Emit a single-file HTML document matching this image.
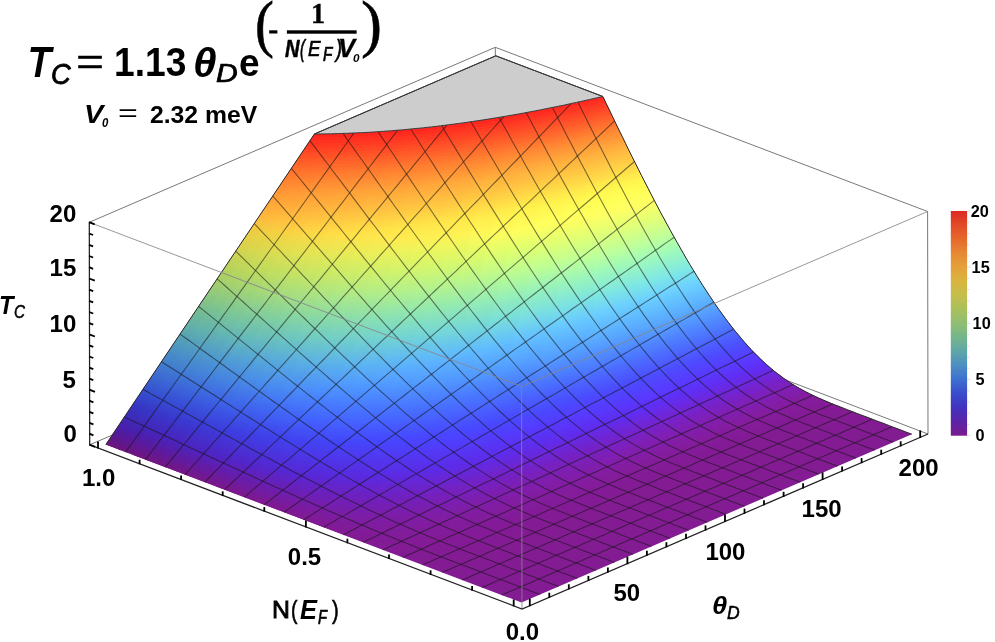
<!DOCTYPE html>
<html><head><meta charset="utf-8"><title>Tc surface</title><style>
html,body{margin:0;padding:0;background:#fff;}
body{width:995px;height:642px;position:relative;overflow:hidden;font-family:"Liberation Sans",sans-serif;color:#000;}
.t{position:absolute;white-space:nowrap;line-height:1;transform-origin:0 0;}
</style></head><body>
<svg width="995" height="642" viewBox="0 0 995 642" style="position:absolute;left:0;top:0">
<g stroke="#6a6a6a" stroke-width="0.9" fill="none">
<line x1="89.7" y1="444.8" x2="495.7" y2="269.8" />
<line x1="928" y1="434" x2="495.7" y2="269.8" />
<line x1="495.7" y1="269.8" x2="495.3" y2="47.3" />
<line x1="89.3" y1="222.3" x2="495.3" y2="47.3" />
<line x1="495.3" y1="47.3" x2="927.6" y2="211.5" />
</g>
<g stroke="none">
<polygon points="105.8,444.6 521.5,602.5 911.9,434.2 908.7,433 905.5,431.8 902.2,430.5 899,429.3 895.8,428.1 892.6,426.9 889.4,425.7 886.2,424.4 883,423.2 879.7,422 876.5,420.8 873.3,419.6 870.1,418.3 866.9,417.1 863.7,415.9 860.5,414.7 857.2,413.5 854,412.2 850.8,411 847.6,409.8 844.4,408.5 841.2,407.3 838,406 834.7,404.8 831.5,403.5 828.3,402.1 825.1,400.8 821.9,399.4 818.7,398 815.5,396.5 812.2,395 809,393.4 805.8,391.8 802.6,390 799.4,388.3 796.2,386.4 792.9,384.4 789.7,382.4 786.5,380.2 783.3,378 780.1,375.6 776.9,373.2 773.6,370.6 770.4,367.9 767.2,365.1 764,362.2 760.8,359.2 757.6,356.1 754.3,352.8 751.1,349.5 747.9,346 744.7,342.4 741.5,338.7 738.3,334.8 735,330.9 731.8,326.8 728.6,322.7 725.4,318.4 722.2,314 718.9,309.5 715.7,304.9 712.5,300.2 709.3,295.4 706.1,290.5 702.8,285.5 699.6,280.4 696.4,275.2 693.2,269.9 689.9,264.6 686.7,259.2 683.5,253.6 680.3,248 677.1,242.4 673.8,236.6 670.6,230.8 667.4,224.9 664.2,219 660.9,213 657.7,206.9 654.5,200.8 651.3,194.6 648.1,188.3 644.8,182 641.6,175.7 638.4,169.3 635.2,162.9 631.9,156.4 628.7,149.9 625.5,143.3 622.3,136.7 619,130.1 615.8,123.4 612.6,116.7 609.4,110 606.1,103.3 602.9,96.5 598.4,97.5 593.9,98.5 589.5,99.5 585.2,100.5 580.9,101.5 576.6,102.4 572.4,103.3 568.3,104.2 564.2,105.1 560.1,105.9 556.1,106.7 552.1,107.5 548.1,108.3 544.3,109.1 540.4,109.9 536.6,110.6 532.8,111.3 529.1,112 525.4,112.7 521.7,113.4 518.1,114.1 514.5,114.7 510.9,115.3 507.4,115.9 503.9,116.5 500.5,117.1 497.1,117.7 493.7,118.2 490.3,118.8 487,119.3 483.7,119.8 480.4,120.3 477.2,120.8 474,121.3 470.8,121.8 467.6,122.2 464.5,122.7 461.4,123.1 458.3,123.5 455.3,123.9 452.2,124.3 449.2,124.7 446.3,125.1 443.3,125.5 440.4,125.8 437.5,126.2 434.6,126.5 431.7,126.9 428.9,127.2 426.1,127.5 423.3,127.8 420.5,128.1 417.7,128.4 415,128.6 412.3,128.9 409.6,129.2 406.9,129.4 404.2,129.7 401.6,129.9 399,130.1 396.4,130.3 393.8,130.6 391.2,130.8 388.6,131 386.1,131.1 383.6,131.3 381.1,131.5 378.6,131.7 376.1,131.8 373.6,132 371.2,132.1 368.8,132.3 366.4,132.4 364,132.5 361.6,132.7 359.2,132.8 356.8,132.9 354.5,133 352.2,133.1 349.9,133.2 347.6,133.3 345.3,133.4 343,133.4 340.7,133.5 338.5,133.6 336.2,133.6 334,133.7 331.8,133.8 329.6,133.8 327.4,133.8 325.2,133.9 323,133.9 320.8,133.9 318.7,134 316.6,134 314.4,134" fill="#831b93"/>
<path fill="#831b94" d="M843.5 408.2L484.9 549.6 509.3 530.3 832.3 403.8zM496.4 546.1L435.6 559.1 442.6 547.7 523.6 525.5zM439.3 559L413 557.1 412.2 549.4 447.7 546.8zM415.3 557.6L395.9 552.8 391.7 546.9 415.1 549.5zM397.8 553.4L380.3 547.8 374.7 542.8 393.9 547.3zM382.2 548.4L365.4 542.5 359.2 538.2 376.7 543.4z"/>
<path fill="#831b93" d="M367.1 543.1L350.6 537.1 344.3 533.3 361 538.8zM352.4 537.7L336 531.7 329.7 528.2 346.1 533.9z"/>
<path fill="#821b93" d="M337.8 532.3L321.4 526.2 315.4 523 331.5 528.8z"/>
<path fill="#821b92" d="M323.2 526.9L306.9 520.7 301.1 517.8 317.1 523.6z"/>
<path fill="#811a92" d="M308.6 521.4L292.4 515.3 287 512.6 302.8 518.4z"/>
<path fill="#801a91" d="M294.1 515.9L277.9 509.8 272.8 507.3 288.7 513.2z"/>
<path fill="#801a90" d="M279.6 510.4L263.4 504.3 258.7 502 274.5 507.9z"/>
<path fill="#7e1a8f" d="M265.1 505L248.9 498.8 244.7 496.7 260.4 502.7zM261.2 503.1L245.3 497.1 242.1 495.1 257.7 500.8z"/>
<path fill="#7d1a8d" d="M250.6 499.5L234.4 493.3 230.6 491.4 246.3 497.4z"/>
<path fill="#7b198b" d="M236.2 494L219.9 487.8 216.5 486.1 232.3 492.1z"/>
<path fill="#7a1989" d="M221.7 488.5L205.5 482.3 202.5 480.8 218.2 486.8z"/>
<path fill="#781987" d="M207.2 483L191 476.8 188.5 475.5 204.2 481.5z"/>
<path fill="#761885" d="M192.7 477.5L176.5 471.3 174.4 470.2 190.1 476.2z"/>
<path fill="#741883" d="M178.2 472L162 465.9 160.4 464.9 176.1 470.9z"/>
<path fill="#721780" d="M163.8 466.5L147.5 460.4 146.4 459.6 162.1 465.6z"/>
<path fill="#70177e" d="M149.3 461L133.1 454.9 132.4 454.3 148.1 460.2z"/>
<path fill="#6d167b" d="M134.8 455.5L118.6 449.4 118.3 449 134 454.9z"/>
<path fill="#6b1679" d="M120.3 450L105.9 444.5 106 444.3 120 449.6z"/>
<path fill="#841b96" d="M834.2 404.5L504.9 533.6 526.8 516.7 824.8 400.7z"/>
<path fill="#831b96" d="M518.8 529L440.9 549.8 450.9 538.3 542.1 511.5z"/>
<path fill="#831b95" d="M445.8 549.1L411.9 550.9 414.8 542.8 456.9 537.1zM414.7 551.1L392.1 548 391.3 541.8 418.2 542.7zM394.3 548.5L375.5 543.8 372.8 538.7 393.8 542.1z"/>
<path fill="#821b95" d="M377.4 544.3L360.1 539 356.4 534.6 374.9 539.1z"/>
<path fill="#821b94" d="M361.9 539.6L345.2 534 341.1 530.1 358.3 535.2zM347 534.6L330.7 528.8 326.4 525.4 342.9 530.7zM332.4 529.4L316.3 523.6 312 520.5 328.2 526z"/>
<path fill="#811b93" d="M318 524.2L302 518.3 297.9 515.5 313.7 521.1z"/>
<path fill="#811b92" d="M303.8 519L287.8 513 283.8 510.4 299.6 516.1z"/>
<path fill="#801a92" d="M289.5 513.7L273.6 507.7 269.9 505.3 285.5 511z"/>
<path fill="#7f1a90" d="M275.3 508.4L259.5 502.4 256 500.2 271.6 505.9z"/>
<path fill="#7c1a8e" d="M247 497.7L231.2 491.8 228.3 489.9 243.8 495.7z"/>
<path fill="#7b198c" d="M232.9 492.4L217.1 486.4 214.5 484.8 230 490.5z"/>
<path fill="#79198a" d="M218.8 487.1L203 481.1 200.8 479.6 216.2 485.4z"/>
<path fill="#771988" d="M204.7 481.8L188.9 475.8 187 474.4 202.4 480.2z"/>
<path fill="#751886" d="M190.6 476.4L174.8 470.4 173.3 469.2 188.7 475z"/>
<path fill="#731883" d="M176.5 471.1L160.7 465.1 159.5 464.1 174.9 469.9z"/>
<path fill="#711781" d="M162.4 465.7L146.6 459.8 145.8 458.9 161.2 464.7z"/>
<path fill="#6f177e" d="M148.3 460.4L132.5 454.4 132.1 453.7 147.4 459.5z"/>
<path fill="#6d167c" d="M134.2 455L118.4 449.1 118.3 448.5 133.7 454.3z"/>
<path fill="#6b167a" d="M120.1 449.7L106 444.4 106.3 443.9 120 449.1z"/>
<path fill="#841c99" d="M826.7 401.5L522.5 520 539.6 506.6 819.3 398.3z"/>
<path fill="#831b98" d="M537.6 514.9L448.7 540.7 458.4 530.7 555.3 501.2z"/>
<path fill="#831b97" d="M454.5 539.5L413.9 544.5 418.2 537.1 465.1 529.1zM417.2 544.5L391.2 543.1 392.3 537.4 422 536.8z"/>
<path fill="#821b97" d="M393.6 543.4L373.1 539.8 372.4 535 395 537.5z"/>
<path fill="#821b96" d="M375.1 540.2L357 535.6 355.2 531.5 374.6 535.4zM358.8 536.1L341.8 531 339.5 527.4 357.2 532z"/>
<path fill="#811b96" d="M343.6 531.5L327.1 526.1 324.5 522.9 341.3 527.9z"/>
<path fill="#811b95" d="M328.9 526.7L312.8 521.1 310 518.2 326.3 523.5z"/>
<path fill="#801b94" d="M314.5 521.7L298.6 516.1 295.9 513.4 311.8 518.8zM300.3 516.7L284.5 511 281.9 508.6 297.6 514z"/>
<path fill="#7f1a93" d="M286.2 511.6L270.6 505.8 268 503.6 283.5 509.1z"/>
<path fill="#7e1a91" d="M272.2 506.5L256.6 500.7 254.2 498.6 269.7 504.2z"/>
<path fill="#7d1a90" d="M258.3 501.3L242.7 495.5 240.5 493.6 255.9 499.2z"/>
<path fill="#7b1a8e" d="M244.4 496.1L228.9 490.3 226.9 488.6 242.2 494.2z"/>
<path fill="#7a198d" d="M230.5 490.9L215 485.1 213.3 483.5 228.5 489.2z"/>
<path fill="#78198b" d="M216.7 485.7L201.2 479.9 199.7 478.5 214.9 484.1z"/>
<path fill="#761989" d="M202.8 480.5L187.3 474.7 186.1 473.4 201.3 479.1z"/>
<path fill="#741886" d="M189 475.3L173.5 469.5 172.5 468.3 187.7 474z"/>
<path fill="#721884" d="M175.2 470.1L159.7 464.3 159 463.3 174.2 469z"/>
<path fill="#701782" d="M161.4 464.9L145.9 459.1 145.5 458.2 160.6 463.9z"/>
<path fill="#6e177f" d="M147.6 459.7L132.1 453.9 131.9 453.1 147.1 458.8z"/>
<path fill="#6c177d" d="M133.8 454.5L118.3 448.6 118.4 448 133.6 453.7z"/>
<path fill="#6a167b" d="M120 449.3L106.2 444.1 106.5 443.5 120.1 448.6z"/>
<path fill="#841c9b" d="M820.9 399L536 509.5 549.9 498.3 814.8 396.2z"/>
<path fill="#831c9a" d="M551.6 504.1L456.2 532.9 465.4 524 565.7 492.8zM462.7 531.4L417.1 538.8 422 531.9 472.5 522.2z"/>
<path fill="#821c99" d="M420.8 538.5L391.9 538.7 394 533.2 426.1 531.5z"/>
<path fill="#821b99" d="M394.6 538.9L372.4 536.1 372.8 531.6 396.9 533.3z"/>
<path fill="#811b98" d="M374.6 536.5L355.5 532.5 354.8 528.6 375.1 531.9zM357.4 532.9L339.9 528.2 338.6 524.8 356.9 529z"/>
<path fill="#811b97" d="M341.7 528.7L325 523.7 323.4 520.6 340.5 525.3z"/>
<path fill="#801b97" d="M326.8 524.2L310.6 518.9 308.8 516.2 325.2 521.1z"/>
<path fill="#7f1b96" d="M312.3 519.5L296.4 514 294.5 511.5 310.5 516.7z"/>
<path fill="#7f1b95" d="M298.1 514.6L282.4 509.1 280.5 506.8 296.2 512.1z"/>
<path fill="#7e1b94" d="M284.1 509.7L268.5 504.1 266.7 502 282.2 507.4z"/>
<path fill="#7d1a93" d="M270.2 504.7L254.7 499.1 253 497.1 268.4 502.6z"/>
<path fill="#7c1a91" d="M256.4 499.7L241 494.1 239.4 492.2 254.7 497.7z"/>
<path fill="#7a1a90" d="M242.6 494.7L227.3 489 225.9 487.3 241 492.8z"/>
<path fill="#791a8e" d="M228.9 489.6L213.6 483.9 212.4 482.4 227.5 487.9z"/>
<path fill="#77198c" d="M215.2 484.5L200 478.8 198.9 477.4 214 483z"/>
<path fill="#75198a" d="M201.6 479.4L186.3 473.7 185.5 472.4 200.5 478z"/>
<path fill="#731888" d="M188 474.3L172.7 468.6 172.1 467.4 187.1 473z"/>
<path fill="#711885" d="M174.4 469.2L159.1 463.5 158.7 462.4 173.7 468z"/>
<path fill="#6f1883" d="M160.8 464.1L145.5 458.4 145.3 457.4 160.3 463z"/>
<path fill="#6d1781" d="M147.2 459L132 453.3 132 452.4 146.9 458z"/>
<path fill="#6b177e" d="M133.6 453.9L118.4 448.2 118.6 447.4 133.6 453z"/>
<path fill="#69167c" d="M120 448.8L106.5 443.7 106.9 443 120.2 448z"/>
<path fill="#841c9e" d="M816.2 396.8L546.8 500.8 558.4 491.2 810.8 394.3z"/>
<path fill="#831c9d" d="M562.6 495.3L463.2 526.1 471.7 517.9 574.2 485.7z"/>
<path fill="#821c9c" d="M470.2 524.3L420.8 533.6 425.8 527.1 479.2 516z"/>
<path fill="#811c9b" d="M424.8 533.1L393.4 534.5 396.1 529.3 430.2 526.5zM396.3 534.6L372.6 532.7 373.7 528.3 399.1 529.2z"/>
<path fill="#811c9a" d="M374.9 533L354.9 529.5 354.9 525.7 376.1 528.5z"/>
<path fill="#801c9a" d="M356.9 529.9L338.8 525.6 338.3 522.3 357.1 526.1z"/>
<path fill="#801b99" d="M340.7 526.1L323.7 521.3 322.7 518.4 340.2 522.7z"/>
<path fill="#7f1b99" d="M325.5 521.9L309.1 516.8 307.9 514.1 324.6 518.9z"/>
<path fill="#7e1b98" d="M310.8 517.4L294.9 512.1 293.6 509.7 309.7 514.6z"/>
<path fill="#7e1b97" d="M296.6 512.7L280.9 507.4 279.6 505.1 295.3 510.2z"/>
<path fill="#7d1b96" d="M282.6 507.9L267.1 502.5 265.8 500.4 281.3 505.6z"/>
<path fill="#7c1b94" d="M268.7 503.1L253.4 497.6 252.1 495.7 267.4 501z"/>
<path fill="#7a1a93" d="M255 498.2L239.7 492.7 238.6 490.9 253.8 496.2z"/>
<path fill="#791a91" d="M241.4 493.3L226.2 487.7 225.1 486 240.2 491.4z"/>
<path fill="#771a8f" d="M227.8 488.3L212.6 482.7 211.7 481.2 226.7 486.6z"/>
<path fill="#76198d" d="M214.2 483.3L199.1 477.7 198.4 476.3 213.3 481.8z"/>
<path fill="#74198b" d="M200.7 478.3L185.7 472.7 185.1 471.4 200 476.9z"/>
<path fill="#721989" d="M187.3 473.3L172.2 467.7 171.8 466.5 186.7 472z"/>
<path fill="#701887" d="M173.8 468.3L158.8 462.7 158.5 461.6 173.4 467.1z"/>
<path fill="#6e1884" d="M160.4 463.3L145.4 457.7 145.3 456.7 160.1 462.2z"/>
<path fill="#6c1782" d="M147 458.3L132 452.6 132.1 451.7 146.9 457.3z"/>
<path fill="#6a1780" d="M133.6 453.3L118.6 447.6 118.9 446.8 133.7 452.3z"/>
<path fill="#68167d" d="M120.2 448.2L106.8 443.2 107.3 442.5 120.5 447.4z"/>
<path fill="#841da2" d="M812 394.9L555.8 493.4 565.7 484.8 807.2 392.5z"/>
<path fill="#821da0" d="M571.6 487.9L469.7 519.8 477.6 512.3 581.4 479.3z"/>
<path fill="#811c9f" d="M477.1 517.9L424.6 528.6 429.6 522.5 485.3 510.2z"/>
<path fill="#811c9e" d="M428.9 528.1L395.4 530.5 398.3 525.5 434.2 521.8z"/>
<path fill="#801c9d" d="M398.4 530.5L373.3 529.4 374.8 525.1 401.6 525.3zM375.7 529.6L354.9 526.7 355.4 522.9 377.4 525.2z"/>
<path fill="#7f1c9c" d="M357 527L338.3 523.1 338.3 519.8 357.6 523.3zM340.2 523.6L322.9 519.1 322.4 516.1 340.2 520.2z"/>
<path fill="#7e1c9b" d="M324.7 519.6L308.2 514.8 307.5 512.1 324.3 516.6z"/>
<path fill="#7d1b9a" d="M309.9 515.3L293.9 510.3 293 507.8 309.2 512.6z"/>
<path fill="#7c1b99" d="M295.6 510.8L279.9 505.6 278.9 503.4 294.7 508.3z"/>
<path fill="#7b1b98" d="M281.5 506.2L266 500.9 265.1 498.8 280.6 503.9z"/>
<path fill="#7a1b96" d="M267.7 501.5L252.4 496.1 251.5 494.2 266.8 499.4z"/>
<path fill="#791b95" d="M254 496.7L238.8 491.3 238 489.5 253.1 494.7z"/>
<path fill="#781a93" d="M240.4 491.9L225.3 486.4 224.6 484.8 239.6 490.1z"/>
<path fill="#761a91" d="M226.9 487L211.9 481.6 211.3 480 226.2 485.3z"/>
<path fill="#741a8f" d="M213.5 482.2L198.5 476.7 198 475.2 212.9 480.6z"/>
<path fill="#73198d" d="M200.1 477.3L185.2 471.7 184.8 470.4 199.6 475.8z"/>
<path fill="#71198b" d="M186.8 472.3L171.9 466.8 171.6 465.6 186.4 471z"/>
<path fill="#6f1888" d="M173.5 467.4L158.6 461.9 158.5 460.7 173.2 466.1z"/>
<path fill="#6d1886" d="M160.2 462.5L145.3 456.9 145.4 455.9 160.1 461.3z"/>
<path fill="#6b1784" d="M146.9 457.5L132 452 132.3 451 146.9 456.4z"/>
<path fill="#691781" d="M133.6 452.6L118.8 447 119.2 446.1 133.8 451.6z"/>
<path fill="#67177f" d="M120.4 447.6L107.1 442.6 107.7 441.8 120.7 446.7z"/>
<path fill="#831da5" d="M808.4 393.1L563.4 486.8 572.1 479.1 804 390.8z"/>
<path fill="#821da3" d="M579.2 481.3L475.7 514.1 483.1 507.1 587.7 473.6z"/>
<path fill="#811da2" d="M483.4 512.1L428.4 524 433.4 518.1 491 504.9z"/>
<path fill="#801da1" d="M432.9 523.3L397.6 526.7 400.7 521.8 438.2 517.3z"/>
<path fill="#7f1ca0" d="M400.7 526.6L374.4 526.1 376.3 521.9 404.1 521.6z"/>
<path fill="#7e1ca0" d="M376.9 526.3L355.2 523.9 356.2 520.2 378.9 522z"/>
<path fill="#7e1c9f" d="M357.4 524.2L338.2 520.6 338.5 517.4 358.4 520.5z"/>
<path fill="#7d1c9e" d="M340.2 521.1L322.5 516.9 322.4 513.9 340.6 517.7z"/>
<path fill="#7d1c9d" d="M324.3 517.3L307.6 512.8 307.2 510.1 324.3 514.4z"/>
<path fill="#7c1c9c" d="M309.3 513.3L293.2 508.4 292.7 506 309 510.6z"/>
<path fill="#7b1c9b" d="M294.9 508.9L279.1 503.9 278.5 501.7 294.4 506.5z"/>
<path fill="#7a1b9a" d="M280.8 504.5L265.3 499.3 264.7 497.2 280.2 502.2z"/>
<path fill="#791b98" d="M267 499.9L251.7 494.7 251.1 492.7 266.3 497.8z"/>
<path fill="#781b97" d="M253.3 495.2L238.2 489.9 237.6 488.1 252.7 493.2z"/>
<path fill="#761a95" d="M239.8 490.5L224.7 485.2 224.2 483.5 239.2 488.7z"/>
<path fill="#751a93" d="M226.4 485.8L211.4 480.4 211 478.8 225.8 484z"/>
<path fill="#731a91" d="M213 481L198.1 475.6 197.8 474.1 212.6 479.3z"/>
<path fill="#71198f" d="M199.7 476.1L184.9 470.7 184.6 469.3 199.4 474.6z"/>
<path fill="#6f198c" d="M186.5 471.3L171.7 465.9 171.6 464.6 186.2 469.9z"/>
<path fill="#6e198a" d="M173.2 466.5L158.5 461 158.5 459.8 173.1 465.1z"/>
<path fill="#6c1888" d="M160.1 461.6L145.3 456.1 145.5 455 160.1 460.4z"/>
<path fill="#6a1885" d="M146.9 456.7L132.2 451.2 132.5 450.2 147.1 455.6z"/>
<path fill="#681783" d="M133.8 451.8L119.1 446.4 119.5 445.4 134.1 450.8z"/>
<path fill="#661781" d="M120.6 446.9L107.5 442 108.1 441.2 121.1 446z"/>
<path fill="#821ea9" d="M805 391.4L570.1 480.9 577.7 473.8 800.9 389.1z"/>
<path fill="#811da7" d="M585.7 475.5L481.3 508.8 488.2 502.1 593.1 468.4z"/>
<path fill="#801da5" d="M489.2 506.6L432.2 519.5 437.1 513.8 496.3 499.9z"/>
<path fill="#7f1da4" d="M436.9 518.7L399.9 523 403.2 518.2 442.1 512.9z"/>
<path fill="#7e1da3" d="M403.2 522.8L375.8 523 377.8 518.8 406.7 517.9z"/>
<path fill="#7d1da2" d="M378.4 523.1L355.9 521.1 357.1 517.4 380.6 518.9zM358.1 521.4L338.4 518.2 339 514.9 359.4 517.7z"/>
<path fill="#7c1ca1" d="M340.4 518.6L322.4 514.7 322.6 511.7 341.1 515.3z"/>
<path fill="#7b1ca0" d="M324.3 515.1L307.3 510.7 307.2 508.1 324.5 512.1z"/>
<path fill="#7a1c9f" d="M309.1 511.2L292.8 506.6 292.5 504.1 309 508.5z"/>
<path fill="#791c9d" d="M294.5 507.1L278.6 502.2 278.3 499.9 294.3 504.6z"/>
<path fill="#781c9c" d="M280.3 502.8L264.8 497.8 264.4 495.6 280 500.4z"/>
<path fill="#771b9b" d="M266.5 498.3L251.2 493.2 250.8 491.2 266.1 496.1z"/>
<path fill="#761b99" d="M252.8 493.7L237.7 488.6 237.3 486.7 252.4 491.7z"/>
<path fill="#751b97" d="M239.3 489.1L224.3 483.9 224 482.1 238.9 487.2z"/>
<path fill="#731a95" d="M225.9 484.5L211.1 479.2 210.8 477.5 225.6 482.7z"/>
<path fill="#711a93" d="M212.6 479.8L197.8 474.4 197.7 472.9 212.4 478.1z"/>
<path fill="#701a91" d="M199.4 475L184.7 469.7 184.6 468.2 199.2 473.5z"/>
<path fill="#6e198e" d="M186.3 470.3L171.6 464.9 171.6 463.6 186.2 468.8z"/>
<path fill="#6c198c" d="M173.1 465.5L158.5 460.1 158.6 458.8 173.1 464.1z"/>
<path fill="#6a188a" d="M160.1 460.7L145.4 455.3 145.7 454.1 160.2 459.4z"/>
<path fill="#681887" d="M147 455.9L132.4 450.5 132.8 449.4 147.2 454.7z"/>
<path fill="#661785" d="M134 451.1L119.4 445.7 119.9 444.6 134.3 450z"/>
<path fill="#651782" d="M121 446.2L108 441.4 108.6 440.5 121.5 445.2z"/>
<path fill="#811ead" d="M801.9 389.7L575.9 475.5 582.7 468.9 798.1 387.5z"/>
<path fill="#801eab" d="M591.4 470.1L486.5 503.7 493 497.4 598 463.6z"/>
<path fill="#7f1ea9" d="M494.6 501.5L435.9 515.2 440.7 509.8 501.2 495.1z"/>
<path fill="#7e1da8" d="M440.8 514.4L402.4 519.4 405.7 514.6 445.8 508.8z"/>
<path fill="#7d1da6" d="M405.8 519.1L377.3 519.8 379.5 515.7 409.3 514.3z"/>
<path fill="#7c1da5" d="M380 519.9L356.8 518.4 358.2 514.7 382.4 515.7z"/>
<path fill="#7b1da5" d="M359.1 518.6L338.9 515.7 339.7 512.5 360.6 514.9z"/>
<path fill="#7a1da4" d="M340.9 516.1L322.5 512.5 323 509.5 341.8 512.8z"/>
<path fill="#7a1da2" d="M324.4 512.9L307.2 508.7 307.4 506 324.9 509.9z"/>
<path fill="#791ca1" d="M309 509.2L292.5 504.7 292.5 502.2 309.2 506.5z"/>
<path fill="#781ca0" d="M294.3 505.2L278.4 500.5 278.2 498.2 294.3 502.7z"/>
<path fill="#771c9f" d="M280 501L264.5 496.2 264.3 494 279.9 498.7z"/>
<path fill="#761c9d" d="M266.1 496.7L250.9 491.7 250.6 489.7 265.9 494.5z"/>
<path fill="#741b9b" d="M252.5 492.2L237.4 487.2 237.2 485.3 252.3 490.2z"/>
<path fill="#731b99" d="M239 487.7L224.1 482.6 223.9 480.8 238.8 485.8z"/>
<path fill="#711b97" d="M225.7 483.1L210.8 478 210.7 476.3 225.5 481.3z"/>
<path fill="#701a95" d="M212.4 478.5L197.7 473.3 197.6 471.7 212.3 476.8z"/>
<path fill="#6e1a93" d="M199.3 473.9L184.6 468.6 184.6 467.1 199.2 472.3z"/>
<path fill="#6c1991" d="M186.2 469.2L171.6 463.9 171.7 462.5 186.2 467.7z"/>
<path fill="#6a198e" d="M173.1 464.5L158.6 459.2 158.8 457.9 173.2 463.1z"/>
<path fill="#69198c" d="M160.1 459.7L145.6 454.4 145.9 453.2 160.3 458.4z"/>
<path fill="#671889" d="M147.2 455L132.7 449.7 133.1 448.5 147.5 453.8z"/>
<path fill="#651887" d="M134.2 450.2L119.8 444.9 120.3 443.8 134.7 449.1z"/>
<path fill="#631784" d="M121.3 445.5L108.4 440.7 109.1 439.7 121.9 444.4z"/>
<path fill="#801fb1" d="M799 388.1L581.1 470.5 587.3 464.4 795.4 386z"/>
<path fill="#7f1eae" d="M596.4 465.2L491.4 499 497.5 492.9 602.3 459.1z"/>
<path fill="#7d1ead" d="M499.6 496.7L439.5 511.1 444.2 505.8 505.8 490.6z"/>
<path fill="#7c1eab" d="M444.6 510.2L404.9 515.8 408.3 511.2 449.5 504.7z"/>
<path fill="#7b1eaa" d="M408.5 515.5L379 516.8 381.3 512.7 412 510.8z"/>
<path fill="#7a1da9" d="M381.8 516.8L357.8 515.6 359.4 512 384.2 512.6z"/>
<path fill="#7a1da8" d="M360.2 515.8L339.5 513.3 340.5 510.1 361.9 512.2z"/>
<path fill="#791da7" d="M341.6 513.6L322.8 510.3 323.5 507.3 342.7 510.3z"/>
<path fill="#781da5" d="M324.8 510.7L307.3 506.7 307.7 504 325.4 507.7z"/>
<path fill="#771da4" d="M309.1 507.2L292.5 502.9 292.7 500.3 309.5 504.4z"/>
<path fill="#761ca3" d="M294.3 503.3L278.2 498.8 278.3 496.4 294.4 500.8z"/>
<path fill="#751ca1" d="M279.9 499.3L264.3 494.5 264.3 492.4 280 496.9z"/>
<path fill="#741ca0" d="M266 495.1L250.7 490.2 250.6 488.1 266 492.9z"/>
<path fill="#731c9e" d="M252.3 490.7L237.2 485.8 237.2 483.8 252.2 488.7z"/>
<path fill="#711b9c" d="M238.8 486.3L223.9 481.3 223.9 479.4 238.8 484.4z"/>
<path fill="#701b9a" d="M225.5 481.8L210.7 476.7 210.7 475 225.5 480z"/>
<path fill="#6e1a98" d="M212.3 477.3L197.6 472.1 197.7 470.5 212.3 475.5z"/>
<path fill="#6c1a95" d="M199.2 472.7L184.6 467.5 184.7 466 199.3 471.1z"/>
<path fill="#6b1a93" d="M186.2 468.1L171.7 462.9 171.9 461.4 186.3 466.5z"/>
<path fill="#691990" d="M173.2 463.4L158.7 458.2 159 456.8 173.4 462z"/>
<path fill="#67198e" d="M160.3 458.8L145.9 453.5 146.3 452.2 160.6 457.4z"/>
<path fill="#65188b" d="M147.4 454.1L133 448.8 133.5 447.6 147.8 452.8z"/>
<path fill="#631889" d="M134.5 449.4L120.2 444.1 120.8 443 135 448.2z"/>
<path fill="#621887" d="M121.7 444.7L108.9 440 109.6 438.9 122.3 443.6z"/>
<path fill="#7f1fb5" d="M796.3 386.5L585.8 465.9 591.3 460 792.9 384.4z"/>
<path fill="#7d1fb2" d="M600.9 460.6L496 494.4 501.7 488.6 606.1 454.9z"/>
<path fill="#7c1fb0" d="M504.3 492.1L443.1 507.1 447.7 501.9 510.1 486.2z"/>
<path fill="#7b1eaf" d="M448.3 506.1L407.4 512.3 410.8 507.8 453 500.8z"/>
<path fill="#7a1ead" d="M411.1 512L380.7 513.7 383.2 509.7 414.7 507.3z"/>
<path fill="#791eac" d="M383.6 513.7L359 512.9 360.7 509.3 386.2 509.6z"/>
<path fill="#781eab" d="M361.4 513.1L340.2 510.9 341.4 507.6 363.2 509.5z"/>
<path fill="#771eaa" d="M342.4 511.2L323.3 508 324.1 505.1 343.6 507.9z"/>
<path fill="#761da9" d="M325.2 508.4L307.5 504.7 308.1 501.9 326.1 505.4z"/>
<path fill="#751da7" d="M309.4 505.1L292.6 501 292.9 498.4 309.9 502.3z"/>
<path fill="#741da6" d="M294.4 501.4L278.2 497 278.4 494.7 294.7 498.9z"/>
<path fill="#731da4" d="M279.9 497.5L264.3 492.9 264.4 490.7 280.2 495.1z"/>
<path fill="#721ca2" d="M265.9 493.4L250.6 488.7 250.7 486.6 266.1 491.2z"/>
<path fill="#711ca1" d="M252.2 489.2L237.2 484.3 237.2 482.4 252.3 487.1z"/>
<path fill="#6f1c9e" d="M238.8 484.8L223.9 479.9 224 478.1 238.8 482.9z"/>
<path fill="#6e1b9c" d="M225.5 480.4L210.7 475.4 210.8 473.7 225.5 478.6z"/>
<path fill="#6c1b9a" d="M212.3 476L197.7 470.9 197.8 469.3 212.4 474.2z"/>
<path fill="#6b1a98" d="M199.2 471.5L184.7 466.4 184.9 464.8 199.4 469.8z"/>
<path fill="#691a95" d="M186.3 466.9L171.8 461.8 172.1 460.3 186.5 465.3z"/>
<path fill="#671a93" d="M173.3 462.3L159 457.2 159.3 455.8 173.6 460.9z"/>
<path fill="#651990" d="M160.5 457.7L146.1 452.6 146.6 451.3 160.9 456.3z"/>
<path fill="#64198e" d="M147.7 453.1L133.4 447.9 133.9 446.7 148.1 451.8z"/>
<path fill="#62188b" d="M134.9 448.5L120.6 443.3 121.3 442.1 135.5 447.2z"/>
<path fill="#601889" d="M122.2 443.8L109.5 439.2 110.2 438.1 122.8 442.7z"/>
<path fill="#7e20b9" d="M793.7 384.9L590 461.5 595 456 790.5 382.9z"/>
<path fill="#7c20b6" d="M604.9 456.3L500.3 490.1 505.7 484.5 609.6 450.9z"/>
<path fill="#7a1fb4" d="M508.7 487.7L446.5 503.2 451 498.2 514.1 482.1z"/>
<path fill="#791fb3" d="M451.8 502.1L410 508.9 413.4 504.4 456.4 497z"/>
<path fill="#781fb1" d="M413.8 508.5L382.5 510.7 385.1 506.7 417.3 503.9z"/>
<path fill="#771eb0" d="M385.5 510.6L360.3 510.2 362.1 506.6 388.1 506.6z"/>
<path fill="#761eae" d="M362.7 510.4L341.1 508.5 342.4 505.2 364.7 506.7z"/>
<path fill="#751ead" d="M343.3 508.7L323.9 505.8 324.8 502.8 344.7 505.4z"/>
<path fill="#751eac" d="M325.9 506.2L307.9 502.6 308.6 499.9 326.8 503.2z"/>
<path fill="#741daa" d="M309.8 503L292.8 499.1 293.3 496.5 310.5 500.3z"/>
<path fill="#731da9" d="M294.6 499.5L278.4 495.3 278.7 492.9 295.1 496.9z"/>
<path fill="#711da7" d="M280.1 495.7L264.4 491.3 264.6 489 280.4 493.3z"/>
<path fill="#701da5" d="M266 491.8L250.7 487.1 250.9 485 266.3 489.5z"/>
<path fill="#6f1ca3" d="M252.3 487.6L237.2 482.9 237.4 480.9 252.5 485.5z"/>
<path fill="#6d1ca1" d="M238.8 483.4L223.9 478.5 224.1 476.6 239 481.4z"/>
<path fill="#6c1b9f" d="M225.5 479.1L210.8 474.1 211 472.3 225.7 477.2z"/>
<path fill="#6a1b9d" d="M212.4 474.7L197.8 469.7 198 468 212.6 472.9z"/>
<path fill="#691b9a" d="M199.3 470.2L184.9 465.2 185.2 463.6 199.6 468.5z"/>
<path fill="#671a98" d="M186.4 465.7L172 460.7 172.4 459.2 186.7 464.1z"/>
<path fill="#651a95" d="M173.5 461.2L159.2 456.2 159.7 454.7 173.9 459.7z"/>
<path fill="#641993" d="M160.8 456.7L146.5 451.6 147 450.2 161.2 455.2z"/>
<path fill="#621990" d="M148 452.1L133.8 447 134.4 445.7 148.5 450.8z"/>
<path fill="#60188e" d="M135.3 447.6L121.1 442.4 121.8 441.2 135.9 446.3z"/>
<path fill="#5e188b" d="M122.6 443L110 438.4 110.8 437.2 123.3 441.7z"/>
<path fill="#7c21bd" d="M791.3 383.4L593.8 457.3 598.4 452 788.1 381.3z"/>
<path fill="#7a20bb" d="M608.5 452.2L504.4 485.9 509.5 480.5 612.8 447z"/>
<path fill="#7920b8" d="M512.8 483.5L449.9 499.4 454.2 494.5 518 478.1z"/>
<path fill="#771fb7" d="M455.3 498.3L412.5 505.6 415.9 501.1 459.7 493.3z"/>
<path fill="#761fb5" d="M416.4 505.1L384.4 507.7 387 503.7 419.9 500.6z"/>
<path fill="#751fb3" d="M387.5 507.6L361.6 507.6 363.6 504 390.1 503.6z"/>
<path fill="#741fb2" d="M364.2 507.7L342.1 506 343.5 502.7 366.2 504z"/>
<path fill="#741eb1" d="M344.3 506.3L324.6 503.6 325.6 500.6 345.8 502.9z"/>
<path fill="#731eaf" d="M326.6 503.9L308.4 500.6 309.2 497.8 327.7 500.9z"/>
<path fill="#721eae" d="M310.3 501L293.2 497.2 293.8 494.6 311.1 498.2z"/>
<path fill="#711eac" d="M295 497.6L278.6 493.5 279.1 491.1 295.6 495z"/>
<path fill="#6f1daa" d="M280.3 493.9L264.5 489.6 264.9 487.3 280.8 491.5z"/>
<path fill="#6e1da8" d="M266.2 490.1L250.8 485.5 251.1 483.4 266.6 487.8z"/>
<path fill="#6d1da6" d="M252.4 486L237.3 481.4 237.6 479.3 252.7 483.9z"/>
<path fill="#6b1ca4" d="M238.9 481.9L224.1 477.1 224.3 475.2 239.2 479.8z"/>
<path fill="#6a1ca2" d="M225.6 477.6L210.9 472.8 211.2 471 225.9 475.7z"/>
<path fill="#681ba0" d="M212.5 473.3L198 468.4 198.3 466.7 212.8 471.5z"/>
<path fill="#671b9d" d="M199.5 469L185.1 464 185.5 462.4 199.8 467.2z"/>
<path fill="#651b9b" d="M186.6 464.5L172.3 459.6 172.7 458 187 462.9z"/>
<path fill="#631a98" d="M173.8 460.1L159.5 455.1 160 453.6 174.2 458.5z"/>
<path fill="#621a95" d="M161.1 455.6L146.9 450.6 147.4 449.2 161.6 454.1z"/>
<path fill="#601993" d="M148.4 451.1L134.2 446.1 134.9 444.7 148.9 449.7z"/>
<path fill="#5e1990" d="M135.7 446.6L121.6 441.5 122.4 440.2 136.4 445.2z"/>
<path fill="#5d188e" d="M123.1 442.1L110.6 437.5 111.4 436.3 123.9 440.8z"/>
<path fill="#7a21c2" d="M788.9 381.8L597.3 453.4 601.5 448.3 785.9 379.8z"/>
<path fill="#7821bf" d="M611.7 448.3L508.3 481.8 513.1 476.6 615.7 443.4z"/>
<path fill="#7720bd" d="M516.7 479.4L453.1 495.7 457.3 490.9 521.6 474.2z"/>
<path fill="#7620bb" d="M458.6 494.5L415.1 502.2 418.5 497.9 462.9 489.6z"/>
<path fill="#7420b9" d="M419 501.7L386.3 504.7 389 500.8 422.5 497.3z"/>
<path fill="#731fb7" d="M389.5 504.6L363.1 504.9 365.1 501.3 392.2 500.6z"/>
<path fill="#721fb6" d="M365.7 504.9L343.1 503.6 344.7 500.3 367.7 501.3z"/>
<path fill="#721fb4" d="M345.4 503.8L325.3 501.4 326.5 498.3 347 500.5z"/>
<path fill="#711fb3" d="M327.4 501.7L309 498.5 309.9 495.7 328.6 498.6z"/>
<path fill="#701eb1" d="M310.9 498.9L293.6 495.2 294.3 492.6 311.8 496z"/>
<path fill="#6e1eaf" d="M295.4 495.7L278.9 491.7 279.5 489.2 296.1 493z"/>
<path fill="#6d1eae" d="M280.7 492.1L264.8 487.9 265.3 485.6 281.3 489.6z"/>
<path fill="#6c1dac" d="M266.5 488.4L251 483.9 251.4 481.8 266.9 486z"/>
<path fill="#6b1da9" d="M252.6 484.4L237.5 479.9 237.9 477.8 253.1 482.2z"/>
<path fill="#691da7" d="M239.1 480.4L224.3 475.7 224.6 473.7 239.5 478.3z"/>
<path fill="#681ca5" d="M225.8 476.2L211.2 471.4 211.5 469.6 226.2 474.2z"/>
<path fill="#661ca2" d="M212.7 472L198.2 467.1 198.6 465.4 213.1 470.1z"/>
<path fill="#651ba0" d="M199.7 467.7L185.3 462.8 185.8 461.1 200.1 465.9z"/>
<path fill="#631b9d" d="M186.9 463.3L172.6 458.4 173.1 456.8 187.3 461.6z"/>
<path fill="#611a9b" d="M174.1 458.9L159.9 454 160.5 452.5 174.6 457.3z"/>
<path fill="#601a98" d="M161.4 454.5L147.3 449.5 147.9 448.1 162 453z"/>
<path fill="#5e1a95" d="M148.8 450.1L134.7 445.1 135.4 443.7 149.4 448.6z"/>
<path fill="#5c1993" d="M136.2 445.6L122.2 440.6 123 439.3 136.9 444.2z"/>
<path fill="#5b1990" d="M123.7 441.1L111.2 436.6 112 435.3 124.4 439.8z"/>
<path fill="#7822c6" d="M786.7 380.3L600.5 449.6 604.4 444.7 783.7 378.3z"/>
<path fill="#7621c3" d="M614.7 444.6L511.9 477.9 516.5 472.9 618.3 439.9z"/>
<path fill="#7521c1" d="M520.4 475.5L456.3 492.1 460.4 487.3 525 470.4z"/>
<path fill="#7420bf" d="M461.9 490.9L417.6 499 421 494.6 466 486.1z"/>
<path fill="#7220bd" d="M421.6 498.4L388.3 501.8 391 497.8 425.1 494z"/>
<path fill="#7120bb" d="M391.5 501.6L364.6 502.2 366.6 498.6 394.2 497.6z"/>
<path fill="#7020ba" d="M367.2 502.2L344.3 501.1 345.9 497.8 369.3 498.6z"/>
<path fill="#6f1fb8" d="M346.6 501.3L326.2 499.1 327.5 496.1 348.2 498z"/>
<path fill="#6e1fb6" d="M328.3 499.4L309.6 496.4 310.6 493.6 329.6 496.3z"/>
<path fill="#6d1fb5" d="M311.6 496.8L294.1 493.3 294.9 490.7 312.6 493.9z"/>
<path fill="#6c1eb3" d="M295.9 493.7L279.4 489.9 280 487.4 296.8 491z"/>
<path fill="#6b1eb1" d="M281.1 490.3L265.1 486.2 265.7 483.8 281.8 487.8z"/>
<path fill="#6a1eaf" d="M266.8 486.6L251.3 482.3 251.8 480.1 267.4 484.3z"/>
<path fill="#691dad" d="M252.9 482.8L237.8 478.3 238.3 476.2 253.5 480.6z"/>
<path fill="#671daa" d="M239.4 478.8L224.5 474.2 225 472.2 239.9 476.7z"/>
<path fill="#661da8" d="M226.1 474.7L211.4 470.1 211.9 468.2 226.6 472.7z"/>
<path fill="#641ca5" d="M213 470.6L198.5 465.8 199 464 213.4 468.7z"/>
<path fill="#631ca3" d="M200 466.3L185.7 461.5 186.2 459.8 200.5 464.5z"/>
<path fill="#611ba0" d="M187.2 462.1L173 457.2 173.5 455.6 187.7 460.3z"/>
<path fill="#5f1b9e" d="M174.5 457.7L160.3 452.8 160.9 451.3 175 456.1z"/>
<path fill="#5e1a9b" d="M161.8 453.4L147.7 448.5 148.4 447 162.4 451.8z"/>
<path fill="#5c1a98" d="M149.2 449L135.2 444 136 442.6 149.9 447.5z"/>
<path fill="#5b1996" d="M136.7 444.6L122.8 439.6 123.6 438.2 137.4 443.1z"/>
<path fill="#591993" d="M124.2 440.1L111.8 435.7 112.7 434.4 125 438.8z"/>
<path fill="#7623cb" d="M784.5 378.8L603.4 445.9 607 441.2 781.6 376.8z"/>
<path fill="#7422c8" d="M617.4 441L515.4 474.1 519.8 469.2 620.7 436.5z"/>
<path fill="#7322c5" d="M523.8 471.7L459.4 488.5 463.4 483.9 528.2 466.7z"/>
<path fill="#7222c3" d="M465 487.3L420.1 495.7 423.4 491.4 469.1 482.6z"/>
<path fill="#7021c1" d="M424.2 495.1L390.3 498.8 393 494.9 427.6 490.8z"/>
<path fill="#6f21bf" d="M393.5 498.6L366.1 499.5 368.2 495.9 396.3 494.7z"/>
<path fill="#6e21bd" d="M368.8 499.5L345.5 498.7 347.2 495.4 371 495.9z"/>
<path fill="#6d20bc" d="M347.8 498.8L327.1 496.8 328.5 493.8 349.5 495.5z"/>
<path fill="#6c20ba" d="M329.2 497.1L310.4 494.3 311.5 491.5 330.6 494z"/>
<path fill="#6b20b8" d="M312.3 494.6L294.7 491.3 295.6 488.7 313.4 491.8z"/>
<path fill="#6a1fb6" d="M296.6 491.7L279.8 488 280.6 485.5 297.5 489z"/>
<path fill="#691fb4" d="M281.6 488.4L265.5 484.4 266.2 482.1 282.4 485.9z"/>
<path fill="#681fb2" d="M267.2 484.9L251.7 480.7 252.2 478.4 267.9 482.5z"/>
<path fill="#661eb0" d="M253.3 481.1L238.1 476.8 238.7 474.6 253.9 478.9z"/>
<path fill="#651ead" d="M239.7 477.2L224.8 472.8 225.4 470.7 240.3 475.1z"/>
<path fill="#641dab" d="M226.4 473.2L211.8 468.7 212.3 466.7 226.9 471.2z"/>
<path fill="#621da8" d="M213.3 469.1L198.8 464.5 199.4 462.6 213.8 467.2z"/>
<path fill="#611da6" d="M200.4 465L186 460.3 186.6 458.5 200.9 463.1z"/>
<path fill="#5f1ca3" d="M187.6 460.8L173.4 456 174 454.3 188.1 459z"/>
<path fill="#5d1ca0" d="M174.9 456.5L160.8 451.7 161.4 450.1 175.5 454.8z"/>
<path fill="#5c1b9e" d="M162.3 452.2L148.2 447.3 148.9 445.8 162.9 450.6z"/>
<path fill="#5a1b9b" d="M149.7 447.9L135.8 443 136.5 441.5 150.4 446.3z"/>
<path fill="#591a98" d="M137.3 443.5L123.3 438.6 124.2 437.2 138 442z"/>
<path fill="#571a95" d="M124.8 439.1L112.5 434.7 113.4 433.4 125.7 437.7z"/>
<path fill="#7424cf" d="M782.3 377.3L606.1 442.4 609.4 437.9 779.6 375.3z"/>
<path fill="#7224cc" d="M619.9 437.6L518.7 470.4 522.9 465.6 623 433.2z"/>
<path fill="#7123c9" d="M527.1 467.9L462.3 485 466.2 480.4 531.3 463.1z"/>
<path fill="#7023c7" d="M468 483.8L422.6 492.5 425.9 488.3 472 479.1z"/>
<path fill="#6e22c5" d="M426.8 491.9L392.3 495.9 395 492 430.1 487.6z"/>
<path fill="#6d22c3" d="M395.6 495.7L367.7 496.8 369.9 493.3 398.3 491.7z"/>
<path fill="#6c22c1" d="M370.4 496.8L346.7 496.2 348.5 492.9 372.6 493.2z"/>
<path fill="#6b21bf" d="M349.1 496.4L328.1 494.6 329.6 491.5 350.9 493z"/>
<path fill="#6a21be" d="M330.3 494.8L311.2 492.2 312.4 489.3 331.7 491.7z"/>
<path fill="#6921bc" d="M313.1 492.5L295.4 489.3 296.3 486.6 314.3 489.6z"/>
<path fill="#6820ba" d="M297.2 489.7L280.4 486.1 281.2 483.6 298.2 487z"/>
<path fill="#6720b8" d="M282.2 486.5L266 482.7 266.7 480.3 283 484z"/>
<path fill="#6620b5" d="M267.7 483.1L252.1 479 252.7 476.7 268.4 480.7z"/>
<path fill="#641fb3" d="M253.7 479.4L238.5 475.2 239.1 473 254.4 477.1z"/>
<path fill="#631fb1" d="M240.1 475.6L225.2 471.2 225.8 469.2 240.7 473.5z"/>
<path fill="#611eae" d="M226.8 471.7L212.1 467.2 212.7 465.2 227.4 469.6z"/>
<path fill="#601eab" d="M213.7 467.7L199.2 463.1 199.8 461.2 214.3 465.7z"/>
<path fill="#5f1da9" d="M200.8 463.6L186.5 458.9 187.1 457.1 201.4 461.7z"/>
<path fill="#5d1da6" d="M188 459.5L173.8 454.7 174.5 453 188.6 457.6z"/>
<path fill="#5b1ca3" d="M175.3 455.2L161.2 450.5 161.9 448.8 176 453.5z"/>
<path fill="#5a1ca0" d="M162.7 451L148.8 446.2 149.5 444.6 163.4 449.3z"/>
<path fill="#581b9e" d="M150.2 446.7L136.3 441.9 137.1 440.4 151 445.1z"/>
<path fill="#571b9b" d="M137.8 442.4L124 437.5 124.8 436.1 138.6 440.9z"/>
<path fill="#551b98" d="M125.5 438.1L113.1 433.7 114.1 432.3 126.3 436.6z"/>
<path fill="#7225d4" d="M780.3 375.8L608.6 439 611.7 434.6 777.6 373.7z"/>
<path fill="#7025d1" d="M622.2 434.3L521.8 466.8 525.8 462.1 625 430z"/>
<path fill="#6f24ce" d="M530.3 464.3L465.2 481.6 469 477.1 534.2 459.6z"/>
<path fill="#6d24cb" d="M471 480.3L425 489.3 428.3 485.1 474.8 475.7z"/>
<path fill="#6c23c9" d="M429.3 488.7L394.3 493 397 489.1 432.6 484.4z"/>
<path fill="#6b23c7" d="M397.6 492.7L369.3 494.2 371.5 490.6 400.4 488.8z"/>
<path fill="#6a23c5" d="M372.1 494.1L348 493.7 349.8 490.4 374.3 490.5z"/>
<path fill="#6922c3" d="M350.4 493.9L329.2 492.3 330.7 489.2 352.3 490.5z"/>
<path fill="#6822c1" d="M331.3 492.5L312 490.1 313.3 487.2 332.9 489.4z"/>
<path fill="#6722bf" d="M314 490.4L296.1 487.3 297.1 484.6 315.3 487.4z"/>
<path fill="#6621bd" d="M298 487.7L281 484.2 281.9 481.7 299 484.9z"/>
<path fill="#6521bb" d="M282.8 484.6L266.5 480.9 267.3 478.4 283.7 482z"/>
<path fill="#6321b9" d="M268.2 481.3L252.6 477.3 253.3 475 269.1 478.8z"/>
<path fill="#6220b6" d="M254.2 477.7L239 473.6 239.6 471.4 255 475.4z"/>
<path fill="#6120b4" d="M240.6 474L225.7 469.7 226.3 467.6 241.3 471.8z"/>
<path fill="#5f1fb1" d="M227.2 470.2L212.6 465.7 213.2 463.7 227.9 468.1z"/>
<path fill="#5e1faf" d="M214.1 466.2L199.7 461.7 200.3 459.8 214.8 464.2z"/>
<path fill="#5c1eac" d="M201.2 462.2L186.9 457.6 187.6 455.8 201.9 460.3z"/>
<path fill="#5b1ea9" d="M188.4 458.1L174.3 453.5 175 451.7 189.1 456.3z"/>
<path fill="#591da6" d="M175.8 454L161.8 449.3 162.5 447.6 176.5 452.2z"/>
<path fill="#581da3" d="M163.3 449.8L149.3 445 150.1 443.4 164 448.1z"/>
<path fill="#561ca0" d="M150.8 445.5L136.9 440.8 137.8 439.2 151.6 443.9z"/>
<path fill="#551c9e" d="M138.4 441.3L124.6 436.5 125.5 435 139.3 439.7z"/>
<path fill="#531b9b" d="M126.1 437L113.8 432.7 114.8 431.3 127 435.5z"/>
<path fill="#6f27d8" d="M778.3 374.3L610.9 435.7 613.8 431.4 775.7 372.2z"/>
<path fill="#6e26d5" d="M624.3 431.1L524.8 463.3 528.6 458.7 626.9 426.9z"/>
<path fill="#6c26d2" d="M533.2 460.8L468.1 478.2 471.7 473.8 537 456.2z"/>
<path fill="#6b25d0" d="M473.8 476.9L427.4 486.2 430.6 482 477.6 472.4z"/>
<path fill="#6a25ce" d="M431.7 485.5L396.3 490.1 399 486.2 435 481.3z"/>
<path fill="#6924cb" d="M399.7 489.8L370.9 491.5 373.2 487.9 402.4 485.9z"/>
<path fill="#6824c9" d="M373.7 491.4L349.4 491.3 351.2 487.9 376 487.8z"/>
<path fill="#6724c7" d="M351.8 491.4L330.3 490 331.8 486.9 353.7 488z"/>
<path fill="#6623c5" d="M332.5 490.2L313 487.9 314.3 485 334 487z"/>
<path fill="#6523c3" d="M315 488.2L296.9 485.3 298 482.6 316.3 485.2z"/>
<path fill="#6322c1" d="M298.7 485.6L281.7 482.3 282.6 479.7 299.9 482.9z"/>
<path fill="#6222bf" d="M283.4 482.7L267.1 479.1 268 476.6 284.4 480.1z"/>
<path fill="#6122bc" d="M268.8 479.5L253.1 475.6 253.9 473.2 269.7 477z"/>
<path fill="#6021ba" d="M254.8 476L239.5 471.9 240.2 469.7 255.6 473.7z"/>
<path fill="#5e21b7" d="M241.1 472.4L226.1 468.1 226.8 466 241.8 470.1z"/>
<path fill="#5d20b5" d="M227.7 468.6L213 464.3 213.7 462.2 228.4 466.5z"/>
<path fill="#5c20b2" d="M214.6 464.7L200.1 460.3 200.9 458.3 215.3 462.7z"/>
<path fill="#5a1faf" d="M201.7 460.8L187.4 456.2 188.1 454.4 202.4 458.8z"/>
<path fill="#591fac" d="M188.9 456.7L174.8 452.2 175.6 450.4 189.6 454.8z"/>
<path fill="#571ea9" d="M176.3 452.6L162.3 448 163.1 446.3 177.1 450.8z"/>
<path fill="#561ea6" d="M163.8 448.5L149.9 443.8 150.7 442.2 164.6 446.8z"/>
<path fill="#541da3" d="M151.4 444.3L137.6 439.6 138.4 438 152.2 442.7z"/>
<path fill="#531da1" d="M139 440.1L125.3 435.4 126.2 433.8 139.9 438.5z"/>
<path fill="#511c9e" d="M126.8 435.9L114.5 431.6 115.5 430.1 127.7 434.3z"/>
<path fill="#6d28dd" d="M776.3 372.7L613.1 432.5 615.7 428.3 773.8 370.7z"/>
<path fill="#6b27da" d="M626.3 427.9L527.7 459.8 531.3 455.3 628.7 423.9z"/>
<path fill="#6a27d7" d="M536.1 457.4L470.8 474.9 474.4 470.5 539.7 452.8z"/>
<path fill="#6926d4" d="M476.6 473.5L429.8 483.1 433 478.9 480.2 469.1z"/>
<path fill="#6726d2" d="M434.2 482.4L398.3 487.2 401 483.4 437.4 478.2z"/>
<path fill="#6625d0" d="M401.7 486.9L372.6 488.8 374.9 485.2 404.4 483z"/>
<path fill="#6525ce" d="M375.4 488.7L350.7 488.8 352.6 485.4 377.7 485.1z"/>
<path fill="#6425cb" d="M353.2 488.9L331.4 487.6 333 484.5 355.1 485.5z"/>
<path fill="#6324c9" d="M333.6 487.8L313.9 485.7 315.3 482.8 335.3 484.7z"/>
<path fill="#6224c7" d="M315.9 486L297.7 483.3 298.8 480.5 317.3 483z"/>
<path fill="#6124c5" d="M299.6 483.6L282.4 480.4 283.4 477.8 300.8 480.8z"/>
<path fill="#6023c2" d="M284.2 480.8L267.8 477.2 268.7 474.7 285.2 478.1z"/>
<path fill="#5f23c0" d="M269.5 477.6L253.7 473.8 254.5 471.5 270.4 475.1z"/>
<path fill="#5d22bd" d="M255.3 474.3L240 470.3 240.8 468 256.2 471.9z"/>
<path fill="#5c22bb" d="M241.6 470.7L226.7 466.6 227.4 464.4 242.4 468.4z"/>
<path fill="#5b21b8" d="M228.2 467L213.6 462.7 214.3 460.7 229 464.8z"/>
<path fill="#5921b5" d="M215.1 463.2L200.7 458.8 201.4 456.8 215.9 461.1z"/>
<path fill="#5820b2" d="M202.2 459.3L187.9 454.9 188.7 452.9 203 457.3z"/>
<path fill="#5620af" d="M189.5 455.3L175.4 450.8 176.1 449 190.2 453.4z"/>
<path fill="#551fac" d="M176.9 451.3L162.9 446.7 163.7 445 177.6 449.5z"/>
<path fill="#531fa9" d="M164.4 447.2L150.5 442.6 151.4 440.9 165.2 445.4z"/>
<path fill="#521ea6" d="M152 443.1L138.2 438.4 139.1 436.8 152.8 441.4z"/>
<path fill="#511ea4" d="M139.7 438.9L126 434.2 126.9 432.7 140.6 437.3z"/>
<path fill="#4f1da1" d="M127.4 434.7L115.3 430.5 116.3 429 128.4 433.2z"/>
<path fill="#6a29e2" d="M774.4 371.2L615.1 429.4 617.5 425.3 771.9 369.2z"/>
<path fill="#6929df" d="M628.1 424.9L530.4 456.5 533.9 452 630.3 420.9z"/>
<path fill="#6728dc" d="M538.8 454L473.5 471.6 476.9 467.2 542.2 449.5z"/>
<path fill="#6628d9" d="M479.3 470.2L432.2 480 435.3 475.9 482.8 465.8z"/>
<path fill="#6527d7" d="M436.5 479.2L400.3 484.4 403 480.5 439.7 475.1z"/>
<path fill="#6427d4" d="M403.7 484L374.3 486.2 376.5 482.6 406.5 480.1z"/>
<path fill="#6326d2" d="M377.2 486L352.1 486.3 354.1 483 379.5 482.4z"/>
<path fill="#6226d0" d="M354.6 486.4L332.6 485.3 334.2 482.2 356.6 483z"/>
<path fill="#6125cd" d="M334.8 485.5L314.9 483.5 316.3 480.6 336.5 482.3z"/>
<path fill="#6025cb" d="M317 483.8L298.5 481.2 299.8 478.4 318.4 480.8z"/>
<path fill="#5e25c9" d="M300.5 481.5L283.1 478.4 284.2 475.8 301.7 478.7z"/>
<path fill="#5d24c6" d="M284.9 478.8L268.4 475.4 269.4 472.9 286 476.1z"/>
<path fill="#5c24c4" d="M270.2 475.8L254.3 472.1 255.2 469.7 271.2 473.2z"/>
<path fill="#5b23c1" d="M256 472.5L240.6 468.6 241.4 466.3 256.9 470.1z"/>
<path fill="#5a23be" d="M242.2 469L227.2 465 228 462.7 243.1 466.7z"/>
<path fill="#5822bb" d="M228.8 465.4L214.1 461.2 214.9 459.1 229.6 463.2z"/>
<path fill="#5722b9" d="M215.7 461.7L201.2 457.4 202 455.3 216.5 459.5z"/>
<path fill="#5521b6" d="M202.8 457.8L188.5 453.4 189.3 451.5 203.6 455.8z"/>
<path fill="#5421b3" d="M190 453.9L175.9 449.5 176.8 447.6 190.8 452z"/>
<path fill="#5320b0" d="M177.4 449.9L163.5 445.4 164.3 443.6 178.3 448.1z"/>
<path fill="#5120ad" d="M165 445.9L151.1 441.3 152 439.6 165.8 444.1z"/>
<path fill="#501faa" d="M152.6 441.8L138.9 437.2 139.8 435.6 153.5 440.1z"/>
<path fill="#4e1ea7" d="M140.3 437.7L126.7 433.1 127.7 431.5 141.3 436z"/>
<path fill="#4d1ea4" d="M128.2 433.6L116 429.4 117.1 427.9 129.1 432z"/>
<path fill="#672be7" d="M772.5 369.7L616.9 426.3 619.2 422.3 770.1 367.6z"/>
<path fill="#662ae3" d="M629.7 421.9L533 453.1 536.4 448.8 631.8 418z"/>
<path fill="#6529e0" d="M541.4 450.7L476.1 468.4 479.4 464.1 544.7 446.3z"/>
<path fill="#6329de" d="M481.9 467L434.5 476.9 437.5 472.8 485.3 462.6z"/>
<path fill="#6228db" d="M438.9 476.2L402.3 481.5 404.9 477.7 442 472z"/>
<path fill="#6128d9" d="M405.8 481.1L376 483.5 378.2 479.9 408.5 477.2z"/>
<path fill="#6028d6" d="M378.9 483.4L353.6 483.8 355.5 480.4 381.2 479.7z"/>
<path fill="#5f27d4" d="M356.1 483.8L333.8 483 335.5 479.8 358.1 480.4z"/>
<path fill="#5e27d2" d="M336.1 483.1L316 481.3 317.4 478.4 337.8 479.9z"/>
<path fill="#5d26cf" d="M318 481.6L299.4 479.1 300.7 476.3 319.5 478.6z"/>
<path fill="#5c26cd" d="M301.4 479.4L283.9 476.5 285.1 473.8 302.7 476.6z"/>
<path fill="#5b25ca" d="M285.7 476.8L269.2 473.5 270.2 471 286.9 474.1z"/>
<path fill="#5a25c8" d="M270.9 473.9L255 470.3 255.9 467.8 271.9 471.3z"/>
<path fill="#5824c5" d="M256.6 470.7L241.2 466.9 242.1 464.5 257.6 468.2z"/>
<path fill="#5724c2" d="M242.8 467.3L227.8 463.3 228.7 461.1 243.7 465z"/>
<path fill="#5623bf" d="M229.4 463.8L214.7 459.6 215.5 457.5 230.3 461.5z"/>
<path fill="#5423bc" d="M216.3 460.1L201.8 455.9 202.7 453.8 217.1 457.9z"/>
<path fill="#5322b9" d="M203.3 456.3L189.1 452 190 450 204.2 454.2z"/>
<path fill="#5222b6" d="M190.6 452.5L176.5 448.1 177.4 446.2 191.5 450.5z"/>
<path fill="#5021b3" d="M178 448.5L164.1 444.1 165 442.3 178.9 446.6z"/>
<path fill="#4f20b0" d="M165.6 444.6L151.8 440.1 152.7 438.3 166.5 442.7z"/>
<path fill="#4e20ad" d="M153.3 440.5L139.6 436 140.6 434.3 154.2 438.8z"/>
<path fill="#4c1faa" d="M141 436.5L127.4 431.9 128.4 430.3 142 434.8z"/>
<path fill="#4b1fa7" d="M128.9 432.4L116.8 428.3 117.9 426.7 129.9 430.7z"/>
<path fill="#652cec" d="M770.7 368.2L618.7 423.3 620.8 419.4 768.3 366.1z"/>
<path fill="#632be8" d="M631.3 419L535.5 449.9 538.7 445.6 633.1 415.2z"/>
<path fill="#622be5" d="M543.8 447.4L478.6 465.2 481.8 460.9 547 443.1z"/>
<path fill="#612ae3" d="M484.4 463.7L436.8 473.9 439.8 469.8 487.7 459.5z"/>
<path fill="#602ae0" d="M441.2 473.1L404.2 478.6 406.9 474.8 444.3 469z"/>
<path fill="#5e29dd" d="M407.8 478.2L377.7 480.8 380 477.2 410.5 474.4z"/>
<path fill="#5d29db" d="M380.6 480.7L355 481.3 357 477.9 382.9 477z"/>
<path fill="#5c28d8" d="M357.6 481.3L335.1 480.6 336.8 477.4 359.6 477.9z"/>
<path fill="#5b28d6" d="M337.3 480.8L317 479.1 318.5 476.1 339.1 477.6z"/>
<path fill="#5a27d3" d="M319.1 479.3L300.4 477 301.7 474.2 320.6 476.3z"/>
<path fill="#5927d1" d="M302.3 477.3L284.8 474.5 286 471.8 303.7 474.4z"/>
<path fill="#5826ce" d="M286.6 474.8L269.9 471.6 271 469 287.8 472.1z"/>
<path fill="#5726cb" d="M271.7 472L255.7 468.5 256.7 466 272.8 469.4z"/>
<path fill="#5625c9" d="M257.4 468.9L241.9 465.1 242.8 462.8 258.4 466.4z"/>
<path fill="#5425c6" d="M243.5 465.6L228.5 461.7 229.4 459.4 244.5 463.2z"/>
<path fill="#5324c3" d="M230 462.1L215.3 458 216.2 455.9 231 459.8z"/>
<path fill="#5224c0" d="M216.9 458.5L202.4 454.3 203.3 452.2 217.8 456.3z"/>
<path fill="#5123bd" d="M204 454.8L189.7 450.5 190.6 448.5 204.8 452.7z"/>
<path fill="#4f23b9" d="M191.2 451L177.2 446.7 178.1 444.7 192.1 449z"/>
<path fill="#4e22b6" d="M178.7 447.1L164.8 442.7 165.7 440.9 179.6 445.2z"/>
<path fill="#4d21b3" d="M166.3 443.2L152.5 438.7 153.5 436.9 167.2 441.3z"/>
<path fill="#4b21b0" d="M154 439.2L140.3 434.7 141.3 433 154.9 437.4z"/>
<path fill="#4a20ad" d="M141.8 435.2L128.2 430.7 129.2 429 142.8 433.5z"/>
<path fill="#4920aa" d="M129.6 431.2L117.6 427.1 118.7 425.5 130.7 429.5z"/>
<path fill="#622df1" d="M768.9 366.6L620.3 420.4 622.3 416.5 766.6 364.6z"/>
<path fill="#602ded" d="M632.7 416.1L537.9 446.7 541 442.4 634.4 412.4z"/>
<path fill="#5f2cea" d="M546.2 444.2L481 462 484.2 457.8 549.2 440z"/>
<path fill="#5e2ce7" d="M486.9 460.5L439 470.9 442 466.8 490.1 456.3z"/>
<path fill="#5d2be5" d="M443.5 470L406.2 475.8 408.9 472 446.5 466z"/>
<path fill="#5c2be2" d="M409.8 475.4L379.4 478.1 381.7 474.6 412.5 471.5z"/>
<path fill="#5b2adf" d="M382.3 478L356.5 478.8 358.5 475.4 384.7 474.3z"/>
<path fill="#5a2add" d="M359.1 478.8L336.3 478.3 338.1 475.1 361.1 475.4z"/>
<path fill="#5929da" d="M338.6 478.4L318.1 476.9 319.7 473.9 340.4 475.2z"/>
<path fill="#5729d8" d="M320.2 477.1L301.4 474.9 302.7 472 321.8 474z"/>
<path fill="#5628d5" d="M303.3 475.2L285.6 472.5 286.9 469.7 304.7 472.3z"/>
<path fill="#5528d2" d="M287.5 472.8L270.7 469.7 271.8 467.1 288.7 470z"/>
<path fill="#5427d0" d="M272.5 470L256.4 466.6 257.5 464.1 273.6 467.4z"/>
<path fill="#5327cd" d="M258.1 467L242.6 463.4 243.6 461 259.2 464.5z"/>
<path fill="#5226ca" d="M244.2 463.8L229.1 460 230.1 457.7 245.2 461.4z"/>
<path fill="#5025c7" d="M230.7 460.4L216 456.4 216.9 454.2 231.7 458.1z"/>
<path fill="#4f25c3" d="M217.5 456.9L203.1 452.8 204 450.6 218.5 454.6z"/>
<path fill="#4e24c0" d="M204.6 453.2L190.4 449 191.3 447 205.5 451.1z"/>
<path fill="#4d24bd" d="M191.9 449.5L177.9 445.2 178.8 443.2 192.8 447.4z"/>
<path fill="#4b23ba" d="M179.4 445.7L165.5 441.3 166.4 439.4 180.3 443.7z"/>
<path fill="#4a22b7" d="M167 441.8L153.2 437.4 154.2 435.6 167.9 439.9z"/>
<path fill="#4922b4" d="M154.7 437.9L141 433.4 142.1 431.7 155.7 436z"/>
<path fill="#4821b0" d="M142.5 433.9L129 429.4 130 427.7 143.5 432.1z"/>
<path fill="#4621ad" d="M130.4 429.9L118.4 425.9 119.5 424.2 131.5 428.2z"/>
<path fill="#602ff3" d="M767.2 365.1L621.8 417.5 623.6 413.7 764.8 363z"/>
<path fill="#5f2ff0" d="M634 413.3L540.2 443.5 543.2 439.3 635.6 409.6z"/>
<path fill="#5e2eed" d="M548.4 441.1L483.4 458.8 486.5 454.7 551.3 436.9z"/>
<path fill="#5d2dea" d="M489.3 457.4L441.2 467.9 444.1 463.8 492.4 453.2z"/>
<path fill="#5b2de7" d="M445.7 467L408.2 472.9 410.8 469.1 448.7 463z"/>
<path fill="#5a2ce4" d="M411.8 472.5L381.1 475.5 383.4 471.9 414.4 468.7z"/>
<path fill="#592ce2" d="M384.1 475.3L358 476.3 360 472.9 386.4 471.7z"/>
<path fill="#582bdf" d="M360.6 476.3L337.6 475.9 339.4 472.7 362.6 472.8z"/>
<path fill="#572bdd" d="M340 476L319.3 474.6 320.9 471.6 341.8 472.8z"/>
<path fill="#562ada" d="M321.4 474.8L302.4 472.8 303.8 469.9 323 471.8z"/>
<path fill="#552ad7" d="M304.3 473L286.6 470.4 287.8 467.7 305.8 470.1z"/>
<path fill="#5429d4" d="M288.4 470.7L271.6 467.8 272.7 465.1 289.7 468z"/>
<path fill="#5329d1" d="M273.3 468.1L257.2 464.8 258.3 462.3 274.5 465.4z"/>
<path fill="#5228ce" d="M258.9 465.2L243.3 461.6 244.3 459.2 260 462.6z"/>
<path fill="#5028cb" d="M244.9 462L229.8 458.3 230.8 455.9 246 459.6z"/>
<path fill="#4f27c8" d="M231.4 458.7L216.7 454.8 217.6 452.6 232.4 456.3z"/>
<path fill="#4e26c5" d="M218.2 455.2L203.8 451.2 204.7 449 219.2 453z"/>
<path fill="#4d26c2" d="M205.3 451.6L191.1 447.5 192 445.4 206.3 449.5z"/>
<path fill="#4b25bf" d="M192.6 448L178.6 443.8 179.5 441.7 193.5 445.9z"/>
<path fill="#4a24bb" d="M180 444.2L166.2 439.9 167.2 438 181 442.2z"/>
<path fill="#4924b8" d="M167.7 440.4L153.9 436.1 155 434.2 168.7 438.4z"/>
<path fill="#4823b5" d="M155.4 436.5L141.8 432.1 142.9 430.3 156.4 434.6z"/>
<path fill="#4623b2" d="M143.3 432.6L129.8 428.2 130.8 426.4 144.3 430.8z"/>
<path fill="#4522af" d="M131.2 428.6L119.2 424.7 120.3 423 132.3 426.9z"/>
<path fill="#5f31f5" d="M765.4 363.5L623.2 414.7 624.9 410.9 763.1 361.5z"/>
<path fill="#5e31f2" d="M635.2 410.6L542.4 440.4 545.2 436.2 636.7 406.9z"/>
<path fill="#5d30ef" d="M550.6 438L485.7 455.7 488.7 451.6 553.3 433.8z"/>
<path fill="#5b2fec" d="M491.6 454.3L443.4 464.9 446.3 460.9 494.6 450.1z"/>
<path fill="#5a2fea" d="M447.9 464L410.1 470.1 412.7 466.3 450.8 460z"/>
<path fill="#592ee7" d="M413.8 469.6L382.8 472.8 385.1 469.2 416.4 465.8z"/>
<path fill="#582ee4" d="M385.8 472.6L359.5 473.8 361.5 470.3 388.2 469z"/>
<path fill="#572de1" d="M362.1 473.7L339 473.5 340.8 470.3 364.2 470.3z"/>
<path fill="#562ddf" d="M341.3 473.6L320.4 472.4 322.1 469.3 343.1 470.3z"/>
<path fill="#552cdc" d="M322.6 472.6L303.4 470.6 304.9 467.7 324.2 469.5z"/>
<path fill="#542cd9" d="M305.4 470.9L287.5 468.4 288.8 465.6 306.9 467.9z"/>
<path fill="#532bd6" d="M289.4 468.7L272.4 465.8 273.6 463.1 290.7 465.9z"/>
<path fill="#522ad3" d="M274.2 466.1L258 462.9 259.1 460.4 275.4 463.4z"/>
<path fill="#512ad0" d="M259.7 463.3L244.1 459.8 245.1 457.4 260.8 460.7z"/>
<path fill="#4f29cd" d="M245.7 460.2L230.6 456.5 231.6 454.2 246.8 457.7z"/>
<path fill="#4e28ca" d="M232.2 456.9L217.4 453.1 218.4 450.9 233.2 454.6z"/>
<path fill="#4d28c7" d="M219 453.5L204.5 449.6 205.5 447.4 220 451.3z"/>
<path fill="#4c27c4" d="M206 450L191.8 446 192.8 443.9 207 447.8z"/>
<path fill="#4a27c0" d="M193.3 446.4L179.3 442.3 180.3 440.2 194.3 444.3z"/>
<path fill="#4926bd" d="M180.8 442.7L166.9 438.5 167.9 436.5 181.8 440.7z"/>
<path fill="#4825ba" d="M168.4 438.9L154.7 434.7 155.8 432.8 169.4 437z"/>
<path fill="#4725b7" d="M156.2 435.1L142.6 430.8 143.7 429 157.2 433.2z"/>
<path fill="#4524b3" d="M144 431.3L130.6 426.9 131.7 425.1 145.1 429.4z"/>
<path fill="#4423b0" d="M132 427.3L120.1 423.4 121.2 421.7 133.1 425.6z"/>
<path fill="#5e33f8" d="M763.7 362L624.5 411.9 626.1 408.2 761.5 359.9z"/>
<path fill="#5c33f5" d="M636.3 407.9L544.5 437.3 547.2 433.2 637.7 404.3z"/>
<path fill="#5b32f2" d="M552.7 434.9L488 452.6 490.9 448.5 555.3 430.8z"/>
<path fill="#5a31ef" d="M493.9 451.2L445.5 461.9 448.3 457.9 496.8 447.1z"/>
<path fill="#5931ec" d="M450.1 461L412.1 467.3 414.6 463.5 452.9 457z"/>
<path fill="#5830e9" d="M415.7 466.8L384.5 470.1 386.8 466.5 418.3 463z"/>
<path fill="#5730e6" d="M387.6 469.9L361 471.2 363 467.8 389.9 466.3z"/>
<path fill="#562fe4" d="M363.6 471.2L340.3 471.1 342.1 467.9 365.7 467.7z"/>
<path fill="#552ee1" d="M342.7 471.2L321.6 470.1 323.3 467 344.5 467.9z"/>
<path fill="#542ede" d="M323.8 470.3L304.5 468.5 306 465.5 325.4 467.2z"/>
<path fill="#532ddb" d="M306.5 468.7L288.5 466.3 289.8 463.5 308 465.7z"/>
<path fill="#522dd8" d="M290.3 466.6L273.3 463.8 274.6 461.1 291.7 463.8z"/>
<path fill="#502cd5" d="M275.1 464.1L258.8 461 260 458.4 276.3 461.4z"/>
<path fill="#4f2bd2" d="M260.5 461.4L244.9 458 246 455.5 261.7 458.8z"/>
<path fill="#4e2bcf" d="M246.5 458.4L231.3 454.8 232.4 452.4 247.6 455.9z"/>
<path fill="#4d2acc" d="M232.9 455.2L218.1 451.4 219.2 449.1 234 452.8z"/>
<path fill="#4c29c8" d="M219.7 451.9L205.2 448 206.2 445.8 220.7 449.5z"/>
<path fill="#4a29c5" d="M206.7 448.4L192.5 444.4 193.6 442.3 207.8 446.2z"/>
<path fill="#4928c2" d="M194 444.8L180 440.8 181.1 438.7 195.1 442.7z"/>
<path fill="#4827bf" d="M181.5 441.2L167.7 437 168.7 435 182.6 439.1z"/>
<path fill="#4727bb" d="M169.2 437.5L155.5 433.3 156.6 431.3 170.2 435.5z"/>
<path fill="#4526b8" d="M156.9 433.7L143.4 429.4 144.5 427.6 158 431.8z"/>
<path fill="#4425b5" d="M144.8 429.9L131.4 425.6 132.5 423.7 145.9 428z"/>
<path fill="#4325b2" d="M132.8 426L120.9 422.1 122.1 420.4 134 424.2z"/>
<path fill="#5c35fb" d="M762 360.4L625.7 409.1 627.2 405.5 759.8 358.3z"/>
<path fill="#5b35f7" d="M637.4 405.2L546.6 434.3 549.2 430.2 638.6 401.6z"/>
<path fill="#5a34f4" d="M554.6 431.9L490.2 449.6 493 445.5 557.2 427.9z"/>
<path fill="#5933f1" d="M496.1 448.1L447.6 458.9 450.4 455 498.9 444.1z"/>
<path fill="#5833ee" d="M452.2 458.1L414 464.5 416.5 460.7 455 454.1z"/>
<path fill="#5732eb" d="M417.7 464L386.2 467.4 388.5 463.8 420.2 460.1z"/>
<path fill="#5632e9" d="M389.3 467.2L362.5 468.7 364.6 465.3 391.6 463.6z"/>
<path fill="#5531e6" d="M365.2 468.6L341.6 468.7 343.5 465.4 367.3 465.2z"/>
<path fill="#5430e3" d="M344 468.7L322.8 467.8 324.5 464.7 345.9 465.5z"/>
<path fill="#5330e0" d="M325 468L305.6 466.3 307.1 463.3 326.7 464.8z"/>
<path fill="#512fdd" d="M307.6 466.5L289.5 464.2 290.8 461.4 309.1 463.5z"/>
<path fill="#502eda" d="M291.3 464.5L274.2 461.8 275.5 459.1 292.7 461.7z"/>
<path fill="#4f2ed7" d="M276 462.1L259.7 459.1 260.9 456.5 277.3 459.4z"/>
<path fill="#4e2dd4" d="M261.4 459.4L245.7 456.2 246.8 453.7 262.6 456.8z"/>
<path fill="#4d2cd1" d="M247.3 456.5L232.1 453 233.2 450.6 248.5 454z"/>
<path fill="#4c2ccd" d="M233.7 453.4L218.9 449.7 220 447.4 234.8 451z"/>
<path fill="#4a2bca" d="M220.5 450.1L206 446.3 207 444.1 221.6 447.8z"/>
<path fill="#492ac7" d="M207.5 446.7L193.3 442.8 194.3 440.6 208.6 444.5z"/>
<path fill="#482ac3" d="M194.8 443.2L180.8 439.2 181.9 437.1 195.9 441.1z"/>
<path fill="#4729c0" d="M182.3 439.7L168.5 435.5 169.5 433.5 183.3 437.5z"/>
<path fill="#4628bd" d="M169.9 436L156.3 431.8 157.4 429.9 171 434z"/>
<path fill="#4428ba" d="M157.7 432.3L144.2 428 145.3 426.1 158.8 430.3z"/>
<path fill="#4327b6" d="M145.7 428.5L132.2 424.2 133.4 422.4 146.8 426.6z"/>
<path fill="#4226b3" d="M133.7 424.7L121.8 420.8 123 419 134.8 422.8z"/>
<path fill="#5b38fe" d="M760.4 358.9L626.8 406.4 628.2 402.8 758.2 356.7z"/>
<path fill="#5a37f9" d="M638.3 402.5L548.5 431.3 551 427.3 639.5 399z"/>
<path fill="#5936f6" d="M556.5 428.9L492.3 446.6 495.1 442.5 558.9 424.9z"/>
<path fill="#5735f3" d="M498.2 445.1L449.7 456 452.4 452.1 501 441z"/>
<path fill="#5635f1" d="M454.3 455.1L415.9 461.7 418.4 457.9 457 451.1z"/>
<path fill="#5534ee" d="M419.6 461.1L387.9 464.8 390.2 461.2 422.1 457.3z"/>
<path fill="#5433eb" d="M391 464.5L364 466.1 366.1 462.7 393.4 460.9z"/>
<path fill="#5333e8" d="M366.7 466.1L343 466.3 344.9 463 368.8 462.6z"/>
<path fill="#5232e5" d="M345.4 466.3L324.1 465.5 325.8 462.4 347.3 463z"/>
<path fill="#5132e2" d="M326.3 465.6L306.7 464.1 308.2 461.1 328 462.5z"/>
<path fill="#5031df" d="M308.7 464.3L290.5 462.1 291.9 459.3 310.3 461.3z"/>
<path fill="#4f30dc" d="M292.4 462.4L275.2 459.8 276.5 457.1 293.8 459.5z"/>
<path fill="#4e30d9" d="M277 460.1L260.6 457.2 261.8 454.5 278.3 457.3z"/>
<path fill="#4d2fd6" d="M262.3 457.5L246.5 454.3 247.7 451.8 263.5 454.9z"/>
<path fill="#4c2ed3" d="M248.2 454.7L232.9 451.2 234.1 448.8 249.4 452.1z"/>
<path fill="#4a2dcf" d="M234.5 451.6L219.7 448 220.8 445.7 235.7 449.2z"/>
<path fill="#492dcc" d="M221.3 448.4L206.8 444.7 207.9 442.4 222.4 446z"/>
<path fill="#482cc9" d="M208.3 445.1L194.1 441.2 195.2 439 209.4 442.8z"/>
<path fill="#472bc5" d="M195.6 441.6L181.6 437.7 182.7 435.5 196.7 439.4z"/>
<path fill="#462ac2" d="M183.1 438.1L169.3 434 170.4 432 184.2 435.9z"/>
<path fill="#442abe" d="M170.7 434.5L157.1 430.4 158.2 428.4 171.8 432.4z"/>
<path fill="#4329bb" d="M158.6 430.8L145.1 426.6 146.2 424.7 159.7 428.8z"/>
<path fill="#4228b8" d="M146.5 427.1L133.1 422.8 134.3 421 147.6 425.1z"/>
<path fill="#4128b5" d="M134.5 423.3L122.7 419.5 123.9 417.7 135.7 421.4z"/>
<path fill="#5a3aff" d="M758.8 357.3L627.9 403.8 629.2 400.2 756.6 355.1z"/>
<path fill="#5839fc" d="M639.2 399.9L550.4 428.3 552.8 424.3 640.3 396.5z"/>
<path fill="#5738f9" d="M558.3 425.9L494.4 443.6 497.1 439.6 560.7 422z"/>
<path fill="#5637f6" d="M500.3 442.1L451.7 453.1 454.4 449.2 503 438.1z"/>
<path fill="#5537f3" d="M456.3 452.2L417.8 458.8 420.3 455.1 459 448.2z"/>
<path fill="#5436f0" d="M421.5 458.3L389.6 462.1 391.9 458.5 424 454.5z"/>
<path fill="#5335ed" d="M392.8 461.8L365.6 463.6 367.6 460.1 395.1 458.2z"/>
<path fill="#5235ea" d="M368.3 463.5L344.4 463.8 346.3 460.6 370.4 460z"/>
<path fill="#5134e7" d="M346.8 463.9L325.3 463.2 327 460 348.7 460.6z"/>
<path fill="#5033e4" d="M327.5 463.3L307.8 461.9 309.4 458.9 329.3 460.1z"/>
<path fill="#4f33e1" d="M309.9 462L291.5 460 293 457.1 311.4 459z"/>
<path fill="#4e32de" d="M293.4 460.3L276.2 457.8 277.5 455 294.9 457.4z"/>
<path fill="#4d31db" d="M278 458.1L261.5 455.2 262.8 452.6 279.3 455.3z"/>
<path fill="#4b31d8" d="M263.2 455.5L247.4 452.4 248.6 449.9 264.5 452.9z"/>
<path fill="#4a30d4" d="M249.1 452.8L233.8 449.4 235 446.9 250.3 450.2z"/>
<path fill="#492fd1" d="M235.4 449.8L220.5 446.3 221.7 443.9 236.6 447.3z"/>
<path fill="#482ece" d="M222.1 446.6L207.6 443 208.7 440.7 223.2 444.3z"/>
<path fill="#472eca" d="M209.1 443.4L194.9 439.6 196 437.3 210.2 441.1z"/>
<path fill="#462dc7" d="M196.4 440L182.4 436.1 183.5 433.9 197.5 437.7z"/>
<path fill="#442cc3" d="M183.9 436.5L170.1 432.5 171.2 430.4 185 434.3z"/>
<path fill="#432bc0" d="M171.6 432.9L157.9 428.9 159.1 426.8 172.7 430.8z"/>
<path fill="#422bbd" d="M159.4 429.3L145.9 425.2 147.1 423.2 160.5 427.3z"/>
<path fill="#412aba" d="M147.3 425.6L134 421.5 135.2 419.5 148.5 423.7z"/>
<path fill="#4029b6" d="M135.4 421.9L123.6 418.1 124.8 416.3 136.6 420z"/>
<path fill="#583cff" d="M757.2 355.7L628.9 401.1 630.1 397.6 755 353.5z"/>
<path fill="#573bfe" d="M640 397.4L552.2 425.3 554.5 421.4 641 393.9z"/>
<path fill="#563afb" d="M560.1 423L496.4 440.6 499 436.6 562.3 419.1z"/>
<path fill="#553af8" d="M502.3 439.1L453.7 450.2 456.3 446.2 504.9 435.1z"/>
<path fill="#5439f5" d="M458.3 449.2L419.6 456 422.1 452.3 460.9 445.3z"/>
<path fill="#5338f2" d="M423.4 455.5L391.3 459.4 393.6 455.8 425.9 451.7z"/>
<path fill="#5237ef" d="M394.5 459.1L367.1 461 369.2 457.6 396.8 455.5z"/>
<path fill="#5137ed" d="M369.8 460.9L345.8 461.4 347.7 458.1 371.9 457.4z"/>
<path fill="#5036ea" d="M348.2 461.4L326.6 460.9 328.3 457.7 350.1 458.1z"/>
<path fill="#4f35e6" d="M328.8 461L309 459.6 310.6 456.6 330.6 457.8z"/>
<path fill="#4d35e3" d="M311 459.8L292.6 457.9 294.1 455 312.6 456.8z"/>
<path fill="#4c34e0" d="M294.5 458.1L277.2 455.7 278.5 452.9 296 455.2z"/>
<path fill="#4b33dd" d="M279 456L262.4 453.2 263.7 450.6 280.4 453.2z"/>
<path fill="#4a32da" d="M264.2 453.6L248.3 450.5 249.6 447.9 265.5 450.9z"/>
<path fill="#4932d6" d="M250 450.9L234.6 447.6 235.8 445.1 251.2 448.3z"/>
<path fill="#4831d3" d="M236.3 447.9L221.4 444.5 222.5 442.1 237.5 445.4z"/>
<path fill="#4730cf" d="M222.9 444.9L208.4 441.3 209.6 438.9 224.1 442.4z"/>
<path fill="#462fcc" d="M209.9 441.7L195.7 437.9 196.9 435.7 211.1 439.3z"/>
<path fill="#442ec9" d="M197.2 438.3L183.2 434.5 184.4 432.3 198.4 436.1z"/>
<path fill="#432ec5" d="M184.7 434.9L170.9 431 172.1 428.8 185.9 432.7z"/>
<path fill="#422dc2" d="M172.4 431.4L158.8 427.4 160 425.3 173.6 429.3z"/>
<path fill="#412cbe" d="M160.2 427.8L146.8 423.7 148 421.7 161.4 425.7z"/>
<path fill="#402bbb" d="M148.2 424.2L134.9 420 136.1 418.1 149.4 422.2z"/>
<path fill="#3f2bb8" d="M136.3 420.5L124.5 416.8 125.8 414.9 137.6 418.5z"/>
<path fill="#573eff" d="M755.6 354.1L629.8 398.5 630.9 395 753.5 351.9z"/>
<path fill="#553dff" d="M640.8 394.8L553.9 422.4 556.1 418.6 641.7 391.4z"/>
<path fill="#543cfe" d="M561.7 420.1L498.4 437.6 500.9 433.7 563.9 416.3z"/>
<path fill="#533cfb" d="M504.2 436.1L455.7 447.3 458.2 443.4 506.8 432.2z"/>
<path fill="#523bf8" d="M460.3 446.3L421.5 453.2 423.9 449.5 462.9 442.4z"/>
<path fill="#513af5" d="M425.2 452.7L393 456.7 395.3 453.1 427.7 448.9z"/>
<path fill="#503af2" d="M396.2 456.4L368.7 458.5 370.7 455 398.5 452.8z"/>
<path fill="#4f39ef" d="M371.4 458.3L347.2 459 349.1 455.6 373.5 454.8z"/>
<path fill="#4e38ec" d="M349.6 458.9L327.9 458.5 329.6 455.3 351.6 455.6z"/>
<path fill="#4d37e9" d="M330.1 458.6L310.2 457.4 311.8 454.3 331.9 455.4z"/>
<path fill="#4c37e5" d="M312.2 457.5L293.7 455.7 295.2 452.8 313.9 454.5z"/>
<path fill="#4b36e2" d="M295.6 455.9L278.2 453.6 279.6 450.8 297.1 453z"/>
<path fill="#4a35df" d="M280 453.9L263.4 451.2 264.7 448.5 281.4 451.1z"/>
<path fill="#4934dc" d="M265.1 451.6L249.2 448.6 250.5 446 266.5 448.8z"/>
<path fill="#4833d8" d="M250.9 448.9L235.5 445.7 236.8 443.2 252.2 446.3z"/>
<path fill="#4733d5" d="M237.2 446.1L222.2 442.7 223.4 440.3 238.4 443.5z"/>
<path fill="#4532d1" d="M223.8 443.1L209.3 439.5 210.5 437.2 225 440.6z"/>
<path fill="#4431ce" d="M210.8 439.9L196.6 436.2 197.7 433.9 212 437.5z"/>
<path fill="#4330ca" d="M198.1 436.6L184.1 432.9 185.3 430.6 199.3 434.3z"/>
<path fill="#422fc7" d="M185.6 433.3L171.8 429.4 173 427.2 186.8 431z"/>
<path fill="#412fc3" d="M173.3 429.8L159.7 425.8 160.9 423.8 174.5 427.6z"/>
<path fill="#402ec0" d="M161.1 426.3L147.7 422.3 148.9 420.2 162.3 424.2z"/>
<path fill="#3f2dbd" d="M149.1 422.7L135.8 418.6 137.1 416.6 150.3 420.6z"/>
<path fill="#3d2cb9" d="M137.2 419L125.5 415.4 126.7 413.4 138.5 417.1z"/>
<path fill="#5541ff" d="M754 352.5L630.6 395.9 631.7 392.5 751.9 350.3z"/>
<path fill="#533fff" d="M641.5 392.3L555.6 419.5 557.7 415.7 642.3 388.9z"/>
<path fill="#523fff" d="M563.4 417.2L500.3 434.7 502.8 430.7 565.4 413.4z"/>
<path fill="#523efd" d="M506.1 433.2L457.6 444.4 460.1 440.5 508.6 429.3z"/>
<path fill="#513dfa" d="M462.2 443.4L423.3 450.4 425.7 446.7 464.7 439.5z"/>
<path fill="#503cf7" d="M427.1 449.9L394.7 454 397 450.4 429.5 446.1z"/>
<path fill="#4f3cf4" d="M397.9 453.7L370.2 455.9 372.3 452.4 400.2 450.1z"/>
<path fill="#4e3bf1" d="M373 455.7L348.6 456.5 350.5 453.2 375.1 452.3z"/>
<path fill="#4d3aee" d="M351.1 456.5L329.2 456.2 330.9 453 353 453.1z"/>
<path fill="#4c39eb" d="M331.4 456.2L311.4 455.1 313 452.1 333.2 453z"/>
<path fill="#4b39e8" d="M313.4 455.3L294.8 453.5 296.3 450.6 315.1 452.2z"/>
<path fill="#4a38e4" d="M296.7 453.8L279.2 451.6 280.6 448.7 298.3 450.8z"/>
<path fill="#4837e1" d="M281 451.8L264.4 449.2 265.7 446.5 282.5 449z"/>
<path fill="#4736de" d="M266.1 449.5L250.2 446.7 251.5 444 267.5 446.8z"/>
<path fill="#4635da" d="M251.8 447L236.4 443.9 237.7 441.3 253.2 444.3z"/>
<path fill="#4534d7" d="M238.1 444.2L223.1 440.9 224.4 438.4 239.3 441.6z"/>
<path fill="#4434d3" d="M224.7 441.3L210.1 437.8 211.4 435.4 225.9 438.8z"/>
<path fill="#4333d0" d="M211.7 438.2L197.4 434.5 198.6 432.2 212.9 435.8z"/>
<path fill="#4232cc" d="M198.9 434.9L185 431.2 186.2 429 200.2 432.6z"/>
<path fill="#4131c9" d="M186.4 431.6L172.7 427.8 173.9 425.6 187.7 429.4z"/>
<path fill="#4030c5" d="M174.1 428.2L160.6 424.3 161.8 422.2 175.4 426z"/>
<path fill="#3e2fc2" d="M162 424.7L148.6 420.7 149.9 418.7 163.2 422.6z"/>
<path fill="#3d2fbe" d="M150 421.2L136.7 417.1 138 415.1 151.3 419.1z"/>
<path fill="#3c2ebb" d="M138.2 417.6L126.4 413.9 127.7 412 139.4 415.6z"/>
<path fill="#5443ff" d="M752.4 350.9L631.4 393.3 632.4 389.9 750.4 348.7z"/>
<path fill="#5242ff" d="M642.1 389.8L557.2 416.7 559.2 412.9 642.9 386.4z"/>
<path fill="#5141ff" d="M564.9 414.4L502.1 431.8 504.6 427.8 566.9 410.6z"/>
<path fill="#5040ff" d="M508 430.3L459.5 441.5 462 437.6 510.4 426.4z"/>
<path fill="#4f3ffd" d="M464.1 440.5L425.1 447.6 427.5 443.9 466.6 436.7z"/>
<path fill="#4e3ffa" d="M428.9 447L396.4 451.3 398.7 447.7 431.3 443.3z"/>
<path fill="#4d3ef7" d="M399.6 451L371.8 453.3 373.8 449.8 401.9 447.4z"/>
<path fill="#4c3df3" d="M374.5 453.2L350 454 352 450.7 376.6 449.7z"/>
<path fill="#4b3cf0" d="M352.5 454L330.5 453.8 332.3 450.6 354.5 450.6z"/>
<path fill="#4a3bed" d="M332.7 453.9L312.6 452.8 314.2 449.8 334.5 450.6z"/>
<path fill="#493bea" d="M314.7 453L295.9 451.4 297.5 448.4 316.3 449.9z"/>
<path fill="#483ae7" d="M297.9 451.6L280.3 449.5 281.7 446.6 299.4 448.6z"/>
<path fill="#4739e3" d="M282.1 449.7L265.4 447.2 266.8 444.4 283.6 446.8z"/>
<path fill="#4638e0" d="M267.1 447.5L251.1 444.7 252.5 442 268.5 444.7z"/>
<path fill="#4537dc" d="M252.8 445L237.4 442 238.7 439.4 254.2 442.3z"/>
<path fill="#4436d9" d="M239 442.3L224 439.1 225.3 436.6 240.3 439.7z"/>
<path fill="#4335d5" d="M225.6 439.4L211 436 212.3 433.6 226.9 436.9z"/>
<path fill="#4235d2" d="M212.6 436.4L198.3 432.8 199.6 430.5 213.8 433.9z"/>
<path fill="#4034ce" d="M199.8 433.2L185.9 429.5 187.1 427.3 201.1 430.8z"/>
<path fill="#3f33ca" d="M187.3 429.9L173.6 426.2 174.8 424 188.6 427.6z"/>
<path fill="#3e32c7" d="M175 426.6L161.5 422.7 162.7 420.6 176.3 424.4z"/>
<path fill="#3d31c4" d="M162.9 423.1L149.5 419.2 150.8 417.1 164.2 421z"/>
<path fill="#3c30c0" d="M151 419.6L137.7 415.7 139 413.6 152.2 417.5z"/>
<path fill="#3b2fbd" d="M139.1 416.1L127.4 412.5 128.7 410.5 140.4 414.1z"/>
<path fill="#5245ff" d="M750.9 349.2L632.2 390.8 633.1 387.4 748.9 347z"/>
<path fill="#5044ff" d="M642.7 387.3L558.7 413.9 560.7 410.1 643.4 384z"/>
<path fill="#4f43ff" d="M566.4 411.6L504 428.8 506.3 425 568.3 407.8z"/>
<path fill="#4e42ff" d="M509.8 427.4L461.3 438.6 463.8 434.8 512.1 423.5z"/>
<path fill="#4d42ff" d="M466 437.6L426.9 444.9 429.3 441.1 468.4 433.8z"/>
<path fill="#4c41fc" d="M430.7 444.2L398.1 448.7 400.3 445 433.1 440.5z"/>
<path fill="#4c40f9" d="M401.3 448.3L373.3 450.7 375.4 447.2 403.6 444.7z"/>
<path fill="#4b3ff6" d="M376.1 450.6L351.5 451.5 353.4 448.2 378.2 447.1z"/>
<path fill="#4a3ef3" d="M354 451.5L331.8 451.4 333.6 448.2 355.9 448.1z"/>
<path fill="#493eef" d="M334.1 451.5L313.8 450.6 315.5 447.4 335.9 448.2z"/>
<path fill="#483dec" d="M315.9 450.7L297.1 449.2 298.6 446.2 317.6 447.6z"/>
<path fill="#473ce9" d="M299 449.3L281.4 447.3 282.8 444.4 300.6 446.3z"/>
<path fill="#463be5" d="M283.2 447.6L266.4 445.2 267.8 442.4 284.7 444.7z"/>
<path fill="#453ae2" d="M268.2 445.4L252.1 442.7 253.5 440 269.6 442.6z"/>
<path fill="#4339de" d="M253.8 443L238.3 440 239.7 437.4 255.2 440.3z"/>
<path fill="#4238db" d="M240 440.4L225 437.2 226.3 434.7 241.3 437.8z"/>
<path fill="#4137d7" d="M226.6 437.6L212 434.2 213.2 431.8 227.8 435z"/>
<path fill="#4036d3" d="M213.5 434.6L199.2 431.1 200.5 428.7 214.8 432.1z"/>
<path fill="#3f35d0" d="M200.8 431.5L186.8 427.8 188 425.5 202 429.1z"/>
<path fill="#3e35cc" d="M188.3 428.2L174.5 424.5 175.8 422.3 189.5 425.9z"/>
<path fill="#3d34c9" d="M176 424.9L162.4 421.1 163.7 419 177.2 422.7z"/>
<path fill="#3c33c5" d="M163.9 421.5L150.5 417.7 151.8 415.6 165.1 419.4z"/>
<path fill="#3b32c2" d="M151.9 418.1L138.7 414.2 140 412.1 153.2 416z"/>
<path fill="#3a31bf" d="M140.1 414.6L128.4 411 129.7 409 141.4 412.5z"/>
<path fill="#5048ff" d="M749.4 347.6L632.8 388.3 633.7 384.9 747.4 345.4z"/>
<path fill="#4f46ff" d="M643.2 384.8L560.2 411 562.1 407.3 643.9 381.5z"/>
<path fill="#4d45ff" d="M567.8 408.8L505.7 426 508 422.1 569.6 405.1zM511.5 424.5L463.2 435.7 465.6 431.9 513.8 420.6z"/>
<path fill="#4c44ff" d="M467.8 434.8L428.6 442.1 431 438.3 470.2 430.9z"/>
<path fill="#4b43fe" d="M432.5 441.4L399.7 446 402 442.3 434.8 437.7z"/>
<path fill="#4a42fb" d="M403 445.6L374.9 448.1 376.9 444.6 405.2 442z"/>
<path fill="#4941f8" d="M377.7 448L352.9 449 354.8 445.7 379.8 444.4z"/>
<path fill="#4841f5" d="M355.4 449L333.1 449 334.9 445.8 357.4 445.6z"/>
<path fill="#4740f2" d="M335.4 449.1L315 448.3 316.7 445.1 337.2 445.8z"/>
<path fill="#463fee" d="M317.1 448.4L298.2 446.9 299.8 443.9 318.8 445.2z"/>
<path fill="#453eeb" d="M300.2 447.1L282.5 445.2 284 442.3 301.8 444.1z"/>
<path fill="#443de7" d="M284.3 445.4L267.5 443.1 268.9 440.3 285.8 442.5z"/>
<path fill="#433ce4" d="M269.2 443.4L253.1 440.7 254.5 438 270.7 440.5z"/>
<path fill="#423be0" d="M254.8 441L239.3 438.1 240.7 435.5 256.2 438.3z"/>
<path fill="#413add" d="M240.9 438.4L225.9 435.3 227.2 432.8 242.3 435.8z"/>
<path fill="#4039d9" d="M227.5 435.7L212.9 432.4 214.2 429.9 228.8 433.1z"/>
<path fill="#3f38d5" d="M214.4 432.7L200.2 429.3 201.5 426.9 215.7 430.3z"/>
<path fill="#3e37d2" d="M201.7 429.7L187.7 426.1 189 423.8 203 427.3z"/>
<path fill="#3d36ce" d="M189.2 426.5L175.4 422.9 176.7 420.6 190.5 424.2z"/>
<path fill="#3c35cb" d="M176.9 423.3L163.4 419.5 164.7 417.3 178.2 421z"/>
<path fill="#3b34c7" d="M164.8 419.9L151.4 416.1 152.8 414 166.1 417.7z"/>
<path fill="#3a34c4" d="M152.9 416.5L139.6 412.6 141 410.5 154.2 414.4z"/>
<path fill="#3933c0" d="M141.1 413L129.4 409.5 130.7 407.5 142.4 411z"/>
<path fill="#4f4aff" d="M747.9 346L633.5 385.8 634.2 382.4 745.9 343.7z"/>
<path fill="#4d49ff" d="M643.7 382.4L561.6 408.2 563.4 404.5 644.3 379.1z"/>
<path fill="#4c48ff" d="M569.1 406L507.5 423.1 509.7 419.2 570.9 402.3z"/>
<path fill="#4b47ff" d="M513.2 421.6L465 432.9 467.3 429.1 515.5 417.8z"/>
<path fill="#4a46ff" d="M469.6 431.9L430.4 439.3 432.7 435.5 471.9 428.1z"/>
<path fill="#4945ff" d="M434.2 438.7L401.4 443.3 403.6 439.6 436.5 434.9z"/>
<path fill="#4844fe" d="M404.6 442.9L376.4 445.5 378.5 442 406.9 439.2z"/>
<path fill="#4744fb" d="M379.2 445.3L354.3 446.5 356.3 443.2 381.3 441.8z"/>
<path fill="#4643f7" d="M356.9 446.5L334.5 446.6 336.3 443.3 358.8 443.1z"/>
<path fill="#4542f4" d="M336.8 446.6L316.3 445.9 318 442.8 338.6 443.4z"/>
<path fill="#4541f1" d="M318.4 446L299.4 444.7 301 441.7 320.1 442.9z"/>
<path fill="#4440ed" d="M301.4 444.9L283.6 443 285.1 440.1 303 441.8z"/>
<path fill="#433fea" d="M285.4 443.3L268.5 441 270 438.2 287 440.3z"/>
<path fill="#413ee6" d="M270.3 441.3L254.1 438.7 255.6 436 271.8 438.4z"/>
<path fill="#403de2" d="M255.8 439L240.3 436.2 241.7 433.5 257.3 436.2z"/>
<path fill="#3f3cdf" d="M241.9 436.5L226.9 433.4 228.2 430.9 243.3 433.8z"/>
<path fill="#3e3bdb" d="M228.5 433.8L213.9 430.6 215.2 428.1 229.8 431.2z"/>
<path fill="#3d3ad7" d="M215.4 430.9L201.1 427.5 202.4 425.1 216.7 428.4z"/>
<path fill="#3c39d4" d="M202.6 427.9L188.6 424.4 190 422 203.9 425.5z"/>
<path fill="#3b38d0" d="M190.1 424.8L176.4 421.2 177.7 418.9 191.4 422.4z"/>
<path fill="#3a37cc" d="M177.9 421.6L164.3 417.9 165.6 415.7 179.2 419.3z"/>
<path fill="#3936c9" d="M165.8 418.3L152.4 414.5 153.8 412.3 167.1 416z"/>
<path fill="#3835c5" d="M153.8 414.9L140.6 411.1 142 409 155.2 412.7z"/>
<path fill="#3734c2" d="M142 411.5L130.4 408 131.8 406 143.4 409.4z"/>
<path fill="#4d4dff" d="M746.4 344.3L634.1 383.3 634.8 379.9 744.4 342.1z"/>
<path fill="#4b4bff" d="M644.1 379.9L563 405.5 564.7 401.7 644.7 376.7z"/>
<path fill="#4a4aff" d="M570.4 403.3L509.1 420.2 511.3 416.4 572.1 399.6z"/>
<path fill="#4949ff" d="M514.9 418.7L466.7 430 469 426.2 517.1 414.9z"/>
<path fill="#4848ff" d="M471.3 429.1L432.1 436.5 434.4 432.8 473.7 425.2zM435.9 435.9L403 440.6 405.2 436.9 438.3 432.1z"/>
<path fill="#4747ff" d="M406.3 440.2L377.9 442.9 380 439.4 408.5 436.5z"/>
<path fill="#4646fd" d="M380.8 442.7L355.8 444 357.7 440.6 382.9 439.2z"/>
<path fill="#4545fa" d="M358.3 444L335.8 444.2 337.7 440.9 360.3 440.6z"/>
<path fill="#4444f6" d="M338.1 444.2L317.6 443.6 319.3 440.4 340 440.9z"/>
<path fill="#4343f3" d="M319.7 443.7L300.6 442.5 302.2 439.4 321.4 440.5z"/>
<path fill="#4242ef" d="M302.6 442.6L284.7 440.9 286.2 437.9 304.2 439.6z"/>
<path fill="#4141ec" d="M286.6 441.1L269.6 438.9 271.1 436.1 288.1 438.1z"/>
<path fill="#4040e8" d="M271.4 439.2L255.2 436.7 256.6 433.9 272.9 436.3z"/>
<path fill="#3f3fe4" d="M256.9 437L241.3 434.2 242.7 431.5 258.3 434.2z"/>
<path fill="#3e3ee1" d="M243 434.5L227.9 431.5 229.2 428.9 244.3 431.8z"/>
<path fill="#3d3ddd" d="M229.5 431.9L214.8 428.7 216.2 426.2 230.8 429.2z"/>
<path fill="#3c3cd9" d="M216.4 429L202.1 425.7 203.4 423.3 217.7 426.5z"/>
<path fill="#3b3bd6" d="M203.6 426.1L189.6 422.7 190.9 420.3 204.9 423.6z"/>
<path fill="#3a3ad2" d="M191.1 423L177.4 419.5 178.7 417.2 192.4 420.6z"/>
<path fill="#3939ce" d="M178.8 419.9L165.3 416.2 166.6 414 180.2 417.5z"/>
<path fill="#3838cb" d="M166.7 416.6L153.4 412.9 154.8 410.7 168.1 414.4z"/>
<path fill="#3737c7" d="M154.8 413.3L141.7 409.5 143 407.4 156.2 411.1z"/>
<path fill="#3636c4" d="M143.1 409.9L131.4 406.5 132.8 404.4 144.4 407.8z"/>
<path fill="#4d51ff" d="M744.9 342.7L634.6 380.8 635.2 377.5 743 340.4z"/>
<path fill="#4b4fff" d="M644.5 377.5L564.3 402.7 566 399 645 374.3z"/>
<path fill="#4a4eff" d="M571.7 400.5L510.8 417.4 512.9 413.5 573.3 396.9z"/>
<path fill="#494dff" d="M516.5 415.9L468.4 427.2 470.7 423.4 518.6 412.1z"/>
<path fill="#484cff" d="M473.1 426.2L433.8 433.7 436.1 430 475.3 422.4z"/>
<path fill="#484bff" d="M437.7 433.1L404.7 437.9 406.9 434.2 439.9 429.3z"/>
<path fill="#474aff" d="M407.9 437.5L379.5 440.3 381.6 436.8 410.1 433.8z"/>
<path fill="#4649fe" d="M382.3 440.1L357.2 441.5 359.2 438.1 384.4 436.6z"/>
<path fill="#4548fb" d="M359.8 441.4L337.2 441.8 339 438.5 361.7 438z"/>
<path fill="#4447f8" d="M339.5 441.8L318.8 441.3 320.6 438.1 341.3 438.5z"/>
<path fill="#4346f4" d="M321 441.4L301.8 440.2 303.5 437.1 322.7 438.2z"/>
<path fill="#4245f1" d="M303.8 440.3L285.8 438.7 287.4 435.7 305.5 437.3z"/>
<path fill="#4144ed" d="M287.7 438.9L270.7 436.8 272.2 433.9 289.3 435.9z"/>
<path fill="#4043e9" d="M272.5 437L256.2 434.6 257.7 431.8 274 434.1z"/>
<path fill="#3f42e6" d="M258 434.9L242.3 432.2 243.8 429.5 259.4 432.1z"/>
<path fill="#3e41e2" d="M244 432.5L228.9 429.6 230.3 427 245.4 429.8z"/>
<path fill="#3d40de" d="M230.5 429.9L215.8 426.8 217.2 424.3 231.9 427.3z"/>
<path fill="#3c3fda" d="M217.4 427.2L203.1 423.9 204.4 421.4 218.7 424.6z"/>
<path fill="#3b3ed7" d="M204.6 424.3L190.6 420.9 191.9 418.5 205.9 421.8z"/>
<path fill="#3a3dd3" d="M192.1 421.3L178.3 417.8 179.7 415.4 193.4 418.8z"/>
<path fill="#393ccf" d="M179.8 418.1L166.3 414.6 167.7 412.3 181.2 415.8z"/>
<path fill="#383bcc" d="M167.7 414.9L154.4 411.3 155.8 409 169.1 412.6z"/>
<path fill="#373ac8" d="M155.8 411.7L142.7 407.9 144.1 405.8 157.2 409.4z"/>
<path fill="#3639c5" d="M144.1 408.3L132.5 404.9 133.9 402.8 145.5 406.1z"/>
<path fill="#4d54ff" d="M743.5 341L635.1 378.3 635.7 375.1 741.5 338.7z"/>
<path fill="#4b53ff" d="M644.9 375.1L565.6 400 567.2 396.3 645.3 371.9z"/>
<path fill="#4a51ff" d="M572.9 397.8L512.4 414.5 514.5 410.7 574.5 394.1z"/>
<path fill="#4950ff" d="M518.1 413.1L470.1 424.4 472.4 420.6 520.1 409.3zM474.8 423.4L435.5 430.9 437.8 427.2 477 419.6z"/>
<path fill="#484fff" d="M439.4 430.3L406.3 435.2 408.5 431.5 441.6 426.5z"/>
<path fill="#474eff" d="M409.6 434.8L381 437.7 383.1 434.2 411.8 431.1z"/>
<path fill="#464dff" d="M383.9 437.5L358.7 439 360.6 435.6 386 433.9z"/>
<path fill="#454cfc" d="M361.2 438.9L338.6 439.3 340.4 436 363.2 435.5z"/>
<path fill="#444bf9" d="M340.9 439.3L320.1 438.9 321.9 435.7 342.7 436z"/>
<path fill="#434af5" d="M322.3 439L303 437.9 304.7 434.8 324 435.8z"/>
<path fill="#4249f2" d="M305 438.1L287 436.5 288.6 433.5 306.7 435z"/>
<path fill="#4147ee" d="M288.9 436.7L271.8 434.7 273.3 431.8 290.5 433.7z"/>
<path fill="#4046ea" d="M273.6 434.9L257.3 432.5 258.8 429.7 275.1 432z"/>
<path fill="#3f45e7" d="M259 432.8L243.4 430.2 244.8 427.5 260.5 430z"/>
<path fill="#3e44e3" d="M245 430.5L229.9 427.6 231.3 425 246.5 427.8z"/>
<path fill="#3d43df" d="M231.5 428L216.8 424.9 218.2 422.4 232.9 425.3z"/>
<path fill="#3c42db" d="M218.4 425.3L204.1 422.1 205.5 419.6 219.8 422.7z"/>
<path fill="#3b41d8" d="M205.6 422.4L191.6 419.1 193 416.7 207 419.9z"/>
<path fill="#3a40d4" d="M193.1 419.5L179.4 416 180.7 413.6 194.5 417z"/>
<path fill="#393fd0" d="M180.8 416.4L167.3 412.9 168.7 410.5 182.2 414z"/>
<path fill="#383dcd" d="M168.7 413.2L155.4 409.6 156.8 407.4 170.1 410.9z"/>
<path fill="#373cc9" d="M156.9 410L143.7 406.3 145.1 404.1 158.3 407.7z"/>
<path fill="#363bc6" d="M145.1 406.7L133.5 403.4 135 401.2 146.5 404.5z"/>
<path fill="#4d58ff" d="M742 339.3L635.5 375.9 636.1 372.6 740.1 337z"/>
<path fill="#4c57ff" d="M645.2 372.7L566.8 397.2 568.3 393.6 645.6 369.5z"/>
<path fill="#4a55ff" d="M574.1 395.1L513.9 411.7 516 407.9 575.5 391.5z"/>
<path fill="#4954ff" d="M519.6 410.2L471.8 421.5 474 417.8 521.6 406.5z"/>
<path fill="#4953ff" d="M476.4 420.6L437.2 428.2 439.4 424.4 478.6 416.8z"/>
<path fill="#4852ff" d="M441 427.5L407.9 432.5 410.1 428.8 443.2 423.8z"/>
<path fill="#4751ff" d="M411.2 432.1L382.6 435.1 384.6 431.6 413.4 428.4z"/>
<path fill="#4650ff" d="M385.4 434.9L360.1 436.5 362.1 433 387.5 431.3z"/>
<path fill="#454ffe" d="M362.7 436.4L339.9 436.9 341.8 433.5 364.7 432.9z"/>
<path fill="#444efa" d="M342.2 436.9L321.4 436.5 323.2 433.3 344.1 433.5z"/>
<path fill="#434df7" d="M323.6 436.6L304.3 435.6 305.9 432.5 325.3 433.4z"/>
<path fill="#424cf3" d="M306.3 435.8L288.2 434.2 289.8 431.2 308 432.6z"/>
<path fill="#414bef" d="M290.1 434.4L272.9 432.5 274.5 429.6 291.7 431.4z"/>
<path fill="#404aec" d="M274.7 432.7L258.4 430.5 259.9 427.6 276.3 429.8z"/>
<path fill="#3f48e8" d="M260.1 430.7L244.5 428.2 245.9 425.4 261.6 427.9z"/>
<path fill="#3e47e4" d="M246.1 428.5L231 425.7 232.4 423 247.6 425.7z"/>
<path fill="#3d46e0" d="M232.6 426L217.9 423 219.3 420.4 234 423.3z"/>
<path fill="#3c45dd" d="M219.4 423.3L205.1 420.2 206.5 417.7 220.8 420.7z"/>
<path fill="#3b44d9" d="M206.6 420.6L192.6 417.3 194 414.8 208 418z"/>
<path fill="#3a42d5" d="M194.1 417.6L180.4 414.3 181.8 411.9 195.5 415.2z"/>
<path fill="#3941d1" d="M181.8 414.6L168.3 411.1 169.7 408.8 183.2 412.2z"/>
<path fill="#3840ce" d="M169.8 411.5L156.5 407.9 157.9 405.7 171.2 409.2z"/>
<path fill="#373fca" d="M157.9 408.3L144.8 404.7 146.2 402.5 159.3 406z"/>
<path fill="#363ec7" d="M146.2 405.1L134.6 401.8 136 399.6 147.6 402.8z"/>
<path fill="#4d5cff" d="M740.6 337.6L635.9 373.5 636.4 370.2 738.7 335.3z"/>
<path fill="#4c5aff" d="M645.5 370.3L568 394.5 569.5 390.9 645.8 367.1z"/>
<path fill="#4a59ff" d="M575.2 392.4L515.4 408.9 517.4 405.1 576.6 388.8z"/>
<path fill="#4958ff" d="M521.1 407.4L473.4 418.7 475.6 414.9 523 403.7z"/>
<path fill="#4957ff" d="M478 417.7L438.8 425.4 441 421.7 480.2 414z"/>
<path fill="#4856ff" d="M442.7 424.7L409.5 429.8 411.7 426.1 444.9 421z"/>
<path fill="#4755ff" d="M412.8 429.3L384.1 432.5 386.2 428.9 415 425.7z"/>
<path fill="#4654ff" d="M387 432.2L361.6 433.9 363.5 430.5 389 428.7z"/>
<path fill="#4553ff" d="M364.2 433.8L341.3 434.4 343.2 431.1 366.1 430.3z"/>
<path fill="#4452fc" d="M343.6 434.4L322.7 434.1 324.5 430.9 345.5 431z"/>
<path fill="#4350f8" d="M324.9 434.2L305.5 433.3 307.2 430.2 326.7 431z"/>
<path fill="#424ff4" d="M307.5 433.4L289.4 432 291 429 309.2 430.3z"/>
<path fill="#414ef1" d="M291.3 432.2L274.1 430.3 275.7 427.4 292.9 429.1z"/>
<path fill="#404ded" d="M275.9 430.6L259.5 428.4 261 425.5 277.5 427.6z"/>
<path fill="#3f4ce9" d="M261.2 428.6L245.5 426.1 247 423.4 262.8 425.7z"/>
<path fill="#3e4ae5" d="M247.2 426.4L232 423.7 233.5 421 248.7 423.6z"/>
<path fill="#3d49e2" d="M233.6 424L218.9 421.1 220.3 418.5 235.1 421.3z"/>
<path fill="#3c48de" d="M220.5 421.4L206.1 418.3 207.6 415.8 221.9 418.8z"/>
<path fill="#3b47da" d="M207.6 418.7L193.6 415.5 195.1 413 209.1 416.1z"/>
<path fill="#3a45d6" d="M195.1 415.8L181.4 412.5 182.8 410.1 196.5 413.3z"/>
<path fill="#3944d2" d="M182.9 412.8L169.4 409.4 170.8 407 184.3 410.4z"/>
<path fill="#3843cf" d="M170.8 409.8L157.5 406.3 159 403.9 172.2 407.4z"/>
<path fill="#3742cb" d="M158.9 406.6L145.8 403 147.3 400.8 160.4 404.3z"/>
<path fill="#3641c8" d="M147.2 403.4L135.7 400.2 137.1 397.9 148.7 401.2z"/>
<path fill="#4d60ff" d="M739.1 335.9L636.3 371 636.8 367.8 737.2 333.6z"/>
<path fill="#4c5eff" d="M645.7 368L569.1 391.8 570.5 388.2 646 364.8z"/>
<path fill="#4a5cff" d="M576.2 389.7L516.9 406.1 518.8 402.3 577.6 386.1z"/>
<path fill="#495bff" d="M522.6 404.6L475.1 415.9 477.2 412.1 524.4 400.9z"/>
<path fill="#495aff" d="M479.6 414.9L440.5 422.6 442.6 418.9 481.8 411.1z"/>
<path fill="#4859ff" d="M444.3 421.9L411.1 427.1 413.2 423.4 446.5 418.2z"/>
<path fill="#4758ff" d="M414.4 426.6L385.6 429.8 387.7 426.3 416.5 423z"/>
<path fill="#4657ff" d="M388.5 429.6L363 431.4 365 427.9 390.6 426z"/>
<path fill="#4556ff" d="M365.6 431.2L342.7 431.9 344.5 428.6 367.6 427.8z"/>
<path fill="#4455fd" d="M345 431.9L324 431.8 325.8 428.5 346.9 428.5z"/>
<path fill="#4354f9" d="M326.2 431.8L306.8 431 308.5 427.8 328 428.5z"/>
<path fill="#4253f6" d="M308.8 431.1L290.6 429.8 292.2 426.7 310.5 427.9z"/>
<path fill="#4151f2" d="M292.5 429.9L275.2 428.2 276.8 425.2 294.1 426.9z"/>
<path fill="#4050ee" d="M277 428.4L260.6 426.2 262.2 423.4 278.6 425.4z"/>
<path fill="#3f4fea" d="M262.4 426.5L246.6 424.1 248.1 421.3 263.9 423.6z"/>
<path fill="#3e4ee7" d="M248.3 424.3L233.1 421.7 234.6 419 249.8 421.5z"/>
<path fill="#3d4ce3" d="M234.7 422L220 419.1 221.4 416.5 236.2 419.3z"/>
<path fill="#3c4bdf" d="M221.5 419.5L207.2 416.4 208.6 413.9 223 416.8z"/>
<path fill="#3b4adb" d="M208.7 416.8L194.7 413.6 196.1 411.1 210.1 414.2z"/>
<path fill="#3a48d7" d="M196.2 414L182.5 410.7 183.9 408.2 197.6 411.4z"/>
<path fill="#3947d4" d="M183.9 411L170.4 407.7 171.9 405.3 185.3 408.6z"/>
<path fill="#3846d0" d="M171.9 408L158.6 404.5 160.1 402.2 173.3 405.6z"/>
<path fill="#3745cc" d="M160 404.9L146.9 401.4 148.4 399.1 161.5 402.6z"/>
<path fill="#3644c9" d="M148.3 401.8L136.8 398.5 138.3 396.3 149.8 399.5z"/>
<path fill="#4d64ff" d="M737.7 334.2L636.7 368.6 637.1 365.4 735.8 331.9z"/>
<path fill="#4c62ff" d="M645.9 365.6L570.2 389.1 571.6 385.5 646.2 362.4z"/>
<path fill="#4a60ff" d="M577.3 387L518.3 403.3 520.2 399.5 578.6 383.5z"/>
<path fill="#495fff" d="M524 401.9L476.6 413.1 478.7 409.3 525.8 398.1z"/>
<path fill="#495eff" d="M481.2 412.1L442.1 419.8 444.2 416.1 483.3 408.3z"/>
<path fill="#485dff" d="M445.9 419.2L412.7 424.4 414.8 420.7 448 415.4z"/>
<path fill="#475cff" d="M416 423.9L387.1 427.2 389.2 423.6 418.1 420.2z"/>
<path fill="#465bff" d="M390 426.9L364.5 428.8 366.5 425.3 392.1 423.4z"/>
<path fill="#455aff" d="M367.1 428.7L344.1 429.4 345.9 426.1 369.1 425.2z"/>
<path fill="#4459fe" d="M346.4 429.4L325.4 429.3 327.2 426.1 348.3 426z"/>
<path fill="#4357fb" d="M327.5 429.4L308 428.7 309.7 425.5 329.3 426.1z"/>
<path fill="#4256f7" d="M310 428.8L291.8 427.5 293.4 424.4 311.8 425.6z"/>
<path fill="#4155f3" d="M293.7 427.7L276.4 426 278 423 295.3 424.6z"/>
<path fill="#4053ef" d="M278.2 426.2L261.8 424.1 263.3 421.2 279.8 423.2z"/>
<path fill="#3f52ec" d="M263.5 424.3L247.7 422 249.2 419.2 265.1 421.4z"/>
<path fill="#3e51e8" d="M249.4 422.3L234.2 419.7 235.7 416.9 250.9 419.4z"/>
<path fill="#3d4fe4" d="M235.8 420L221 417.2 222.5 414.5 237.3 417.2z"/>
<path fill="#3c4ee0" d="M222.6 417.5L208.2 414.5 209.7 411.9 224.1 414.8z"/>
<path fill="#3b4ddc" d="M209.8 414.9L195.8 411.7 197.2 409.2 211.2 412.2z"/>
<path fill="#3a4bd8" d="M197.2 412.1L183.5 408.9 185 406.4 198.7 409.5z"/>
<path fill="#394ad5" d="M185 409.2L171.5 405.9 173 403.5 186.4 406.7z"/>
<path fill="#3849d1" d="M172.9 406.2L159.7 402.8 161.2 400.5 174.4 403.8z"/>
<path fill="#3748cd" d="M161.1 403.2L148 399.7 149.5 397.4 162.6 400.8z"/>
<path fill="#3646ca" d="M149.4 400.1L137.9 396.9 139.4 394.6 150.9 397.7z"/>
<path fill="#4d68ff" d="M736.3 332.5L637 366.2 637.3 363 734.4 330.1z"/>
<path fill="#4c66ff" d="M646.1 363.3L571.2 386.4 572.6 382.9 646.3 360.1z"/>
<path fill="#4b64ff" d="M578.2 384.4L519.7 400.5 521.6 396.8 579.5 380.8z"/>
<path fill="#4a63ff" d="M525.3 399.1L478.2 410.3 480.2 406.5 527.1 395.4z"/>
<path fill="#4962ff" d="M482.8 409.3L443.7 417.1 445.8 413.4 484.8 405.5z"/>
<path fill="#4861ff" d="M447.5 416.4L414.3 421.6 416.3 418 449.6 412.7z"/>
<path fill="#4760ff" d="M417.6 421.2L388.7 424.6 390.7 421 419.7 417.5z"/>
<path fill="#465fff" d="M391.6 424.3L365.9 426.2 367.9 422.8 393.6 420.7z"/>
<path fill="#455dff" d="M368.5 426.1L345.5 427 347.3 423.6 370.5 422.6z"/>
<path fill="#455cff" d="M347.8 426.9L326.7 426.9 328.5 423.6 349.7 423.5z"/>
<path fill="#445bfc" d="M328.9 427L309.3 426.3 311 423.1 330.7 423.7z"/>
<path fill="#435af8" d="M311.3 426.4L293 425.2 294.7 422.1 313.1 423.2z"/>
<path fill="#4258f4" d="M294.9 425.4L277.6 423.7 279.2 420.7 296.6 422.3z"/>
<path fill="#4157f1" d="M279.4 423.9L262.9 422 264.5 419 281 420.9z"/>
<path fill="#3f55ed" d="M264.7 422.2L248.9 419.9 250.4 417.1 266.2 419.2z"/>
<path fill="#3e54e9" d="M250.5 420.2L235.3 417.6 236.8 414.9 252 417.3z"/>
<path fill="#3d53e5" d="M236.9 417.9L222.1 415.2 223.6 412.5 238.4 415.1z"/>
<path fill="#3c51e1" d="M223.7 415.5L209.3 412.6 210.8 410 225.2 412.8z"/>
<path fill="#3b50dd" d="M210.8 412.9L196.8 409.9 198.3 407.3 212.3 410.3z"/>
<path fill="#3a4eda" d="M198.3 410.2L184.6 407 186.1 404.5 199.8 407.6z"/>
<path fill="#394dd6" d="M186.1 407.4L172.6 404.1 174.1 401.6 187.5 404.9z"/>
<path fill="#384cd2" d="M174 404.4L160.8 401.1 162.3 398.7 175.5 402z"/>
<path fill="#374bcf" d="M162.2 401.4L149.1 398 150.6 395.6 163.7 399z"/>
<path fill="#3649cb" d="M150.5 398.3L139 395.2 140.5 392.9 152 396z"/>
<path fill="#4d6cff" d="M734.9 330.7L637.2 363.8 637.5 360.6 733 328.4z"/>
<path fill="#4c6aff" d="M646.2 360.9L572.2 383.8 573.5 380.2 646.4 357.7z"/>
<path fill="#4b68ff" d="M579.2 381.7L521.1 397.7 522.9 394 580.4 378.2z"/>
<path fill="#4a67ff" d="M526.7 396.3L479.7 407.5 481.7 403.8 528.4 392.6z"/>
<path fill="#4966ff" d="M484.3 406.5L445.2 414.3 447.3 410.6 486.3 402.8z"/>
<path fill="#4865ff" d="M449.1 413.6L415.8 418.9 417.9 415.3 451.1 409.9z"/>
<path fill="#4764ff" d="M419.1 418.5L390.2 421.9 392.2 418.3 421.2 414.8z"/>
<path fill="#4662ff" d="M393.1 421.6L367.4 423.7 369.4 420.2 395.1 418z"/>
<path fill="#4661ff" d="M370 423.5L346.8 424.4 348.7 421.1 372 420z"/>
<path fill="#4560ff" d="M349.2 424.4L328 424.5 329.8 421.2 351.1 421z"/>
<path fill="#445efd" d="M330.2 424.5L310.6 423.9 312.3 420.7 332 421.2z"/>
<path fill="#435df9" d="M312.6 424L294.2 422.9 295.9 419.8 314.4 420.8z"/>
<path fill="#425cf6" d="M296.1 423.1L278.8 421.5 280.4 418.5 297.8 419.9z"/>
<path fill="#415af2" d="M280.6 421.7L264.1 419.8 265.7 416.8 282.2 418.7z"/>
<path fill="#4059ee" d="M265.8 420L250 417.8 251.5 414.9 267.4 417z"/>
<path fill="#3f57ea" d="M251.6 418L236.4 415.6 237.9 412.8 253.2 415.2z"/>
<path fill="#3d56e6" d="M238 415.9L223.2 413.2 224.7 410.5 239.5 413.1z"/>
<path fill="#3c54e2" d="M224.8 413.5L210.4 410.6 211.9 408 226.3 410.8z"/>
<path fill="#3b53df" d="M211.9 411L197.9 408 199.4 405.4 213.4 408.3z"/>
<path fill="#3a52db" d="M199.4 408.3L185.7 405.2 187.2 402.6 200.9 405.7z"/>
<path fill="#3950d7" d="M187.1 405.5L173.7 402.3 175.2 399.8 188.6 403z"/>
<path fill="#384fd3" d="M175.1 402.6L161.9 399.3 163.4 396.9 176.6 400.1z"/>
<path fill="#374dd0" d="M163.3 399.7L150.2 396.2 151.8 393.9 164.8 397.2z"/>
<path fill="#364ccc" d="M151.6 396.6L140.1 393.5 141.7 391.2 153.2 394.3z"/>
<path fill="#4d70ff" d="M733.5 329L637.5 361.4 637.7 358.2 731.7 326.6z"/>
<path fill="#4c6eff" d="M646.4 358.6L573.2 381.1 574.4 377.6 646.5 355.4z"/>
<path fill="#4b6cff" d="M580.1 379.1L522.4 395 524.2 391.3 581.2 375.6z"/>
<path fill="#4a6bff" d="M528 393.6L481.2 404.7 483.2 401 529.7 389.8z"/>
<path fill="#496aff" d="M485.7 403.7L446.8 411.5 448.8 407.8 487.7 400z"/>
<path fill="#4869ff" d="M450.6 410.9L417.3 416.2 419.4 412.5 452.7 407.1z"/>
<path fill="#4767ff" d="M420.7 415.7L391.7 419.3 393.7 415.7 422.7 412.1z"/>
<path fill="#4666ff" d="M394.6 419L368.9 421.1 370.8 417.6 396.6 415.4z"/>
<path fill="#4665ff" d="M371.5 420.9L348.2 421.9 350.1 418.5 373.4 417.4z"/>
<path fill="#4564ff" d="M350.6 421.9L329.4 422 331.2 418.7 352.5 418.5z"/>
<path fill="#4462ff" d="M331.5 422.1L311.9 421.6 313.6 418.3 333.4 418.7z"/>
<path fill="#4361fb" d="M313.9 421.7L295.5 420.6 297.2 417.5 315.7 418.4z"/>
<path fill="#425ff7" d="M297.4 420.7L280 419.3 281.6 416.2 299.1 417.6z"/>
<path fill="#415ef3" d="M281.8 419.4L265.3 417.6 266.9 414.6 283.5 416.4z"/>
<path fill="#405cef" d="M267 417.8L251.1 415.7 252.7 412.8 268.6 414.8z"/>
<path fill="#3f5beb" d="M252.8 415.9L237.5 413.5 239.1 410.7 254.4 413z"/>
<path fill="#3e59e7" d="M239.1 413.8L224.3 411.2 225.9 408.4 240.7 411z"/>
<path fill="#3d58e4" d="M225.9 411.5L211.5 408.7 213 406 227.4 408.7z"/>
<path fill="#3b56e0" d="M213 409L199 406 200.5 403.4 214.6 406.3z"/>
<path fill="#3a55dc" d="M200.5 406.4L186.8 403.3 188.3 400.7 202 403.7z"/>
<path fill="#3953d8" d="M188.3 403.6L174.8 400.4 176.3 398 189.8 401.1z"/>
<path fill="#3852d4" d="M176.2 400.8L163 397.5 164.5 395.1 177.7 398.3z"/>
<path fill="#3750d1" d="M164.4 397.9L151.4 394.5 152.9 392.1 165.9 395.4z"/>
<path fill="#374fcd" d="M152.8 394.9L141.3 391.8 142.8 389.5 154.3 392.5z"/>
<path fill="#4d74ff" d="M732.1 327.3L637.7 359 637.9 355.8 730.3 324.9z"/>
<path fill="#4c73ff" d="M646.4 356.2L574.1 378.5 575.3 374.9 646.5 353.1z"/>
<path fill="#4b70ff" d="M580.9 376.5L523.7 392.2 525.4 388.5 582 373z"/>
<path fill="#4a6fff" d="M529.2 390.8L482.7 401.9 484.6 398.2 530.9 387.1z"/>
<path fill="#496eff" d="M487.2 400.9L448.3 408.8 450.3 405.1 489.1 397.2z"/>
<path fill="#486cff" d="M452.1 408.1L418.9 413.5 420.9 409.8 454.2 404.4z"/>
<path fill="#476bff" d="M422.2 413L393.2 416.6 395.2 413 424.2 409.3z"/>
<path fill="#476aff" d="M396.1 416.3L370.3 418.5 372.2 415 398.1 412.7z"/>
<path fill="#4669ff" d="M372.9 418.3L349.6 419.4 351.5 416 374.9 414.8z"/>
<path fill="#4567ff" d="M352 419.3L330.7 419.6 332.5 416.3 353.9 415.9z"/>
<path fill="#4466ff" d="M332.9 419.6L313.2 419.2 314.9 415.9 334.7 416.3z"/>
<path fill="#4364fc" d="M315.2 419.3L296.7 418.3 298.4 415.1 317 416z"/>
<path fill="#4263f8" d="M298.7 418.4L281.2 417 282.9 413.9 300.4 415.3z"/>
<path fill="#4161f4" d="M283 417.2L266.4 415.4 268.1 412.4 284.7 414.1z"/>
<path fill="#4060f1" d="M268.2 415.6L252.3 413.5 253.9 410.6 269.8 412.6z"/>
<path fill="#3f5eed" d="M254 413.8L238.7 411.4 240.2 408.6 255.6 410.8z"/>
<path fill="#3e5de9" d="M240.3 411.7L225.5 409.1 227 406.4 241.8 408.8z"/>
<path fill="#3d5be5" d="M227 409.4L212.7 406.7 214.2 404 228.6 406.6z"/>
<path fill="#3c59e1" d="M214.2 407L200.1 404.1 201.7 401.5 215.7 404.3z"/>
<path fill="#3b58dd" d="M201.6 404.4L187.9 401.4 189.4 398.8 203.2 401.8z"/>
<path fill="#3a56d9" d="M189.4 401.7L175.9 398.6 177.5 396.1 190.9 399.1z"/>
<path fill="#3955d6" d="M177.4 398.9L164.1 395.7 165.7 393.2 178.9 396.4z"/>
<path fill="#3854d2" d="M165.5 396.1L152.5 392.7 154.1 390.3 167.1 393.6z"/>
<path fill="#3752ce" d="M153.9 393.1L142.4 390.1 144 387.7 155.5 390.7z"/>
<path fill="#4d79ff" d="M730.8 325.5L637.8 356.7 638 353.5 728.9 323.1z"/>
<path fill="#4c77ff" d="M646.5 353.9L575 375.8 576.1 372.3 646.5 350.8z"/>
<path fill="#4b75ff" d="M581.8 373.9L525 389.5 526.6 385.8 582.8 370.4z"/>
<path fill="#4a73ff" d="M530.5 388.1L484.1 399.2 486 395.4 532.1 384.4z"/>
<path fill="#4972ff" d="M488.6 398.2L449.8 406 451.8 402.3 490.5 394.4z"/>
<path fill="#4870ff" d="M453.6 405.3L420.4 410.8 422.4 407.1 455.6 401.6z"/>
<path fill="#476fff" d="M423.7 410.3L394.7 413.9 396.6 410.3 425.7 406.6z"/>
<path fill="#476eff" d="M397.6 413.6L371.7 415.9 373.7 412.4 399.6 410z"/>
<path fill="#466cff" d="M374.4 415.7L351 416.9 352.9 413.4 376.3 412.2z"/>
<path fill="#456bff" d="M353.4 416.8L332.1 417.1 333.9 413.8 355.3 413.4z"/>
<path fill="#446aff" d="M334.3 417.1L314.5 416.8 316.2 413.5 336.1 413.8z"/>
<path fill="#4368fd" d="M316.5 416.9L298 416 299.7 412.8 318.3 413.6z"/>
<path fill="#4266fa" d="M299.9 416.1L282.4 414.7 284.1 411.6 301.6 412.9z"/>
<path fill="#4165f6" d="M284.3 414.9L267.6 413.2 269.3 410.2 285.9 411.8z"/>
<path fill="#4063f2" d="M269.4 413.4L253.5 411.4 255.1 408.4 271 410.4z"/>
<path fill="#3f62ee" d="M255.1 411.6L239.8 409.3 241.4 406.5 256.7 408.7z"/>
<path fill="#3e60ea" d="M241.4 409.6L226.6 407.1 228.2 404.3 243 406.7z"/>
<path fill="#3d5ee6" d="M228.2 407.4L213.8 404.7 215.3 402 229.7 404.6z"/>
<path fill="#3c5de2" d="M215.3 405L201.3 402.1 202.8 399.5 216.9 402.2z"/>
<path fill="#3b5bde" d="M202.8 402.5L189.1 399.5 190.6 396.9 204.3 399.8z"/>
<path fill="#3a5ada" d="M190.5 399.8L177.1 396.7 178.6 394.2 192.1 397.2z"/>
<path fill="#3958d7" d="M178.5 397.1L165.3 393.9 166.9 391.4 180 394.5z"/>
<path fill="#3857d3" d="M166.7 394.2L153.7 391 155.3 388.5 168.3 391.7z"/>
<path fill="#3755cf" d="M155.1 391.3L143.6 388.3 145.2 385.9 156.7 388.9z"/>
<path fill="#4e7dff" d="M729.4 323.7L638 354.3 638.1 351.1 727.6 321.3z"/>
<path fill="#4d7bff" d="M646.5 351.6L575.8 373.2 576.9 369.7 646.5 348.4z"/>
<path fill="#4b79ff" d="M582.6 371.3L526.2 386.7 527.8 383 583.6 367.8z"/>
<path fill="#4a76ff" d="M531.7 385.3L485.5 396.4 487.4 392.6 533.2 381.6z"/>
<path fill="#4975ff" d="M490 395.4L451.3 403.2 453.3 399.5 491.9 391.6z"/>
<path fill="#4974ff" d="M455.1 402.5L421.9 408 423.9 404.4 457.1 398.8z"/>
<path fill="#4873ff" d="M425.2 407.6L396.1 411.3 398.1 407.7 427.2 403.9z"/>
<path fill="#4772ff" d="M399.1 410.9L373.2 413.3 375.1 409.7 401 407.3z"/>
<path fill="#4670ff" d="M375.8 413.1L352.4 414.3 354.3 410.9 377.8 409.5z"/>
<path fill="#456fff" d="M354.8 414.2L333.4 414.6 335.2 411.3 356.7 410.8z"/>
<path fill="#446dff" d="M335.6 414.6L315.8 414.4 317.6 411.1 337.5 411.3z"/>
<path fill="#436cfe" d="M317.8 414.4L299.3 413.6 301 410.4 319.6 411.1z"/>
<path fill="#426afa" d="M301.2 413.7L283.7 412.4 285.4 409.3 302.9 410.5z"/>
<path fill="#4168f6" d="M285.5 412.6L268.9 411 270.5 407.9 287.2 409.5z"/>
<path fill="#4067f3" d="M270.6 411.1L254.7 409.2 256.3 406.2 272.2 408.1z"/>
<path fill="#3f65ef" d="M256.3 409.4L241 407.2 242.6 404.3 257.9 406.4z"/>
<path fill="#3e63eb" d="M242.6 407.4L227.8 405 229.3 402.2 244.2 404.6z"/>
<path fill="#3d62e7" d="M229.3 405.3L214.9 402.7 216.5 399.9 230.9 402.5z"/>
<path fill="#3c60e3" d="M216.5 403L202.4 400.2 204 397.5 218 400.2z"/>
<path fill="#3b5edf" d="M203.9 400.5L190.2 397.6 191.8 394.9 205.5 397.8z"/>
<path fill="#3a5ddb" d="M191.7 397.9L178.2 394.8 179.8 392.3 193.2 395.2z"/>
<path fill="#395bd7" d="M179.6 395.2L166.4 392 168 389.5 181.2 392.6z"/>
<path fill="#385ad4" d="M167.8 392.4L154.9 389.2 156.5 386.7 169.4 389.9z"/>
<path fill="#3758d0" d="M156.2 389.5L144.8 386.6 146.4 384.1 157.8 387z"/>
<path fill="#4f81ff" d="M728.1 321.9L638.1 351.9 638.2 348.8 726.2 319.5z"/>
<path fill="#4e7fff" d="M646.5 349.2L576.7 370.6 577.7 367.1 646.5 346.1z"/>
<path fill="#4c7dff" d="M583.3 368.7L527.4 384 529 380.3 584.3 365.2z"/>
<path fill="#4b7aff" d="M532.8 382.6L486.9 393.6 488.7 389.9 534.3 378.9z"/>
<path fill="#4a79ff" d="M491.4 392.6L452.8 400.5 454.7 396.8 493.2 388.9z"/>
<path fill="#4a78ff" d="M456.6 399.8L423.4 405.3 425.4 401.6 458.5 396z"/>
<path fill="#4977ff" d="M426.7 404.8L397.6 408.6 399.6 405 428.7 401.1z"/>
<path fill="#4876ff" d="M400.5 408.3L374.6 410.7 376.6 407.1 402.5 404.6z"/>
<path fill="#4774ff" d="M377.3 410.5L353.8 411.8 355.7 408.3 379.2 406.9z"/>
<path fill="#4673ff" d="M356.2 411.7L334.8 412.2 336.6 408.8 358.1 408.2z"/>
<path fill="#4571ff" d="M337 412.1L317.1 411.9 318.9 408.7 338.8 408.8z"/>
<path fill="#446ffe" d="M319.2 412L300.5 411.2 302.3 408 320.9 408.7z"/>
<path fill="#436efa" d="M302.5 411.3L284.9 410.1 286.6 407 304.2 408.1z"/>
<path fill="#426cf6" d="M286.8 410.3L270.1 408.7 271.7 405.7 288.5 407.2z"/>
<path fill="#416af2" d="M271.8 408.9L255.9 407 257.5 404 273.5 405.8z"/>
<path fill="#4069ee" d="M257.5 407.2L242.2 405.1 243.8 402.2 259.2 404.2z"/>
<path fill="#3f67eb" d="M243.8 405.3L228.9 402.9 230.5 400.1 245.4 402.4z"/>
<path fill="#3e65e7" d="M230.5 403.2L216.1 400.6 217.7 397.9 232.1 400.3z"/>
<path fill="#3d63e3" d="M217.6 400.9L203.6 398.2 205.2 395.5 219.2 398.1z"/>
<path fill="#3c62df" d="M205.1 398.5L191.4 395.6 192.9 393 206.7 395.8z"/>
<path fill="#3b60db" d="M192.8 395.9L179.4 392.9 181 390.4 194.4 393.3z"/>
<path fill="#3a5ed7" d="M180.8 393.3L167.6 390.2 169.2 387.6 182.4 390.7z"/>
<path fill="#395dd4" d="M169 390.5L156 387.3 157.7 384.9 170.6 388z"/>
<path fill="#385bd0" d="M157.4 387.7L146 384.8 147.6 382.3 159 385.2z"/>
<path fill="#5085ff" d="M726.7 320.1L638.2 349.6 638.3 346.4 724.9 317.7z"/>
<path fill="#4f83ff" d="M646.5 346.9L577.5 368 578.5 364.4 646.4 343.8z"/>
<path fill="#4d81ff" d="M584 366.1L528.6 381.2 530.1 377.6 585 362.6z"/>
<path fill="#4c7fff" d="M533.9 379.9L488.3 390.8 490.1 387.1 535.4 376.2z"/>
<path fill="#4b7dff" d="M492.7 389.8L454.2 397.7 456.1 394 494.5 386.1z"/>
<path fill="#4b7cff" d="M458 397L424.8 402.6 426.8 398.9 459.9 393.3z"/>
<path fill="#4a7bff" d="M428.2 402.1L399.1 405.9 401 402.3 430.1 398.4z"/>
<path fill="#4979ff" d="M402 405.6L376.1 408 378 404.5 404 401.9z"/>
<path fill="#4878ff" d="M378.7 407.8L355.2 409.2 357.1 405.8 380.6 404.3z"/>
<path fill="#4776ff" d="M357.6 409.1L336.1 409.7 338 406.3 359.5 405.6z"/>
<path fill="#4675ff" d="M338.3 409.6L318.4 409.5 320.2 406.2 340.2 406.2z"/>
<path fill="#4573fe" d="M320.5 409.6L301.8 408.9 303.6 405.6 322.3 406.2z"/>
<path fill="#4471fa" d="M303.8 409L286.2 407.8 287.9 404.7 305.5 405.7z"/>
<path fill="#4370f6" d="M288 408L271.3 406.4 273 403.4 289.7 404.8z"/>
<path fill="#426ef2" d="M273.1 406.6L257.1 404.8 258.7 401.8 274.7 403.5z"/>
<path fill="#416cee" d="M258.7 405L243.4 402.9 245 400 260.4 402z"/>
<path fill="#406aea" d="M245 403.1L230.1 400.8 231.7 398 246.6 400.2z"/>
<path fill="#3f69e6" d="M231.7 401.1L217.3 398.6 218.9 395.8 233.3 398.2z"/>
<path fill="#3e67e3" d="M218.8 398.9L204.8 396.2 206.4 393.4 220.4 396z"/>
<path fill="#3d65df" d="M206.2 396.5L192.5 393.7 194.1 391 207.8 393.7z"/>
<path fill="#3c63db" d="M194 394L180.6 391 182.2 388.4 195.6 391.3z"/>
<path fill="#3b62d7" d="M182 391.3L168.8 388.3 170.4 385.7 183.6 388.7z"/>
<path fill="#3a60d4" d="M170.2 388.6L157.2 385.5 158.9 383 171.8 386.1z"/>
<path fill="#395ed0" d="M158.6 385.8L147.2 383 148.9 380.5 160.3 383.3z"/>
<path fill="#5189ff" d="M725.4 318.3L638.3 347.2 638.3 344 723.6 315.9z"/>
<path fill="#5087ff" d="M646.5 344.6L578.2 365.4 579.2 361.8 646.4 341.5z"/>
<path fill="#4f85ff" d="M584.7 363.5L529.7 378.5 531.2 374.8 585.6 360z"/>
<path fill="#4d83ff" d="M535 377.1L489.6 388.1 491.4 384.3 536.5 373.5z"/>
<path fill="#4c81ff" d="M494 387.1L455.6 395 457.5 391.2 495.8 383.3z"/>
<path fill="#4c80ff" d="M459.4 394.2L426.3 399.8 428.3 396.2 461.3 390.5z"/>
<path fill="#4b7fff" d="M429.6 399.3L400.5 403.2 402.5 399.6 431.6 395.7z"/>
<path fill="#4a7dff" d="M403.5 402.9L377.5 405.4 379.4 401.8 405.4 399.2z"/>
<path fill="#497cff" d="M380.1 405.2L356.6 406.6 358.5 403.2 382.1 401.6z"/>
<path fill="#487aff" d="M359 406.5L337.5 407.2 339.3 403.8 360.9 403.1z"/>
<path fill="#4779ff" d="M339.7 407.1L319.7 407.1 321.5 403.7 341.6 403.7z"/>
<path fill="#4677fe" d="M321.8 407.1L303.1 406.5 304.9 403.2 323.6 403.8z"/>
<path fill="#4575fa" d="M305.1 406.6L287.4 405.5 289.2 402.3 306.8 403.3z"/>
<path fill="#4473f6" d="M289.3 405.6L272.5 404.2 274.2 401.1 291 402.5z"/>
<path fill="#4371f2" d="M274.3 404.3L258.3 402.6 259.9 399.6 276 401.2z"/>
<path fill="#4270ee" d="M260 402.8L244.6 400.7 246.2 397.8 261.6 399.8z"/>
<path fill="#416eea" d="M246.2 401L231.3 398.7 232.9 395.8 247.8 398z"/>
<path fill="#406ce6" d="M232.9 399L218.5 396.5 220.1 393.7 234.5 396.1z"/>
<path fill="#3f6ae2" d="M220 396.8L205.9 394.2 207.6 391.4 221.6 394z"/>
<path fill="#3e68df" d="M207.4 394.4L193.7 391.7 195.3 389 209 391.7z"/>
<path fill="#3d67db" d="M195.2 392L181.7 389.1 183.4 386.5 196.8 389.3z"/>
<path fill="#3c65d7" d="M183.2 389.4L170 386.4 171.6 383.8 184.8 386.8z"/>
<path fill="#3b63d3" d="M171.4 386.7L158.5 383.6 160.1 381.1 173 384.1z"/>
<path fill="#3a61d0" d="M159.8 384L148.4 381.1 150.1 378.7 161.5 381.4z"/>
<path fill="#528eff" d="M724 316.5L638.3 344.9 638.3 341.7 722.2 314.1z"/>
<path fill="#518cff" d="M646.4 342.3L578.9 362.8 579.9 359.3 646.3 339.2z"/>
<path fill="#5089ff" d="M585.4 360.9L530.8 375.8 532.3 372.1 586.2 357.4z"/>
<path fill="#4e87ff" d="M536.1 374.4L490.9 385.3 492.6 381.6 537.5 370.8z"/>
<path fill="#4d85ff" d="M495.3 384.3L457 392.2 458.9 388.5 497 380.6z"/>
<path fill="#4d84ff" d="M460.8 391.5L427.8 397.1 429.7 393.4 462.7 387.7z"/>
<path fill="#4c83ff" d="M431.1 396.6L402 400.5 403.9 396.9 433 392.9z"/>
<path fill="#4b81ff" d="M404.9 400.2L378.9 402.8 380.8 399.2 406.8 396.5z"/>
<path fill="#4a80ff" d="M381.6 402.5L358 404.1 359.9 400.6 383.5 399z"/>
<path fill="#497eff" d="M360.4 404L338.9 404.6 340.7 401.2 362.3 400.5z"/>
<path fill="#487cff" d="M341.1 404.6L321.1 404.6 322.9 401.3 342.9 401.2z"/>
<path fill="#477bfd" d="M323.1 404.6L304.4 404.1 306.2 400.8 325 401.3z"/>
<path fill="#4679fa" d="M306.4 404.2L288.7 403.1 290.5 400 308.1 400.9z"/>
<path fill="#4577f6" d="M290.6 403.3L273.8 401.9 275.5 398.8 292.3 400.1z"/>
<path fill="#4475f2" d="M275.5 402L259.5 400.3 261.2 397.3 277.2 398.9z"/>
<path fill="#4373ee" d="M261.2 400.5L245.8 398.6 247.4 395.6 262.9 397.5z"/>
<path fill="#4271ea" d="M247.4 398.8L232.5 396.6 234.2 393.7 249.1 395.8z"/>
<path fill="#416fe6" d="M234.1 396.8L219.7 394.4 221.3 391.6 235.7 393.9z"/>
<path fill="#406ee2" d="M221.2 394.7L207.1 392.1 208.8 389.3 222.8 391.8z"/>
<path fill="#3e6cde" d="M208.6 392.4L194.9 389.7 196.5 387 210.3 389.6z"/>
<path fill="#3d6adb" d="M196.4 390L183 387.1 184.6 384.5 198 387.3z"/>
<path fill="#3c68d7" d="M184.4 387.4L171.2 384.5 172.9 381.9 186 384.8z"/>
<path fill="#3b66d3" d="M172.6 384.8L159.7 381.8 161.3 379.2 174.3 382.2z"/>
<path fill="#3a65d0" d="M161.1 382.1L149.7 379.3 151.3 376.8 162.7 379.5z"/>
<path fill="#5392ff" d="M722.7 314.7L638.3 342.5 638.3 339.3 720.9 312.2z"/>
<path fill="#5290ff" d="M646.3 340L579.6 360.2 580.5 356.7 646.1 336.9z"/>
<path fill="#518eff" d="M586 358.3L531.9 373.1 533.3 369.4 586.8 354.9z"/>
<path fill="#4f8bff" d="M537.2 371.7L492.2 382.5 493.9 378.8 538.5 368.1z"/>
<path fill="#4e89ff" d="M496.6 381.5L458.4 389.4 460.3 385.7 498.3 377.8z"/>
<path fill="#4e88ff" d="M462.2 388.7L429.2 394.4 431.1 390.7 464.1 385z"/>
<path fill="#4d87ff" d="M432.5 393.9L403.4 397.8 405.3 394.2 434.4 390.2z"/>
<path fill="#4c85ff" d="M406.4 397.5L380.3 400.1 382.3 396.5 408.3 393.8z"/>
<path fill="#4b84ff" d="M383 399.9L359.4 401.5 361.3 398 384.9 396.3z"/>
<path fill="#4a82ff" d="M361.8 401.4L340.2 402.1 342.1 398.7 363.7 397.8z"/>
<path fill="#4980ff" d="M342.5 402.1L322.4 402.1 324.2 398.8 344.3 398.6z"/>
<path fill="#487efd" d="M324.5 402.1L305.7 401.7 307.5 398.4 326.3 398.8z"/>
<path fill="#477df9" d="M307.7 401.7L290 400.8 291.7 397.6 309.5 398.5z"/>
<path fill="#467bf6" d="M291.8 400.9L275 399.6 276.8 396.4 293.6 397.7z"/>
<path fill="#4579f2" d="M276.8 399.7L260.8 398.1 262.4 395 278.5 396.6z"/>
<path fill="#4477ee" d="M262.4 398.3L247 396.4 248.7 393.4 264.1 395.2z"/>
<path fill="#4375ea" d="M248.6 396.6L233.7 394.4 235.4 391.5 250.3 393.6z"/>
<path fill="#4273e6" d="M235.3 394.7L220.9 392.3 222.5 389.5 237 391.7z"/>
<path fill="#4071e2" d="M222.4 392.6L208.3 390.1 210 387.3 224 389.7z"/>
<path fill="#3f6fde" d="M209.8 390.3L196.1 387.7 197.8 384.9 211.5 387.5z"/>
<path fill="#3e6ddb" d="M197.6 388L184.2 385.2 185.8 382.5 199.2 385.2z"/>
<path fill="#3d6bd7" d="M185.6 385.5L172.4 382.6 174.1 379.9 187.2 382.8z"/>
<path fill="#3c6ad3" d="M173.8 382.9L160.9 379.9 162.6 377.3 175.5 380.3z"/>
<path fill="#3b68d0" d="M162.3 380.2L150.9 377.5 152.6 374.9 164 377.6z"/>
<path fill="#5496ff" d="M721.4 312.9L638.3 340.2 638.3 337 719.6 310.4z"/>
<path fill="#5394ff" d="M646.2 337.7L580.3 357.6 581.1 354.1 646 334.6z"/>
<path fill="#5292ff" d="M586.6 355.7L532.9 370.4 534.3 366.7 587.4 352.3z"/>
<path fill="#508fff" d="M538.2 369L493.4 379.8 495.1 376 539.5 365.4z"/>
<path fill="#4f8eff" d="M497.8 378.8L459.8 386.7 461.6 382.9 499.5 375.1z"/>
<path fill="#4f8cff" d="M463.6 385.9L430.6 391.6 432.5 387.9 465.4 382.2z"/>
<path fill="#4e8bff" d="M433.9 391.1L404.8 395.1 406.8 391.5 435.8 387.4z"/>
<path fill="#4d89ff" d="M407.8 394.8L381.8 397.5 383.7 393.9 409.7 391.1z"/>
<path fill="#4c88ff" d="M384.4 397.2L360.8 398.9 362.7 395.4 386.3 393.6z"/>
<path fill="#4b86ff" d="M363.2 398.8L341.6 399.6 343.4 396.1 365.1 395.2z"/>
<path fill="#4a84ff" d="M343.8 399.5L323.8 399.6 325.6 396.3 345.7 396.1z"/>
<path fill="#4982fd" d="M325.8 399.7L307.1 399.2 308.8 395.9 327.6 396.3z"/>
<path fill="#4880f9" d="M309 399.3L291.3 398.4 293 395.2 310.8 396z"/>
<path fill="#477ff5" d="M293.1 398.5L276.3 397.3 278 394.1 294.9 395.3z"/>
<path fill="#467df2" d="M278.1 397.4L262 395.8 263.7 392.7 279.8 394.3z"/>
<path fill="#457bee" d="M263.7 396L248.2 394.1 249.9 391.1 265.4 392.9z"/>
<path fill="#4479ea" d="M249.9 394.4L235 392.3 236.6 389.3 251.6 391.3z"/>
<path fill="#4377e6" d="M236.5 392.5L222.1 390.2 223.7 387.3 238.2 389.5z"/>
<path fill="#4175e2" d="M223.6 390.4L209.6 388 211.2 385.2 225.3 387.6z"/>
<path fill="#4073de" d="M211 388.3L197.3 385.6 199 382.9 212.7 385.4z"/>
<path fill="#3f71da" d="M198.8 385.9L185.4 383.2 187.1 380.5 200.5 383.2z"/>
<path fill="#3e6fd7" d="M186.8 383.5L173.7 380.6 175.4 378 188.5 380.8z"/>
<path fill="#3d6dd3" d="M175.1 380.9L162.2 378 163.9 375.4 176.7 378.3z"/>
<path fill="#3c6bd0" d="M163.5 378.3L152.2 375.6 153.9 373 165.2 375.7z"/>
<path fill="#559bff" d="M720 311L638.3 337.8 638.2 334.6 718.3 308.5z"/>
<path fill="#5499ff" d="M646.1 335.4L580.9 355 581.7 351.5 645.8 332.3z"/>
<path fill="#5396ff" d="M587.2 353.2L534 367.6 535.3 364 587.9 349.7z"/>
<path fill="#5294ff" d="M539.1 366.3L494.7 377 496.3 373.3 540.4 362.7z"/>
<path fill="#5092ff" d="M499.1 376L461.2 383.9 462.9 380.2 500.7 372.3z"/>
<path fill="#5090ff" d="M464.9 383.2L432 388.9 433.9 385.2 466.7 379.4z"/>
<path fill="#4f8fff" d="M435.3 388.4L406.3 392.4 408.2 388.8 437.2 384.7z"/>
<path fill="#4e8dff" d="M409.2 392.1L383.2 394.8 385.1 391.2 411.1 388.4z"/>
<path fill="#4d8cff" d="M385.8 394.6L362.2 396.3 364.1 392.7 387.7 391z"/>
<path fill="#4c8aff" d="M364.6 396.1L343 397 344.8 393.6 366.5 392.6z"/>
<path fill="#4b88ff" d="M345.2 397L325.1 397.1 326.9 393.8 347.1 393.5z"/>
<path fill="#4a86fd" d="M327.2 397.2L308.4 396.8 310.2 393.5 329 393.8z"/>
<path fill="#4984f9" d="M310.3 396.9L292.6 396 294.3 392.8 312.1 393.5z"/>
<path fill="#4882f5" d="M294.4 396.1L277.6 394.9 279.3 391.8 296.2 392.9z"/>
<path fill="#4780f1" d="M279.4 395.1L263.3 393.5 265 390.4 281.1 391.9z"/>
<path fill="#467eed" d="M264.9 393.7L249.5 391.9 251.2 388.9 266.7 390.6z"/>
<path fill="#457cea" d="M251.1 392.1L236.2 390.1 237.9 387.1 252.8 389.1z"/>
<path fill="#447ae6" d="M237.8 390.3L223.3 388.1 225 385.2 239.5 387.3z"/>
<path fill="#4278e2" d="M224.8 388.3L210.8 385.9 212.5 383 226.5 385.4z"/>
<path fill="#4176de" d="M212.3 386.2L198.6 383.6 200.3 380.8 214 383.3z"/>
<path fill="#4074da" d="M200 383.9L186.6 381.2 188.3 378.4 201.7 381.1z"/>
<path fill="#3f72d7" d="M188 381.5L174.9 378.7 176.6 376 189.7 378.7z"/>
<path fill="#3e70d3" d="M176.3 379L163.4 376.1 165.1 373.4 178 376.3z"/>
<path fill="#3d6ed0" d="M164.8 376.4L153.4 373.7 155.2 371.1 166.5 373.7z"/>
<path fill="#579fff" d="M718.7 309.2L638.2 335.5 638.1 332.3 717 306.7z"/>
<path fill="#559dff" d="M645.9 333.1L581.5 352.4 582.3 348.9 645.7 329.9z"/>
<path fill="#549bff" d="M587.7 350.6L535 364.9 536.2 361.3 588.4 347.2z"/>
<path fill="#5398ff" d="M540.1 363.6L495.9 374.2 497.5 370.5 541.3 360z"/>
<path fill="#5296ff" d="M500.3 373.3L462.5 381.1 464.3 377.4 501.8 369.6z"/>
<path fill="#5195ff" d="M466.2 380.4L433.4 386.1 435.3 382.4 468 376.7z"/>
<path fill="#5093ff" d="M436.7 385.6L407.7 389.7 409.6 386.1 438.5 381.9z"/>
<path fill="#4f92ff" d="M410.6 389.3L384.6 392.1 386.5 388.5 412.5 385.7z"/>
<path fill="#4e90ff" d="M387.2 391.9L363.6 393.7 365.5 390.1 389.1 388.3z"/>
<path fill="#4d8eff" d="M366 393.5L344.3 394.4 346.2 391 367.9 390z"/>
<path fill="#4c8cff" d="M346.6 394.4L326.4 394.6 328.3 391.2 348.4 390.9z"/>
<path fill="#4b8afc" d="M328.5 394.6L309.7 394.3 311.5 391 330.4 391.2z"/>
<path fill="#4a88f9" d="M311.7 394.4L293.9 393.6 295.7 390.4 313.5 391.1z"/>
<path fill="#4986f5" d="M295.7 393.7L278.9 392.6 280.6 389.4 297.5 390.5z"/>
<path fill="#4884f1" d="M280.6 392.7L264.5 391.2 266.3 388.1 282.4 389.5z"/>
<path fill="#4782ed" d="M266.2 391.4L250.7 389.7 252.5 386.6 267.9 388.3z"/>
<path fill="#4680e9" d="M252.4 389.9L237.4 387.9 239.1 384.9 254.1 386.8z"/>
<path fill="#447ee6" d="M239 388.1L224.6 385.9 226.3 383 240.7 385.1z"/>
<path fill="#437ce2" d="M226.1 386.2L212 383.8 213.7 380.9 227.8 383.2z"/>
<path fill="#427ade" d="M213.5 384L199.8 381.5 201.5 378.7 215.2 381.2z"/>
<path fill="#4178da" d="M201.3 381.8L187.9 379.2 189.6 376.4 203 379z"/>
<path fill="#4076d7" d="M189.3 379.4L176.2 376.7 177.9 374 191 376.7z"/>
<path fill="#3f74d3" d="M177.6 377L164.7 374.1 166.4 371.5 179.3 374.3z"/>
<path fill="#3e72cf" d="M166 374.4L154.7 371.8 156.5 369.2 167.8 371.8z"/>
<path fill="#58a3ff" d="M717.4 307.3L638.2 333.1 638.1 329.9 715.7 304.8z"/>
<path fill="#57a1ff" d="M645.7 330.7L582.1 349.8 582.8 346.3 645.5 327.6z"/>
<path fill="#559fff" d="M588.2 348.1L535.9 362.2 537.2 358.6 588.9 344.6z"/>
<path fill="#549cff" d="M541 360.9L497.1 371.5 498.6 367.8 542.2 357.3z"/>
<path fill="#539aff" d="M501.4 370.5L463.8 378.4 465.5 374.6 503 366.8z"/>
<path fill="#5299ff" d="M467.5 377.6L434.8 383.4 436.6 379.7 469.3 373.9z"/>
<path fill="#5197ff" d="M438.1 382.9L409.1 387 410.9 383.3 439.9 379.2z"/>
<path fill="#5096ff" d="M412 386.6L386 389.5 387.9 385.9 413.9 383z"/>
<path fill="#4f94ff" d="M388.6 389.2L365 391 366.9 387.5 390.5 385.6z"/>
<path fill="#4e92ff" d="M367.4 390.9L345.7 391.9 347.6 388.4 369.3 387.3z"/>
<path fill="#4d90ff" d="M347.9 391.8L327.8 392.1 329.6 388.7 349.8 388.3z"/>
<path fill="#4c8efc" d="M329.9 392.1L311 391.9 312.8 388.5 331.7 388.7z"/>
<path fill="#4b8cf8" d="M313 391.9L295.2 391.2 297 387.9 314.8 388.6z"/>
<path fill="#4a8af5" d="M297.1 391.3L280.2 390.2 281.9 387 298.8 388z"/>
<path fill="#4988f1" d="M281.9 390.4L265.8 388.9 267.5 385.8 283.7 387.1z"/>
<path fill="#4886ed" d="M267.5 389.1L252 387.4 253.7 384.3 269.2 386z"/>
<path fill="#4784e9" d="M253.6 387.6L238.7 385.7 240.4 382.7 255.4 384.5z"/>
<path fill="#4582e5" d="M240.3 385.9L225.8 383.7 227.5 380.8 242 382.9z"/>
<path fill="#447fe2" d="M227.3 384L213.3 381.7 215 378.8 229 381z"/>
<path fill="#437dde" d="M214.8 381.9L201.1 379.4 202.8 376.6 216.5 379z"/>
<path fill="#427bda" d="M202.5 379.7L189.1 377.1 190.9 374.3 204.2 376.9z"/>
<path fill="#4179d6" d="M190.6 377.4L177.4 374.7 179.2 372 192.3 374.6z"/>
<path fill="#4077d3" d="M178.8 375L166 372.2 167.7 369.5 180.6 372.3z"/>
<path fill="#3f75cf" d="M167.3 372.5L156 369.9 157.8 367.2 169.1 369.8z"/>
<path fill="#59a8ff" d="M716.1 305.5L638.1 330.8 637.9 327.6 714.4 302.9z"/>
<path fill="#58a6ff" d="M645.5 328.4L582.6 347.2 583.3 343.8 645.3 325.3z"/>
<path fill="#56a3ff" d="M588.7 345.5L536.9 359.5 538.1 355.9 589.3 342.1z"/>
<path fill="#55a1ff" d="M541.9 358.2L498.2 368.7 499.8 365 543.1 354.6z"/>
<path fill="#549eff" d="M502.6 367.8L465.1 375.6 466.8 371.9 504.1 364.1z"/>
<path fill="#539dff" d="M468.8 374.9L436.1 380.6 438 376.9 470.5 371.1zM414.8 381.2L388.8 384.1 390.6 380.5 416.6 377.5z"/>
<path fill="#529cff" d="M439.4 380.1L410.5 384.3 412.3 380.6 441.2 376.4z"/>
<path fill="#519aff" d="M413.4 383.9L387.4 386.8 389.3 383.2 415.3 380.2zM370.2 385.6L348.5 386.7 350.3 383.2 372.1 382z"/>
<path fill="#5098ff" d="M390 386.5L366.4 388.4 368.3 384.8 391.9 382.9z"/>
<path fill="#4f96ff" d="M368.8 388.3L347.1 389.3 348.9 385.8 370.7 384.7z"/>
<path fill="#4e94ff" d="M349.3 389.2L329.2 389.6 331 386.2 351.2 385.7z"/>
<path fill="#4d92fc" d="M331.2 389.6L312.4 389.4 314.2 386 333.1 386.2z"/>
<path fill="#4c90f8" d="M314.3 389.4L296.5 388.8 298.3 385.5 316.1 386.1z"/>
<path fill="#4b8ef4" d="M298.4 388.9L281.5 387.8 283.2 384.6 300.2 385.6z"/>
<path fill="#4a8cf1" d="M283.2 388L267.1 386.6 268.8 383.5 285 384.7z"/>
<path fill="#498aed" d="M268.8 386.8L253.3 385.1 255 382 270.5 383.6z"/>
<path fill="#4887e9" d="M254.9 385.3L240 383.4 241.7 380.4 256.7 382.2z"/>
<path fill="#4685e5" d="M241.5 383.6L227.1 381.6 228.8 378.6 243.3 380.6z"/>
<path fill="#4583e1" d="M228.6 381.8L214.6 379.5 216.3 376.6 230.3 378.8z"/>
<path fill="#4481de" d="M216 379.8L202.3 377.4 204.1 374.5 217.8 376.9z"/>
<path fill="#437fda" d="M203.8 377.6L190.4 375.1 192.1 372.3 205.5 374.8z"/>
<path fill="#427dd6" d="M191.8 375.3L178.7 372.7 180.5 369.9 193.6 372.5z"/>
<path fill="#417ad3" d="M180.1 373L167.2 370.2 169 367.5 181.9 370.2z"/>
<path fill="#4078cf" d="M168.6 370.5L157.3 367.9 159.1 365.3 170.4 367.8z"/>
<path fill="#5aabff" d="M714.8 303.6L638 328.4 637.8 325.3 713.1 301zM544.5 350.2L501.6 360.5 503.1 356.8 545.5 346.6z"/>
<path fill="#59a9ff" d="M645.3 326.1L583.2 344.7 583.8 341.2 645 323z"/>
<path fill="#58a7ff" d="M589.2 342.9L537.8 356.8 538.9 353.2 589.8 339.5zM472.6 366.6L440.1 372.4 441.9 368.6 474.2 362.8z"/>
<path fill="#57a4ff" d="M542.8 355.5L499.4 366 500.9 362.3 543.9 351.9z"/>
<path fill="#55a2ff" d="M503.7 365L466.4 372.8 468.1 369.1 505.2 361.3zM442.1 374.6L413.2 378.8 415.1 375.1 443.9 370.9zM394.2 378.4L370.5 380.5 372.4 376.9 396 374.8z"/>
<path fill="#54a0ff" d="M470.1 372.1L437.5 377.9 439.3 374.2 471.8 368.4z"/>
<path fill="#549fff" d="M440.8 377.4L411.8 381.6 413.7 377.9 442.6 373.6z"/>
<path fill="#529bff" d="M391.4 383.8L367.8 385.8 369.6 382.2 393.3 380.2z"/>
<path fill="#5098fd" d="M350.7 386.6L330.5 387.1 332.3 383.6 352.6 383.1z"/>
<path fill="#4f96fa" d="M332.6 387L313.7 386.9 315.5 383.5 334.4 383.6z"/>
<path fill="#4e93f6" d="M315.7 387L297.8 386.4 299.6 383.1 317.5 383.6z"/>
<path fill="#4d91f3" d="M299.7 386.4L282.8 385.5 284.5 382.2 301.5 383.1z"/>
<path fill="#4b8fef" d="M284.5 385.6L268.4 384.3 270.1 381.1 286.3 382.3z"/>
<path fill="#4a8deb" d="M270.1 384.4L254.6 382.8 256.3 379.7 271.8 381.3z"/>
<path fill="#498ae7" d="M256.2 383L241.3 381.2 243 378.1 258 379.9z"/>
<path fill="#4888e4" d="M242.8 381.4L228.4 379.4 230.1 376.4 244.6 378.3z"/>
<path fill="#4786e0" d="M229.9 379.6L215.8 377.4 217.6 374.4 231.6 376.6z"/>
<path fill="#4584dc" d="M217.3 377.6L203.6 375.2 205.4 372.4 219 374.7z"/>
<path fill="#4482d9" d="M205.1 375.5L191.7 373 193.4 370.2 206.8 372.6z"/>
<path fill="#437fd5" d="M193.1 373.3L180 370.6 181.8 367.9 194.9 370.5z"/>
<path fill="#427dd1" d="M181.4 370.9L168.6 368.2 170.3 365.5 183.2 368.2z"/>
<path fill="#417bce" d="M169.9 368.5L158.6 366 160.4 363.3 171.7 365.8z"/>
<path fill="#5cafff" d="M713.5 301.7L637.8 326.1 637.6 322.9 711.8 299.1z"/>
<path fill="#5badff" d="M645.1 323.8L583.7 342.1 584.3 338.6 644.8 320.7z"/>
<path fill="#5aaaff" d="M589.6 340.4L538.6 354.1 539.8 350.5 590.2 337z"/>
<path fill="#58a8ff" d="M543.6 352.9L500.5 363.2 502 359.5 544.8 349.3zM505.9 359.5L468.9 367.3 470.5 363.6 507.3 355.8z"/>
<path fill="#57a5ff" d="M504.8 362.3L467.6 370.1 469.3 366.3 506.2 358.6z"/>
<path fill="#56a4ff" d="M471.3 369.3L438.8 375.1 440.6 371.4 473 365.6zM417.5 375.7L391.5 378.7 393.4 375.1 419.3 372z"/>
<path fill="#54a1ff" d="M416.1 378.4L390.2 381.4 392 377.8 418 374.7z"/>
<path fill="#539fff" d="M392.8 381.2L369.2 383.1 371 379.5 394.7 377.5z"/>
<path fill="#529dff" d="M371.6 383L349.8 384.1 351.7 380.6 373.4 379.4z"/>
<path fill="#519bfc" d="M352.1 384L331.9 384.5 333.7 381 353.9 380.5z"/>
<path fill="#5099f8" d="M334 384.5L315 384.4 316.9 381 335.8 381z"/>
<path fill="#4f97f5" d="M317 384.4L299.2 383.9 301 380.6 318.8 381z"/>
<path fill="#4e94f1" d="M301 384L284.1 383.1 285.9 379.8 302.8 380.7z"/>
<path fill="#4d92ed" d="M285.9 383.2L269.7 381.9 271.5 378.7 287.6 379.9z"/>
<path fill="#4c90ea" d="M271.4 382.1L255.9 380.5 257.6 377.4 273.2 378.9z"/>
<path fill="#4a8ee6" d="M257.5 380.7L242.5 378.9 244.3 375.9 259.3 377.6z"/>
<path fill="#498be2" d="M244.1 379.1L229.6 377.1 231.4 374.1 245.9 376.1z"/>
<path fill="#4889df" d="M231.2 377.4L217.1 375.2 218.9 372.3 232.9 374.4z"/>
<path fill="#4787db" d="M218.6 375.4L204.9 373.1 206.7 370.2 220.3 372.5z"/>
<path fill="#4684d7" d="M206.4 373.4L193 370.9 194.7 368.1 208.1 370.5z"/>
<path fill="#4482d4" d="M194.4 371.2L181.3 368.6 183.1 365.8 196.2 368.3z"/>
<path fill="#4380d0" d="M182.7 368.9L169.9 366.2 171.7 363.5 184.5 366.1z"/>
<path fill="#427ecd" d="M171.2 366.5L159.9 364 161.8 361.3 173 363.7z"/>
<path fill="#5db2ff" d="M712.2 299.8L637.7 323.7 637.5 320.6 710.5 297.2zM590.4 335.3L540.3 348.8 541.4 345.1 590.9 331.9zM546 344.8L503.7 355 505.1 351.3 547 341.2z"/>
<path fill="#5cb0ff" d="M644.9 321.5L584.1 339.5 584.7 336.1 644.5 318.4z"/>
<path fill="#5baeff" d="M590 337.8L539.5 351.4 540.6 347.8 590.6 334.4zM475 361L442.7 366.8 444.5 363.1 476.5 357.3z"/>
<path fill="#57a6ff" d="M443.4 371.8L414.6 376.1 416.4 372.4 445.2 368.1z"/>
<path fill="#54a0fd" d="M373 380.3L351.2 381.5 353.1 378 374.8 376.7z"/>
<path fill="#539efa" d="M353.4 381.4L333.2 381.9 335.1 378.5 355.3 377.9z"/>
<path fill="#529cf6" d="M335.3 381.9L316.4 381.9 318.2 378.5 337.2 378.4z"/>
<path fill="#519af3" d="M318.4 381.9L300.5 381.4 302.3 378.1 320.2 378.5z"/>
<path fill="#4f98ef" d="M302.4 381.5L285.4 380.6 287.2 377.4 304.2 378.2z"/>
<path fill="#4e95ec" d="M287.2 380.8L271 379.6 272.8 376.4 289 377.5z"/>
<path fill="#4d93e8" d="M272.7 379.7L257.2 378.2 258.9 375.1 274.5 376.5z"/>
<path fill="#4c91e4" d="M258.8 378.4L243.8 376.7 245.6 373.6 260.6 375.2z"/>
<path fill="#4b8ee1" d="M245.4 376.9L230.9 374.9 232.7 371.9 247.2 373.8z"/>
<path fill="#498cdd" d="M232.5 375.1L218.4 373 220.2 370.1 234.2 372.1z"/>
<path fill="#488ad9" d="M219.9 373.3L206.2 371 208 368.1 221.7 370.3z"/>
<path fill="#4787d6" d="M207.7 371.2L194.3 368.8 196.1 366 209.4 368.3z"/>
<path fill="#4685d2" d="M195.7 369.1L182.6 366.5 184.4 363.7 197.5 366.2z"/>
<path fill="#4583cf" d="M184 366.8L171.2 364.2 173 361.4 185.8 364z"/>
<path fill="#4481cb" d="M172.5 364.5L161.3 362 163.1 359.3 174.3 361.7z"/>
<path fill="#5fb6ff" d="M710.9 297.9L637.5 321.4 637.3 318.2 709.2 295.3zM546.8 342.2L504.8 352.2 506.1 348.5 547.8 338.5z"/>
<path fill="#5eb4ff" d="M644.6 319.2L584.6 336.9 585.2 333.5 644.2 316.1z"/>
<path fill="#5bafff" d="M545.3 347.5L502.7 357.7 504.1 354 546.3 343.9zM507.9 354L471.3 361.7 472.9 358 509.3 350.3z"/>
<path fill="#5aacff" d="M506.9 356.8L470.1 364.5 471.7 360.8 508.3 353.1zM446 366.3L417.3 370.6 419.1 366.9 447.7 362.6z"/>
<path fill="#59aaff" d="M473.8 363.8L441.5 369.6 443.2 365.9 475.4 360.1z"/>
<path fill="#58a9ff" d="M444.7 369.1L415.9 373.3 417.7 369.6 446.4 365.3z"/>
<path fill="#57a7ff" d="M418.9 373L392.9 376 394.8 372.4 420.7 369.3z"/>
<path fill="#57a6fe" d="M395.6 375.7L371.9 377.8 373.8 374.2 397.4 372.1z"/>
<path fill="#56a4fb" d="M374.3 377.6L352.6 378.9 354.4 375.3 376.2 374z"/>
<path fill="#54a2f8" d="M354.8 378.8L334.6 379.4 336.4 375.9 356.7 375.2z"/>
<path fill="#539ff5" d="M336.7 379.3L317.7 379.4 319.6 376 338.5 375.9z"/>
<path fill="#529df1" d="M319.7 379.4L301.8 379 303.7 375.6 321.5 376z"/>
<path fill="#519bee" d="M303.7 379L286.7 378.2 288.5 374.9 305.5 375.7z"/>
<path fill="#5099ea" d="M288.5 378.3L272.3 377.2 274.1 374 290.3 375z"/>
<path fill="#4e96e6" d="M274 377.3L258.5 375.9 260.3 372.7 275.8 374.1z"/>
<path fill="#4d94e3" d="M260.1 376.1L245.1 374.4 246.9 371.3 261.9 372.9z"/>
<path fill="#4c91df" d="M246.7 374.6L232.2 372.7 234 369.6 248.5 371.5z"/>
<path fill="#4b8fdc" d="M233.8 372.9L219.7 370.8 221.5 367.8 235.5 369.8z"/>
<path fill="#4a8dd8" d="M221.2 371.1L207.5 368.8 209.3 365.9 223 368.1z"/>
<path fill="#488ad4" d="M209 369.1L195.6 366.7 197.4 363.8 210.7 366.1z"/>
<path fill="#4788d1" d="M197 367L184 364.5 185.8 361.6 198.8 364.1z"/>
<path fill="#4686cd" d="M185.3 364.7L172.5 362.1 174.3 359.4 187.1 361.9z"/>
<path fill="#4584ca" d="M173.9 362.4L162.6 360 164.5 357.3 175.7 359.6z"/>
<path fill="#61baff" d="M709.7 295.9L637.4 319 637.1 315.9 707.9 293.3z"/>
<path fill="#60b8ff" d="M644.3 316.9L585 334.4 585.5 330.9 643.9 313.8z"/>
<path fill="#5eb5ff" d="M590.8 332.8L541.2 346.1 542.2 342.4 591.3 329.3zM477.3 355.5L445.3 361.3 447 357.6 478.8 351.7z"/>
<path fill="#59abff" d="M420.2 370.2L394.3 373.3 396.1 369.6 422 366.5z"/>
<path fill="#58a9fc" d="M396.9 373L373.3 375.1 375.1 371.5 398.8 369.4z"/>
<path fill="#57a7f9" d="M375.7 374.9L353.9 376.3 355.8 372.7 377.6 371.3z"/>
<path fill="#56a5f6" d="M356.2 376.2L336 376.8 337.8 373.3 358 372.6z"/>
<path fill="#55a3f3" d="M338.1 376.8L319.1 376.8 320.9 373.4 339.9 373.3z"/>
<path fill="#54a0ef" d="M321.1 376.9L303.2 376.5 305 373.1 322.9 373.4z"/>
<path fill="#529eec" d="M305 376.6L288.1 375.8 289.9 372.5 306.9 373.2z"/>
<path fill="#519ce8" d="M289.8 375.9L273.6 374.8 275.4 371.5 291.7 372.6z"/>
<path fill="#5099e5" d="M275.3 374.9L259.8 373.5 261.6 370.4 277.1 371.7z"/>
<path fill="#4f97e1" d="M261.4 373.7L246.5 372.1 248.2 369 263.2 370.5z"/>
<path fill="#4d95de" d="M248 372.3L233.6 370.4 235.3 367.4 249.8 369.1z"/>
<path fill="#4c92da" d="M235.1 370.6L221 368.6 222.8 365.6 236.9 367.6z"/>
<path fill="#4b90d6" d="M222.5 368.8L208.8 366.6 210.6 363.7 224.3 365.8z"/>
<path fill="#4a8dd3" d="M210.3 366.9L196.9 364.6 198.7 361.7 212.1 363.9z"/>
<path fill="#488bd0" d="M198.3 364.8L185.3 362.4 187.1 359.5 200.1 361.9z"/>
<path fill="#4789cc" d="M186.7 362.6L173.9 360.1 175.7 357.3 188.5 359.8z"/>
<path fill="#4687c9" d="M175.2 360.4L164 358 165.8 355.2 177.1 357.6z"/>
<path fill="#62bdff" d="M708.4 294L637.2 316.7 636.9 313.5 706.7 291.4zM548.2 336.8L506.8 346.7 508.1 343 549.1 333.2z"/>
<path fill="#61bbff" d="M644 314.6L585.4 331.8 585.9 328.4 643.6 311.5z"/>
<path fill="#60b9ff" d="M591.1 330.2L541.9 343.4 543 339.8 591.6 326.8z"/>
<path fill="#5db3ff" d="M508.9 351.3L472.5 359 474.1 355.2 510.3 347.6z"/>
<path fill="#5cb1ff" d="M476.1 358.3L444 364.1 445.7 360.3 477.7 354.5z"/>
<path fill="#5bb0ff" d="M447.3 363.5L418.6 367.9 420.4 364.1 449 359.8z"/>
<path fill="#5baefd" d="M421.5 367.5L395.6 370.6 397.5 366.9 423.3 363.7z"/>
<path fill="#5aacfa" d="M398.3 370.3L374.7 372.5 376.5 368.8 400.1 366.6z"/>
<path fill="#59aaf7" d="M377.1 372.3L355.3 373.6 357.2 370 378.9 368.6z"/>
<path fill="#57a8f4" d="M357.6 373.5L337.3 374.2 339.2 370.7 359.4 369.9z"/>
<path fill="#56a6f1" d="M339.4 374.2L320.5 374.3 322.3 370.9 341.3 370.6z"/>
<path fill="#55a4ee" d="M322.4 374.3L304.5 374 306.4 370.6 324.3 370.9z"/>
<path fill="#54a1ea" d="M306.4 374L289.4 373.3 291.2 370 308.2 370.7z"/>
<path fill="#539fe7" d="M291.2 373.4L275 372.4 276.8 369.1 293 370.1z"/>
<path fill="#519de3" d="M276.7 372.5L261.1 371.2 262.9 368 278.5 369.2z"/>
<path fill="#509ae0" d="M262.8 371.3L247.8 369.8 249.6 366.6 264.6 368.1z"/>
<path fill="#4f98dc" d="M249.4 369.9L234.9 368.2 236.7 365.1 251.2 366.8z"/>
<path fill="#4e95d9" d="M236.4 368.4L222.4 366.4 224.2 363.4 238.2 365.3z"/>
<path fill="#4c93d5" d="M223.8 366.6L210.2 364.5 212 361.5 225.6 363.6z"/>
<path fill="#4b90d2" d="M211.6 364.7L198.3 362.4 200.1 359.5 213.4 361.7z"/>
<path fill="#4a8ece" d="M199.7 362.7L186.6 360.3 188.5 357.4 201.5 359.7z"/>
<path fill="#498ccb" d="M188 360.5L175.2 358 177.1 355.2 189.8 357.7z"/>
<path fill="#4789c7" d="M176.6 358.3L165.4 355.9 167.2 353.2 178.4 355.5z"/>
<path fill="#64c1ff" d="M707.1 292.1L636.9 314.3 636.6 311.2 705.4 289.4zM548.9 334.1L507.7 344 509 340.3 549.8 330.5z"/>
<path fill="#63bfff" d="M643.7 312.3L585.8 329.3 586.3 325.8 643.3 309.1z"/>
<path fill="#62bcff" d="M591.5 327.7L542.7 340.7 543.7 337.1 591.9 324.2z"/>
<path fill="#60baff" d="M547.5 339.5L505.8 349.5 507.1 345.8 548.5 335.9zM510.9 345.8L474.8 353.4 476.3 349.7 512.2 342.1z"/>
<path fill="#5fb7ff" d="M509.9 348.5L473.6 356.2 475.2 352.5 511.2 344.8z"/>
<path fill="#5db3fd" d="M448.5 360.8L419.9 365.1 421.7 361.4 450.2 357z"/>
<path fill="#5cb2fb" d="M422.8 364.7L397 367.9 398.8 364.2 424.6 361z"/>
<path fill="#5bb0f8" d="M399.6 367.6L376 369.8 377.9 366.1 401.4 363.9z"/>
<path fill="#5aaef5" d="M378.5 369.6L356.7 371 358.5 367.4 380.3 365.9z"/>
<path fill="#59acf2" d="M358.9 370.9L338.7 371.6 340.5 368.1 360.8 367.3z"/>
<path fill="#58a9ef" d="M340.8 371.6L321.8 371.7 323.6 368.3 342.6 368z"/>
<path fill="#57a7ec" d="M323.8 371.8L305.9 371.5 307.7 368.1 325.6 368.3z"/>
<path fill="#55a5e8" d="M307.7 371.5L290.8 370.9 292.6 367.5 309.6 368.1z"/>
<path fill="#54a2e5" d="M292.5 371L276.3 370 278.1 366.7 294.4 367.6z"/>
<path fill="#53a0e1" d="M278 370.1L262.5 368.8 264.3 365.6 279.8 366.8z"/>
<path fill="#529dde" d="M264.1 369L249.1 367.4 250.9 364.3 265.9 365.7z"/>
<path fill="#509bda" d="M250.7 367.6L236.2 365.9 238 362.8 252.5 364.4z"/>
<path fill="#4f98d7" d="M237.7 366.1L223.7 364.1 225.5 361.1 239.5 363z"/>
<path fill="#4e96d3" d="M225.2 364.4L211.5 362.3 213.3 359.3 227 361.3z"/>
<path fill="#4c93d0" d="M212.9 362.5L199.6 360.3 201.4 357.3 214.8 359.5z"/>
<path fill="#4b91cd" d="M201 360.5L188 358.1 189.8 355.3 202.9 357.6z"/>
<path fill="#4a8fc9" d="M189.4 358.4L176.6 355.9 178.4 353.1 191.2 355.5z"/>
<path fill="#498cc6" d="M177.9 356.2L166.7 353.9 168.6 351.1 179.8 353.4z"/>
<path fill="#66c4ff" d="M705.8 290.1L636.7 312 636.4 308.8 704.1 287.5z"/>
<path fill="#65c2ff" d="M643.4 309.9L586.2 326.7 586.6 323.2 643 306.8z"/>
<path fill="#63c0ff" d="M591.8 325.1L543.4 338 544.4 334.4 592.1 321.7z"/>
<path fill="#5fb8fd" d="M478.4 352.7L446.5 358.5 448.2 354.8 479.9 349z"/>
<path fill="#5fb7fb" d="M449.8 358L421.2 362.3 423 358.6 451.4 354.2z"/>
<path fill="#5eb5f8" d="M424.1 361.9L398.3 365.1 400.1 361.4 425.9 358.2z"/>
<path fill="#5db3f6" d="M401 364.8L377.4 367.1 379.2 363.4 402.8 361.1z"/>
<path fill="#5cb1f3" d="M379.8 366.9L358.1 368.3 359.9 364.7 381.6 363.2z"/>
<path fill="#5baff0" d="M360.3 368.2L340.1 369 341.9 365.5 362.1 364.6z"/>
<path fill="#59aded" d="M342.2 368.9L323.2 369.2 325 365.7 344 365.4z"/>
<path fill="#58aaea" d="M325.1 369.2L307.2 369 309.1 365.5 327 365.7z"/>
<path fill="#57a8e7" d="M309.1 369L292.1 368.4 293.9 365 310.9 365.6z"/>
<path fill="#56a6e3" d="M293.9 368.5L277.7 367.5 279.5 364.2 295.7 365.1z"/>
<path fill="#54a3e0" d="M279.4 367.7L263.8 366.4 265.6 363.2 281.2 364.4z"/>
<path fill="#53a1dc" d="M265.4 366.6L250.5 365.1 252.3 361.9 267.3 363.3z"/>
<path fill="#529ed9" d="M252 365.3L237.6 363.6 239.4 360.4 253.9 362.1z"/>
<path fill="#509cd5" d="M239.1 363.8L225 361.9 226.9 358.8 240.9 360.6z"/>
<path fill="#4f99d2" d="M226.5 362.1L212.9 360 214.7 357 228.3 359z"/>
<path fill="#4e97cf" d="M214.3 360.3L201 358.1 202.8 355.1 216.1 357.3z"/>
<path fill="#4d94cb" d="M202.4 358.3L189.4 356 191.2 353.1 204.2 355.4z"/>
<path fill="#4b92c8" d="M190.7 356.3L178 353.8 179.8 351 192.6 353.3z"/>
<path fill="#4a8fc5" d="M179.3 354.1L168.1 351.8 170 349 181.2 351.2z"/>
<path fill="#67c8ff" d="M704.6 288.2L636.5 309.6 636.1 306.5 702.9 285.5z"/>
<path fill="#66c6ff" d="M643.1 307.6L586.5 324.1 586.9 320.7 642.6 304.5z"/>
<path fill="#65c4ff" d="M592 322.6L544.2 335.3 545.1 331.7 592.4 319.2z"/>
<path fill="#62befd" d="M511.9 343.1L475.9 350.7 477.4 346.9 513.1 339.4z"/>
<path fill="#61bcfa" d="M479.5 349.9L447.8 355.7 449.4 352 481 346.2z"/>
<path fill="#60baf8" d="M451 355.2L422.5 359.6 424.3 355.8 452.6 351.5z"/>
<path fill="#5fb9f6" d="M425.4 359.2L399.7 362.4 401.5 358.7 427.2 355.4z"/>
<path fill="#5eb7f4" d="M402.3 362.1L378.7 364.4 380.6 360.7 404.1 358.4z"/>
<path fill="#5db5f1" d="M381.2 364.2L359.4 365.7 361.3 362.1 383 360.5z"/>
<path fill="#5cb3ee" d="M361.7 365.5L341.4 366.4 343.3 362.8 363.5 361.9z"/>
<path fill="#5bb0eb" d="M343.5 366.3L324.5 366.6 326.4 363.1 345.4 362.8z"/>
<path fill="#5aaee8" d="M326.5 366.6L308.6 366.4 310.4 363 328.4 363.1z"/>
<path fill="#59abe5" d="M310.5 366.5L293.5 365.9 295.3 362.5 312.3 363z"/>
<path fill="#57a9e1" d="M295.2 366L279 365.1 280.8 361.8 297.1 362.6z"/>
<path fill="#56a6de" d="M280.7 365.2L265.2 364 267 360.8 282.5 361.9z"/>
<path fill="#55a4db" d="M266.8 364.2L251.8 362.7 253.6 359.5 268.6 360.9z"/>
<path fill="#53a1d7" d="M253.4 362.9L238.9 361.3 240.7 358.1 255.2 359.7z"/>
<path fill="#529fd4" d="M240.4 361.4L226.4 359.6 228.2 356.5 242.3 358.3z"/>
<path fill="#519cd0" d="M227.9 359.8L214.2 357.8 216.1 354.8 229.7 356.7z"/>
<path fill="#4f9acd" d="M215.7 358L202.3 355.9 204.2 352.9 217.5 355z"/>
<path fill="#4e97ca" d="M203.7 356.1L190.7 353.8 192.6 350.9 205.6 353.1z"/>
<path fill="#4d95c6" d="M192.1 354.1L179.4 351.7 181.2 348.8 194 351.2z"/>
<path fill="#4c92c3" d="M180.7 352L169.5 349.7 171.4 346.9 182.6 349.1z"/>
<path fill="#69ccff" d="M703.3 286.2L636.2 307.3 635.8 304.1 701.6 283.5z"/>
<path fill="#68caff" d="M642.7 305.3L586.8 321.6 587.2 318.1 642.2 302.2z"/>
<path fill="#67c7ff" d="M592.3 320L544.9 332.6 545.8 329 592.6 316.6z"/>
<path fill="#66c4fe" d="M549.6 331.5L508.7 341.2 509.9 337.5 550.4 327.9z"/>
<path fill="#64c1fa" d="M512.8 340.3L477 347.9 478.5 344.1 514 336.6z"/>
<path fill="#63bff7" d="M480.6 347.2L449 353 450.6 349.2 482.1 343.4z"/>
<path fill="#62bef6" d="M452.2 352.4L423.8 356.8 425.5 353.1 453.8 348.7z"/>
<path fill="#61bcf3" d="M426.7 356.4L401 359.6 402.8 355.9 428.4 352.7z"/>
<path fill="#60baf1" d="M403.6 359.4L380.1 361.7 381.9 358 405.4 355.6z"/>
<path fill="#5fb8ee" d="M382.5 361.5L360.8 363 362.6 359.4 384.3 357.8z"/>
<path fill="#5eb6ec" d="M363 362.9L342.8 363.7 344.6 360.2 364.9 359.2z"/>
<path fill="#5db4e9" d="M344.9 363.7L325.9 364 327.8 360.5 346.7 360.1z"/>
<path fill="#5cb1e5" d="M327.9 364L310 363.9 311.8 360.4 329.7 360.5z"/>
<path fill="#5aafe2" d="M311.8 363.9L294.8 363.4 296.7 360 313.7 360.5z"/>
<path fill="#59acdf" d="M296.6 363.5L280.4 362.6 282.2 359.3 298.4 360.1z"/>
<path fill="#58aadc" d="M282.1 362.7L266.5 361.6 268.4 358.3 283.9 359.4z"/>
<path fill="#56a7d8" d="M268.1 361.7L253.2 360.4 255 357.1 270 358.5z"/>
<path fill="#55a4d5" d="M254.7 360.5L240.3 358.9 242.1 355.8 256.6 357.3z"/>
<path fill="#54a2d2" d="M241.8 359.1L227.7 357.3 229.6 354.2 243.6 355.9z"/>
<path fill="#529fce" d="M229.2 357.5L215.6 355.6 217.4 352.5 231.1 354.4z"/>
<path fill="#519dcb" d="M217 355.8L203.7 353.7 205.6 350.7 218.9 352.7z"/>
<path fill="#509ac8" d="M205.1 353.9L192.1 351.7 194 348.7 207 350.9z"/>
<path fill="#4e98c4" d="M193.5 351.9L180.8 349.6 182.7 346.7 195.4 349z"/>
<path fill="#4d95c1" d="M182.1 349.8L170.9 347.6 172.8 344.8 184 346.9z"/>
<path fill="#6ccfff" d="M702 284.2L635.9 304.9 635.5 301.7 700.3 281.5z"/>
<path fill="#6bcdff" d="M642.4 303L587.1 319 587.5 315.6 641.9 299.8z"/>
<path fill="#6acafe" d="M592.5 317.5L545.5 330 546.4 326.3 592.8 314.1z"/>
<path fill="#68c8fb" d="M550.2 328.8L509.6 338.5 510.8 334.8 551 325.2z"/>
<path fill="#66c5f7" d="M513.7 337.6L478.1 345.1 479.6 341.3 514.9 333.9z"/>
<path fill="#65c2f4" d="M481.7 344.4L450.2 350.2 451.8 346.4 483.2 340.6z"/>
<path fill="#64c1f2" d="M453.4 349.6L425.1 354 426.8 350.3 455 345.9z"/>
<path fill="#64bff0" d="M428 353.6L402.3 356.9 404.1 353.2 429.7 349.9z"/>
<path fill="#63bdee" d="M405 356.6L381.4 358.9 383.3 355.3 406.7 352.9z"/>
<path fill="#62bbeb" d="M383.9 358.7L362.1 360.3 364 356.7 385.7 355.1z"/>
<path fill="#60b9e8" d="M364.4 360.2L344.2 361.1 346 357.5 366.2 356.5z"/>
<path fill="#5fb7e5" d="M346.3 361L327.3 361.4 329.1 357.9 348.1 357.5z"/>
<path fill="#5eb4e2" d="M329.2 361.4L311.3 361.3 313.2 357.9 331.1 357.9z"/>
<path fill="#5db2df" d="M313.2 361.4L296.2 360.9 298 357.5 315.1 357.9z"/>
<path fill="#5bafdc" d="M298 361L281.7 360.2 283.6 356.8 299.8 357.6z"/>
<path fill="#5aadd9" d="M283.4 360.3L267.9 359.2 269.7 355.9 285.3 356.9z"/>
<path fill="#59aad5" d="M269.5 359.3L254.5 358 256.4 354.7 271.4 356z"/>
<path fill="#57a7d2" d="M256.1 358.1L241.6 356.6 243.5 353.4 258 354.9z"/>
<path fill="#56a5cf" d="M243.2 356.8L229.1 355 231 351.9 245 353.6z"/>
<path fill="#54a2cc" d="M230.6 355.2L217 353.3 218.8 350.2 232.5 352.1z"/>
<path fill="#539fc8" d="M218.4 353.5L205.1 351.5 207 348.4 220.3 350.4z"/>
<path fill="#529dc5" d="M206.5 351.7L193.5 349.5 195.4 346.5 208.4 348.7z"/>
<path fill="#509ac2" d="M194.9 349.7L182.2 347.4 184.1 344.5 196.8 346.8z"/>
<path fill="#4f98bf" d="M183.5 347.7L172.4 345.5 174.3 342.7 185.4 344.8z"/>
<path fill="#6ed2ff" d="M700.8 282.2L635.6 302.6 635.2 299.4 699.1 279.5z"/>
<path fill="#6dd0fd" d="M642 300.6L587.4 316.4 587.7 313 641.5 297.5z"/>
<path fill="#6ccefa" d="M592.8 315L546.2 327.3 547 323.7 593 311.5z"/>
<path fill="#6bcbf7" d="M550.8 326.1L510.5 335.7 511.7 332 551.6 322.5z"/>
<path fill="#69c8f3" d="M514.6 334.8L479.2 342.3 480.7 338.6 515.7 331.1z"/>
<path fill="#68c5f0" d="M482.8 341.6L451.4 347.4 453 343.6 484.2 337.9z"/>
<path fill="#67c4ee" d="M454.6 346.9L426.4 351.3 428.1 347.5 456.2 343.1z"/>
<path fill="#66c2ec" d="M429.2 350.9L403.6 354.1 405.4 350.4 430.9 347.1z"/>
<path fill="#65c0ea" d="M406.3 353.8L382.8 356.2 384.6 352.5 408 350.1z"/>
<path fill="#64bee8" d="M385.2 356L363.5 357.6 365.3 354 387 352.3z"/>
<path fill="#63bce5" d="M365.7 357.5L345.5 358.5 347.4 354.9 367.6 353.8z"/>
<path fill="#61bae2" d="M347.6 358.4L328.6 358.8 330.5 355.3 349.5 354.8z"/>
<path fill="#60b7df" d="M330.6 358.8L312.7 358.8 314.6 355.3 332.5 355.3z"/>
<path fill="#5fb5dc" d="M314.6 358.8L297.6 358.4 299.4 355 316.4 355.3z"/>
<path fill="#5eb2d9" d="M299.3 358.4L283.1 357.7 285 354.3 301.2 355z"/>
<path fill="#5cb0d6" d="M284.8 357.8L269.2 356.7 271.1 353.4 286.7 354.4z"/>
<path fill="#5badd2" d="M270.9 356.9L255.9 355.6 257.8 352.3 272.7 353.6z"/>
<path fill="#59aacf" d="M257.5 355.7L243 354.2 244.9 351 259.3 352.5z"/>
<path fill="#58a8cc" d="M244.5 354.4L230.5 352.7 232.4 349.6 246.4 351.2z"/>
<path fill="#57a5c9" d="M232 352.9L218.3 351 220.2 347.9 233.9 349.7z"/>
<path fill="#55a2c6" d="M219.8 351.2L206.5 349.2 208.4 346.2 221.7 348.1z"/>
<path fill="#54a0c2" d="M207.9 349.4L194.9 347.3 196.8 344.3 209.8 346.4z"/>
<path fill="#539dbf" d="M196.3 347.5L183.6 345.3 185.5 342.3 198.2 344.5z"/>
<path fill="#519bbc" d="M184.9 345.5L173.8 343.4 175.7 340.5 186.9 342.6z"/>
<path fill="#71d5fc" d="M699.5 280.2L635.3 300.2 634.9 297 697.8 277.5z"/>
<path fill="#70d3f9" d="M641.6 298.3L587.6 313.9 587.9 310.4 641.1 295.2z"/>
<path fill="#6ed1f6" d="M592.9 312.4L546.8 324.6 547.7 321 593.2 309z"/>
<path fill="#6dcef3" d="M551.4 323.4L511.4 333 512.6 329.3 552.2 319.8z"/>
<path fill="#6bcbf0" d="M515.4 332.1L480.3 339.5 481.7 335.8 516.6 328.4z"/>
<path fill="#6ac8ec" d="M483.8 338.8L452.6 344.6 454.2 340.8 485.2 335.1z"/>
<path fill="#69c7eb" d="M455.7 344.1L427.6 348.5 429.3 344.7 457.3 340.3z"/>
<path fill="#68c5e9" d="M430.5 348.1L404.9 351.4 406.7 347.7 432.2 344.3z"/>
<path fill="#67c3e6" d="M407.6 351.1L384.1 353.5 385.9 349.8 409.3 347.3z"/>
<path fill="#66c1e4" d="M386.5 353.3L364.9 354.9 366.7 351.3 388.3 349.6z"/>
<path fill="#65bfe1" d="M367.1 354.8L346.9 355.8 348.7 352.2 368.9 351.1z"/>
<path fill="#64bddf" d="M349 355.7L330 356.2 331.9 352.6 350.8 352.1z"/>
<path fill="#63badc" d="M332 356.2L314.1 356.2 315.9 352.7 333.8 352.6z"/>
<path fill="#61b8d9" d="M315.9 356.2L298.9 355.8 300.8 352.4 317.8 352.7z"/>
<path fill="#60b5d6" d="M300.7 355.9L284.5 355.2 286.3 351.8 302.6 352.5z"/>
<path fill="#5eb3d3" d="M286.2 355.3L270.6 354.3 272.5 351 288 351.9z"/>
<path fill="#5db0cf" d="M272.3 354.4L257.3 353.2 259.2 349.9 274.1 351.1z"/>
<path fill="#5cadcc" d="M258.9 353.3L244.4 351.9 246.3 348.6 260.7 350z"/>
<path fill="#5aabc9" d="M245.9 352L231.9 350.4 233.8 347.2 247.8 348.8z"/>
<path fill="#59a8c6" d="M233.4 350.6L219.7 348.7 221.6 345.6 235.3 347.4z"/>
<path fill="#57a5c3" d="M221.2 348.9L207.9 347 209.8 343.9 223.1 345.8z"/>
<path fill="#56a3c0" d="M209.3 347.2L196.3 345.1 198.3 342.1 211.2 344.1z"/>
<path fill="#55a0bd" d="M197.7 345.3L185 343.1 186.9 340.1 199.6 342.3z"/>
<path fill="#539dba" d="M186.4 343.3L175.2 341.3 177.2 338.3 188.3 340.4z"/>
<path fill="#73d9f7" d="M698.3 278.2L635 297.8 634.5 294.6 696.6 275.5z"/>
<path fill="#72d7f5" d="M641.2 296L587.9 311.3 588.1 307.9 640.6 292.8z"/>
<path fill="#71d4f3" d="M593.1 309.9L547.4 321.9 548.2 318.3 593.3 306.4z"/>
<path fill="#70d2ef" d="M552 320.8L512.3 330.2 513.4 326.5 552.7 317.2z"/>
<path fill="#6eceec" d="M516.3 329.3L481.3 336.7 482.7 333 517.4 325.6z"/>
<path fill="#6ccbe8" d="M484.9 336L453.7 341.8 455.3 338 486.2 332.3z"/>
<path fill="#6ccae7" d="M456.9 341.3L428.9 345.7 430.5 341.9 458.4 337.5z"/>
<path fill="#6bc8e5" d="M431.7 345.3L406.2 348.6 408 344.9 433.4 341.5z"/>
<path fill="#6ac7e3" d="M408.9 348.3L385.5 350.8 387.2 347 410.6 344.6z"/>
<path fill="#69c5e0" d="M387.9 350.5L366.2 352.2 368 348.6 389.6 346.8z"/>
<path fill="#67c2de" d="M368.4 352.1L348.3 353.1 350.1 349.5 370.3 348.4z"/>
<path fill="#66c0db" d="M350.3 353L331.4 353.6 333.2 350 352.2 349.4z"/>
<path fill="#65bdd8" d="M333.4 353.5L315.5 353.6 317.3 350.1 335.2 350z"/>
<path fill="#63bbd6" d="M317.3 353.6L300.3 353.3 302.2 349.8 319.2 350.1z"/>
<path fill="#62b8d3" d="M302.1 353.3L285.9 352.7 287.7 349.3 304 349.9z"/>
<path fill="#61b6d0" d="M287.6 352.8L272 351.8 273.9 348.5 289.4 349.4z"/>
<path fill="#5fb3cc" d="M273.6 351.9L258.7 350.8 260.5 347.5 275.5 348.6z"/>
<path fill="#5eb0c9" d="M260.2 350.9L245.8 349.5 247.7 346.2 262.1 347.6z"/>
<path fill="#5caec6" d="M247.3 349.6L233.3 348 235.2 344.9 249.2 346.4z"/>
<path fill="#5babc3" d="M234.8 348.2L221.1 346.4 223.1 343.3 236.7 345z"/>
<path fill="#59a8c0" d="M222.6 346.6L209.3 344.7 211.2 341.6 224.5 343.5z"/>
<path fill="#58a5bd" d="M210.7 344.9L197.8 342.9 199.7 339.8 212.6 341.8z"/>
<path fill="#57a3ba" d="M199.1 343.1L186.4 340.9 188.4 337.9 201.1 340z"/>
<path fill="#55a0b7" d="M187.8 341.1L176.7 339.1 178.6 336.2 189.7 338.2z"/>
<path fill="#76dcf3" d="M697 276.2L634.7 295.5 634.2 292.3 695.3 273.5z"/>
<path fill="#75daf1" d="M640.8 293.6L588.1 308.8 588.3 305.3 640.2 290.5z"/>
<path fill="#73d8ef" d="M593.3 307.3L548 319.2 548.8 315.6 593.5 303.9z"/>
<path fill="#72d5ec" d="M552.5 318.1L513.2 327.5 514.3 323.8 553.3 314.5z"/>
<path fill="#70d2e8" d="M517.1 326.6L482.4 334 483.7 330.2 518.2 322.9z"/>
<path fill="#6fcfe5" d="M485.9 333.3L454.9 339 456.4 335.2 487.2 329.5z"/>
<path fill="#6ecde3" d="M458 338.5L430.1 342.9 431.8 339.1 459.6 334.7z"/>
<path fill="#6dcce1" d="M433 342.5L407.5 345.9 409.3 342.1 434.6 338.7z"/>
<path fill="#6ccadf" d="M410.1 345.5L386.8 348 388.6 344.3 411.9 341.8z"/>
<path fill="#6bc8dd" d="M389.2 347.8L367.6 349.5 369.4 345.8 391 344.1z"/>
<path fill="#6ac5da" d="M369.8 349.4L349.6 350.4 351.5 346.8 371.6 345.7z"/>
<path fill="#69c3d8" d="M351.7 350.4L332.8 350.9 334.6 347.4 353.5 346.7z"/>
<path fill="#67c1d5" d="M334.7 350.9L316.8 351 318.7 347.5 336.6 347.3z"/>
<path fill="#66bed2" d="M318.7 351L301.7 350.7 303.6 347.3 320.6 347.5z"/>
<path fill="#64bbcf" d="M303.5 350.8L287.3 350.2 289.1 346.8 305.3 347.3z"/>
<path fill="#63b9cc" d="M289 350.3L273.4 349.4 275.3 346 290.8 346.8z"/>
<path fill="#61b6c9" d="M275 349.5L260.1 348.3 262 345 276.9 346.1z"/>
<path fill="#60b3c6" d="M261.6 348.5L247.2 347.1 249.1 343.8 263.5 345.1z"/>
<path fill="#5fb1c3" d="M248.7 347.2L234.7 345.7 236.6 342.5 250.6 344z"/>
<path fill="#5daec0" d="M236.2 345.9L222.6 344.1 224.5 341 238.1 342.6z"/>
<path fill="#5cabbd" d="M224 344.3L210.7 342.4 212.7 339.3 225.9 341.2z"/>
<path fill="#5aa8ba" d="M212.1 342.6L199.2 340.6 201.1 337.6 214.1 339.5z"/>
<path fill="#59a6b7" d="M200.6 340.8L187.9 338.7 189.9 335.7 202.5 337.8z"/>
<path fill="#57a3b5" d="M189.2 338.9L178.1 336.9 180.1 334 191.2 335.9z"/>
<path fill="#78dfef" d="M695.8 274.2L634.3 293.1 633.8 289.9 694.1 271.4z"/>
<path fill="#77dded" d="M640.4 291.3L588.3 306.2 588.5 302.7 639.8 288.1z"/>
<path fill="#76dbeb" d="M593.4 304.8L548.6 316.6 549.3 312.9 593.6 301.4z"/>
<path fill="#75d8e8" d="M553.1 315.4L514 324.7 515.1 321 553.8 311.8z"/>
<path fill="#73d5e4" d="M517.9 323.8L483.4 331.2 484.7 327.4 519 320.1z"/>
<path fill="#71d2e1" d="M486.9 330.5L456 336.2 457.6 332.4 488.2 326.7z"/>
<path fill="#70d0df" d="M459.2 335.7L431.3 340.1 433 336.3 460.7 331.9z"/>
<path fill="#6fcfde" d="M434.2 339.7L408.8 343.1 410.5 339.3 435.8 335.9z"/>
<path fill="#6ecddc" d="M411.4 342.8L388.1 345.3 389.9 341.5 413.1 339z"/>
<path fill="#6dcbd9" d="M390.5 345L368.9 346.8 370.7 343.1 392.3 341.3z"/>
<path fill="#6cc9d7" d="M371.1 346.6L351 347.8 352.8 344.1 372.9 342.9z"/>
<path fill="#6bc6d4" d="M353.1 347.7L334.1 348.3 336 344.7 354.9 344z"/>
<path fill="#6ac4d2" d="M336.1 348.2L318.2 348.4 320.1 344.9 338 344.6z"/>
<path fill="#68c1cf" d="M320.1 348.4L303.1 348.2 305 344.7 321.9 344.9z"/>
<path fill="#67bfcc" d="M304.9 348.2L288.6 347.6 290.5 344.2 306.7 344.7z"/>
<path fill="#65bcc9" d="M290.3 347.7L274.8 346.9 276.7 343.5 292.2 344.3z"/>
<path fill="#64b9c6" d="M276.4 347L261.5 345.9 263.4 342.5 278.3 343.6z"/>
<path fill="#62b6c3" d="M263 346L248.6 344.7 250.5 341.4 264.9 342.7z"/>
<path fill="#61b4c0" d="M250.1 344.8L236.1 343.3 238 340.1 252 341.6z"/>
<path fill="#5fb1bd" d="M237.6 343.5L224 341.8 225.9 338.6 239.5 340.3z"/>
<path fill="#5eaeba" d="M225.4 342L212.2 340.1 214.1 337 227.3 338.8z"/>
<path fill="#5cabb8" d="M213.6 340.3L200.6 338.4 202.6 335.3 215.5 337.2z"/>
<path fill="#5ba9b5" d="M202 338.6L189.3 336.5 191.3 333.5 204 335.5z"/>
<path fill="#59a6b2" d="M190.7 336.7L179.6 334.7 181.6 331.8 192.7 333.7z"/>
<path fill="#7be3eb" d="M694.5 272.1L634 290.7 633.5 287.5 692.8 269.4z"/>
<path fill="#7ae1e9" d="M639.9 289L588.4 303.6 588.7 300.2 639.3 285.8z"/>
<path fill="#79dee7" d="M593.6 302.2L549.2 313.9 549.9 310.3 593.7 298.8z"/>
<path fill="#77dce4" d="M553.6 312.8L514.8 322 515.9 318.3 554.3 309.2z"/>
<path fill="#75d8e0" d="M518.7 321.1L484.4 328.4 485.7 324.6 519.7 317.4z"/>
<path fill="#74d5dd" d="M487.9 327.7L457.2 333.4 458.7 329.6 489.1 323.9z"/>
<path fill="#73d4db" d="M460.3 332.9L432.6 337.3 434.2 333.5 461.8 329.1z"/>
<path fill="#72d2da" d="M435.4 336.9L410.1 340.3 411.8 336.5 437 333.1z"/>
<path fill="#71d0d8" d="M412.7 340L389.4 342.5 391.2 338.8 414.4 336.2z"/>
<path fill="#70ced6" d="M391.8 342.3L370.2 344.1 372.1 340.4 393.6 338.5z"/>
<path fill="#6fccd3" d="M372.5 343.9L352.3 345.1 354.2 341.4 374.3 340.2z"/>
<path fill="#6dc9d1" d="M354.4 345L335.5 345.6 337.4 342 356.3 341.3z"/>
<path fill="#6cc7ce" d="M337.5 345.6L319.6 345.8 321.5 342.2 339.3 342z"/>
<path fill="#6ac4cc" d="M321.5 345.8L304.5 345.6 306.4 342.1 323.3 342.2z"/>
<path fill="#69c2c9" d="M306.3 345.6L290 345.1 291.9 341.7 308.1 342.1z"/>
<path fill="#68bfc6" d="M291.7 345.2L276.2 344.4 278.1 341 293.6 341.7z"/>
<path fill="#66bcc3" d="M277.8 344.5L262.9 343.4 264.8 340.1 279.7 341.1z"/>
<path fill="#65b9c0" d="M264.4 343.5L250 342.3 251.9 339 266.4 340.2z"/>
<path fill="#63b7bd" d="M251.5 342.4L237.5 340.9 239.5 337.7 253.4 339.1z"/>
<path fill="#62b4ba" d="M239 341.1L225.4 339.4 227.4 336.3 240.9 337.8z"/>
<path fill="#60b1b8" d="M226.8 339.6L213.6 337.8 215.6 334.7 228.8 336.4z"/>
<path fill="#5faeb5" d="M215 338L202.1 336.1 204.1 333 217 334.9z"/>
<path fill="#5dacb2" d="M203.5 336.3L190.8 334.2 192.8 331.2 205.4 333.2z"/>
<path fill="#5ca9af" d="M192.2 334.5L181.1 332.5 183.1 329.5 194.1 331.4z"/>
<path fill="#7de6e7" d="M693.3 270.1L633.6 288.4 633.1 285.1 691.6 267.3z"/>
<path fill="#7ce4e5" d="M639.5 286.6L588.6 301.1 588.8 297.6 638.8 283.4z"/>
<path fill="#7be2e2" d="M593.7 299.7L549.7 311.2 550.4 307.6 593.8 296.3z"/>
<path fill="#7adfe0" d="M554.1 310.1L515.6 319.2 516.6 315.5 554.7 306.5z"/>
<path fill="#78dcdd" d="M519.5 318.4L485.4 325.6 486.7 321.8 520.5 314.6z"/>
<path fill="#76d8d9" d="M488.8 324.9L458.3 330.6 459.8 326.8 490.1 321.1z"/>
<path fill="#75d7d8" d="M461.4 330.1L433.8 334.5 435.4 330.7 462.8 326.3z"/>
<path fill="#74d5d6" d="M436.6 334.1L411.4 337.5 413.1 333.7 438.2 330.3z"/>
<path fill="#73d3d4" d="M413.9 337.2L390.7 339.7 392.5 336 415.6 333.4z"/>
<path fill="#72d1d2" d="M393.1 339.5L371.6 341.3 373.4 337.6 394.9 335.8z"/>
<path fill="#71cfd0" d="M373.8 341.2L353.7 342.4 355.5 338.7 375.6 337.5z"/>
<path fill="#70cdcd" d="M355.8 342.3L336.9 343 338.7 339.3 357.6 338.6z"/>
<path fill="#6ecacb" d="M338.9 342.9L321 343.1 322.9 339.6 340.7 339.3z"/>
<path fill="#6dc8c8" d="M322.9 343.1L305.9 343 307.8 339.5 324.7 339.6z"/>
<path fill="#6bc5c6" d="M307.6 343L291.4 342.6 293.3 339.1 309.5 339.5z"/>
<path fill="#6ac2c3" d="M293.1 342.6L277.6 341.9 279.5 338.4 295 339.2z"/>
<path fill="#68bfc0" d="M279.2 342L264.3 340.9 266.2 337.6 281.1 338.5z"/>
<path fill="#67bcbd" d="M265.9 341.1L251.4 339.8 253.3 336.5 267.8 337.7z"/>
<path fill="#65baba" d="M252.9 340L239 338.5 240.9 335.3 254.9 336.6z"/>
<path fill="#64b7b7" d="M240.4 338.7L226.9 337.1 228.8 333.9 242.4 335.4z"/>
<path fill="#62b4b5" d="M228.3 337.3L215.1 335.5 217 332.3 230.2 334.1z"/>
<path fill="#61b1b2" d="M216.5 335.7L203.5 333.8 205.5 330.7 218.4 332.5z"/>
<path fill="#5fafaf" d="M204.9 334L192.3 332 194.3 328.9 206.9 330.9z"/>
<path fill="#5eacac" d="M193.6 332.2L182.6 330.3 184.6 327.3 195.6 329.2z"/>
<path fill="#80e9e2" d="M692 268L633.2 286 632.7 282.8 690.3 265.2z"/>
<path fill="#7fe7e1" d="M639 284.3L588.8 298.5 588.9 295.1 638.4 281.1z"/>
<path fill="#7ee4de" d="M593.7 297.2L550.2 308.5 550.9 304.9 593.8 293.7z"/>
<path fill="#7de2dc" d="M554.6 307.4L516.4 316.5 517.4 312.7 555.2 303.8z"/>
<path fill="#7bdfd9" d="M520.2 315.6L486.3 322.8 487.6 319 521.2 311.9z"/>
<path fill="#79dbd5" d="M489.8 322.1L459.4 327.8 460.8 324 491 318.3z"/>
<path fill="#78d9d4" d="M462.5 327.3L434.9 331.7 436.5 327.9 463.9 323.5z"/>
<path fill="#77d8d2" d="M437.8 331.3L412.6 334.7 414.3 330.9 439.3 327.5z"/>
<path fill="#76d6d0" d="M415.2 334.4L392 337 393.8 333.2 416.9 330.6z"/>
<path fill="#75d4ce" d="M394.4 336.7L372.9 338.6 374.7 334.9 396.2 333z"/>
<path fill="#74d2cc" d="M375.2 338.4L355.1 339.7 356.9 336 376.9 334.7z"/>
<path fill="#72cfca" d="M357.1 339.5L338.3 340.3 340.1 336.6 359 335.9z"/>
<path fill="#71cdc7" d="M340.2 340.2L322.4 340.5 324.3 336.9 342.1 336.6z"/>
<path fill="#70cac5" d="M324.2 340.5L307.3 340.4 309.2 336.9 326.1 336.9z"/>
<path fill="#6ec7c2" d="M309 340.4L292.8 340 294.8 336.5 310.9 336.9z"/>
<path fill="#6dc5bf" d="M294.5 340.1L279 339.3 280.9 335.9 296.4 336.6z"/>
<path fill="#6bc2bd" d="M280.6 339.4L265.7 338.4 267.6 335.1 282.6 336z"/>
<path fill="#6abfba" d="M267.3 338.6L252.9 337.4 254.8 334 269.2 335.2z"/>
<path fill="#68bcb7" d="M254.4 337.5L240.4 336.1 242.3 332.8 256.3 334.2z"/>
<path fill="#66b9b4" d="M241.9 336.3L228.3 334.7 230.3 331.5 243.8 333z"/>
<path fill="#65b7b2" d="M229.7 334.9L216.5 333.2 218.5 330 231.7 331.7z"/>
<path fill="#63b4af" d="M217.9 333.4L205 331.5 207 328.4 219.9 330.2z"/>
<path fill="#62b1ac" d="M206.4 331.7L193.8 329.7 195.8 326.7 208.4 328.6z"/>
<path fill="#60aeaa" d="M195.1 329.9L184.1 328.1 186.1 325.1 197.1 326.9z"/>
<path fill="#84ebde" d="M690.8 266L632.8 283.6 632.3 280.4 689.1 263.2z"/>
<path fill="#83e9dc" d="M638.5 281.9L588.9 295.9 589 292.5 637.9 278.7z"/>
<path fill="#82e6da" d="M593.8 294.6L550.7 305.8 551.3 302.2 593.9 291.2z"/>
<path fill="#80e4d7" d="M555 304.7L517.1 313.7 518.1 310 555.6 301.1z"/>
<path fill="#7ee1d5" d="M521 312.9L487.3 320 488.5 316.2 521.9 309.1z"/>
<path fill="#7cddd1" d="M490.7 319.3L460.5 325 461.9 321.2 491.9 315.5z"/>
<path fill="#7bdbd0" d="M463.5 324.4L436.1 328.9 437.7 325.1 465 320.6z"/>
<path fill="#7adace" d="M438.9 328.5L413.9 331.9 415.5 328.1 440.5 324.7z"/>
<path fill="#79d8cc" d="M416.4 331.6L393.3 334.2 395.1 330.4 418.1 327.8z"/>
<path fill="#78d6ca" d="M395.7 333.9L374.3 335.8 376.1 332.1 397.4 330.2z"/>
<path fill="#77d4c8" d="M376.5 335.7L356.4 336.9 358.3 333.2 378.3 331.9z"/>
<path fill="#76d1c6" d="M358.5 336.8L339.6 337.6 341.5 333.9 360.3 333.1z"/>
<path fill="#74cfc4" d="M341.6 337.5L323.8 337.9 325.6 334.3 343.5 333.9z"/>
<path fill="#73ccc1" d="M325.6 337.8L308.7 337.8 310.6 334.2 327.5 334.2z"/>
<path fill="#71cabf" d="M310.4 337.8L294.3 337.4 296.2 333.9 312.3 334.3z"/>
<path fill="#70c7bc" d="M296 337.5L280.4 336.8 282.4 333.4 297.9 334z"/>
<path fill="#6ec4b9" d="M282.1 336.9L267.1 335.9 269.1 332.6 284 333.4z"/>
<path fill="#6dc1b7" d="M268.7 336.1L254.3 334.9 256.2 331.6 270.6 332.7z"/>
<path fill="#6bbeb4" d="M255.8 335L241.8 333.7 243.8 330.4 257.8 331.7z"/>
<path fill="#69bbb1" d="M243.3 333.8L229.8 332.3 231.7 329.1 245.3 330.5z"/>
<path fill="#68b9af" d="M231.2 332.5L218 330.8 220 327.6 233.2 329.2z"/>
<path fill="#66b6ac" d="M219.4 331L206.5 329.2 208.5 326 221.4 327.8z"/>
<path fill="#65b3a9" d="M207.9 329.4L195.3 327.4 197.3 324.4 209.9 326.2z"/>
<path fill="#63b0a7" d="M196.6 327.7L185.6 325.8 187.6 322.8 198.6 324.6z"/>
<path fill="#87edd9" d="M689.5 263.9L632.4 281.2 631.8 278 687.9 261.1z"/>
<path fill="#86ebd8" d="M638.1 279.5L589 293.4 589.1 289.9 637.4 276.4z"/>
<path fill="#85e9d6" d="M593.9 292.1L551.2 303.1 551.8 299.5 593.9 288.6z"/>
<path fill="#83e6d3" d="M555.5 302.1L517.9 311 518.9 307.2 556 298.5z"/>
<path fill="#82e3d0" d="M521.7 310.1L488.2 317.2 489.5 313.4 522.6 306.4z"/>
<path fill="#80dfcd" d="M491.6 316.5L461.5 322.2 463 318.4 492.8 312.8z"/>
<path fill="#7fddcb" d="M464.6 321.6L437.3 326.1 438.9 322.3 466 317.8z"/>
<path fill="#7edcca" d="M440.1 325.7L415.1 329.1 416.8 325.3 441.6 321.9z"/>
<path fill="#7ddac8" d="M417.7 328.8L394.6 331.4 396.4 327.6 419.3 325z"/>
<path fill="#7bd8c6" d="M397 331.2L375.6 333.1 377.4 329.3 398.7 327.4z"/>
<path fill="#7ad6c4" d="M377.8 332.9L357.8 334.2 359.6 330.5 379.6 329.2z"/>
<path fill="#79d3c2" d="M359.9 334.1L341 334.9 342.9 331.2 361.7 330.4z"/>
<path fill="#77d1c0" d="M343 334.8L325.2 335.2 327 331.6 344.8 331.2z"/>
<path fill="#76cebe" d="M327 335.2L310.1 335.2 312 331.6 328.9 331.6z"/>
<path fill="#74ccbb" d="M311.8 335.2L295.7 334.8 297.6 331.3 313.7 331.6z"/>
<path fill="#73c9b9" d="M297.4 334.9L281.9 334.2 283.8 330.8 299.3 331.4z"/>
<path fill="#71c6b6" d="M283.5 334.3L268.6 333.4 270.5 330 285.4 330.9z"/>
<path fill="#70c3b3" d="M270.1 333.5L255.7 332.4 257.7 329.1 272.1 330.1z"/>
<path fill="#6ec0b1" d="M257.2 332.6L243.3 331.3 245.3 327.9 259.2 329.2z"/>
<path fill="#6cbdae" d="M244.8 331.4L231.2 329.9 233.2 326.7 246.7 328.1z"/>
<path fill="#6bbbab" d="M232.7 330.1L219.5 328.5 221.5 325.2 234.6 326.8z"/>
<path fill="#69b8a9" d="M220.9 328.6L208 326.9 210 323.7 222.9 325.4z"/>
<path fill="#67b5a6" d="M209.4 327.1L196.8 325.2 198.8 322 211.4 323.9z"/>
<path fill="#66b2a4" d="M198.1 325.4L187.1 323.6 189.2 320.5 200.1 322.2z"/>
<path fill="#8befd5" d="M688.3 261.8L632 278.8 631.4 275.6 686.6 259z"/>
<path fill="#8aedd3" d="M637.6 277.2L589.1 290.8 589.2 287.3 636.9 274z"/>
<path fill="#88ebd1" d="M593.9 289.5L551.6 300.4 552.2 296.8 593.9 286.1z"/>
<path fill="#87e8cf" d="M555.9 299.4L518.6 308.2 519.6 304.5 556.4 295.8z"/>
<path fill="#85e5cc" d="M522.4 307.4L489.1 314.4 490.3 310.6 523.3 303.6z"/>
<path fill="#83e2c9" d="M492.5 313.7L462.6 319.3 464 315.5 493.7 310z"/>
<path fill="#82dfc7" d="M465.6 318.8L438.5 323.3 440 319.4 467 315z"/>
<path fill="#81dec6" d="M441.2 322.8L416.3 326.3 418 322.5 442.8 319z"/>
<path fill="#80dcc4" d="M418.9 326L395.9 328.6 397.6 324.8 420.5 322.2z"/>
<path fill="#7fdac2" d="M398.3 328.4L376.9 330.3 378.7 326.6 400 324.6z"/>
<path fill="#7dd8c1" d="M379.1 330.1L359.1 331.5 361 327.8 380.9 326.4z"/>
<path fill="#7cd5be" d="M361.2 331.4L342.4 332.2 344.2 328.5 363 327.6z"/>
<path fill="#7bd3bc" d="M344.4 332.1L326.6 332.5 328.4 328.9 346.2 328.5z"/>
<path fill="#79d0ba" d="M328.4 332.5L311.5 332.5 313.4 328.9 330.3 328.9z"/>
<path fill="#78ceb7" d="M313.3 332.5L297.1 332.2 299 328.7 315.2 329z"/>
<path fill="#76cbb5" d="M298.8 332.3L283.3 331.7 285.2 328.2 300.7 328.7z"/>
<path fill="#74c8b2" d="M284.9 331.8L270 330.9 272 327.5 286.9 328.3z"/>
<path fill="#73c5b0" d="M271.6 331L257.2 329.9 259.1 326.6 273.5 327.6z"/>
<path fill="#71c2ad" d="M258.7 330.1L244.8 328.8 246.7 325.5 260.7 326.7z"/>
<path fill="#6fc0ab" d="M246.2 328.9L232.7 327.5 234.7 324.2 248.2 325.6z"/>
<path fill="#6ebda8" d="M234.1 327.7L220.9 326.1 223 322.8 236.1 324.4z"/>
<path fill="#6cbaa6" d="M222.3 326.3L209.5 324.5 211.5 321.3 224.4 323z"/>
<path fill="#6ab7a3" d="M210.9 324.7L198.3 322.9 200.3 319.7 212.9 321.5z"/>
<path fill="#69b4a1" d="M199.6 323.1L188.6 321.3 190.7 318.2 201.7 319.9z"/>
<path fill="#8ef1d0" d="M687.1 259.7L631.5 276.4 631 273.2 685.4 256.9z"/>
<path fill="#8defcf" d="M637.1 274.8L589.2 288.2 589.2 284.8 636.4 271.6z"/>
<path fill="#8cedcd" d="M593.9 286.9L552.1 297.8 552.7 294.1 593.9 283.5z"/>
<path fill="#8aeacb" d="M556.3 296.7L519.3 305.4 520.2 301.7 556.8 293.1z"/>
<path fill="#88e7c8" d="M523 304.6L490 311.6 491.2 307.8 523.9 300.9z"/>
<path fill="#86e4c5" d="M493.4 310.9L463.6 316.5 465 312.7 494.6 307.2z"/>
<path fill="#85e1c3" d="M466.7 316L439.6 320.4 441.1 316.6 468 312.2z"/>
<path fill="#84e0c2" d="M442.4 320L417.6 323.5 419.2 319.7 443.9 316.2z"/>
<path fill="#83dec0" d="M420.1 323.2L397.2 325.8 398.9 322 421.7 319.3z"/>
<path fill="#82dcbf" d="M399.6 325.6L378.2 327.5 380 323.8 401.3 321.8z"/>
<path fill="#81dabd" d="M380.4 327.3L360.5 328.7 362.3 325 382.2 323.6z"/>
<path fill="#7fd8bb" d="M362.6 328.6L343.8 329.5 345.6 325.8 364.4 324.9z"/>
<path fill="#7ed5b8" d="M345.7 329.4L327.9 329.8 329.8 326.2 347.6 325.7z"/>
<path fill="#7cd2b6" d="M329.8 329.8L312.9 329.9 314.8 326.3 331.7 326.2z"/>
<path fill="#7bd0b4" d="M314.7 329.9L298.5 329.6 300.4 326.1 316.6 326.3z"/>
<path fill="#79cdb1" d="M300.2 329.7L284.7 329.1 286.7 325.6 302.1 326.1z"/>
<path fill="#77caaf" d="M286.3 329.2L271.5 328.4 273.4 324.9 288.3 325.7z"/>
<path fill="#76c7ad" d="M273 328.5L258.6 327.4 260.6 324.1 275 325z"/>
<path fill="#74c4aa" d="M260.2 327.6L246.2 326.3 248.2 323 262.1 324.2z"/>
<path fill="#72c2a8" d="M247.7 326.5L234.2 325.1 236.2 321.8 249.7 323.1z"/>
<path fill="#71bfa5" d="M235.6 325.2L222.4 323.7 224.5 320.4 237.6 321.9z"/>
<path fill="#6fbca3" d="M223.8 323.9L211 322.2 213 319 225.9 320.6z"/>
<path fill="#6db9a0" d="M212.4 322.4L199.8 320.5 201.9 317.4 214.4 319.2z"/>
<path fill="#6cb69e" d="M201.1 320.7L190.2 319 192.2 315.9 203.2 317.6z"/>
<path fill="#92f3cc" d="M685.8 257.6L631.1 274 630.5 270.8 684.2 254.8z"/>
<path fill="#91f1ca" d="M636.5 272.4L589.2 285.7 589.3 282.2 635.8 269.2z"/>
<path fill="#8fefc8" d="M593.9 284.4L552.5 295.1 553.1 291.4 593.9 280.9z"/>
<path fill="#8eecc6" d="M556.7 294L520 302.7 520.9 298.9 557.2 290.4z"/>
<path fill="#8ce9c4" d="M523.7 301.8L490.9 308.8 492.1 305 524.6 298.1z"/>
<path fill="#8ae6c1" d="M494.3 308.1L464.7 313.7 466 309.9 495.4 304.3z"/>
<path fill="#88e3bf" d="M467.7 313.2L440.7 317.6 442.3 313.8 469 309.4z"/>
<path fill="#88e2be" d="M443.5 317.2L418.8 320.7 420.4 316.8 445 313.4z"/>
<path fill="#86e0bc" d="M421.3 320.3L398.5 323 400.2 319.2 422.9 316.5z"/>
<path fill="#85deba" d="M400.8 322.8L379.6 324.7 381.3 321 402.5 319z"/>
<path fill="#84dcb9" d="M381.8 324.6L361.8 326 363.7 322.2 383.5 320.8z"/>
<path fill="#83dab7" d="M363.9 325.8L345.1 326.7 347 323.1 365.7 322.1z"/>
<path fill="#81d7b5" d="M347.1 326.7L329.3 327.1 331.2 323.5 348.9 323z"/>
<path fill="#80d5b2" d="M331.2 327.1L314.3 327.2 316.2 323.6 333.1 323.5z"/>
<path fill="#7ed2b0" d="M316.1 327.2L299.9 327 301.9 323.4 318 323.6z"/>
<path fill="#7ccfae" d="M301.6 327L286.2 326.5 288.1 323 303.6 323.5z"/>
<path fill="#7bccab" d="M287.8 326.6L272.9 325.8 274.9 322.4 289.7 323.1z"/>
<path fill="#79c9a9" d="M274.5 325.9L260.1 324.9 262.1 321.5 276.4 322.5z"/>
<path fill="#77c7a7" d="M261.6 325.1L247.7 323.9 249.7 320.5 263.6 321.6z"/>
<path fill="#75c4a4" d="M249.2 324L235.7 322.6 237.7 319.3 251.2 320.6z"/>
<path fill="#74c1a2" d="M237.1 322.8L223.9 321.3 226 318 239.1 319.5z"/>
<path fill="#72be9f" d="M225.3 321.5L212.5 319.8 214.6 316.6 227.4 318.2z"/>
<path fill="#70bb9d" d="M213.9 320L201.3 318.2 203.4 315 215.9 316.8z"/>
<path fill="#6fb89b" d="M202.7 318.4L191.7 316.7 193.8 313.6 204.7 315.2z"/>
<path fill="#95f5c7" d="M684.6 255.5L630.7 271.6 630 268.4 682.9 252.6z"/>
<path fill="#94f3c6" d="M636 270.1L589.3 283.1 589.3 279.6 635.3 266.9z"/>
<path fill="#93f1c4" d="M593.9 281.8L552.9 292.4 553.4 288.8 593.9 278.4z"/>
<path fill="#91eec2" d="M557 291.4L520.7 299.9 521.6 296.2 557.5 287.8z"/>
<path fill="#8febbf" d="M524.4 299.1L491.8 306 492.9 302.2 525.2 295.4z"/>
<path fill="#8de8bd" d="M495.1 305.3L465.7 310.9 467 307.1 496.2 301.5z"/>
<path fill="#8ce5bb" d="M468.7 310.3L441.9 314.8 443.4 310.9 470 306.5z"/>
<path fill="#8be4b9" d="M444.6 314.3L420 317.8 421.6 314 446.1 310.5z"/>
<path fill="#8ae2b8" d="M422.5 317.5L399.7 320.2 401.4 316.4 424.1 313.7z"/>
<path fill="#89e0b6" d="M402.1 319.9L380.9 322 382.6 318.2 403.8 316.1z"/>
<path fill="#87deb5" d="M383.1 321.8L363.2 323.2 365 319.5 384.8 318z"/>
<path fill="#86dcb3" d="M365.2 323.1L346.5 324 348.4 320.3 367.1 319.3z"/>
<path fill="#84d9b1" d="M348.5 323.9L330.7 324.4 332.6 320.8 350.3 320.2z"/>
<path fill="#83d7af" d="M332.6 324.4L315.7 324.5 317.6 320.9 334.5 320.8z"/>
<path fill="#81d4ac" d="M317.5 324.6L301.4 324.4 303.3 320.8 319.4 320.9z"/>
<path fill="#7fd1aa" d="M303.1 324.4L287.6 323.9 289.6 320.4 305 320.8z"/>
<path fill="#7ecea8" d="M289.2 324L274.4 323.3 276.3 319.8 291.2 320.5z"/>
<path fill="#7ccca6" d="M275.9 323.4L261.6 322.4 263.6 319 277.9 319.9z"/>
<path fill="#7ac9a3" d="M263.1 322.5L249.2 321.4 251.2 318 265.1 319.1z"/>
<path fill="#78c6a1" d="M250.6 321.5L237.2 320.2 239.2 316.9 252.7 318.1z"/>
<path fill="#77c39f" d="M238.6 320.3L225.5 318.9 227.5 315.6 240.6 317z"/>
<path fill="#75c09c" d="M226.8 319L214 317.4 216.1 314.2 228.9 315.7z"/>
<path fill="#73bd9a" d="M215.4 317.6L202.9 315.9 205 312.7 217.5 314.4z"/>
<path fill="#71ba98" d="M204.2 316L193.3 314.4 195.4 311.2 206.3 312.9z"/>
<path fill="#99f7c3" d="M683.4 253.4L630.2 269.2 629.5 266 681.7 250.5z"/>
<path fill="#98f5c1" d="M635.5 267.7L589.3 280.5 589.3 277 634.7 264.5z"/>
<path fill="#96f3c0" d="M593.9 279.3L553.3 289.7 553.8 286.1 593.9 275.8z"/>
<path fill="#95f0bd" d="M557.4 288.7L521.3 297.1 522.2 293.4 557.8 285.1z"/>
<path fill="#93eebb" d="M525 296.3L492.7 303.2 493.8 299.4 525.8 292.6z"/>
<path fill="#91eab9" d="M495.9 302.5L466.7 308 468 304.2 497 298.7z"/>
<path fill="#8fe8b6" d="M469.7 307.5L443 311.9 444.5 308.1 471 303.7z"/>
<path fill="#8ee6b5" d="M445.7 311.5L421.2 315 422.8 311.2 447.2 307.7z"/>
<path fill="#8de4b4" d="M423.7 314.7L401 317.4 402.7 313.6 425.3 310.8z"/>
<path fill="#8ce2b2" d="M403.3 317.1L382.2 319.2 383.9 315.4 405 313.3z"/>
<path fill="#8be0b1" d="M384.4 319L364.5 320.4 366.3 316.7 386.1 315.2z"/>
<path fill="#89deaf" d="M366.6 320.3L347.9 321.3 349.7 317.6 368.4 316.5z"/>
<path fill="#88dbad" d="M349.8 321.2L332.1 321.7 334 318.1 351.7 317.5z"/>
<path fill="#86d9ab" d="M334 321.7L317.1 321.9 319 318.2 335.9 318z"/>
<path fill="#84d6a9" d="M318.9 321.9L302.8 321.7 304.7 318.1 320.8 318.2z"/>
<path fill="#83d3a7" d="M304.5 321.8L289.1 321.3 291 317.8 306.4 318.2z"/>
<path fill="#81d1a4" d="M290.7 321.4L275.8 320.7 277.8 317.2 292.6 317.8z"/>
<path fill="#7fcea2" d="M277.4 320.8L263 319.9 265 316.4 279.4 317.3z"/>
<path fill="#7dcba0" d="M264.6 320L250.7 318.9 252.7 315.5 266.6 316.5z"/>
<path fill="#7cc89d" d="M252.1 319L238.7 317.7 240.7 314.4 254.2 315.6z"/>
<path fill="#7ac59b" d="M240.1 317.9L227 316.4 229 313.1 242.1 314.5z"/>
<path fill="#78c299" d="M228.4 316.6L215.6 315 217.7 311.8 230.4 313.3z"/>
<path fill="#76bf97" d="M216.9 315.2L204.4 313.5 206.5 310.3 219 311.9z"/>
<path fill="#74bc94" d="M205.8 313.7L194.8 312.1 197 308.9 207.9 310.5z"/>
<path fill="#9cf9be" d="M682.1 251.2L629.7 266.8 629.1 263.5 680.5 248.4z"/>
<path fill="#9bf7bd" d="M634.9 265.3L589.3 277.9 589.3 274.4 634.2 262.1z"/>
<path fill="#9af5bb" d="M593.9 276.7L553.7 287 554.2 283.4 593.8 273.3z"/>
<path fill="#98f3b9" d="M557.7 286L522 294.4 522.8 290.6 558.2 282.4z"/>
<path fill="#96f0b7" d="M525.6 293.6L493.5 300.4 494.6 296.6 526.4 289.8z"/>
<path fill="#94ecb4" d="M496.8 299.7L467.7 305.2 469 301.4 497.8 295.9z"/>
<path fill="#93eab2" d="M470.6 304.7L444.1 309.1 445.6 305.2 471.9 300.9z"/>
<path fill="#92e8b1" d="M446.8 308.7L422.4 312.2 424 308.3 448.3 304.8z"/>
<path fill="#91e6b0" d="M424.9 311.8L402.2 314.5 403.9 310.7 426.5 308z"/>
<path fill="#8fe4ae" d="M404.6 314.3L383.5 316.4 385.2 312.6 406.3 310.5z"/>
<path fill="#8ee2ad" d="M385.7 316.2L365.9 317.7 367.7 313.9 387.4 312.4z"/>
<path fill="#8de0ab" d="M367.9 317.5L349.3 318.5 351.1 314.8 369.7 313.8z"/>
<path fill="#8bdda9" d="M351.2 318.4L333.5 319 335.4 315.3 353.1 314.7z"/>
<path fill="#89dba7" d="M335.4 319L318.6 319.2 320.5 315.5 337.3 315.3z"/>
<path fill="#88d8a5" d="M320.3 319.2L304.2 319.1 306.2 315.5 322.2 315.5z"/>
<path fill="#86d5a3" d="M305.9 319.1L290.5 318.7 292.5 315.2 307.9 315.5z"/>
<path fill="#84d3a1" d="M292.1 318.8L277.3 318.1 279.3 314.6 294.1 315.2z"/>
<path fill="#82d09e" d="M278.8 318.2L264.5 317.3 266.5 313.9 280.8 314.7z"/>
<path fill="#81cd9c" d="M266 317.4L252.2 316.4 254.2 313 268 314z"/>
<path fill="#7fca9a" d="M253.6 316.5L240.2 315.2 242.2 311.9 255.7 313.1z"/>
<path fill="#7dc798" d="M241.6 315.4L228.5 314 230.6 310.7 243.6 312z"/>
<path fill="#7bc496" d="M229.9 314.1L217.1 312.6 219.2 309.3 232 310.8z"/>
<path fill="#79c193" d="M218.5 312.8L206 311.1 208.1 307.9 220.6 309.5z"/>
<path fill="#78be91" d="M207.3 311.3L196.4 309.7 198.5 306.5 209.4 308.1z"/>
<path fill="#a1fab9" d="M680.9 249.1L629.2 264.4 628.6 261.1 679.2 246.2z"/>
<path fill="#a0f9b8" d="M634.4 262.9L589.3 275.3 589.3 271.9 633.6 259.7z"/>
<path fill="#9ef7b6" d="M593.8 274.1L554 284.3 554.5 280.7 593.7 270.7z"/>
<path fill="#9df4b5" d="M558.1 283.3L522.6 291.6 523.4 287.9 558.5 279.7z"/>
<path fill="#9bf1b2" d="M526.2 290.8L494.3 297.5 495.4 293.8 527 287.1z"/>
<path fill="#99eeb0" d="M497.6 296.9L468.7 302.4 469.9 298.5 498.6 293.1z"/>
<path fill="#97ebae" d="M471.6 301.8L445.2 306.2 446.6 302.4 472.9 298z"/>
<path fill="#96e9ad" d="M447.9 305.8L423.5 309.3 425.1 305.5 449.3 302z"/>
<path fill="#95e8ac" d="M426.1 309L403.5 311.7 405.2 307.9 427.6 305.1z"/>
<path fill="#94e6aa" d="M405.8 311.5L384.8 313.5 386.5 309.7 407.5 307.6z"/>
<path fill="#92e4a9" d="M387 313.3L367.2 314.9 369 311.1 388.7 309.5z"/>
<path fill="#91e1a7" d="M369.3 314.7L350.6 315.8 352.5 312 371.1 311z"/>
<path fill="#8fdfa5" d="M352.6 315.7L334.9 316.3 336.8 312.6 354.4 311.9z"/>
<path fill="#8edca3" d="M336.8 316.2L320 316.5 321.9 312.8 338.7 312.5z"/>
<path fill="#8cdaa1" d="M321.7 316.5L305.7 316.4 307.6 312.8 323.6 312.8z"/>
<path fill="#8ad79f" d="M307.4 316.4L292 316.1 293.9 312.5 309.3 312.8z"/>
<path fill="#88d49d" d="M293.6 316.1L278.8 315.5 280.8 312 295.5 312.6z"/>
<path fill="#86d19b" d="M280.3 315.6L266 314.8 268 311.3 282.3 312.1z"/>
<path fill="#85ce99" d="M267.5 314.9L253.7 313.8 255.7 310.4 269.5 311.4z"/>
<path fill="#83cc97" d="M255.1 314L241.7 312.8 243.7 309.4 257.2 310.5z"/>
<path fill="#81c994" d="M243.1 312.9L230 311.5 232.1 308.2 245.2 309.5z"/>
<path fill="#7fc692" d="M231.4 311.7L218.7 310.2 220.8 306.9 233.5 308.3z"/>
<path fill="#7dc390" d="M220 310.4L207.6 308.7 209.7 305.5 222.1 307.1z"/>
<path fill="#7bc08e" d="M208.9 308.9L198 307.4 200.1 304.2 211 305.7z"/>
<path fill="#a6fcb5" d="M679.7 247L628.7 262 628.1 258.7 678 244z"/>
<path fill="#a4fab3" d="M633.8 260.5L589.3 272.8 589.2 269.3 633.1 257.3z"/>
<path fill="#a3f8b2" d="M593.8 271.6L554.4 281.6 554.8 278 593.6 268.1z"/>
<path fill="#a1f5b0" d="M558.4 280.6L523.2 288.8 524 285.1 558.7 277z"/>
<path fill="#9ff3ae" d="M526.8 288L495.1 294.7 496.2 290.9 527.5 284.3z"/>
<path fill="#9defac" d="M498.4 294.1L469.6 299.5 470.9 295.7 499.4 290.3z"/>
<path fill="#9beca9" d="M472.6 299L446.3 303.4 447.7 299.5 473.8 295.2z"/>
<path fill="#9aeba8" d="M449 303L424.7 306.5 426.3 302.6 450.4 299.1z"/>
<path fill="#99e9a7" d="M427.2 306.1L404.7 308.9 406.4 305 428.8 302.3z"/>
<path fill="#98e7a6" d="M407.1 308.6L386.1 310.7 387.8 306.9 408.7 304.8z"/>
<path fill="#97e5a4" d="M388.2 310.5L368.5 312.1 370.3 308.3 390 306.7z"/>
<path fill="#95e3a3" d="M370.6 311.9L352 313 353.9 309.2 372.4 308.1z"/>
<path fill="#94e1a1" d="M353.9 312.9L336.3 313.5 338.2 309.8 355.8 309.2z"/>
<path fill="#92de9f" d="M338.2 313.5L321.4 313.8 323.3 310.1 340 309.8z"/>
<path fill="#90db9d" d="M323.1 313.8L307.1 313.7 309.1 310.1 325.1 310.1z"/>
<path fill="#8ed99b" d="M308.8 313.7L293.4 313.4 295.4 309.8 310.7 310.1z"/>
<path fill="#8cd699" d="M295 313.5L280.2 312.9 282.2 309.4 297 309.9z"/>
<path fill="#8bd397" d="M281.8 313L267.5 312.2 269.5 308.7 283.8 309.4z"/>
<path fill="#89d095" d="M269 312.3L255.2 311.3 257.2 307.9 271 308.8z"/>
<path fill="#87cd93" d="M256.6 311.4L243.2 310.3 245.3 306.9 258.7 308z"/>
<path fill="#85ca91" d="M244.6 310.4L231.6 309.1 233.7 305.7 246.7 307z"/>
<path fill="#83c78f" d="M233 309.2L220.2 307.8 222.3 304.4 235 305.9z"/>
<path fill="#81c48d" d="M221.6 307.9L209.1 306.3 211.3 303.1 223.7 304.6z"/>
<path fill="#7fc28b" d="M210.5 306.5L199.6 305 201.7 301.8 212.6 303.2z"/>
<path fill="#aafdb0" d="M678.4 244.8L628.2 259.5 627.5 256.3 676.8 241.9z"/>
<path fill="#a9fcaf" d="M633.3 258.1L589.2 270.2 589.2 266.7 632.5 254.9z"/>
<path fill="#a8f9ad" d="M593.7 269L554.7 278.9 555.1 275.3 593.5 265.5z"/>
<path fill="#a6f7ac" d="M558.6 277.9L523.8 286.1 524.6 282.3 559 274.3z"/>
<path fill="#a4f4aa" d="M527.3 285.3L495.9 291.9 497 288.1 528.1 281.5z"/>
<path fill="#a2f1a7" d="M499.1 291.3L470.6 296.7 471.8 292.8 500.1 287.5z"/>
<path fill="#a0eea5" d="M473.5 296.2L447.3 300.5 448.8 296.7 474.7 292.3z"/>
<path fill="#9feca4" d="M450 300.1L425.9 303.6 427.4 299.8 451.4 296.3z"/>
<path fill="#9eeba3" d="M428.4 303.3L406 306 407.6 302.2 429.9 299.4z"/>
<path fill="#9ce9a2" d="M408.3 305.8L387.4 307.9 389.1 304.1 409.9 301.9z"/>
<path fill="#9be7a0" d="M389.5 307.7L369.9 309.3 371.7 305.5 391.2 303.9z"/>
<path fill="#99e49f" d="M371.9 309.1L353.4 310.2 355.2 306.5 373.7 305.3z"/>
<path fill="#98e29d" d="M355.3 310.1L337.7 310.8 339.6 307.1 357.1 306.4z"/>
<path fill="#96df9b" d="M339.6 310.7L322.8 311.1 324.7 307.4 341.4 307z"/>
<path fill="#94dd99" d="M324.6 311L308.6 311 310.5 307.4 326.5 307.4z"/>
<path fill="#93da98" d="M310.2 311.1L294.9 310.8 296.9 307.2 312.2 307.4z"/>
<path fill="#91d796" d="M296.5 310.8L281.7 310.3 283.7 306.7 298.5 307.2z"/>
<path fill="#8fd494" d="M283.3 310.4L269 309.6 271 306.1 285.3 306.8z"/>
<path fill="#8dd292" d="M270.5 309.7L256.7 308.7 258.8 305.3 272.5 306.2z"/>
<path fill="#8bcf90" d="M258.2 308.9L244.7 307.7 246.8 304.3 260.2 305.4z"/>
<path fill="#89cc8e" d="M246.2 307.9L233.1 306.6 235.2 303.2 248.2 304.4z"/>
<path fill="#87c98c" d="M234.5 306.7L221.8 305.3 223.9 302 236.6 303.4z"/>
<path fill="#85c68a" d="M223.1 305.5L210.7 303.9 212.9 300.6 225.3 302.1z"/>
<path fill="#83c388" d="M212 304.1L201.2 302.6 203.4 299.4 214.2 300.8z"/>
<path fill="#afffab" d="M677.2 242.6L627.7 257.1 627 253.8 675.6 239.7z"/>
<path fill="#aefdaa" d="M632.7 255.7L589.2 267.6 589.1 264.1 631.9 252.5z"/>
<path fill="#acfba9" d="M593.6 266.4L555 276.2 555.4 272.6 593.4 263z"/>
<path fill="#aaf8a7" d="M558.9 275.3L524.4 283.3 525.1 279.5 559.3 271.6z"/>
<path fill="#a9f6a5" d="M527.9 282.5L496.7 289.1 497.7 285.3 528.6 278.8z"/>
<path fill="#a6f2a3" d="M499.9 288.5L471.5 293.8 472.7 290 500.9 284.6z"/>
<path fill="#a4efa1" d="M474.4 293.3L448.4 297.7 449.8 293.8 475.6 289.5z"/>
<path fill="#a3eea0" d="M451.1 297.3L427 300.8 428.6 296.9 452.5 293.4z"/>
<path fill="#a2ec9f" d="M429.5 300.4L407.2 303.2 408.8 299.3 431 296.6z"/>
<path fill="#a1ea9d" d="M409.5 302.9L388.6 305.1 390.4 301.2 411.1 299.1z"/>
<path fill="#9fe89c" d="M390.8 304.9L371.2 306.5 373 302.7 392.5 301z"/>
<path fill="#9ee69b" d="M373.2 306.3L354.7 307.4 356.6 303.7 375 302.5z"/>
<path fill="#9ce499" d="M356.7 307.3L339.1 308 341 304.3 358.5 303.6z"/>
<path fill="#9ae197" d="M341 308L324.2 308.3 326.2 304.6 342.8 304.3z"/>
<path fill="#99de95" d="M326 308.3L310 308.3 312 304.7 327.9 304.6z"/>
<path fill="#97dc94" d="M311.7 308.4L296.4 308.1 298.3 304.5 313.6 304.7z"/>
<path fill="#95d992" d="M298 308.2L283.2 307.7 285.2 304.1 299.9 304.5z"/>
<path fill="#93d690" d="M284.8 307.7L270.5 307 272.6 303.5 286.8 304.2z"/>
<path fill="#91d38e" d="M272 307.1L258.2 306.2 260.3 302.7 274 303.6z"/>
<path fill="#8fd08c" d="M259.7 306.3L246.3 305.2 248.4 301.8 261.7 302.8z"/>
<path fill="#8dcd8a" d="M247.7 305.3L234.7 304.1 236.8 300.7 249.8 301.9z"/>
<path fill="#8bca88" d="M236.1 304.2L223.4 302.8 225.5 299.5 238.2 300.8z"/>
<path fill="#89c886" d="M224.7 303L212.3 301.5 214.5 298.2 226.8 299.7z"/>
<path fill="#87c584" d="M213.6 301.7L202.8 300.2 205 296.9 215.8 298.4z"/>
<path fill="#b3ffa6" d="M676 240.5L627.2 254.7 626.5 251.4 674.3 237.5z"/>
<path fill="#b2fea5" d="M632.1 253.3L589.1 265 589 261.5 631.3 250z"/>
<path fill="#b1fca4" d="M593.5 263.9L555.3 273.5 555.7 269.8 593.3 260.4z"/>
<path fill="#affaa2" d="M559.2 272.6L524.9 280.5 525.7 276.8 559.5 268.9z"/>
<path fill="#adf7a1" d="M528.4 279.7L497.5 286.3 498.5 282.5 529.1 276z"/>
<path fill="#abf49f" d="M500.6 285.6L472.4 291 473.7 287.1 501.6 281.8z"/>
<path fill="#a8f09c" d="M475.3 290.5L449.4 294.8 450.8 290.9 476.5 286.6z"/>
<path fill="#a8ef9b" d="M452.1 294.4L428.2 297.9 429.7 294 453.5 290.5z"/>
<path fill="#a6ee9a" d="M430.6 297.6L408.4 300.3 410 296.5 432.2 293.7z"/>
<path fill="#a5ec99" d="M410.7 300.1L389.9 302.2 391.6 298.4 412.3 296.2z"/>
<path fill="#a4ea98" d="M392.1 302L372.5 303.6 374.3 299.8 393.8 298.2z"/>
<path fill="#a2e796" d="M374.6 303.5L356.1 304.6 357.9 300.9 376.3 299.7z"/>
<path fill="#a0e595" d="M358 304.5L340.5 305.3 342.4 301.5 359.9 300.8z"/>
<path fill="#9fe393" d="M342.4 305.2L325.7 305.6 327.6 301.9 344.2 301.5z"/>
<path fill="#9de092" d="M327.4 305.6L311.5 305.6 313.4 302 329.3 301.9z"/>
<path fill="#9bdd90" d="M313.1 305.7L297.8 305.4 299.8 301.8 315.1 302z"/>
<path fill="#99da8e" d="M299.4 305.5L284.7 305 286.7 301.4 301.4 301.8z"/>
<path fill="#97d88c" d="M286.2 305.1L272 304.4 274.1 300.9 288.3 301.5z"/>
<path fill="#95d58a" d="M273.5 304.5L259.7 303.6 261.8 300.1 275.6 300.9z"/>
<path fill="#93d288" d="M261.2 303.7L247.8 302.7 249.9 299.2 263.3 300.2z"/>
<path fill="#91cf87" d="M249.2 302.8L236.2 301.6 238.4 298.2 251.3 299.3z"/>
<path fill="#8fcc85" d="M237.6 301.7L225 300.4 227.1 297 239.7 298.3z"/>
<path fill="#8dc983" d="M226.3 300.5L213.9 299 216.1 295.7 228.4 297.2z"/>
<path fill="#8bc681" d="M215.2 299.2L204.4 297.8 206.6 294.5 217.4 295.9z"/>
<path fill="#b8ffa2" d="M674.8 238.3L626.7 252.2 625.9 248.9 673.1 235.3z"/>
<path fill="#b7ffa1" d="M631.5 250.9L589.1 262.4 588.9 258.9 630.7 247.6z"/>
<path fill="#b5fe9f" d="M593.3 261.3L555.6 270.8 555.9 267.1 593.2 257.8z"/>
<path fill="#b4fb9e" d="M559.4 269.9L525.5 277.7 526.2 274 559.7 266.2z"/>
<path fill="#b2f99c" d="M528.9 277L498.2 283.4 499.2 279.6 529.6 273.2z"/>
<path fill="#aff59a" d="M501.4 282.8L473.3 288.1 474.6 284.3 502.3 279z"/>
<path fill="#adf298" d="M476.2 287.6L450.5 291.9 451.9 288.1 477.4 283.8z"/>
<path fill="#acf197" d="M453.1 291.5L429.3 295 430.8 291.1 454.5 287.7z"/>
<path fill="#abef96" d="M431.8 294.7L409.6 297.5 411.2 293.6 433.3 290.8z"/>
<path fill="#aaed95" d="M411.9 297.2L391.2 299.4 392.9 295.5 413.5 293.3z"/>
<path fill="#a8eb94" d="M393.3 299.2L373.9 300.8 375.6 297 395 295.3z"/>
<path fill="#a7e992" d="M375.9 300.7L357.5 301.8 359.3 298 377.7 296.8z"/>
<path fill="#a5e791" d="M359.4 301.7L341.9 302.5 343.8 298.7 361.2 297.9z"/>
<path fill="#a3e48f" d="M343.7 302.4L327.1 302.9 329 299.1 345.6 298.7z"/>
<path fill="#a1e18e" d="M328.8 302.8L312.9 302.9 314.9 299.2 330.8 299.1z"/>
<path fill="#9fdf8c" d="M314.6 302.9L299.3 302.8 301.3 299.1 316.5 299.2z"/>
<path fill="#9ddc8a" d="M300.9 302.8L286.2 302.4 288.2 298.8 302.9 299.1z"/>
<path fill="#9bd988" d="M287.7 302.4L273.5 301.8 275.6 298.2 289.8 298.8z"/>
<path fill="#99d687" d="M275 301.9L261.3 301 263.4 297.5 277.1 298.3z"/>
<path fill="#97d385" d="M262.7 301.1L249.4 300.1 251.5 296.6 264.8 297.6z"/>
<path fill="#95d183" d="M250.8 300.2L237.8 299.1 240 295.6 252.9 296.8z"/>
<path fill="#93ce81" d="M239.2 299.2L226.5 297.9 228.7 294.5 241.3 295.8z"/>
<path fill="#91cb7f" d="M227.9 298L215.5 296.6 217.7 293.3 230 294.7z"/>
<path fill="#8fc87e" d="M216.8 296.8L206 295.4 208.3 292.1 219 293.4z"/>
<path fill="#bdff9d" d="M673.5 236.1L626.1 249.8 625.4 246.5 671.9 233.1z"/>
<path fill="#bcff9c" d="M630.9 248.5L589 259.8 588.8 256.3 630.1 245.2z"/>
<path fill="#baff9b" d="M593.2 258.7L555.8 268.1 556.2 264.4 593 255.2z"/>
<path fill="#b8fd99" d="M559.6 267.2L526 274.9 526.7 271.2 559.9 263.5z"/>
<path fill="#b6fa97" d="M529.4 274.2L499 280.6 499.9 276.8 530.1 270.4z"/>
<path fill="#b4f796" d="M502.1 280L474.2 285.3 475.4 281.4 503 276.2z"/>
<path fill="#b2f394" d="M477.1 284.8L451.5 289.1 452.9 285.2 478.3 280.9z"/>
<path fill="#b0f293" d="M454.1 288.7L430.4 292.2 431.9 288.3 455.5 284.8z"/>
<path fill="#aff092" d="M432.9 291.8L410.8 294.6 412.4 290.7 434.4 287.9z"/>
<path fill="#aeef91" d="M413.1 294.3L392.5 296.5 394.2 292.7 414.7 290.5z"/>
<path fill="#aded8f" d="M394.6 296.3L375.2 298 376.9 294.1 396.3 292.5z"/>
<path fill="#abea8e" d="M377.2 297.8L358.8 299 360.7 295.2 379 294z"/>
<path fill="#a9e88d" d="M360.7 298.9L343.3 299.7 345.2 295.9 362.6 295.1z"/>
<path fill="#a7e68b" d="M345.1 299.7L328.5 300.1 330.5 296.4 347 295.9z"/>
<path fill="#a6e38a" d="M330.3 300.1L314.4 300.2 316.3 296.5 332.2 296.3z"/>
<path fill="#a4e088" d="M316 300.2L300.8 300.1 302.8 296.4 318 296.5z"/>
<path fill="#a2de86" d="M302.4 300.1L287.7 299.7 289.7 296.1 304.4 296.4z"/>
<path fill="#a0db85" d="M289.2 299.8L275.1 299.2 277.1 295.6 291.3 296.1z"/>
<path fill="#9dd883" d="M276.6 299.2L262.8 298.4 264.9 294.9 278.6 295.7z"/>
<path fill="#9bd581" d="M264.3 298.5L251 297.5 253.1 294.1 266.4 295z"/>
<path fill="#99d27f" d="M252.4 297.7L239.4 296.5 241.5 293.1 254.5 294.2z"/>
<path fill="#97cf7e" d="M240.8 296.7L228.1 295.4 230.3 292 242.9 293.2z"/>
<path fill="#95cc7c" d="M229.5 295.5L217.2 294.1 219.4 290.8 231.6 292.1z"/>
<path fill="#93ca7a" d="M218.5 294.3L207.7 292.9 209.9 289.6 220.7 290.9z"/>
<path fill="#c2ff98" d="M672.3 233.9L625.6 247.3 624.8 244 670.6 230.9z"/>
<path fill="#c0ff97" d="M630.3 246L588.9 257.2 588.7 253.7 629.4 242.7z"/>
<path fill="#bfff96" d="M593.1 256.1L556.1 265.4 556.4 261.7 592.8 252.6z"/>
<path fill="#bdfe95" d="M559.8 264.5L526.5 272.2 527.2 268.4 560.1 260.8z"/>
<path fill="#bbfb93" d="M529.9 271.4L499.7 277.8 500.6 273.9 530.6 267.7z"/>
<path fill="#b9f891" d="M502.8 277.2L475.1 282.4 476.3 278.5 503.7 273.3z"/>
<path fill="#b6f58f" d="M478 281.9L452.5 286.2 453.9 282.3 479.1 278z"/>
<path fill="#b5f38e" d="M455.1 285.8L431.6 289.3 433 285.4 456.5 281.9z"/>
<path fill="#b4f28d" d="M434 288.9L412 291.7 413.6 287.9 435.5 285z"/>
<path fill="#b2f08c" d="M414.3 291.5L393.7 293.7 395.4 289.8 415.9 287.6z"/>
<path fill="#b1ee8b" d="M395.9 293.5L376.5 295.1 378.3 291.3 397.5 289.6z"/>
<path fill="#afec8a" d="M378.5 295L360.2 296.2 362 292.4 380.3 291.1z"/>
<path fill="#aeea88" d="M362.1 296.1L344.7 296.9 346.6 293.1 363.9 292.3z"/>
<path fill="#ace787" d="M346.5 296.9L330 297.3 331.9 293.6 348.4 293.1z"/>
<path fill="#aae586" d="M331.7 297.3L315.8 297.5 317.8 293.8 333.6 293.5z"/>
<path fill="#a8e284" d="M317.5 297.5L302.3 297.4 304.3 293.7 319.5 293.7z"/>
<path fill="#a6df82" d="M303.9 297.4L289.2 297 291.2 293.4 305.9 293.7z"/>
<path fill="#a4dc81" d="M290.7 297.1L276.6 296.5 278.7 292.9 292.8 293.4z"/>
<path fill="#a2da7f" d="M278.1 296.6L264.4 295.8 266.5 292.3 280.1 293z"/>
<path fill="#a0d77d" d="M265.8 295.9L252.5 295 254.6 291.5 267.9 292.4z"/>
<path fill="#9dd47c" d="M253.9 295.1L241 294 243.1 290.5 256 291.6z"/>
<path fill="#9bd17a" d="M242.4 294.1L229.8 292.9 231.9 289.5 244.5 290.7z"/>
<path fill="#99ce78" d="M231.1 293L218.8 291.6 221 288.3 233.3 289.6z"/>
<path fill="#97cb77" d="M220.1 291.8L209.3 290.5 211.6 287.1 222.3 288.4z"/>
<path fill="#c6ff94" d="M671.1 231.7L625 244.9 624.2 241.6 669.4 228.7z"/>
<path fill="#c5ff93" d="M629.6 243.6L588.8 254.6 588.6 251.1 628.8 240.3z"/>
<path fill="#c3ff92" d="M592.9 253.5L556.3 262.7 556.6 259 592.7 250z"/>
<path fill="#c1ff90" d="M560 261.8L527 269.4 527.7 265.6 560.3 258.1z"/>
<path fill="#bffc8f" d="M530.4 268.6L500.4 274.9 501.3 271.1 531 264.9z"/>
<path fill="#bdf98d" d="M503.5 274.3L476 279.5 477.2 275.7 504.4 270.5z"/>
<path fill="#baf68b" d="M478.8 279L453.5 283.3 454.8 279.4 480 275.2z"/>
<path fill="#b9f48a" d="M456.1 282.9L432.7 286.4 434.1 282.5 457.4 279z"/>
<path fill="#b8f289" d="M435.1 286.1L413.2 288.9 414.8 285 436.5 282.2z"/>
<path fill="#b7f188" d="M415.5 288.6L395 290.8 396.7 286.9 417.1 284.7z"/>
<path fill="#b5ef87" d="M397.1 290.6L377.8 292.3 379.6 288.4 398.8 286.7z"/>
<path fill="#b3ed86" d="M379.8 292.1L361.6 293.4 363.4 289.6 381.6 288.3z"/>
<path fill="#b2ea85" d="M363.5 293.3L346.1 294.1 348 290.3 365.3 289.4z"/>
<path fill="#b0e883" d="M347.9 294L331.4 294.6 333.3 290.8 349.8 290.3z"/>
<path fill="#aee582" d="M333.1 294.5L317.3 294.7 319.3 291 335 290.8z"/>
<path fill="#ace380" d="M318.9 294.7L303.7 294.6 305.8 291 320.9 291z"/>
<path fill="#aae07f" d="M305.3 294.7L290.7 294.3 292.8 290.7 307.3 291z"/>
<path fill="#a8dd7d" d="M292.3 294.4L278.1 293.9 280.2 290.3 294.3 290.7z"/>
<path fill="#a6da7c" d="M279.6 293.9L265.9 293.2 268 289.6 281.7 290.3z"/>
<path fill="#a4d87a" d="M267.4 293.3L254.1 292.4 256.2 288.9 269.5 289.7z"/>
<path fill="#a1d578" d="M255.5 292.5L242.6 291.4 244.7 288 257.6 289z"/>
<path fill="#9fd277" d="M244 291.5L231.4 290.3 233.6 286.9 246.1 288.1z"/>
<path fill="#9dcf75" d="M232.7 290.5L220.4 289.1 222.6 285.8 234.9 287z"/>
<path fill="#9bcc73" d="M221.7 289.3L211 288 213.2 284.7 223.9 285.9z"/>
<path fill="#caff8f" d="M669.9 229.4L624.4 242.4 623.7 239.1 668.2 226.4z"/>
<path fill="#c9ff8e" d="M629 241.2L588.6 252 588.5 248.5 628.2 237.9z"/>
<path fill="#c8ff8d" d="M592.7 250.9L556.5 259.9 556.8 256.3 592.5 247.4z"/>
<path fill="#c6ff8c" d="M560.2 259.1L527.5 266.6 528.1 262.8 560.4 255.4z"/>
<path fill="#c4fd8a" d="M530.9 265.8L501.1 272.1 502 268.3 531.4 262.1z"/>
<path fill="#c1fa89" d="M504.1 271.5L476.9 276.7 478 272.8 505 267.7z"/>
<path fill="#bff687" d="M479.7 276.2L454.5 280.4 455.8 276.5 480.8 272.3z"/>
<path fill="#bdf586" d="M457.1 280L433.8 283.5 435.2 279.6 458.4 276.1z"/>
<path fill="#bcf385" d="M436.2 283.2L414.4 286 416 282.1 437.6 279.3z"/>
<path fill="#bbf184" d="M416.7 285.7L396.2 287.9 397.9 284 418.2 281.8z"/>
<path fill="#b9ef83" d="M398.4 287.7L379.1 289.4 380.9 285.6 400 283.8z"/>
<path fill="#b8ed82" d="M381.1 289.3L362.9 290.5 364.7 286.7 382.9 285.4z"/>
<path fill="#b6eb81" d="M364.8 290.4L347.5 291.3 349.4 287.5 366.6 286.6z"/>
<path fill="#b4e97f" d="M349.3 291.2L332.8 291.8 334.7 288 351.2 287.4z"/>
<path fill="#b2e67e" d="M334.5 291.7L318.7 292 320.7 288.2 336.5 288z"/>
<path fill="#b0e47d" d="M320.4 291.9L305.2 291.9 307.2 288.2 322.4 288.2z"/>
<path fill="#aee17b" d="M306.8 291.9L292.2 291.6 294.3 288 308.8 288.2z"/>
<path fill="#acde7a" d="M293.8 291.7L279.7 291.2 281.7 287.6 295.8 288z"/>
<path fill="#aadb78" d="M281.1 291.3L267.5 290.6 269.6 287 283.2 287.6z"/>
<path fill="#a7d876" d="M268.9 290.6L255.7 289.8 257.8 286.2 271 287.1z"/>
<path fill="#a5d675" d="M257.1 289.9L244.2 288.9 246.4 285.4 259.2 286.3z"/>
<path fill="#a3d373" d="M245.6 289L233 287.8 235.2 284.4 247.7 285.5z"/>
<path fill="#a1d072" d="M234.3 287.9L222.1 286.6 224.3 283.2 236.5 284.5z"/>
<path fill="#9fcd70" d="M223.4 286.8L212.6 285.5 214.9 282.2 225.6 283.4z"/>
<path fill="#cfff8b" d="M668.6 227.2L623.9 240 623.1 236.6 667 224.2z"/>
<path fill="#cdff8a" d="M628.4 238.7L588.5 249.4 588.3 245.8 627.5 235.4z"/>
<path fill="#ccff89" d="M592.5 248.3L556.7 257.2 557 253.6 592.3 244.8z"/>
<path fill="#caff88" d="M560.4 256.4L528 263.8 528.6 260 560.6 252.7z"/>
<path fill="#c8fd86" d="M531.3 263.1L501.8 269.3 502.7 265.4 531.9 259.3z"/>
<path fill="#c6fa85" d="M504.8 268.7L477.7 273.8 478.8 269.9 505.7 264.8z"/>
<path fill="#c3f783" d="M480.5 273.3L455.5 277.5 456.8 273.6 481.6 269.4z"/>
<path fill="#c1f582" d="M458.1 277.1L434.8 280.6 436.3 276.7 459.4 273.2z"/>
<path fill="#c0f481" d="M437.2 280.3L415.6 283.1 417.1 279.2 438.7 276.4z"/>
<path fill="#bff280" d="M417.8 282.8L397.5 285.1 399.1 281.2 419.4 278.9z"/>
<path fill="#bdf07f" d="M399.6 284.8L380.4 286.6 382.2 282.7 401.2 280.9z"/>
<path fill="#bcee7e" d="M382.4 286.4L364.3 287.7 366.1 283.9 384.2 282.5z"/>
<path fill="#baec7d" d="M366.2 287.6L348.9 288.5 350.8 284.7 368 283.7z"/>
<path fill="#b8e97c" d="M350.7 288.4L334.2 289 336.2 285.2 352.6 284.6z"/>
<path fill="#b6e77a" d="M336 288.9L320.2 289.2 322.2 285.4 337.9 285.1z"/>
<path fill="#b4e479" d="M321.9 289.2L306.7 289.2 308.7 285.5 323.8 285.4z"/>
<path fill="#b2e277" d="M308.3 289.2L293.7 288.9 295.8 285.3 310.3 285.5z"/>
<path fill="#b0df76" d="M295.3 289L281.2 288.5 283.3 284.9 297.3 285.3z"/>
<path fill="#aedc74" d="M282.7 288.6L269.1 287.9 271.2 284.3 284.8 284.9z"/>
<path fill="#abd973" d="M270.5 288L257.3 287.2 259.4 283.6 272.6 284.4z"/>
<path fill="#a9d672" d="M258.7 287.3L245.8 286.3 248 282.8 260.8 283.7z"/>
<path fill="#a7d470" d="M247.2 286.4L234.6 285.3 236.8 281.8 249.3 282.9z"/>
<path fill="#a5d16f" d="M236 285.4L223.7 284.1 226 280.7 238.2 281.9z"/>
<path fill="#a3ce6d" d="M225 284.3L214.3 283 216.6 279.7 227.3 280.8z"/>
<path fill="#d3ff86" d="M667.4 225L623.3 237.5 622.5 234.2 665.8 221.9z"/>
<path fill="#d2ff85" d="M627.7 236.3L588.4 246.8 588.1 243.2 626.8 233z"/>
<path fill="#d0ff84" d="M592.3 245.7L556.9 254.5 557.2 250.8 592.1 242.2z"/>
<path fill="#ceff83" d="M560.5 253.6L528.4 261 529 257.2 560.7 250z"/>
<path fill="#ccfe82" d="M531.7 260.3L502.4 266.4 503.3 262.6 532.3 256.5z"/>
<path fill="#cafb80" d="M505.4 265.8L478.5 270.9 479.6 267 506.3 262z"/>
<path fill="#c7f87f" d="M481.3 270.4L456.5 274.7 457.7 270.7 482.4 266.5z"/>
<path fill="#c6f67e" d="M459 274.2L435.9 277.7 437.4 273.8 460.3 270.3z"/>
<path fill="#c4f47d" d="M438.3 277.4L416.7 280.2 418.3 276.3 439.7 273.5z"/>
<path fill="#c3f37c" d="M419 279.9L398.7 282.2 400.4 278.3 420.5 276z"/>
<path fill="#c2f17b" d="M400.8 282L381.7 283.7 383.5 279.8 402.5 278z"/>
<path fill="#c0ef7a" d="M383.7 283.5L365.6 284.9 367.4 281 385.4 279.7z"/>
<path fill="#beec79" d="M367.5 284.7L350.3 285.7 352.2 281.8 369.3 280.9z"/>
<path fill="#bcea78" d="M352.1 285.6L335.7 286.2 337.6 282.4 354 281.7z"/>
<path fill="#bae876" d="M337.4 286.1L321.7 286.4 323.7 282.7 339.3 282.3z"/>
<path fill="#b8e575" d="M323.3 286.4L308.2 286.4 310.2 282.7 325.3 282.6z"/>
<path fill="#b6e274" d="M309.8 286.4L295.3 286.2 297.3 282.5 311.8 282.7z"/>
<path fill="#b4e072" d="M296.8 286.3L282.7 285.8 284.8 282.2 298.8 282.6z"/>
<path fill="#b2dd71" d="M284.2 285.9L270.6 285.3 272.7 281.7 286.3 282.2z"/>
<path fill="#b0da6f" d="M272.1 285.3L258.9 284.5 261 281 274.2 281.7z"/>
<path fill="#add76e" d="M260.3 284.6L247.4 283.7 249.6 280.2 262.4 281.1z"/>
<path fill="#abd56d" d="M248.8 283.8L236.3 282.7 238.5 279.2 251 280.3z"/>
<path fill="#a9d26b" d="M237.6 282.8L225.4 281.6 227.6 278.2 239.8 279.3z"/>
<path fill="#a6cf6a" d="M226.7 281.7L216 280.5 218.3 277.1 228.9 278.3z"/>
<path fill="#d8ff82" d="M666.2 222.7L622.7 235 621.9 231.7 664.5 219.7z"/>
<path fill="#d6ff81" d="M627.1 233.8L588.2 244.1 587.9 240.6 626.2 230.5z"/>
<path fill="#d5ff80" d="M592.1 243.1L557.1 251.8 557.3 248.1 591.8 239.6z"/>
<path fill="#d3ff7f" d="M560.7 250.9L528.9 258.2 529.5 254.4 560.8 247.3z"/>
<path fill="#d1ff7d" d="M532.1 257.5L503.1 263.6 503.9 259.7 532.7 253.7z"/>
<path fill="#cefc7c" d="M506.1 263L479.4 268 480.5 264.2 506.9 259.1z"/>
<path fill="#ccf87a" d="M482.1 267.5L457.4 271.8 458.7 267.8 483.2 263.7z"/>
<path fill="#caf679" d="M460 271.3L437 274.8 438.4 270.9 461.2 267.4z"/>
<path fill="#c9f579" d="M439.4 274.5L417.9 277.3 419.4 273.4 440.8 270.5z"/>
<path fill="#c7f378" d="M420.1 277L399.9 279.3 401.6 275.4 421.7 273.1z"/>
<path fill="#c6f177" d="M402 279.1L383 280.8 384.8 276.9 403.7 275.1z"/>
<path fill="#c4ef76" d="M385 280.7L367 282 368.8 278.1 386.7 276.8z"/>
<path fill="#c2ed75" d="M368.8 281.9L351.7 282.8 353.6 279 370.6 278z"/>
<path fill="#c1eb74" d="M353.5 282.7L337.1 283.4 339 279.6 355.4 278.9z"/>
<path fill="#bfe873" d="M338.8 283.3L323.1 283.6 325.1 279.9 340.7 279.5z"/>
<path fill="#bce671" d="M324.8 283.6L309.7 283.7 311.7 279.9 326.8 279.8z"/>
<path fill="#bae370" d="M311.3 283.7L296.8 283.5 298.9 279.8 313.3 279.9z"/>
<path fill="#b8e16f" d="M298.3 283.5L284.3 283.1 286.4 279.5 300.4 279.8z"/>
<path fill="#b6de6d" d="M285.8 283.2L272.2 282.6 274.3 279 287.9 279.5z"/>
<path fill="#b4db6c" d="M273.6 282.7L260.5 281.9 262.6 278.3 275.8 279z"/>
<path fill="#b1d86b" d="M261.8 282L249 281.1 251.2 277.5 264 278.4z"/>
<path fill="#afd569" d="M250.4 281.2L237.9 280.1 240.1 276.6 252.6 277.6z"/>
<path fill="#add368" d="M239.2 280.2L227 279 229.3 275.6 241.5 276.7z"/>
<path fill="#aad066" d="M228.3 279.2L217.7 278 220 274.6 230.6 275.7z"/>
<path fill="#dcff7d" d="M665 220.4L622.1 232.5 621.2 229.2 663.3 217.4z"/>
<path fill="#dbff7c" d="M626.4 231.4L588 241.5 587.8 238 625.5 228z"/>
<path fill="#d9ff7b" d="M591.9 240.5L557.3 249.1 557.5 245.4 591.6 237z"/>
<path fill="#d7ff7a" d="M560.8 248.2L529.3 255.4 529.9 251.6 560.9 244.6z"/>
<path fill="#d5ff79" d="M532.5 254.7L503.7 260.7 504.6 256.9 533 250.9z"/>
<path fill="#d3fc78" d="M506.7 260.1L480.2 265.2 481.2 261.3 507.5 256.3z"/>
<path fill="#d0f976" d="M482.9 264.7L458.4 268.9 459.6 264.9 484 260.8z"/>
<path fill="#cef775" d="M460.9 268.4L438.1 271.9 439.5 268 462.1 264.5z"/>
<path fill="#cdf674" d="M440.4 271.6L419 274.4 420.6 270.5 441.8 267.6z"/>
<path fill="#ccf474" d="M421.3 274.1L401.2 276.4 402.8 272.5 422.8 270.2z"/>
<path fill="#caf273" d="M403.3 276.2L384.3 277.9 386 274 404.9 272.2z"/>
<path fill="#c8f072" d="M386.3 277.8L368.3 279.1 370.1 275.2 388 273.9z"/>
<path fill="#c7ee71" d="M370.2 279L353.1 280 355 276.1 372 275.1z"/>
<path fill="#c5ec70" d="M354.9 279.9L338.5 280.5 340.5 276.7 356.7 276z"/>
<path fill="#c3e96f" d="M340.3 280.5L324.6 280.8 326.6 277 342.2 276.7z"/>
<path fill="#c1e76d" d="M326.2 280.8L311.2 280.9 313.2 277.1 328.2 277z"/>
<path fill="#bee46c" d="M312.8 280.9L298.3 280.7 300.4 277 314.8 277.1z"/>
<path fill="#bce16b" d="M299.8 280.8L285.9 280.4 288 276.7 301.9 277.1z"/>
<path fill="#badf6a" d="M287.3 280.5L273.8 279.9 275.9 276.3 289.4 276.8z"/>
<path fill="#b8dc68" d="M275.2 280L262.1 279.3 264.2 275.7 277.3 276.3z"/>
<path fill="#b5d967" d="M263.5 279.3L250.7 278.5 252.9 274.9 265.6 275.7z"/>
<path fill="#b3d666" d="M252 278.6L239.6 277.5 241.8 274 254.2 275z"/>
<path fill="#b1d464" d="M240.9 277.6L228.7 276.5 231 273 243.1 274.1z"/>
<path fill="#aed163" d="M230 276.6L219.4 275.5 221.7 272.1 232.3 273.2z"/>
<path fill="#e1ff78" d="M663.7 218.2L621.5 230.1 620.6 226.7 662.1 215.1z"/>
<path fill="#dfff78" d="M625.7 228.9L587.8 238.9 587.5 235.3 624.8 225.6z"/>
<path fill="#deff77" d="M591.7 237.9L557.4 246.3 557.6 242.6 591.3 234.4z"/>
<path fill="#dcff76" d="M560.9 245.5L529.7 252.6 530.3 248.8 561 241.8z"/>
<path fill="#daff75" d="M532.9 251.9L504.4 257.9 505.2 254 533.4 248.1z"/>
<path fill="#d7fd73" d="M507.3 257.3L481 262.3 482 258.4 508.1 253.4z"/>
<path fill="#d4fa72" d="M483.7 261.8L459.3 265.9 460.5 262 484.7 257.9z"/>
<path fill="#d2f771" d="M461.8 265.5L439.1 269 440.5 265 463 261.6z"/>
<path fill="#d1f670" d="M441.5 268.7L420.2 271.5 421.7 267.5 442.8 264.7z"/>
<path fill="#d0f570" d="M422.4 271.2L402.4 273.5 404 269.5 423.9 267.3z"/>
<path fill="#cef36f" d="M404.5 273.3L385.6 275 387.3 271.1 406.1 269.3z"/>
<path fill="#cdf16e" d="M387.6 274.9L369.6 276.3 371.5 272.4 389.3 271z"/>
<path fill="#cbef6d" d="M371.5 276.1L354.5 277.1 356.3 273.3 373.3 272.2z"/>
<path fill="#c9ec6c" d="M356.3 277L340 277.7 341.9 273.9 358.1 273.2z"/>
<path fill="#c7ea6b" d="M341.7 277.7L326.1 278 328.1 274.2 343.6 273.8z"/>
<path fill="#c5e76a" d="M327.7 278L312.7 278.1 314.8 274.4 329.7 274.2z"/>
<path fill="#c3e568" d="M314.3 278.1L299.8 278 301.9 274.3 316.3 274.4z"/>
<path fill="#c0e267" d="M301.4 278L287.4 277.7 289.5 274 303.4 274.3z"/>
<path fill="#bee066" d="M288.9 277.7L275.4 277.2 277.5 273.6 291 274z"/>
<path fill="#bcdd65" d="M276.8 277.3L263.7 276.6 265.9 273 278.9 273.6z"/>
<path fill="#b9da63" d="M265.1 276.7L252.3 275.8 254.5 272.3 267.2 273.1z"/>
<path fill="#b7d762" d="M253.7 275.9L241.2 274.9 243.5 271.4 255.9 272.3z"/>
<path fill="#b5d561" d="M242.5 275L230.4 273.9 232.7 270.4 244.8 271.5z"/>
<path fill="#b2d260" d="M231.7 274.1L221.1 273 223.4 269.5 234 270.6z"/>
<path fill="#e5ff74" d="M662.5 215.9L620.8 227.6 620 224.2 660.9 212.8z"/>
<path fill="#e4ff74" d="M625.1 226.4L587.6 236.3 587.3 232.7 624.1 223.1z"/>
<path fill="#e2ff73" d="M591.4 235.3L557.5 243.6 557.7 239.9 591.1 231.8z"/>
<path fill="#e0ff72" d="M561 242.8L530.1 249.8 530.6 246 561.1 239.1z"/>
<path fill="#deff71" d="M533.3 249.1L505 255 505.8 251.1 533.8 245.3z"/>
<path fill="#dbfd70" d="M507.9 254.4L481.8 259.4 482.8 255.5 508.6 250.6z"/>
<path fill="#d9fa6e" d="M484.4 258.9L460.2 263 461.5 259.1 485.5 255z"/>
<path fill="#d7f86d" d="M462.7 262.6L440.1 266.1 441.5 262.1 463.9 258.7z"/>
<path fill="#d5f76d" d="M442.5 265.7L421.3 268.6 422.8 264.6 443.9 261.8z"/>
<path fill="#d4f56c" d="M423.5 268.3L403.6 270.6 405.2 266.6 425 264.3z"/>
<path fill="#d3f36b" d="M405.7 270.3L386.9 272.1 388.6 268.2 407.3 266.4z"/>
<path fill="#d1f16a" d="M388.8 272L371 273.4 372.8 269.5 390.5 268.1z"/>
<path fill="#cfef69" d="M372.9 273.2L355.9 274.3 357.7 270.4 374.6 269.3z"/>
<path fill="#cded68" d="M357.6 274.2L341.4 274.9 343.3 271 359.5 270.3z"/>
<path fill="#cbeb67" d="M343.1 274.8L327.5 275.2 329.5 271.4 345 271z"/>
<path fill="#c9e866" d="M329.2 275.2L314.2 275.3 316.3 271.6 331.2 271.4z"/>
<path fill="#c7e665" d="M315.8 275.3L301.4 275.2 303.5 271.5 317.8 271.5z"/>
<path fill="#c4e364" d="M302.9 275.3L289 275 291.1 271.3 305 271.5z"/>
<path fill="#c2e063" d="M290.4 275L277 274.5 279.1 270.9 292.6 271.3z"/>
<path fill="#c0de62" d="M278.4 274.6L265.3 273.9 267.5 270.3 280.5 270.9z"/>
<path fill="#bddb60" d="M266.7 274L254 273.2 256.2 269.6 268.9 270.4z"/>
<path fill="#bbd85f" d="M255.3 273.3L242.9 272.3 245.2 268.8 257.5 269.7z"/>
<path fill="#b9d55e" d="M244.2 272.4L232.1 271.3 234.4 267.8 246.5 268.9z"/>
<path fill="#b6d35d" d="M233.4 271.5L222.8 270.4 225.1 266.9 235.7 268z"/>
<path fill="#e9ff72" d="M661.3 213.6L620.2 225.1 619.4 221.7 659.6 210.5z"/>
<path fill="#e8ff71" d="M624.4 223.9L587.4 233.6 587.1 230.1 623.4 220.6z"/>
<path fill="#e6ff70" d="M591.2 232.7L557.7 240.9 557.8 237.2 590.8 229.1z"/>
<path fill="#e4ff6f" d="M561.1 240.1L530.5 247 531 243.2 561.2 236.4z"/>
<path fill="#e2ff6e" d="M533.6 246.3L505.6 252.1 506.4 248.3 534.1 242.5z"/>
<path fill="#e0fd6d" d="M508.5 251.6L482.5 256.5 483.6 252.6 509.2 247.7z"/>
<path fill="#ddfa6c" d="M485.2 256L461.1 260.1 462.4 256.2 486.2 252.1z"/>
<path fill="#dbf86b" d="M463.6 259.7L441.2 263.1 442.6 259.2 464.8 255.8z"/>
<path fill="#daf66a" d="M443.5 262.8L422.5 265.6 424 261.7 444.9 258.9z"/>
<path fill="#d8f569" d="M424.6 265.4L404.8 267.6 406.4 263.7 426.1 261.4z"/>
<path fill="#d7f369" d="M406.9 267.4L388.2 269.2 389.9 265.3 408.5 263.5z"/>
<path fill="#d5f168" d="M390.1 269.1L372.3 270.5 374.1 266.6 391.8 265.1z"/>
<path fill="#d3ef67" d="M374.2 270.3L357.2 271.4 359.1 267.5 376 266.4z"/>
<path fill="#d1ed66" d="M359 271.3L342.8 272 344.8 268.2 360.9 267.4z"/>
<path fill="#cfeb65" d="M344.5 272L329 272.4 331 268.6 346.5 268.1z"/>
<path fill="#cde864" d="M330.6 272.4L315.7 272.5 317.8 268.7 332.6 268.5z"/>
<path fill="#cbe663" d="M317.3 272.5L302.9 272.5 305 268.7 319.3 268.7z"/>
<path fill="#c9e362" d="M304.4 272.5L290.5 272.2 292.7 268.5 306.5 268.7z"/>
<path fill="#c6e061" d="M292 272.3L278.6 271.8 280.7 268.1 294.1 268.5z"/>
<path fill="#c4de5f" d="M280 271.9L266.9 271.2 269.1 267.6 282.1 268.2z"/>
<path fill="#c1db5e" d="M268.3 271.3L255.6 270.5 257.8 266.9 270.5 267.7z"/>
<path fill="#bfd85d" d="M256.9 270.6L244.6 269.7 246.8 266.1 259.2 267z"/>
<path fill="#bdd65c" d="M245.9 269.8L233.8 268.7 236.1 265.2 248.2 266.2z"/>
<path fill="#bad35b" d="M235.1 268.9L224.5 267.8 226.9 264.3 237.4 265.3z"/>
<path fill="#eeff6f" d="M660.1 211.3L619.6 222.6 618.7 219.2 658.4 208.2z"/>
<path fill="#ecff6e" d="M623.7 221.5L587.2 231 586.9 227.4 622.7 218.1z"/>
<path fill="#ebff6e" d="M590.9 230L557.8 238.1 557.9 234.4 590.5 226.5z"/>
<path fill="#e9ff6d" d="M561.2 237.3L530.9 244.2 531.4 240.4 561.2 233.6z"/>
<path fill="#e6ff6c" d="M534 243.5L506.2 249.3 506.9 245.4 534.4 239.7z"/>
<path fill="#e4fd6a" d="M509 248.7L483.3 253.6 484.3 249.7 509.7 244.9z"/>
<path fill="#e1fa69" d="M485.9 253.1L462 257.2 463.2 253.3 486.9 249.2z"/>
<path fill="#dff868" d="M464.5 256.8L442.2 260.2 443.6 256.3 465.7 252.9z"/>
<path fill="#def668" d="M444.5 259.9L423.6 262.7 425.1 258.7 445.9 255.9z"/>
<path fill="#dcf567" d="M425.8 262.4L406 264.7 407.6 260.8 427.2 258.5z"/>
<path fill="#dbf366" d="M408.1 264.5L389.4 266.3 391.1 262.4 409.7 260.5z"/>
<path fill="#d9f165" d="M391.4 266.2L373.7 267.6 375.5 263.7 393.1 262.2z"/>
<path fill="#d7ef65" d="M375.5 267.5L358.6 268.5 360.5 264.6 377.3 263.5z"/>
<path fill="#d5ed64" d="M360.4 268.4L344.3 269.2 346.2 265.3 362.3 264.5z"/>
<path fill="#d3eb63" d="M346 269.1L330.5 269.6 332.5 265.7 347.9 265.2z"/>
<path fill="#d1e862" d="M332.1 269.5L317.2 269.7 319.3 265.9 334.1 265.7z"/>
<path fill="#cfe661" d="M318.8 269.7L304.5 269.7 306.6 265.9 320.8 265.9z"/>
<path fill="#cde360" d="M306 269.7L292.1 269.5 294.2 265.7 308.1 265.9z"/>
<path fill="#cae15e" d="M293.6 269.5L280.2 269.1 282.3 265.4 295.7 265.8z"/>
<path fill="#c8de5d" d="M281.6 269.1L268.6 268.5 270.8 264.9 283.7 265.4z"/>
<path fill="#c5db5c" d="M269.9 268.6L257.3 267.9 259.5 264.2 272.1 265z"/>
<path fill="#c3d95b" d="M258.6 267.9L246.3 267.1 248.5 263.5 260.8 264.3z"/>
<path fill="#c1d65a" d="M247.6 267.2L235.5 266.1 237.8 262.6 249.8 263.6z"/>
<path fill="#bed359" d="M236.8 266.3L226.3 265.3 228.6 261.8 239.1 262.7z"/>
<path fill="#f2ff6c" d="M658.8 209L618.9 220.1 618.1 216.7 657.2 205.9z"/>
<path fill="#f1ff6c" d="M623 219L586.9 228.3 586.6 224.8 622 215.6z"/>
<path fill="#efff6b" d="M590.6 227.4L557.9 235.4 558 231.7 590.2 223.9z"/>
<path fill="#edff6a" d="M561.2 234.6L531.2 241.4 531.7 237.6 561.3 230.9z"/>
<path fill="#ebff69" d="M534.3 240.7L506.7 246.4 507.5 242.5 534.7 236.9z"/>
<path fill="#e8fd68" d="M509.6 245.9L484 250.7 485 246.8 510.3 242z"/>
<path fill="#e5fa67" d="M486.7 250.2L462.9 254.3 464.1 250.3 487.6 246.3z"/>
<path fill="#e3f765" d="M465.4 253.9L443.2 257.3 444.6 253.3 466.6 249.9z"/>
<path fill="#e2f665" d="M445.5 257L424.7 259.8 426.2 255.8 446.8 253z"/>
<path fill="#e0f564" d="M426.9 259.5L407.2 261.8 408.8 257.8 428.3 255.5z"/>
<path fill="#dff364" d="M409.3 261.6L390.7 263.4 392.4 259.5 410.9 257.6z"/>
<path fill="#ddf163" d="M392.6 263.2L375 264.7 376.8 260.7 394.3 259.3z"/>
<path fill="#dbef62" d="M376.8 264.5L360 265.6 361.9 261.7 378.6 260.6z"/>
<path fill="#d9ed61" d="M361.8 265.5L345.7 266.3 347.6 262.4 363.6 261.6z"/>
<path fill="#d7eb60" d="M347.4 266.2L332 266.7 334 262.9 349.3 262.3z"/>
<path fill="#d5e85f" d="M333.6 266.7L318.8 266.9 320.8 263.1 335.6 262.8z"/>
<path fill="#d3e65e" d="M320.3 266.9L306 266.9 308.1 263.1 322.3 263.1z"/>
<path fill="#d1e35d" d="M307.5 266.9L293.7 266.7 295.8 263 309.6 263.1z"/>
<path fill="#cee15c" d="M295.2 266.7L281.8 266.3 283.9 262.6 297.3 263z"/>
<path fill="#ccde5b" d="M283.2 266.4L270.2 265.8 272.4 262.2 285.4 262.7z"/>
<path fill="#c9dc5a" d="M271.6 265.9L258.9 265.2 261.2 261.6 273.8 262.2z"/>
<path fill="#c7d959" d="M260.3 265.3L247.9 264.4 250.2 260.8 262.5 261.6z"/>
<path fill="#c4d658" d="M249.3 264.5L237.2 263.5 239.6 260 251.5 260.9z"/>
<path fill="#c2d457" d="M238.5 263.6L228 262.7 230.4 259.1 240.8 260.1z"/>
<path fill="#f6ff69" d="M657.6 206.7L618.3 217.5 617.4 214.1 656 203.6z"/>
<path fill="#f5ff69" d="M622.3 216.5L586.7 225.7 586.4 222.1 621.3 213.1z"/>
<path fill="#f3ff68" d="M590.3 224.8L557.9 232.6 558 228.9 589.9 221.2z"/>
<path fill="#f1ff67" d="M561.3 231.9L531.6 238.5 532 234.7 561.3 228.2z"/>
<path fill="#efff66" d="M534.6 237.9L507.3 243.5 508 239.7 535 234.1z"/>
<path fill="#ecfd65" d="M510.1 243L484.8 247.8 485.7 243.9 510.8 239.1z"/>
<path fill="#eafa64" d="M487.4 247.3L463.8 251.4 465 247.4 488.3 243.4z"/>
<path fill="#e7f763" d="M466.3 251L444.2 254.3 445.6 250.4 467.4 247z"/>
<path fill="#e6f662" d="M446.5 254L425.8 256.8 427.3 252.8 447.8 250z"/>
<path fill="#e5f562" d="M427.9 256.6L408.4 258.9 410 254.9 429.4 252.6z"/>
<path fill="#e3f361" d="M410.5 258.6L392 260.5 393.7 256.5 412 254.7z"/>
<path fill="#e1f160" d="M393.9 260.3L376.3 261.8 378.1 257.8 395.6 256.3z"/>
<path fill="#e0ef60" d="M378.2 261.6L361.4 262.7 363.3 258.8 379.9 257.7z"/>
<path fill="#deed5f" d="M363.2 262.6L347.1 263.4 349.1 259.5 365 258.7z"/>
<path fill="#dbeb5e" d="M348.8 263.4L333.4 263.9 335.4 260 350.7 259.5z"/>
<path fill="#d9e95d" d="M335.1 263.8L320.3 264.1 322.3 260.3 337 260z"/>
<path fill="#d7e65c" d="M321.8 264.1L307.6 264.1 309.7 260.3 323.9 260.2z"/>
<path fill="#d5e45b" d="M309.1 264.1L295.3 263.9 297.4 260.2 311.2 260.3z"/>
<path fill="#d2e15a" d="M296.7 264L283.4 263.6 285.6 259.9 298.9 260.2z"/>
<path fill="#d0de59" d="M284.8 263.6L271.8 263.1 274.1 259.4 287 259.9z"/>
<path fill="#cddc58" d="M273.2 263.2L260.6 262.5 262.9 258.8 275.4 259.5z"/>
<path fill="#cbd957" d="M261.9 262.6L249.6 261.8 251.9 258.1 264.2 258.9z"/>
<path fill="#c8d756" d="M250.9 261.8L239 260.9 241.3 257.3 253.2 258.2z"/>
<path fill="#c6d455" d="M240.2 261L229.8 260.1 232.1 256.5 242.6 257.4z"/>
<path fill="#fbff67" d="M656.4 204.4L617.6 215 616.7 211.6 654.7 201.2z"/>
<path fill="#f9ff66" d="M621.6 214L586.4 223 586.1 219.5 620.6 210.6z"/>
<path fill="#f7ff65" d="M590 222.2L558 229.9 558.1 226.2 589.6 218.6z"/>
<path fill="#f6ff65" d="M561.3 229.1L531.9 235.7 532.3 231.9 561.3 225.4z"/>
<path fill="#f3ff64" d="M534.9 235.1L507.8 240.7 508.5 236.8 535.3 231.3z"/>
<path fill="#f1fd63" d="M510.6 240.1L485.5 244.9 486.5 241 511.3 236.2z"/>
<path fill="#eefa61" d="M488.1 244.4L464.7 248.4 465.8 244.5 489 240.5z"/>
<path fill="#ebf760" d="M467.1 248L445.2 251.4 446.5 247.4 468.2 244.1z"/>
<path fill="#eaf660" d="M447.5 251.1L426.9 253.9 428.4 249.9 448.8 247.1z"/>
<path fill="#e9f55f" d="M429 253.6L409.6 255.9 411.2 251.9 430.5 249.6z"/>
<path fill="#e7f35f" d="M411.6 255.7L393.2 257.6 394.9 253.6 413.2 251.7z"/>
<path fill="#e6f15e" d="M395.1 257.4L377.6 258.8 379.4 254.9 396.8 253.4z"/>
<path fill="#e4ef5d" d="M379.5 258.7L362.8 259.8 364.6 255.9 381.2 254.8z"/>
<path fill="#e2ed5c" d="M364.5 259.7L348.6 260.5 350.5 256.6 366.4 255.8z"/>
<path fill="#e0eb5c" d="M350.2 260.5L334.9 261 336.9 257.1 352.2 256.6z"/>
<path fill="#dde95b" d="M336.5 261L321.8 261.2 323.8 257.4 338.5 257.1z"/>
<path fill="#dbe65a" d="M323.3 261.2L309.1 261.3 311.2 257.5 325.4 257.4z"/>
<path fill="#d9e459" d="M310.6 261.3L296.9 261.1 299 257.4 312.7 257.5z"/>
<path fill="#d6e158" d="M298.3 261.2L285 260.8 287.2 257.1 300.5 257.4z"/>
<path fill="#d4df57" d="M286.4 260.9L273.5 260.4 275.7 256.7 288.6 257.1z"/>
<path fill="#d1dc56" d="M274.8 260.4L262.3 259.8 264.5 256.1 277.1 256.7z"/>
<path fill="#cfd955" d="M263.6 259.9L251.4 259.1 253.7 255.5 265.9 256.2z"/>
<path fill="#ccd754" d="M252.6 259.2L240.7 258.3 243 254.7 255 255.5z"/>
<path fill="#cad453" d="M242 258.4L231.5 257.4 233.9 253.9 244.3 254.8z"/>
<path fill="#ffff64" d="M655.2 202.1L617 212.5 616 209.1 653.5 198.9z"/>
<path fill="#feff63" d="M620.9 211.5L586.2 220.4 585.8 216.8 619.9 208.1z"/>
<path fill="#fcff63" d="M589.7 219.5L558.1 227.1 558.1 223.4 589.3 215.9z"/>
<path fill="#faff62" d="M561.3 226.4L532.2 232.9 532.6 229.1 561.3 222.7z"/>
<path fill="#f8ff61" d="M535.2 232.2L508.4 237.8 509.1 233.9 535.6 228.4z"/>
<path fill="#f5fd60" d="M511.1 237.3L486.2 242 487.1 238 511.8 233.4z"/>
<path fill="#f2fa5f" d="M488.8 241.5L465.5 245.5 466.7 241.5 489.7 237.6z"/>
<path fill="#eff75e" d="M468 245.1L446.2 248.5 447.5 244.5 469.1 241.1z"/>
<path fill="#eef65d" d="M448.5 248.1L428 250.9 429.4 246.9 449.7 244.1z"/>
<path fill="#edf45d" d="M430.1 250.7L410.8 253 412.4 249 431.6 246.7z"/>
<path fill="#ebf35c" d="M412.8 252.7L394.5 254.6 396.2 250.6 414.4 248.8z"/>
<path fill="#eaf15c" d="M396.4 254.4L379 255.9 380.7 252 398.1 250.5z"/>
<path fill="#e8ef5b" d="M380.8 255.8L364.2 256.9 366 253 382.5 251.8z"/>
<path fill="#e6ed5a" d="M365.9 256.8L350 257.6 351.9 253.7 367.7 252.9z"/>
<path fill="#e4eb59" d="M351.7 257.6L336.4 258.1 338.4 254.2 353.6 253.7z"/>
<path fill="#e2e958" d="M338 258.1L323.3 258.4 325.3 254.5 340 254.2z"/>
<path fill="#dfe657" d="M324.8 258.4L310.7 258.5 312.8 254.6 326.9 254.5z"/>
<path fill="#dde457" d="M312.2 258.5L298.5 258.3 300.6 254.6 314.3 254.6z"/>
<path fill="#dbe156" d="M299.9 258.4L286.6 258.1 288.8 254.3 302 254.6z"/>
<path fill="#d8df55" d="M288 258.1L275.1 257.6 277.4 253.9 290.2 254.4z"/>
<path fill="#d6dc54" d="M276.5 257.7L264 257.1 266.2 253.4 278.7 254z"/>
<path fill="#d3da53" d="M265.3 257.2L253.1 256.4 255.4 252.8 267.6 253.5z"/>
<path fill="#d1d752" d="M254.4 256.5L242.4 255.6 244.8 252 256.7 252.8z"/>
<path fill="#ced551" d="M243.7 255.7L233.3 254.8 235.7 251.2 246.1 252.1z"/>
<path fill="#ffff61" d="M654 199.7L616.3 210 615.4 206.6 652.3 196.5zM620.1 209L585.9 217.7 585.5 214.1 619.1 205.6z"/>
<path fill="#ffff60" d="M589.4 216.9L558.1 224.4 558.1 220.7 588.9 213.3z"/>
<path fill="#feff5f" d="M561.3 223.6L532.5 230.1 532.9 226.2 561.3 219.9z"/>
<path fill="#fcff5e" d="M535.5 229.4L508.9 234.9 509.6 231 535.8 225.6z"/>
<path fill="#f9fd5d" d="M511.6 234.4L486.9 239.1 487.8 235.1 512.3 230.5z"/>
<path fill="#f7fa5c" d="M489.5 238.6L466.4 242.6 467.5 238.6 490.4 234.7z"/>
<path fill="#f4f75b" d="M468.8 242.2L447.2 245.5 448.5 241.5 469.9 238.2z"/>
<path fill="#f2f65b" d="M449.4 245.2L429.1 248 430.5 244 450.7 241.2z"/>
<path fill="#f1f45a" d="M431.2 247.7L412 250 413.5 246 432.6 243.7z"/>
<path fill="#f0f35a" d="M414 249.8L395.7 251.7 397.4 247.7 415.5 245.8z"/>
<path fill="#eef159" d="M397.6 251.5L380.3 253 382 249 399.3 247.5z"/>
<path fill="#ecef58" d="M382.1 252.8L365.5 254 367.4 250.1 383.9 248.9z"/>
<path fill="#eaed58" d="M367.3 253.9L351.4 254.8 353.3 250.8 369.1 249.9z"/>
<path fill="#e8eb57" d="M353.1 254.7L337.9 255.3 339.9 251.4 355 250.7z"/>
<path fill="#e6e956" d="M339.5 255.2L324.8 255.5 326.9 251.7 341.4 251.3z"/>
<path fill="#e3e655" d="M326.4 255.5L312.2 255.6 314.3 251.8 328.4 251.6z"/>
<path fill="#e1e454" d="M313.7 255.6L300 255.5 302.2 251.7 315.8 251.8z"/>
<path fill="#dfe253" d="M301.5 255.6L288.2 255.3 290.5 251.5 303.6 251.8z"/>
<path fill="#dcdf52" d="M289.6 255.3L276.8 254.9 279 251.2 291.8 251.6z"/>
<path fill="#dadd51" d="M278.1 254.9L265.6 254.4 267.9 250.7 280.4 251.2z"/>
<path fill="#d7da51" d="M267 254.4L254.8 253.7 257.1 250 269.3 250.7z"/>
<path fill="#d5d750" d="M256.1 253.8L244.2 252.9 246.6 249.3 258.4 250.1z"/>
<path fill="#d2d54f" d="M245.4 253L235.1 252.2 237.5 248.6 247.8 249.4z"/>
<path fill="#ffff5f" d="M652.7 197.4L615.6 207.4 614.7 204 651.1 194.2z"/>
<path fill="#ffff5e" d="M619.4 206.4L585.6 215.1 585.2 211.5 618.4 203z"/>
<path fill="#ffff5d" d="M589.1 214.2L558.1 221.6 558.1 217.9 588.6 210.6zM561.3 220.9L532.8 227.2 533.2 223.4 561.3 217.2z"/>
<path fill="#fffe5c" d="M535.7 226.6L509.4 232 510 228.1 536.1 222.8z"/>
<path fill="#fdfb5b" d="M512.1 231.5L487.6 236.1 488.5 232.2 512.7 227.6z"/>
<path fill="#fbf85a" d="M490.1 235.7L467.2 239.6 468.3 235.6 491 231.7z"/>
<path fill="#f7f559" d="M469.6 239.2L448.1 242.5 449.4 238.6 470.7 235.3z"/>
<path fill="#f6f458" d="M450.4 242.2L430.1 245 431.6 241 451.6 238.2z"/>
<path fill="#f5f358" d="M432.2 244.7L413.1 247 414.7 243 433.7 240.7z"/>
<path fill="#f3f157" d="M415.1 246.8L397 248.7 398.6 244.7 416.7 242.8z"/>
<path fill="#f2f057" d="M398.9 248.5L381.6 250 383.4 246.1 400.5 244.5z"/>
<path fill="#f0ee56" d="M383.4 249.9L366.9 251.1 368.8 247.1 385.2 245.9z"/>
<path fill="#eeec55" d="M368.6 251L352.8 251.8 354.8 247.9 370.5 247z"/>
<path fill="#ecea55" d="M354.5 251.8L339.3 252.4 341.3 248.5 356.4 247.8z"/>
<path fill="#eae854" d="M340.9 252.3L326.3 252.7 328.4 248.8 342.9 248.4z"/>
<path fill="#e7e553" d="M327.9 252.6L313.8 252.8 315.9 248.9 329.9 248.8z"/>
<path fill="#e5e352" d="M315.3 252.8L301.6 252.7 303.8 248.9 317.4 248.9z"/>
<path fill="#e3e151" d="M303.1 252.7L289.9 252.5 292.1 248.7 305.2 248.9z"/>
<path fill="#e0de50" d="M291.3 252.5L278.5 252.1 280.7 248.4 293.5 248.7z"/>
<path fill="#dedc50" d="M279.8 252.2L267.3 251.6 269.6 247.9 282.1 248.4z"/>
<path fill="#dbd94f" d="M268.7 251.7L256.5 251 258.9 247.3 271 248z"/>
<path fill="#d8d74e" d="M257.8 251.1L245.9 250.3 248.3 246.6 260.1 247.4z"/>
<path fill="#d6d44d" d="M247.2 250.3L236.8 249.5 239.3 245.9 249.6 246.7z"/>
<path fill="#ffff5c" d="M651.5 195L614.9 204.9 614 201.5 649.8 191.8zM618.7 203.9L585.3 212.4 584.9 208.8 617.6 200.5z"/>
<path fill="#ffff5b" d="M588.7 211.6L558.1 218.9 558.1 215.1 588.2 208z"/>
<path fill="#fffe5a" d="M561.3 218.1L533.1 224.4 533.4 220.6 561.2 214.4z"/>
<path fill="#fffc5a" d="M536 223.8L509.9 229.2 510.5 225.3 536.3 220z"/>
<path fill="#fff959" d="M512.6 228.6L488.3 233.2 489.2 229.3 513.2 224.7z"/>
<path fill="#fff758" d="M490.8 232.8L468.1 236.7 469.2 232.7 491.7 228.8z"/>
<path fill="#fbf457" d="M470.4 236.3L449.1 239.6 450.4 235.6 471.5 232.3z"/>
<path fill="#faf256" d="M451.3 239.3L431.2 242 432.6 238 452.6 235.3z"/>
<path fill="#f9f156" d="M433.3 241.8L414.3 244.1 415.8 240.1 434.7 237.8z"/>
<path fill="#f7f055" d="M416.3 243.9L398.2 245.8 399.9 241.8 417.8 239.8z"/>
<path fill="#f6ee55" d="M400.1 245.6L382.9 247.1 384.7 243.1 401.7 241.6z"/>
<path fill="#f4ec54" d="M384.7 247L368.3 248.1 370.1 244.2 386.5 243z"/>
<path fill="#f2ea53" d="M370 248L354.3 248.9 356.2 245 371.8 244.1z"/>
<path fill="#f0e853" d="M355.9 248.8L340.8 249.5 342.8 245.5 357.8 244.9z"/>
<path fill="#eee652" d="M342.4 249.4L327.9 249.8 329.9 245.9 344.4 245.5z"/>
<path fill="#ebe451" d="M329.4 249.8L315.3 249.9 317.5 246.1 331.4 245.9z"/>
<path fill="#e9e250" d="M316.8 249.9L303.2 249.9 305.4 246.1 318.9 246.1z"/>
<path fill="#e6df4f" d="M304.7 249.9L291.5 249.7 293.7 245.9 306.8 246.1z"/>
<path fill="#e4dd4f" d="M292.9 249.7L280.1 249.4 282.4 245.6 295.1 245.9z"/>
<path fill="#e1da4e" d="M281.5 249.4L269 248.9 271.3 245.2 283.7 245.6z"/>
<path fill="#dfd84d" d="M270.4 248.9L258.2 248.3 260.6 244.6 272.7 245.2z"/>
<path fill="#dcd54c" d="M259.5 248.4L247.7 247.6 250.1 243.9 261.9 244.7z"/>
<path fill="#dad34b" d="M249 247.7L238.6 246.8 241.1 243.2 251.3 244z"/>
<path fill="#ffff5a" d="M650.3 192.6L614.2 202.3 613.3 198.9 648.6 189.4z"/>
<path fill="#ffff59" d="M617.9 201.4L585 209.7 584.6 206.1 616.9 198z"/>
<path fill="#fffe59" d="M588.4 208.9L558.1 216.1 558.1 212.4 587.9 205.3z"/>
<path fill="#fffc58" d="M561.2 215.4L533.4 221.6 533.7 217.7 561.2 211.7z"/>
<path fill="#fffa57" d="M536.2 221L510.4 226.3 511 222.4 536.5 217.1z"/>
<path fill="#fff856" d="M513 225.7L488.9 230.3 489.8 226.3 513.6 221.8z"/>
<path fill="#fff555" d="M491.4 229.8L468.9 233.7 470 229.7 492.3 225.9z"/>
<path fill="#fff254" d="M471.2 233.3L450 236.6 451.3 232.6 472.3 229.3z"/>
<path fill="#fef154" d="M452.2 236.3L432.3 239.1 433.7 235.1 453.5 232.3z"/>
<path fill="#fdef54" d="M434.3 238.8L415.4 241.1 417 237.1 435.7 234.8z"/>
<path fill="#fbee53" d="M417.4 240.9L399.4 242.8 401.1 238.8 418.9 236.9z"/>
<path fill="#faec53" d="M401.3 242.6L384.2 244.1 386 240.1 403 238.6z"/>
<path fill="#f8eb52" d="M386 244L369.7 245.2 371.5 241.2 387.7 240z"/>
<path fill="#f6e951" d="M371.4 245.1L355.7 246 357.6 242 373.2 241.1z"/>
<path fill="#f4e751" d="M357.3 245.9L342.3 246.6 344.3 242.6 359.3 242z"/>
<path fill="#f1e550" d="M343.9 246.5L329.4 246.9 331.4 243 345.9 242.6z"/>
<path fill="#efe34f" d="M330.9 246.9L316.9 247.1 319 243.2 333 243z"/>
<path fill="#ede04e" d="M318.4 247.1L304.8 247.1 307 243.2 320.5 243.2z"/>
<path fill="#eade4d" d="M306.3 247.1L293.2 246.9 295.4 243.1 308.4 243.2z"/>
<path fill="#e8dc4d" d="M294.5 246.9L281.8 246.6 284.1 242.8 296.8 243.1z"/>
<path fill="#e5d94c" d="M283.1 246.6L270.8 246.1 273.1 242.4 285.4 242.8z"/>
<path fill="#e3d74b" d="M272.1 246.2L260 245.5 262.3 241.8 274.4 242.4z"/>
<path fill="#e0d44a" d="M261.3 245.6L249.5 244.9 251.9 241.2 263.6 241.9z"/>
<path fill="#ddd249" d="M250.7 244.9L240.4 244.2 242.9 240.5 253.1 241.3z"/>
<path fill="#ffff57" d="M649 190.3L613.5 199.8 612.6 196.3 647.4 187.1z"/>
<path fill="#fffe57" d="M617.2 198.9L584.7 207.1 584.2 203.4 616.1 195.4z"/>
<path fill="#fffc56" d="M588 206.2L558.1 213.3 558.1 209.6 587.5 202.6z"/>
<path fill="#fffa56" d="M561.2 212.6L533.6 218.7 533.9 214.9 561.1 208.9z"/>
<path fill="#fff855" d="M536.5 218.1L510.8 223.4 511.4 219.5 536.7 214.3z"/>
<path fill="#fff654" d="M513.5 222.8L489.6 227.4 490.4 223.4 514.1 218.9z"/>
<path fill="#fff353" d="M492.1 226.9L469.7 230.8 470.8 226.8 492.9 223z"/>
<path fill="#fff052" d="M472 230.4L451 233.7 452.2 229.6 473.1 226.4z"/>
<path fill="#ffef52" d="M453.2 233.3L433.3 236.1 434.7 232.1 454.4 229.3z"/>
<path fill="#ffee51" d="M435.4 235.8L416.6 238.1 418.1 234.1 436.8 231.8z"/>
<path fill="#ffec51" d="M418.5 237.9L400.7 239.8 402.3 235.8 420.1 233.9z"/>
<path fill="#fdeb50" d="M402.5 239.6L385.5 241.2 387.3 237.2 404.2 235.6z"/>
<path fill="#fce950" d="M387.3 241L371 242.3 372.9 238.3 389 237z"/>
<path fill="#fae74f" d="M372.7 242.1L357.1 243.1 359 239.1 374.6 238.1z"/>
<path fill="#f8e54f" d="M358.8 243L343.8 243.7 345.8 239.7 360.7 239z"/>
<path fill="#f5e34e" d="M345.3 243.6L330.9 244 333 240.1 347.3 239.6z"/>
<path fill="#f3e14d" d="M332.4 244L318.5 244.2 320.6 240.3 334.5 240.1z"/>
<path fill="#f1df4c" d="M319.9 244.2L306.5 244.2 308.6 240.4 322.1 240.3z"/>
<path fill="#eedd4c" d="M307.9 244.2L294.8 244.1 297 240.2 310 240.4z"/>
<path fill="#ecda4b" d="M296.2 244.1L283.5 243.8 285.8 240 298.4 240.3z"/>
<path fill="#e9d84a" d="M284.8 243.8L272.5 243.3 274.8 239.6 287.1 240z"/>
<path fill="#e7d649" d="M273.8 243.4L261.7 242.8 264.1 239.1 276.1 239.6z"/>
<path fill="#e4d348" d="M263 242.9L251.3 242.1 253.7 238.5 265.4 239.2z"/>
<path fill="#e1d147" d="M252.5 242.2L242.2 241.5 244.7 237.8 254.9 238.5z"/>
<path fill="#fffd55" d="M647.8 187.9L612.8 197.2 611.8 193.8 646.2 184.7z"/>
<path fill="#fffc55" d="M616.4 196.3L584.3 204.4 583.9 200.8 615.4 192.9z"/>
<path fill="#fffa54" d="M587.6 203.6L558.1 210.6 558.1 206.8 587.1 200z"/>
<path fill="#fff853" d="M561.1 209.9L533.8 215.9 534.1 212 561.1 206.1z"/>
<path fill="#fff653" d="M536.7 215.3L511.3 220.5 511.9 216.6 536.9 211.5z"/>
<path fill="#fff452" d="M513.9 220L490.2 224.4 491.1 220.5 514.5 216.1z"/>
<path fill="#fff151" d="M492.7 224L470.5 227.8 471.5 223.8 493.5 220z"/>
<path fill="#ffef50" d="M472.8 227.4L451.9 230.7 453.1 226.7 473.8 223.4z"/>
<path fill="#ffed50" d="M454.1 230.4L434.3 233.1 435.7 229.1 455.3 226.3z"/>
<path fill="#ffec4f" d="M436.4 232.8L417.7 235.2 419.2 231.1 437.8 228.8z"/>
<path fill="#ffeb4f" d="M419.7 234.9L401.9 236.8 403.5 232.8 421.2 230.9z"/>
<path fill="#ffe94e" d="M403.8 236.7L386.8 238.2 388.6 234.2 405.4 232.6z"/>
<path fill="#ffe74e" d="M388.6 238.1L372.4 239.3 374.2 235.3 390.3 234z"/>
<path fill="#fee64d" d="M374.1 239.2L358.5 240.1 360.5 236.1 375.9 235.2z"/>
<path fill="#fbe44c" d="M360.2 240L345.2 240.7 347.2 236.8 362.1 236.1z"/>
<path fill="#f9e24c" d="M346.8 240.7L332.4 241.1 334.5 237.2 348.8 236.7z"/>
<path fill="#f7e04b" d="M333.9 241.1L320 241.3 322.2 237.4 336 237.2z"/>
<path fill="#f5dd4a" d="M321.5 241.3L308.1 241.4 310.2 237.5 323.6 237.4z"/>
<path fill="#f2db4a" d="M309.5 241.4L296.5 241.2 298.7 237.4 311.7 237.5z"/>
<path fill="#f0d949" d="M297.8 241.3L285.2 241 287.4 237.2 300.1 237.4z"/>
<path fill="#edd748" d="M286.5 241L274.2 240.6 276.5 236.8 288.8 237.2z"/>
<path fill="#ead447" d="M275.5 240.6L263.5 240 265.9 236.3 277.8 236.9z"/>
<path fill="#e8d246" d="M264.8 240.1L253 239.4 255.5 235.7 267.1 236.4z"/>
<path fill="#e5d046" d="M254.3 239.5L244 238.8 246.5 235.1 256.7 235.8z"/>
<path fill="#fffb53" d="M646.6 185.5L612.1 194.7 611.1 191.2 644.9 182.3z"/>
<path fill="#fffa52" d="M615.6 193.8L584 201.7 583.5 198.1 614.6 190.3z"/>
<path fill="#fff852" d="M587.2 200.9L558.1 207.8 558 204 586.7 197.3z"/>
<path fill="#fff751" d="M561.1 207.1L534.1 213 534.4 209.2 561 203.4z"/>
<path fill="#fff450" d="M536.9 212.4L511.7 217.6 512.3 213.7 537.1 208.6z"/>
<path fill="#fff250" d="M514.3 217.1L490.9 221.5 491.7 217.5 514.9 213.2z"/>
<path fill="#fff04f" d="M493.3 221L471.3 224.8 472.3 220.8 494.1 217.1z"/>
<path fill="#ffed4e" d="M473.6 224.5L452.8 227.7 454 223.7 474.6 220.5z"/>
<path fill="#ffeb4d" d="M455 227.4L435.4 230.1 436.8 226.1 456.2 223.4z"/>
<path fill="#ffea4d" d="M437.4 229.9L418.8 232.2 420.4 228.1 438.8 225.8z"/>
<path fill="#ffe94d" d="M420.8 231.9L403.1 233.9 404.7 229.8 422.3 227.9z"/>
<path fill="#ffe74c" d="M405 233.7L388.1 235.2 389.8 231.2 406.6 229.6z"/>
<path fill="#ffe64b" d="M389.9 235.1L373.7 236.3 375.6 232.3 391.6 231.1zM640.4 173.4L608.4 181.8 607.4 178.2 638.8 170.1z"/>
<path fill="#ffe44b" d="M375.4 236.2L360 237.2 361.9 233.2 377.3 232.2z"/>
<path fill="#ffe24a" d="M361.6 237.1L346.7 237.8 348.7 233.8 363.5 233.1z"/>
<path fill="#fde04a" d="M348.3 237.7L334 238.2 336 234.3 350.3 233.8z"/>
<path fill="#fbde49" d="M335.5 238.2L321.6 238.4 323.7 234.5 337.5 234.2z"/>
<path fill="#f9dc48" d="M323.1 238.4L309.7 238.5 311.9 234.6 325.2 234.5z"/>
<path fill="#f6da48" d="M311.1 238.5L298.1 238.4 300.3 234.5 313.3 234.6z"/>
<path fill="#f4d847" d="M299.5 238.4L286.9 238.1 289.1 234.3 301.7 234.6z"/>
<path fill="#f1d546" d="M288.2 238.2L275.9 237.8 278.3 234 290.5 234.4z"/>
<path fill="#eed345" d="M277.2 237.8L265.2 237.3 267.6 233.5 279.5 234z"/>
<path fill="#ecd145" d="M266.5 237.3L254.8 236.7 257.3 233 268.9 233.6z"/>
<path fill="#e9ce44" d="M256.1 236.8L245.9 236.1 248.3 232.4 258.5 233z"/>
<path fill="#fff950" d="M645.4 183.1L611.4 192.1 610.4 188.6 643.7 179.9z"/>
<path fill="#fff850" d="M614.9 191.2L583.6 199 583.1 195.4 613.8 187.7z"/>
<path fill="#fff64f" d="M586.8 198.2L558 205 558 201.2 586.3 194.6z"/>
<path fill="#fff54f" d="M561 204.3L534.3 210.2 534.6 206.3 560.9 200.6z"/>
<path fill="#fff34e" d="M537 209.6L512.2 214.7 512.7 210.7 537.3 205.8z"/>
<path fill="#fff04d" d="M514.7 214.2L491.5 218.5 492.3 214.6 515.3 210.3zM642.9 178.3L609.9 186.9 608.9 183.4 641.3 175z"/>
<path fill="#ffee4c" d="M493.9 218.1L472 221.9 473.1 217.9 494.7 214.1z"/>
<path fill="#ffeb4c" d="M474.3 221.5L453.7 224.7 454.9 220.7 475.3 217.5zM641.7 175.9L609.2 184.4 608.2 180.8 640 172.6z"/>
<path fill="#ffea4b" d="M455.9 224.4L436.4 227.1 437.8 223.1 457.1 220.4zM494.5 215.2L472.8 218.9 473.8 214.9 495.2 211.2zM537.4 203.9L513 208.9 513.5 204.9 537.6 200.1z"/>
<path fill="#ffe84b" d="M438.4 226.9L420 229.2 421.5 225.1 439.8 222.8zM515.5 208.4L492.7 212.6 493.4 208.7 516 204.4zM585.6 190.2L557.8 196.6 557.7 192.9 585 186.5z"/>
<path fill="#ffe74a" d="M421.9 228.9L404.3 230.9 406 226.8 423.4 224.9zM475.1 218.5L454.6 221.7 455.8 217.7 476 214.5z"/>
<path fill="#ffe64a" d="M406.2 230.7L389.4 232.2 391.1 228.2 407.8 226.6zM456.7 221.4L437.4 224.1 438.8 220.1 457.9 217.4z"/>
<path fill="#ffe449" d="M391.1 232.1L375.1 233.4 376.9 229.3 392.9 228.1zM423 225.9L405.5 227.9 407.2 223.8 424.5 221.9z"/>
<path fill="#ffe249" d="M376.8 233.2L361.4 234.2 363.3 230.2 378.6 229.2zM560.6 193.2L535 198.7 535.2 194.9 560.4 189.4z"/>
<path fill="#ffe148" d="M363 234.1L348.2 234.9 350.2 230.9 364.9 230.1zM392.4 229.1L376.5 230.4 378.3 226.3 394.1 225.1zM457.6 218.4L438.4 221.1 439.8 217.1 458.8 214.4z"/>
<path fill="#ffdf48" d="M349.8 234.8L335.5 235.3 337.5 231.3 351.7 230.8zM424.1 222.9L406.7 224.9 408.3 220.8 425.6 218.9z"/>
<path fill="#ffdd47" d="M337 235.2L323.2 235.5 325.3 231.6 339 231.3zM364.4 231.2L349.7 231.9 351.7 227.9 366.3 227.1z"/>
<path fill="#fcdb46" d="M324.6 235.5L311.3 235.6 313.5 231.7 326.8 231.6z"/>
<path fill="#fad946" d="M312.7 235.6L299.8 235.5 302 231.7 314.9 231.7z"/>
<path fill="#f7d645" d="M301.1 235.6L288.6 235.3 290.8 231.5 303.4 231.7z"/>
<path fill="#f5d444" d="M289.9 235.4L277.6 235 280 231.2 292.2 231.5z"/>
<path fill="#f2d243" d="M278.9 235L267 234.5 269.4 230.7 281.3 231.2z"/>
<path fill="#f0d043" d="M268.3 234.6L256.6 233.9 259.1 230.2 270.7 230.8z"/>
<path fill="#edcd42" d="M257.9 234L247.7 233.3 250.2 229.6 260.3 230.3z"/>
<path fill="#fff54e" d="M644.1 180.7L610.6 189.5 609.6 186 642.5 177.4z"/>
<path fill="#fff44e" d="M614.1 188.6L583.3 196.3 582.8 192.7 613 185.2z"/>
<path fill="#fff24e" d="M586.4 195.5L558 202.2 557.9 198.4 585.9 191.9z"/>
<path fill="#fff14d" d="M560.9 201.5L534.5 207.3 534.7 203.5 560.8 197.8z"/>
<path fill="#ffef4c" d="M537.2 206.8L512.6 211.8 513.1 207.8 537.4 202.9z"/>
<path fill="#ffec4c" d="M515.1 211.3L492.1 215.6 492.9 211.6 515.6 207.3zM560.8 198.8L534.7 204.5 534.9 200.6 560.7 195z"/>
<path fill="#ffe549" d="M439.4 223.9L421.1 226.2 422.6 222.1 440.8 219.8z"/>
<path fill="#ffe248" d="M407.4 227.7L390.7 229.3 392.4 225.2 409 223.6z"/>
<path fill="#ffdf47" d="M378.1 230.3L362.8 231.3 364.7 227.2 379.9 226.2z"/>
<path fill="#ffdb46" d="M351.2 231.8L337 232.4 339.1 228.4 353.2 227.8zM379.5 227.3L364.2 228.3 366.1 224.3 381.3 223.2z"/>
<path fill="#ffd946" d="M338.5 232.3L324.8 232.6 326.9 228.7 340.6 228.3zM365.8 228.2L351.1 229 353.1 225 367.7 224.2zM409.7 221.7L393.2 223.3 395 219.2 411.3 217.6z"/>
<path fill="#ffd745" d="M326.2 232.6L312.9 232.7 315.1 228.8 328.3 228.7zM352.7 228.9L338.5 229.4 340.6 225.4 354.7 224.9z"/>
<path fill="#fdd544" d="M314.3 232.7L301.4 232.7 303.7 228.8 316.5 228.8z"/>
<path fill="#fbd344" d="M302.8 232.7L290.3 232.5 292.6 228.6 305 228.8z"/>
<path fill="#f8d143" d="M291.6 232.5L279.4 232.2 281.7 228.4 293.9 228.7z"/>
<path fill="#f5cf42" d="M280.7 232.2L268.8 231.7 271.2 227.9 283 228.4z"/>
<path fill="#f3cd41" d="M270 231.8L258.4 231.2 260.9 227.4 272.4 228z"/>
<path fill="#f0ca41" d="M259.7 231.2L249.5 230.6 252 226.9 262.1 227.5z"/>
<path fill="#ffef4d" d="M613.3 186.1L582.9 193.6 582.4 190 612.2 182.6z"/>
<path fill="#ffed4c" d="M586 192.9L557.9 199.4 557.8 195.7 585.5 189.2z"/>
<path fill="#ffe54a" d="M495 212.2L473.5 215.9 474.5 211.9 495.8 208.2zM537.5 201L513.4 205.9 513.9 202 537.7 197.2zM611.7 180.9L582.1 188.2 581.6 184.5 610.6 177.4z"/>
<path fill="#ffe349" d="M475.8 215.6L455.5 218.7 456.7 214.7 476.8 211.5zM515.9 205.5L493.2 209.7 494 205.7 516.4 201.5z"/>
<path fill="#ffe048" d="M440.4 220.9L422.2 223.2 423.7 219.1 441.8 216.8z"/>
<path fill="#ffde47" d="M408.6 224.7L392 226.3 393.7 222.2 410.1 220.6z"/>
<path fill="#ffdc47" d="M393.7 226.1L377.8 227.4 379.6 223.4 395.4 222zM458.5 215.4L439.4 218.1 440.8 214.1 459.6 211.4z"/>
<path fill="#ffd545" d="M340 229.4L326.3 229.7 328.5 225.8 342.1 225.4z"/>
<path fill="#ffd344" d="M327.8 229.7L314.5 229.8 316.7 225.9 329.9 225.7zM354.2 225.9L340.1 226.5 342.1 222.5 356.1 221.9z"/>
<path fill="#ffd143" d="M315.9 229.8L303.1 229.8 305.3 225.9 318.1 225.9z"/>
<path fill="#fecf43" d="M304.4 229.8L292 229.6 294.3 225.8 306.7 225.9z"/>
<path fill="#fbcd42" d="M293.3 229.7L281.1 229.3 283.5 225.5 295.6 225.8z"/>
<path fill="#f8cb41" d="M282.4 229.4L270.6 228.9 273 225.1 284.8 225.5z"/>
<path fill="#f6c941" d="M271.8 229L260.3 228.4 262.7 224.6 274.2 225.2z"/>
<path fill="#f3c740" d="M261.5 228.5L251.4 227.9 253.9 224.1 263.9 224.7z"/>
<path fill="#ffea4c" d="M612.5 183.5L582.5 190.9 582 187.3 611.4 180z"/>
<path fill="#ffe74b" d="M560.7 196L534.9 201.6 535.1 197.7 560.5 192.2z"/>
<path fill="#ffe149" d="M495.6 209.3L474.3 212.9 475.3 208.9 496.3 205.3z"/>
<path fill="#ffde48" d="M476.5 212.6L456.4 215.7 457.6 211.7 477.5 208.6zM516.2 202.5L493.8 206.7 494.6 202.7 516.7 198.6z"/>
<path fill="#ffdb47" d="M441.4 217.9L423.3 220.1 424.8 216.1 442.7 213.8z"/>
<path fill="#ffda47" d="M425.2 219.9L407.9 221.8 409.5 217.8 426.7 215.8z"/>
<path fill="#ffd846" d="M395 223.1L379.2 224.4 381 220.3 396.7 219zM459.3 212.4L440.4 215.1 441.7 211 460.5 208.4z"/>
<path fill="#ffd645" d="M380.8 224.3L365.6 225.3 367.5 221.3 382.6 220.2z"/>
<path fill="#ffd445" d="M367.2 225.2L352.6 226 354.6 222 369.1 221.2zM410.9 218.6L394.5 220.2 396.2 216.2 412.5 214.6z"/>
<path fill="#ffd144" d="M341.6 226.4L327.9 226.8 330.1 222.8 343.6 222.4zM427.4 213.9L410.3 215.8 411.9 211.7 428.8 209.8z"/>
<path fill="#ffcf43" d="M329.4 226.8L316.2 226.9 318.4 223 331.5 222.8z"/>
<path fill="#ffcd42" d="M317.6 226.9L304.8 226.9 307 223 319.8 223z"/>
<path fill="#ffcb42" d="M306.1 226.9L293.7 226.8 296 222.9 308.4 223zM330.9 223.8L317.8 224 320 220.1 333.1 219.8z"/>
<path fill="#fec941" d="M295 226.8L282.9 226.5 285.2 222.7 297.3 222.9z"/>
<path fill="#fbc740" d="M284.2 226.5L272.4 226.1 274.8 222.3 286.5 222.7z"/>
<path fill="#f9c540" d="M273.6 226.2L262.1 225.6 264.6 221.8 276 222.4z"/>
<path fill="#f6c33f" d="M263.3 225.7L253.2 225.1 255.7 221.4 265.8 221.9z"/>
<path fill="#ffe34a" d="M585.2 187.5L557.7 193.8 557.6 190.1 584.6 183.8z"/>
<path fill="#ffe049" d="M537.7 198.2L513.8 203 514.3 199.1 537.8 194.3z"/>
<path fill="#ffdc48" d="M496.1 206.3L475 210 476 205.9 496.9 202.3z"/>
<path fill="#ffd947" d="M477.2 209.6L457.3 212.7 458.4 208.7 478.2 205.6zM516.6 199.6L494.4 203.8 495.1 199.8 517 195.7z"/>
<path fill="#ffd746" d="M442.4 214.8L424.4 217.1 425.9 213 443.7 210.8zM496.7 203.4L475.7 207 476.7 202.9 497.4 199.4z"/>
<path fill="#ffd646" d="M426.3 216.9L409.1 218.8 410.7 214.8 427.7 212.8z"/>
<path fill="#ffd345" d="M396.2 220.1L380.5 221.4 382.3 217.3 397.9 216zM460.2 209.4L441.4 212.1 442.7 208 461.3 205.4z"/>
<path fill="#ffd244" d="M382.2 221.3L367.1 222.3 369 218.3 384 217.2z"/>
<path fill="#ffd044" d="M368.6 222.2L354.1 223 356.1 219 370.5 218.2zM412.1 215.6L395.8 217.2 397.5 213.1 413.7 211.5z"/>
<path fill="#ffce43" d="M355.6 222.9L341.6 223.5 343.7 219.5 357.6 218.9z"/>
<path fill="#ffcd43" d="M343.1 223.5L329.5 223.8 331.6 219.9 345.1 219.5zM383.5 218.3L368.5 219.3 370.4 215.3 385.3 214.2z"/>
<path fill="#ffc941" d="M319.2 224L306.4 224 308.7 220.1 321.4 220z"/>
<path fill="#ffc741" d="M307.8 224L295.4 223.9 297.7 220 310 220.1zM332.5 220.9L319.4 221.1 321.6 217.1 334.6 216.9z"/>
<path fill="#ffc540" d="M296.7 223.9L284.6 223.7 287 219.8 299 220zM320.8 221.1L308.1 221.1 310.4 217.2 323 217.1z"/>
<path fill="#fec340" d="M285.9 223.7L274.1 223.3 276.6 219.5 288.3 219.8z"/>
<path fill="#fbc13f" d="M275.4 223.3L263.9 222.8 266.4 219 277.8 219.5z"/>
<path fill="#f9bf3e" d="M265.1 222.9L255.1 222.3 257.6 218.6 267.6 219.1z"/>
<path fill="#ffe14a" d="M639.2 171L607.7 179.2 606.6 175.6 637.6 167.7z"/>
<path fill="#ffdf49" d="M610.9 178.3L581.7 185.5 581.2 181.8 609.8 174.8z"/>
<path fill="#ffde49" d="M584.7 184.8L557.6 191 557.5 187.3 584.1 181.1z"/>
<path fill="#ffdd48" d="M560.4 190.4L535.2 195.9 535.4 192 560.2 186.6z"/>
<path fill="#ffdb48" d="M537.8 195.3L514.1 200.1 514.6 196.2 537.9 191.5zM638 168.5L606.9 176.5 605.9 173 636.3 165.2z"/>
<path fill="#ffd546" d="M477.9 206.6L458.1 209.7 459.3 205.7 478.8 202.6z"/>
<path fill="#ffd245" d="M443.4 211.8L425.5 214.1 426.9 210 444.6 207.7zM497.2 200.4L476.4 204 477.4 199.9 497.9 196.4z"/>
<path fill="#ffce44" d="M397.5 217.1L381.9 218.4 383.7 214.3 399.2 213zM461 206.4L442.4 209.1 443.7 205 462.1 202.3z"/>
<path fill="#ffcc43" d="M370 219.2L355.6 220 357.6 216 371.9 215.2zM428.4 210.9L411.5 212.8 413.1 208.7 429.9 206.8z"/>
<path fill="#ffca42" d="M357.1 220L343.1 220.6 345.2 216.5 359.1 215.9z"/>
<path fill="#ffc842" d="M344.6 220.5L331.1 220.9 333.2 216.9 346.7 216.5zM384.8 215.2L369.9 216.3 371.8 212.2 386.6 211.2z"/>
<path fill="#ffc340" d="M309.5 221.1L297.1 221 299.4 217.1 311.7 217.2z"/>
<path fill="#ffc13f" d="M298.4 221L286.4 220.8 288.8 216.9 300.7 217.1z"/>
<path fill="#ffbf3f" d="M287.7 220.8L275.9 220.5 278.4 216.6 290 217zM311.1 218.2L298.8 218.1 301.2 214.2 313.4 214.3z"/>
<path fill="#febd3e" d="M277.2 220.5L265.8 220 268.2 216.2 279.6 216.7z"/>
<path fill="#fcbb3d" d="M267 220.1L257 219.5 259.5 215.8 269.4 216.3z"/>
<path fill="#ffda48" d="M610.1 175.7L581.3 182.8 580.7 179.1 609 172.2z"/>
<path fill="#ffd948" d="M584.3 182.1L557.5 188.2 557.4 184.4 583.7 178.4z"/>
<path fill="#ffd847" d="M560.3 187.6L535.3 193 535.5 189.1 560.1 183.8z"/>
<path fill="#ffd647" d="M537.9 192.5L514.5 197.2 515 193.2 538 188.6zM636.8 166.1L606.1 173.9 605.1 170.4 635.1 162.7z"/>
<path fill="#ffd446" d="M516.9 196.7L494.9 200.8 495.6 196.8 517.4 192.8zM583.8 179.4L557.4 185.4 557.2 181.6 583.2 175.7z"/>
<path fill="#ffd045" d="M478.6 203.6L459 206.7 460.1 202.6 479.5 199.6z"/>
<path fill="#ffcd44" d="M444.3 208.8L426.6 211.1 428 207 445.6 204.7zM497.7 197.4L477.1 201 478.1 196.9 498.4 193.4z"/>
<path fill="#ffcb43" d="M413.3 212.6L397 214.2 398.7 210.1 414.8 208.5zM479.3 200.6L459.8 203.7 460.9 199.6 480.2 196.6z"/>
<path fill="#ffca43" d="M398.7 214L383.2 215.4 385 211.3 400.4 210z"/>
<path fill="#ffc742" d="M371.4 216.2L357 217 359 213 373.3 212.1zM429.5 207.8L412.7 209.7 414.2 205.6 430.9 203.7z"/>
<path fill="#ffc541" d="M358.6 217L344.7 217.6 346.7 213.6 360.5 212.9z"/>
<path fill="#ffc441" d="M346.1 217.5L332.7 217.9 334.8 213.9 348.2 213.5zM386.2 212.2L371.3 213.3 373.2 209.2 387.9 208.1zM446.2 202.7L428.7 205 430.1 200.9 447.5 198.6z"/>
<path fill="#ffc240" d="M334.1 217.9L321.1 218.2 323.3 214.2 336.2 213.9z"/>
<path fill="#ffc03f" d="M322.4 218.1L309.8 218.2 312.1 214.3 324.6 214.2z"/>
<path fill="#ffbd3e" d="M300.1 218.2L288.2 217.9 290.6 214.1 302.5 214.2z"/>
<path fill="#ffbb3e" d="M289.4 218L277.8 217.6 280.2 213.8 291.8 214.1zM312.8 215.3L300.6 215.2 302.9 211.3 315.1 211.3z"/>
<path fill="#ffb93d" d="M279 217.7L267.6 217.2 270.1 213.4 281.4 213.8zM301.9 215.2L289.9 215.1 292.3 211.2 304.2 211.3z"/>
<path fill="#ffb73c" d="M268.8 217.3L258.8 216.7 261.4 213 271.3 213.4z"/>
<path fill="#ffd547" d="M609.3 173.1L580.9 180.1 580.3 176.4 608.2 169.6z"/>
<path fill="#ffd346" d="M560.1 184.8L535.4 190.1 535.6 186.2 559.9 181z"/>
<path fill="#ffd145" d="M538 189.6L514.8 194.2 515.3 190.3 538.1 185.7z"/>
<path fill="#ffcf45" d="M517.2 193.8L495.5 197.8 496.2 193.8 517.7 189.8zM583.4 176.6L557.3 182.6 557.1 178.8 582.7 173z"/>
<path fill="#ffc943" d="M461.8 203.4L443.3 206 444.6 201.9 462.9 199.3z"/>
<path fill="#ffc843" d="M445.3 205.8L427.6 208 429.1 203.9 446.5 201.7zM498.2 194.5L477.8 198 478.7 193.9 498.9 190.5z"/>
<path fill="#ffc642" d="M414.4 209.6L398.3 211.2 400 207.1 416 205.5zM480 197.6L460.6 200.7 461.7 196.6 480.8 193.6z"/>
<path fill="#ffc542" d="M400 211L384.5 212.3 386.3 208.3 401.7 206.9zM462.7 200.4L444.3 203 445.6 198.9 463.7 196.3z"/>
<path fill="#ffc341" d="M372.8 213.2L358.5 214 360.5 210 374.7 209.1zM430.5 204.8L413.8 206.7 415.4 202.6 432 200.7z"/>
<path fill="#ffc140" d="M360 214L346.2 214.6 348.3 210.6 362 209.9zM401.2 208L385.9 209.3 387.7 205.2 402.9 203.9z"/>
<path fill="#ffbf40" d="M347.6 214.5L334.3 215 336.4 211 349.7 210.5zM387.5 209.2L372.7 210.3 374.6 206.2 389.3 205.1zM447.1 199.7L429.8 202 431.2 197.8 448.4 195.6z"/>
<path fill="#ffbe3f" d="M335.7 214.9L322.7 215.2 324.9 211.2 337.8 210.9z"/>
<path fill="#ffbc3f" d="M324.1 215.2L311.5 215.3 313.8 211.3 326.3 211.2zM402.5 204.9L387.2 206.3 389 202.2 404.1 200.8z"/>
<path fill="#ffb73d" d="M291.2 215.1L279.6 214.8 282 210.9 293.6 211.2z"/>
<path fill="#ffb53c" d="M280.8 214.8L269.4 214.4 272 210.5 283.2 210.9zM303.6 212.3L291.7 212.2 294.1 208.3 305.9 208.4z"/>
<path fill="#ffb33c" d="M270.6 214.4L260.7 213.9 263.3 210.1 273.2 210.6zM293 212.2L281.4 211.9 283.8 208 295.4 208.3z"/>
<path fill="#ffd146" d="M635.5 163.6L605.4 171.3 604.3 167.8 633.8 160.3z"/>
<path fill="#ffd046" d="M608.5 170.5L580.5 177.3 579.9 173.6 607.3 167z"/>
<path fill="#ffce45" d="M560 182L535.6 187.2 535.7 183.4 559.7 178.2z"/>
<path fill="#ffcc44" d="M538.1 186.7L515.2 191.3 515.6 187.4 538.2 182.8z"/>
<path fill="#ffca44" d="M517.6 190.9L496 194.9 496.7 190.9 518 186.9zM582.9 173.9L557.1 179.8 556.9 176 582.2 170.2z"/>
<path fill="#ffc241" d="M415.6 206.5L399.6 208.1 401.2 204 417.1 202.4zM480.6 194.6L461.5 197.6 462.5 193.6 481.5 190.6z"/>
<path fill="#ffbe40" d="M374.2 210.2L360 211 362 207 376.1 206.1zM431.6 201.7L415 203.7 416.5 199.5 433 197.6z"/>
<path fill="#ffbd3f" d="M361.5 211L347.7 211.6 349.8 207.6 363.5 206.9z"/>
<path fill="#ffbb3f" d="M349.2 211.6L335.8 212 338 208 351.2 207.5zM388.8 206.2L374.1 207.3 376 203.2 390.6 202zM448.1 196.7L430.8 198.9 432.2 194.8 449.3 192.6z"/>
<path fill="#ffba3e" d="M337.3 212L324.3 212.3 326.6 208.3 339.4 207.9z"/>
<path fill="#ffb83e" d="M325.7 212.2L313.2 212.4 315.4 208.4 327.9 208.2zM363 207.9L349.3 208.6 351.3 204.6 364.9 203.9zM403.7 201.9L388.5 203.2 390.3 199.1 405.4 197.8z"/>
<path fill="#ffb63d" d="M314.5 212.4L302.3 212.3 304.6 208.4 316.8 208.4zM338.8 209L326 209.3 328.2 205.3 341 204.9z"/>
<path fill="#ffb13b" d="M282.6 211.9L271.3 211.5 273.8 207.7 285.1 208.1z"/>
<path fill="#ffaf3b" d="M272.5 211.6L262.6 211.1 265.2 207.3 275 207.7zM294.7 209.3L283.2 209 285.7 205.1 297.1 205.4z"/>
<path fill="#ffcc45" d="M634.3 161.1L604.6 168.7 603.5 165.1 632.6 157.8z"/>
<path fill="#ffcb44" d="M607.6 167.9L580 174.6 579.4 170.9 606.5 164.4z"/>
<path fill="#ffc944" d="M559.8 179.2L535.7 184.4 535.8 180.5 559.5 175.4z"/>
<path fill="#ffc743" d="M538.2 183.8L515.5 188.4 515.9 184.4 538.3 180z"/>
<path fill="#ffc643" d="M517.9 187.9L496.5 191.9 497.2 187.9 518.2 184zM606.8 165.3L579.6 171.9 579 168.2 605.7 161.8z"/>
<path fill="#ffc442" d="M498.7 191.5L478.5 195 479.4 190.9 499.4 187.5zM559.6 176.4L535.8 181.5 535.9 177.6 559.3 172.6z"/>
<path fill="#ffc041" d="M463.5 197.3L445.2 200 446.5 195.9 464.5 193.3z"/>
<path fill="#ffbd40" d="M416.7 203.5L400.8 205.1 402.5 201 418.3 199.3zM481.3 191.6L462.3 194.6 463.3 190.5 482.1 187.6z"/>
<path fill="#ffba3f" d="M375.6 207.1L361.5 208 363.4 203.9 377.5 203.1zM432.6 198.7L416.1 200.6 417.7 196.5 434 194.6z"/>
<path fill="#ffb73e" d="M350.7 208.6L337.4 209 339.6 205 352.8 204.5zM390.1 203.1L375.5 204.2 377.4 200.1 391.9 199zM465 191.3L447.1 193.9 448.3 189.8 466.1 187.2z"/>
<path fill="#ffb43d" d="M327.3 209.3L314.9 209.4 317.1 205.4 329.5 205.3zM364.4 204.9L350.8 205.6 352.9 201.5 366.4 200.8z"/>
<path fill="#ffb23c" d="M316.2 209.4L304 209.4 306.4 205.4 318.5 205.4z"/>
<path fill="#ffb13c" d="M305.3 209.4L293.5 209.3 295.9 205.3 307.7 205.5zM340.4 206L327.6 206.3 329.8 202.3 342.6 201.9z"/>
<path fill="#ffad3a" d="M284.4 209.1L273.2 208.7 275.7 204.8 286.9 205.2z"/>
<path fill="#ffac3a" d="M274.4 208.7L264.5 208.3 267.1 204.5 276.9 204.9z"/>
<path fill="#ffc744" d="M633 158.6L603.8 166.1 602.7 162.5 631.4 155.3z"/>
<path fill="#ffc543" d="M582.4 171.2L557 177 556.7 173.2 581.7 167.5z"/>
<path fill="#ffc242" d="M538.2 181L515.8 185.4 516.2 181.5 538.3 177.1zM631.8 156.1L603 163.4 601.9 159.8 630.1 152.8z"/>
<path fill="#ffc141" d="M518.1 185L497 188.9 497.6 184.9 518.5 181z"/>
<path fill="#ffbf41" d="M499.2 188.5L479.2 192 480.1 187.9 499.8 184.5zM559.4 173.6L535.8 178.6 535.9 174.7 559.1 169.8z"/>
<path fill="#ffbb40" d="M464.3 194.3L446.2 196.9 447.4 192.8 465.3 190.2z"/>
<path fill="#ffb93f" d="M417.9 200.4L402.1 202 403.7 197.9 419.4 196.3zM481.9 188.6L463.1 191.6 464.1 187.5 482.7 184.5z"/>
<path fill="#ffb53e" d="M377 204.1L362.9 205 364.9 200.9 378.9 200zM433.7 195.6L417.3 197.5 418.8 193.4 435 191.5z"/>
<path fill="#ffb33d" d="M352.2 205.5L339 206 341.2 202 354.3 201.5zM404.9 198.8L389.8 200.2 391.6 196.1 406.6 194.7z"/>
<path fill="#ffb03c" d="M329 206.3L316.5 206.5 318.8 202.5 331.2 202.3zM365.9 201.9L352.3 202.6 354.4 198.5 367.8 197.8z"/>
<path fill="#ffae3b" d="M317.9 206.5L305.8 206.5 308.1 202.5 320.1 202.5z"/>
<path fill="#ffad3b" d="M307.1 206.5L295.3 206.4 297.7 202.4 309.4 202.5zM342 203L329.3 203.3 331.5 199.3 344.1 198.9zM379.8 198L365.9 198.9 367.8 194.8 381.7 193.9z"/>
<path fill="#ffab3a" d="M296.5 206.4L285 206.1 287.5 202.2 298.9 202.4z"/>
<path fill="#ffaa3a" d="M286.3 206.2L275 205.8 277.6 201.9 288.7 202.3zM319.6 203.5L307.5 203.5 309.9 199.5 321.8 199.5z"/>
<path fill="#ffa839" d="M276.2 205.9L266.4 205.5 269 201.6 278.8 202z"/>
<path fill="#ffc142" d="M606 162.7L579.1 169.1 578.5 165.4 604.8 159.1z"/>
<path fill="#ffc042" d="M581.9 168.5L556.8 174.1 556.6 170.3 581.2 164.8z"/>
<path fill="#ffbe41" d="M538.3 178.1L516.1 182.5 516.5 178.5 538.3 174.2z"/>
<path fill="#ffbc40" d="M518.4 182.1L497.5 185.9 498.1 181.9 518.8 178.1z"/>
<path fill="#ffba40" d="M499.7 185.5L479.8 189 480.7 184.9 500.3 181.5zM559.2 170.8L535.9 175.7 536 171.8 558.9 166.9z"/>
<path fill="#ffb63e" d="M449 193.6L431.9 195.9 433.3 191.7 450.2 189.5z"/>
<path fill="#ffb43e" d="M419 197.4L403.3 199 405 194.9 420.5 193.2zM482.5 185.6L463.9 188.5 464.9 184.4 483.4 181.5zM538.4 172.3L516.7 176.6 517 172.6 538.4 168.4z"/>
<path fill="#ffb23d" d="M391.4 200.1L376.9 201.2 378.8 197.1 393.2 195.9zM465.8 188.3L448 190.8 449.3 186.7 466.8 184.1z"/>
<path fill="#ffb13d" d="M378.4 201.1L364.4 202 366.4 197.9 380.3 197zM449.9 190.6L432.9 192.8 434.3 188.7 451.1 186.4zM434.7 192.6L418.4 194.5 420 190.3 436.1 188.4zM500.6 179.6L481.1 182.9 482 178.8 501.1 175.5z"/>
<path fill="#ffaf3c" d="M353.7 202.5L340.6 203 342.8 199 355.8 198.4zM406.2 195.8L391.2 197.1 392.9 193 407.8 191.6z"/>
<path fill="#ffac3b" d="M330.6 203.3L318.2 203.5 320.5 199.5 332.8 199.3z"/>
<path fill="#ffa93a" d="M308.8 203.5L297.1 203.4 299.5 199.5 311.1 199.5zM343.6 200L330.9 200.3 333.1 196.3 345.7 195.9z"/>
<path fill="#ffa739" d="M298.3 203.5L286.9 203.2 289.4 199.3 300.7 199.5z"/>
<path fill="#ffa639" d="M288.1 203.3L276.9 202.9 279.5 199.1 290.6 199.3zM321.2 200.5L309.3 200.6 311.6 196.6 323.5 196.5z"/>
<path fill="#ffa438" d="M278.1 203L268.3 202.6 270.9 198.7 280.6 199.1z"/>
<path fill="#ffbd41" d="M630.6 153.6L602.2 160.8 601.1 157.2 628.9 150.3z"/>
<path fill="#ffbc41" d="M605.1 160.1L578.7 166.4 578 162.7 604 156.5z"/>
<path fill="#ffbb41" d="M581.4 165.7L556.6 171.3 556.4 167.5 580.7 162z"/>
<path fill="#ffb940" d="M538.3 175.2L516.4 179.6 516.8 175.6 538.4 171.3z"/>
<path fill="#ffb73f" d="M518.7 179.1L498 183 498.6 178.9 519 175.1z"/>
<path fill="#ffb63f" d="M500.1 182.6L480.5 185.9 481.3 181.9 500.7 178.5zM580.9 163L556.4 168.5 556.2 164.7 580.2 159.3z"/>
<path fill="#ffb03d" d="M420.1 194.3L404.5 195.9 406.2 191.8 421.6 190.2z"/>
<path fill="#ffae3c" d="M392.7 197L378.3 198.1 380.2 194 394.5 192.9zM466.6 185.2L448.9 187.8 450.2 183.6 467.6 181.1z"/>
<path fill="#ffab3b" d="M367.3 198.8L353.9 199.6 355.9 195.5 369.3 194.7zM421.3 191.2L405.8 192.9 407.4 188.7 422.8 187.1z"/>
<path fill="#ffaa3b" d="M355.3 199.5L342.2 200 344.4 196 357.3 195.4zM407.4 192.7L392.5 194.1 394.3 189.9 409 188.5z"/>
<path fill="#ffa83a" d="M332.3 200.3L319.9 200.5 322.2 196.5 334.5 196.3zM381.2 195L367.3 195.9 369.3 191.8 383.1 190.8z"/>
<path fill="#ffa539" d="M310.5 200.6L298.9 200.5 301.3 196.5 312.9 196.6zM345.2 197L332.6 197.3 334.8 193.3 347.3 192.9z"/>
<path fill="#ffa338" d="M300.1 200.5L288.7 200.3 291.2 196.4 302.5 196.6z"/>
<path fill="#ffa238" d="M289.9 200.4L278.8 200.1 281.4 196.2 292.4 196.4zM322.9 197.5L311 197.6 313.4 193.6 325.2 193.5z"/>
<path fill="#ffa037" d="M280 200.1L270.3 199.7 272.9 195.9 282.5 196.2z"/>
<path fill="#ffb840" d="M629.3 151.1L601.4 158.1 600.3 154.5 627.6 147.7z"/>
<path fill="#ffb740" d="M604.3 157.4L578.2 163.6 577.5 159.9 603.1 153.8z"/>
<path fill="#ffb53f" d="M559 167.9L536 172.8 536 168.9 558.7 164.1z"/>
<path fill="#ffb23e" d="M518.9 176.2L498.4 180 499 175.9 519.3 172.2z"/>
<path fill="#ffaf3d" d="M483.1 182.6L464.6 185.5 465.7 181.4 484 178.5zM538.4 169.4L516.9 173.6 517.3 169.7 538.4 165.5z"/>
<path fill="#ffad3c" d="M450.8 187.5L433.9 189.7 435.3 185.6 452 183.4z"/>
<path fill="#ffac3c" d="M435.7 189.5L419.6 191.4 421.1 187.3 437.1 185.4zM501 176.6L481.7 179.9 482.6 175.8 501.6 172.5z"/>
<path fill="#ffa93b" d="M394.1 193.9L379.7 195.1 381.6 190.9 395.8 189.8zM467.3 182.2L449.8 184.7 451.1 180.6 468.3 178.1z"/>
<path fill="#ffa73a" d="M368.8 195.8L355.4 196.5 357.5 192.4 370.8 191.7zM422.4 188.1L407 189.8 408.6 185.6 423.9 184z"/>
<path fill="#ffa63a" d="M356.8 196.5L343.8 197 346 192.9 358.9 192.4zM408.6 189.6L393.8 191 395.6 186.8 410.2 185.5z"/>
<path fill="#ffa339" d="M333.9 197.3L321.7 197.5 324 193.5 336.1 193.3zM370.3 192.7L356.9 193.5 359 189.4 372.2 188.6z"/>
<path fill="#ffa138" d="M312.3 197.6L300.7 197.6 303.1 193.6 314.7 193.6z"/>
<path fill="#ff9f37" d="M301.9 197.6L290.6 197.4 293.1 193.5 304.3 193.6z"/>
<path fill="#ff9e37" d="M291.8 197.4L280.7 197.2 283.3 193.2 294.3 193.5zM324.6 194.5L312.8 194.6 315.2 190.6 326.9 190.5z"/>
<path fill="#ff9c36" d="M281.9 197.2L272.2 196.9 274.8 193 284.4 193.3z"/>
<path fill="#ffb33f" d="M628.1 148.6L600.6 155.5 599.5 151.9 626.4 145.2z"/>
<path fill="#ffb23f" d="M603.4 154.8L577.7 160.9 577 157.1 602.3 151.2z"/>
<path fill="#ffb13e" d="M580.4 160.2L556.2 165.6 555.9 161.8 579.6 156.5z"/>
<path fill="#ffb03e" d="M558.7 165.1L536 169.9 536.1 166 558.4 161.3z"/>
<path fill="#ffae3d" d="M519.2 173.2L498.9 177 499.5 172.9 519.5 169.2z"/>
<path fill="#ffab3c" d="M483.7 179.6L465.4 182.5 466.4 178.3 484.5 175.5z"/>
<path fill="#ffa83b" d="M451.7 184.4L435 186.7 436.3 182.5 452.9 180.3zM436.7 186.4L420.7 188.3 422.2 184.2 438.1 182.3zM519.4 170.3L499.3 174 499.9 169.9 519.7 166.3z"/>
<path fill="#ffa53a" d="M395.4 190.9L381.1 192 383 187.9 397.1 186.7zM484.3 176.5L466.2 179.4 467.2 175.3 485.1 172.4z"/>
<path fill="#ffa439" d="M382.6 191.9L368.8 192.8 370.8 188.7 384.4 187.8z"/>
<path fill="#ffa239" d="M358.3 193.4L345.4 194 347.6 189.9 360.4 189.3zM437.7 183.4L421.8 185.3 423.3 181.1 439.1 179.2z"/>
<path fill="#ffa038" d="M346.8 193.9L334.2 194.3 336.5 190.3 348.9 189.8z"/>
<path fill="#ff9f38" d="M335.5 194.3L323.4 194.6 325.7 190.5 337.8 190.2zM396.7 187.8L382.5 188.9 384.3 184.8 398.4 183.6z"/>
<path fill="#ff9d37" d="M314 194.6L302.5 194.6 304.9 190.6 316.4 190.6z"/>
<path fill="#ff9b36" d="M303.7 194.6L292.4 194.5 294.9 190.5 306.1 190.6z"/>
<path fill="#ff9a36" d="M293.6 194.5L282.6 194.3 285.2 190.3 296.1 190.5zM337.2 191.3L325.1 191.6 327.4 187.5 339.4 187.2z"/>
<path fill="#ff9835" d="M283.8 194.3L274.1 194 276.8 190.1 286.3 190.4z"/>
<path fill="#ffad3d" d="M626.8 146.1L599.8 152.8 598.6 149.2 625.2 142.7z"/>
<path fill="#ffac3d" d="M602.6 152.1L577.2 158.1 576.5 154.4 601.4 148.5z"/>
<path fill="#ffab3d" d="M579.8 157.5L556 162.8 555.7 159 579.1 153.8z"/>
<path fill="#ffaa3c" d="M558.5 162.3L536.1 167 536.1 163.1 558.2 158.4z"/>
<path fill="#ffa93c" d="M538.4 166.5L517.2 170.7 517.5 166.7 538.4 162.6z"/>
<path fill="#ffa63b" d="M501.4 173.6L482.4 176.9 483.2 172.8 502 169.5zM601.7 149.5L576.7 155.3 576 151.6 600.5 145.9z"/>
<path fill="#ffa33a" d="M468.1 179.1L450.7 181.6 451.9 177.5 469.1 175zM538.4 163.6L517.4 167.7 517.8 163.7 538.4 159.7z"/>
<path fill="#ffa23a" d="M452.6 181.4L436 183.6 437.3 179.4 453.7 177.2z"/>
<path fill="#ffa139" d="M423.5 185.1L408.2 186.7 409.8 182.5 425 180.9z"/>
<path fill="#ffa039" d="M409.8 186.5L395.1 187.9 396.9 183.8 411.4 182.4zM501.8 170.6L483 173.8 483.8 169.7 502.4 166.5z"/>
<path fill="#ff9e38" d="M384 188.8L370.3 189.8 372.2 185.6 385.8 184.7z"/>
<path fill="#ff9d38" d="M371.7 189.7L358.4 190.4 360.5 186.3 373.7 185.5zM468.8 176.1L451.6 178.6 452.8 174.4 469.8 171.9z"/>
<path fill="#ff9c37" d="M359.8 190.4L347 191 349.2 186.8 361.9 186.2z"/>
<path fill="#ff9b37" d="M348.4 190.9L335.9 191.3 338.1 187.2 350.5 186.8z"/>
<path fill="#ff9936" d="M326.4 191.5L314.6 191.7 316.9 187.6 328.7 187.5z"/>
<path fill="#ff9736" d="M315.8 191.7L304.3 191.7 306.7 187.7 318.2 187.6zM373.2 186.6L360 187.4 362 183.3 375.1 182.5z"/>
<path fill="#ff9635" d="M305.5 191.7L294.3 191.6 296.8 187.6 308 187.7z"/>
<path fill="#ff9535" d="M295.5 191.6L284.5 191.3 287.1 187.4 298 187.6z"/>
<path fill="#ff9334" d="M285.7 191.4L276.1 191.1 278.7 187.2 288.2 187.4z"/>
<path fill="#ffa73c" d="M625.6 143.5L598.9 150.1 597.8 146.5 623.9 140.1z"/>
<path fill="#ffa53b" d="M579.3 154.7L555.8 160 555.5 156.1 578.6 151z"/>
<path fill="#ffa43b" d="M558.2 159.4L536.1 164.1 536.1 160.1 557.9 155.6z"/>
<path fill="#ffa13a" d="M519.6 167.3L499.8 171 500.3 166.9 519.9 163.3z"/>
<path fill="#ff9f39" d="M484.9 173.5L466.9 176.3 467.9 172.2 485.7 169.4z"/>
<path fill="#ff9c38" d="M453.4 178.3L437 180.5 438.3 176.3 454.6 174.2zM438.7 180.3L422.9 182.2 424.4 178 440 176.1z"/>
<path fill="#ff9b38" d="M424.6 182L409.4 183.6 411.1 179.4 426.1 177.8zM519.8 164.3L500.2 168 500.7 163.9 520.1 160.3z"/>
<path fill="#ff9a37" d="M411 183.4L396.4 184.8 398.2 180.7 412.6 179.3z"/>
<path fill="#ff9937" d="M397.9 184.7L383.9 185.9 385.7 181.7 399.7 180.5zM485.5 170.5L467.7 173.3 468.7 169.2 486.3 166.4z"/>
<path fill="#ff9837" d="M385.3 185.7L371.7 186.7 373.7 182.6 387.2 181.6z"/>
<path fill="#ff9636" d="M361.4 187.3L348.6 187.9 350.7 183.8 363.4 183.2zM439.7 177.2L424 179.1 425.5 174.9 441 173z"/>
<path fill="#ff9536" d="M349.9 187.9L337.5 188.3 339.8 184.2 352.1 183.7zM425.7 178.9L410.6 180.5 412.3 176.3 427.2 174.7z"/>
<path fill="#ff9435" d="M338.8 188.3L326.8 188.5 329.1 184.5 341.1 184.2z"/>
<path fill="#ff9335" d="M328.1 188.5L316.3 188.7 318.7 184.6 330.4 184.4zM386.7 182.7L373.2 183.6 375.2 179.5 388.6 178.5z"/>
<path fill="#ff9234" d="M317.6 188.7L306.1 188.7 308.6 184.7 319.9 184.6z"/>
<path fill="#ff9134" d="M307.3 188.7L296.2 188.6 298.7 184.6 309.8 184.7z"/>
<path fill="#ff8f33" d="M297.3 188.6L286.4 188.4 289 184.5 299.9 184.6z"/>
<path fill="#ff8e33" d="M287.6 188.4L278 188.2 280.7 184.2 290.2 184.5zM329.8 185.5L318.1 185.7 320.5 181.6 332.1 181.4z"/>
<path fill="#ffa03a" d="M624.3 141L598.1 147.5 597 143.8 622.7 137.6z"/>
<path fill="#ff9f3a" d="M600.8 146.8L576.2 152.6 575.5 148.8 599.6 143.2z"/>
<path fill="#ff9e3a" d="M578.8 152L555.6 157.1 555.2 153.3 578 148.2z"/>
<path fill="#ff9d39" d="M558 156.6L536.1 161.2 536.1 157.2 557.6 152.7z"/>
<path fill="#ff9c39" d="M538.4 160.7L517.7 164.8 518 160.8 538.3 156.8z"/>
<path fill="#ff9a38" d="M502.2 167.6L483.5 170.8 484.3 166.7 502.8 163.5z"/>
<path fill="#ff9737" d="M469.5 173L452.5 175.5 453.7 171.3 470.5 168.9z"/>
<path fill="#ff9637" d="M454.3 175.2L438 177.4 439.3 173.2 455.4 171.1zM538.4 157.8L517.9 161.8 518.2 157.8 538.3 153.8z"/>
<path fill="#ff9436" d="M412.2 180.4L397.7 181.7 399.5 177.6 413.8 176.2zM399.2 181.6L385.2 182.8 387.1 178.6 401 177.4zM502.6 164.6L484.1 167.7 484.9 163.6 503.1 160.5z"/>
<path fill="#ff9235" d="M374.6 183.5L361.5 184.3 363.6 180.2 376.6 179.4z"/>
<path fill="#ff9135" d="M362.9 184.2L350.2 184.9 352.3 180.7 364.9 180.1zM470.3 169.9L453.4 172.4 454.5 168.2 471.2 165.8z"/>
<path fill="#ff9034" d="M351.5 184.8L339.2 185.3 341.4 181.2 353.7 180.7z"/>
<path fill="#ff8f34" d="M340.5 185.2L328.5 185.5 330.8 181.4 342.7 181.1z"/>
<path fill="#ff8c33" d="M319.3 185.7L307.9 185.7 310.4 181.7 321.7 181.6z"/>
<path fill="#ff8b33" d="M309.1 185.7L298 185.6 300.6 181.6 311.6 181.7zM364.4 181.2L351.8 181.8 353.9 177.7 366.5 177z"/>
<path fill="#ff8a32" d="M299.2 185.7L288.3 185.5 290.9 181.5 301.7 181.6z"/>
<path fill="#ff8932" d="M289.5 185.5L280 185.3 282.6 181.3 292.1 181.5zM342.2 182.2L330.2 182.5 332.5 178.4 344.4 178.1z"/>
<path fill="#ff9a39" d="M623.1 138.5L597.3 144.8 596.1 141.1 621.4 135z"/>
<path fill="#ff9938" d="M599.9 144.1L575.7 149.8 575 146 598.8 140.5z"/>
<path fill="#ff9838" d="M578.2 149.2L555.3 154.2 555 150.4 577.4 145.5z"/>
<path fill="#ff9738" d="M557.7 153.7L536.1 158.2 536.1 154.3 557.3 149.9z"/>
<path fill="#ff9537" d="M520 161.4L500.6 164.9 501.1 160.9 520.3 157.4z"/>
<path fill="#ff9236" d="M486.1 167.4L468.4 170.2 469.4 166.1 486.8 163.3zM577.6 146.4L555.1 151.4 554.7 147.5 576.9 142.7z"/>
<path fill="#ff9035" d="M455.2 172.2L439 174.3 440.3 170.1 456.3 168zM440.7 174.1L425.1 176 426.6 171.8 442 169.9z"/>
<path fill="#ff8f35" d="M426.8 175.8L411.8 177.4 413.5 173.2 428.2 171.6zM520.2 158.4L501 161.9 501.5 157.9 520.4 154.4z"/>
<path fill="#ff8e34" d="M413.4 177.3L399 178.6 400.8 174.5 415 173.1zM400.5 178.5L386.6 179.7 388.5 175.5 402.3 174.3z"/>
<path fill="#ff8d34" d="M388.1 179.6L374.6 180.5 376.6 176.4 389.9 175.4z"/>
<path fill="#ff8c34" d="M376.1 180.5L363 181.3 365.1 177.1 378 176.3zM486.6 164.4L469.1 167.2 470.1 163 487.3 160.3z"/>
<path fill="#ff8a33" d="M353.1 181.7L340.9 182.2 343.1 178.1 355.3 177.6zM441.6 171L426.2 172.9 427.7 168.7 442.9 166.8z"/>
<path fill="#ff8832" d="M331.5 182.5L319.9 182.7 322.3 178.6 333.8 178.4z"/>
<path fill="#ff8732" d="M321.1 182.7L309.8 182.7 312.2 178.7 323.5 178.6zM389.5 176.5L376.1 177.5 378.1 173.3 391.3 172.3z"/>
<path fill="#ff8631" d="M311 182.7L299.9 182.7 302.4 178.7 313.4 178.7z"/>
<path fill="#ff8531" d="M301.1 182.7L290.3 182.5 292.9 178.5 303.6 178.7z"/>
<path fill="#ff8430" d="M291.4 182.6L282 182.3 284.6 178.4 294 178.6z"/>
<path fill="#ff9337" d="M621.9 135.9L596.4 142.1 595.3 138.4 620.2 132.4z"/>
<path fill="#ff9237" d="M599.1 141.5L575.1 147 574.4 143.2 597.9 137.8z"/>
<path fill="#ff9136" d="M557.4 150.9L536.1 155.3 536.1 151.4 557 147z"/>
<path fill="#ff9036" d="M538.3 154.9L518.1 158.8 518.4 154.8 538.3 150.9z"/>
<path fill="#ff8e35" d="M503 161.6L484.7 164.7 485.5 160.6 503.5 157.5z"/>
<path fill="#ff8b34" d="M471 166.9L454.2 169.3 455.4 165.1 471.9 162.7z"/>
<path fill="#ff8a34" d="M456 169.1L440 171.2 441.3 167 457.1 164.9zM557.1 148L536.1 152.4 536 148.4 556.7 144.2z"/>
<path fill="#ff8933" d="M427.9 172.7L413 174.3 414.6 170.1 429.3 168.5zM414.6 174.1L400.3 175.5 402 171.3 416.2 169.9z"/>
<path fill="#ff8833" d="M401.8 175.4L388 176.6 389.9 172.4 403.5 171.2z"/>
<path fill="#ff8632" d="M377.5 177.4L364.6 178.2 366.6 174 379.5 173.2z"/>
<path fill="#ff8532" d="M365.9 178.1L353.4 178.7 355.5 174.6 368 173.9zM471.7 163.8L455.1 166.2 456.2 162 472.6 159.7z"/>
<path fill="#ff8431" d="M354.7 178.7L342.5 179.2 344.8 175 356.9 174.5zM343.8 179.1L331.9 179.5 334.3 175.4 346 175z"/>
<path fill="#ff8331" d="M333.2 179.4L321.6 179.6 324.1 175.6 335.5 175.3z"/>
<path fill="#ff8230" d="M322.9 179.6L311.6 179.7 314.1 175.7 325.3 175.5z"/>
<path fill="#ff8030" d="M312.8 179.7L301.8 179.7 304.3 175.7 315.3 175.7zM367.5 175L355 175.7 357.1 171.5 369.5 170.8z"/>
<path fill="#ff7f30" d="M303 179.7L292.2 179.6 294.8 175.6 305.5 175.7zM356.3 175.6L344.2 176.1 346.4 172 358.5 171.4z"/>
<path fill="#ff7e2f" d="M293.3 179.6L283.9 179.4 286.6 175.4 296 175.6z"/>
<path fill="#ff8d35" d="M620.6 133.3L595.6 139.4 594.4 135.7 618.9 129.8z"/>
<path fill="#ff8c35" d="M598.2 138.8L574.6 144.2 573.9 140.4 597 135.1z"/>
<path fill="#ff8b35" d="M577.1 143.7L554.8 148.5 554.5 144.7 576.3 139.9z"/>
<path fill="#ff8934" d="M538.3 151.9L518.3 155.8 518.6 151.8 538.2 148z"/>
<path fill="#ff8834" d="M520.4 155.4L501.4 158.9 501.9 154.8 520.6 151.4z"/>
<path fill="#ff8733" d="M503.4 158.6L485.3 161.6 486 157.5 503.9 154.5z"/>
<path fill="#ff8633" d="M487.2 161.3L469.9 164.1 470.8 159.9 487.9 157.2z"/>
<path fill="#ff8432" d="M456.8 166L440.9 168.1 442.2 163.9 458 161.8zM442.6 167.9L427.3 169.8 428.8 165.6 443.9 163.7z"/>
<path fill="#ff8332" d="M428.9 169.6L414.2 171.2 415.8 167 430.4 165.4zM415.8 171L401.6 172.4 403.3 168.2 417.4 166.8z"/>
<path fill="#ff8231" d="M403.1 172.3L389.4 173.5 391.2 169.3 404.8 168.1z"/>
<path fill="#ff8131" d="M390.8 173.4L377.6 174.4 379.5 170.2 392.7 169.2z"/>
<path fill="#ff8031" d="M379 174.3L366.1 175.1 368.2 170.9 380.9 170.1zM487.7 158.3L470.6 161 471.5 156.8 488.4 154.2z"/>
<path fill="#ff7e30" d="M345.5 176.1L333.7 176.4 336 172.3 347.7 171.9z"/>
<path fill="#ff7d2f" d="M334.9 176.4L323.4 176.6 325.8 172.5 337.2 172.3z"/>
<path fill="#ff7c2f" d="M324.6 176.6L313.4 176.7 315.9 172.6 327 172.5z"/>
<path fill="#ff7b2f" d="M314.6 176.7L303.7 176.7 306.2 172.7 317.1 172.6z"/>
<path fill="#ff7a2e" d="M304.8 176.7L294.1 176.6 296.8 172.6 307.4 172.7z"/>
<path fill="#ff792e" d="M295.3 176.6L285.9 176.4 288.6 172.4 297.9 172.6z"/>
<path fill="#ff8634" d="M619.3 130.7L594.7 136.7 593.6 133 617.7 127.3z"/>
<path fill="#ff8534" d="M597.3 136.1L574.1 141.4 573.3 137.6 596.1 132.4z"/>
<path fill="#ff8433" d="M576.5 140.9L554.6 145.7 554.2 141.8 575.7 137.1zM556.8 145.2L536.1 149.5 536 145.5 556.4 141.3z"/>
<path fill="#ff8333" d="M538.2 149L518.5 152.9 518.7 148.8 538.1 145.1z"/>
<path fill="#ff8232" d="M520.6 152.5L501.8 155.9 502.3 151.8 520.8 148.4z"/>
<path fill="#ff8132" d="M503.7 155.5L485.8 158.6 486.5 154.5 504.2 151.5z"/>
<path fill="#ff7f31" d="M472.4 160.7L455.9 163.1 457.1 158.9 473.3 156.6z"/>
<path fill="#ff7e31" d="M457.7 162.9L441.9 165 443.2 160.8 458.8 158.7z"/>
<path fill="#ff7d31" d="M443.6 164.8L428.4 166.6 429.9 162.4 444.8 160.6z"/>
<path fill="#ff7d30" d="M430 166.5L415.4 168.1 417 163.9 431.4 162.2z"/>
<path fill="#ff7c30" d="M417 167.9L402.9 169.3 404.6 165.1 418.5 163.7zM404.4 169.2L390.7 170.4 392.6 166.2 406.1 165z"/>
<path fill="#ff7b30" d="M392.2 170.2L379 171.3 381 167.1 394 166z"/>
<path fill="#ff7a2f" d="M380.4 171.2L367.6 172 369.7 167.8 382.3 167zM369 171.9L356.6 172.6 358.7 168.4 371 167.7z"/>
<path fill="#ff792f" d="M357.9 172.5L345.8 173 348.1 168.9 360 168.3z"/>
<path fill="#ff782e" d="M347.1 173L335.4 173.4 337.7 169.2 349.4 168.8z"/>
<path fill="#ff772e" d="M336.6 173.3L325.2 173.6 327.6 169.5 339 169.2z"/>
<path fill="#ff762e" d="M326.4 173.6L315.3 173.7 317.8 169.6 328.8 169.4z"/>
<path fill="#ff752d" d="M316.5 173.7L305.6 173.7 308.1 169.6 318.9 169.6z"/>
<path fill="#ff742d" d="M306.7 173.7L296.1 173.6 298.7 169.6 309.3 169.6z"/>
<path fill="#ff732d" d="M297.2 173.6L287.9 173.5 290.6 169.5 299.8 169.6z"/>
<path fill="#ff7e32" d="M618.1 128.2L593.9 134 592.7 130.3 616.4 124.7z"/>
<path fill="#ff7d32" d="M596.4 133.4L573.5 138.6 572.8 134.8 595.2 129.7zM575.9 138.1L554.3 142.8 553.9 138.9 575.1 134.3z"/>
<path fill="#ff7c31" d="M556.5 142.3L536 146.5 536 142.6 556.1 138.4z"/>
<path fill="#ff7b31" d="M538.2 146.1L518.7 149.9 518.9 145.8 538.1 142.1z"/>
<path fill="#ff7a31" d="M520.7 149.5L502.1 152.9 502.6 148.8 520.9 145.5z"/>
<path fill="#ff7930" d="M504.1 152.5L486.4 155.5 487.1 151.4 504.5 148.4z"/>
<path fill="#ff7830" d="M488.2 155.2L471.3 157.9 472.2 153.7 488.9 151.1z"/>
<path fill="#ff772f" d="M473 157.6L456.8 160 457.9 155.8 473.9 153.5zM458.5 159.8L442.9 161.9 444.2 157.7 459.6 155.6z"/>
<path fill="#ff762f" d="M444.5 161.7L429.5 163.5 430.9 159.3 445.8 157.5zM431.1 163.3L416.6 165 418.2 160.7 432.5 159.1z"/>
<path fill="#ff752f" d="M418.1 164.8L404.2 166.2 405.9 162 419.7 160.6z"/>
<path fill="#ff752e" d="M405.6 166.1L392.1 167.2 394 163 407.3 161.8z"/>
<path fill="#ff742e" d="M393.5 167.1L380.5 168.1 382.4 163.9 395.4 162.9z"/>
<path fill="#ff732e" d="M381.8 168L369.2 168.9 371.2 164.7 383.8 163.8zM370.5 168.8L358.2 169.5 360.3 165.3 372.5 164.6z"/>
<path fill="#ff722d" d="M359.5 169.4L347.5 170 349.8 165.8 361.6 165.2z"/>
<path fill="#ff712d" d="M348.8 169.9L337.1 170.3 339.5 166.2 351 165.7z"/>
<path fill="#ff702d" d="M338.4 170.3L327 170.5 329.4 166.4 340.7 166.1z"/>
<path fill="#ff6f2c" d="M328.2 170.5L317.1 170.7 319.6 166.6 330.6 166.4zM318.3 170.7L307.5 170.7 310 166.6 320.8 166.5z"/>
<path fill="#ff6e2c" d="M308.6 170.7L298 170.6 300.7 166.6 311.2 166.6z"/>
<path fill="#ff6d2b" d="M299.2 170.6L289.9 170.5 292.6 166.5 301.8 166.6z"/>
<path fill="#ff7631" d="M616.8 125.6L593 131.3 591.8 127.6 615.1 122.1z"/>
<path fill="#ff7630" d="M595.5 130.7L573 135.8 572.2 132 594.3 127z"/>
<path fill="#ff7530" d="M575.3 135.3L554 139.9 553.6 136 574.5 131.5z"/>
<path fill="#ff7430" d="M556.2 139.4L536 143.6 535.9 139.6 555.8 135.6zM538.1 143.2L518.8 146.9 519 142.8 538 139.2z"/>
<path fill="#ff732f" d="M520.8 146.5L502.5 149.8 503 145.7 521 142.5z"/>
<path fill="#ff722f" d="M504.4 149.5L486.9 152.5 487.6 148.3 504.9 145.4z"/>
<path fill="#ff712e" d="M488.7 152.2L471.9 154.8 472.9 150.7 489.4 148z"/>
<path fill="#ff702e" d="M473.7 154.6L457.6 156.9 458.7 152.7 474.6 150.4z"/>
<path fill="#ff6f2e" d="M459.3 156.7L443.8 158.8 445.1 154.6 460.4 152.5zM445.5 158.6L430.6 160.4 432 156.2 446.7 154.3z"/>
<path fill="#ff6f2d" d="M432.1 160.2L417.8 161.8 419.4 157.6 433.5 156z"/>
<path fill="#ff6e2d" d="M419.3 161.7L405.4 163.1 407.1 158.8 420.9 157.4z"/>
<path fill="#ff6d2d" d="M406.9 162.9L393.5 164.1 395.3 159.9 408.6 158.7zM394.9 164L381.9 165 383.9 160.8 396.7 159.8z"/>
<path fill="#ff6c2d" d="M383.3 164.9L370.7 165.8 372.7 161.6 385.2 160.7z"/>
<path fill="#ff6c2c" d="M372 165.7L359.8 166.4 361.9 162.2 374.1 161.5z"/>
<path fill="#ff6b2c" d="M361.1 166.3L349.2 166.9 351.4 162.7 363.2 162.1z"/>
<path fill="#ff6a2c" d="M350.4 166.8L338.9 167.2 341.2 163.1 352.7 162.6z"/>
<path fill="#ff6a2b" d="M340.1 167.2L328.8 167.5 331.2 163.3 342.4 163z"/>
<path fill="#ff692b" d="M330 167.5L319 167.6 321.5 163.5 332.4 163.3z"/>
<path fill="#ff682b" d="M320.1 167.6L309.4 167.7 312 163.6 322.6 163.5z"/>
<path fill="#ff672a" d="M310.5 167.7L300 167.6 302.7 163.6 313.1 163.6z"/>
<path fill="#ff662a" d="M301.1 167.6L291.9 167.5 294.6 163.5 303.8 163.6z"/>
<path fill="#ff6e2f" d="M615.6 123L592.1 128.5 590.9 124.9 613.9 119.4zM594.6 128L572.4 133 571.6 129.2 593.3 124.3z"/>
<path fill="#ff6d2f" d="M574.7 132.5L553.7 137 553.3 133.1 573.9 128.7z"/>
<path fill="#ff6d2e" d="M555.9 136.6L535.9 140.6 535.8 136.7 555.4 132.7z"/>
<path fill="#ff6c2e" d="M538 140.2L519 143.9 519.2 139.8 537.9 136.3z"/>
<path fill="#ff6b2e" d="M521 143.5L502.8 146.8 503.3 142.7 521.1 139.5z"/>
<path fill="#ff6a2d" d="M504.7 146.5L487.4 149.4 488.1 145.3 505.2 142.4zM489.2 149.1L472.6 151.7 473.5 147.6 489.9 145z"/>
<path fill="#ff692d" d="M474.4 151.5L458.4 153.8 459.5 149.6 475.2 147.3z"/>
<path fill="#ff682c" d="M460.1 153.6L444.8 155.6 446 151.4 461.2 149.4zM446.4 155.4L431.6 157.3 433.1 153 447.6 151.2z"/>
<path fill="#ff672c" d="M433.2 157.1L419 158.7 420.5 154.4 434.6 152.9zM420.4 158.5L406.7 159.9 408.4 155.7 422 154.3z"/>
<path fill="#ff662c" d="M408.1 159.8L394.8 161 396.7 156.7 409.8 155.5z"/>
<path fill="#ff662b" d="M396.2 160.9L383.4 161.9 385.3 157.7 398.1 156.6z"/>
<path fill="#ff652b" d="M384.7 161.8L372.2 162.7 374.3 158.4 386.7 157.6zM373.5 162.6L361.4 163.3 363.5 159.1 375.6 158.3z"/>
<path fill="#ff642b" d="M362.7 163.2L350.9 163.8 353.1 159.6 364.8 159z"/>
<path fill="#ff632a" d="M352.1 163.7L340.6 164.1 342.9 160 354.3 159.5zM341.8 164.1L330.6 164.4 333 160.3 344.1 159.9z"/>
<path fill="#ff622a" d="M331.8 164.4L320.8 164.6 323.3 160.4 334.2 160.2z"/>
<path fill="#ff6129" d="M322 164.6L311.3 164.6 313.9 160.5 324.5 160.4zM312.4 164.6L302 164.6 304.6 160.5 315 160.5z"/>
<path fill="#ff6029" d="M303.1 164.6L293.9 164.5 296.6 160.5 305.7 160.5z"/>
<path fill="#ff672d" d="M614.3 120.4L591.3 125.8 590.1 122.1 612.6 116.8z"/>
<path fill="#ff662d" d="M593.7 125.3L571.8 130.2 571 126.4 592.4 121.6zM574.1 129.7L553.4 134.1 552.9 130.2 573.3 125.9z"/>
<path fill="#ff652d" d="M555.5 133.7L535.8 137.7 535.7 133.7 555.1 129.8z"/>
<path fill="#ff642c" d="M537.9 137.3L519.1 140.9 519.3 136.8 537.8 133.3zM521.1 140.5L503.2 143.8 503.6 139.7 521.2 136.5z"/>
<path fill="#ff632c" d="M505.1 143.4L487.9 146.3 488.6 142.2 505.5 139.3z"/>
<path fill="#ff622b" d="M489.7 146L473.3 148.6 474.2 144.5 490.4 141.9z"/>
<path fill="#ff612b" d="M475 148.4L459.2 150.7 460.3 146.5 475.9 144.2zM460.9 150.5L445.7 152.5 447 148.3 461.9 146.3z"/>
<path fill="#ff602b" d="M447.3 152.3L432.7 154.1 434.1 149.9 448.5 148.1zM434.2 153.9L420.1 155.5 421.7 151.3 435.6 149.7z"/>
<path fill="#ff602a" d="M421.6 155.4L408 156.8 409.7 152.5 423.2 151.1z"/>
<path fill="#ff5f2a" d="M409.4 156.6L396.2 157.8 398 153.6 411.1 152.4zM397.6 157.7L384.8 158.8 386.8 154.5 399.4 153.5z"/>
<path fill="#ff5e2a" d="M386.2 158.7L373.7 159.5 375.8 155.3 388.1 154.4z"/>
<path fill="#ff5e29" d="M375.1 159.4L363 160.2 365.1 155.9 377.1 155.2z"/>
<path fill="#ff5d29" d="M364.3 160.1L352.5 160.7 354.8 156.5 366.4 155.9zM353.8 160.6L342.3 161.1 344.7 156.9 356 156.4z"/>
<path fill="#ff5c29" d="M343.5 161L332.4 161.3 334.8 157.2 345.9 156.8z"/>
<path fill="#ff5b28" d="M333.6 161.3L322.7 161.5 325.2 157.4 336 157.1zM323.8 161.5L313.2 161.6 315.8 157.5 326.4 157.4z"/>
<path fill="#ff5a28" d="M314.3 161.6L303.9 161.6 306.6 157.5 316.9 157.5z"/>
<path fill="#ff5927" d="M305 161.6L295.9 161.5 298.7 157.4 307.7 157.5z"/>
<path fill="#ff5f2c" d="M613.1 117.7L590.4 123.1 589.2 119.4 611.4 114.2z"/>
<path fill="#ff5e2c" d="M592.7 122.5L571.2 127.4 570.4 123.6 591.5 118.9z"/>
<path fill="#ff5e2b" d="M573.5 126.9L553.1 131.2 552.6 127.3 572.6 123.1z"/>
<path fill="#ff5d2b" d="M555.2 130.8L535.8 134.7 535.6 130.7 554.7 126.9zM537.8 134.3L519.3 137.9 519.4 133.8 537.6 130.4z"/>
<path fill="#ff5c2b" d="M521.2 137.5L503.5 140.7 503.9 136.6 521.3 133.5z"/>
<path fill="#ff5c2a" d="M505.4 140.4L488.4 143.3 489.1 139.1 505.8 136.3z"/>
<path fill="#ff5b2a" d="M490.2 143L473.9 145.5 474.8 141.4 490.8 138.8z"/>
<path fill="#ff5a2a" d="M475.6 145.3L460 147.6 461.1 143.4 476.5 141.1z"/>
<path fill="#ff5929" d="M461.7 147.3L446.6 149.4 447.9 145.1 462.7 143.1zM448.2 149.2L433.7 151 435.1 146.7 449.4 144.9zM435.3 150.8L421.3 152.4 422.8 148.1 436.7 146.6z"/>
<path fill="#ff5829" d="M422.8 152.2L409.2 153.6 410.9 149.4 424.3 148zM410.7 153.5L397.6 154.7 399.4 150.4 412.3 149.2z"/>
<path fill="#ff5828" d="M398.9 154.6L386.2 155.6 388.2 151.4 400.8 150.3z"/>
<path fill="#ff5728" d="M387.6 155.5L375.3 156.4 377.3 152.1 389.5 151.3zM376.6 156.3L364.6 157 366.7 152.8 378.6 152.1z"/>
<path fill="#ff5628" d="M365.9 157L354.2 157.5 356.5 153.3 368 152.7zM355.4 157.5L344.1 158 346.4 153.8 357.7 153.3z"/>
<path fill="#ff5527" d="M345.3 157.9L334.2 158.2 336.6 154.1 347.6 153.7z"/>
<path fill="#ff5427" d="M335.4 158.2L324.6 158.4 327.1 154.3 337.8 154zM325.7 158.4L315.1 158.5 317.7 154.4 328.2 154.3z"/>
<path fill="#ff5326" d="M316.3 158.5L305.9 158.6 308.6 154.4 318.8 154.4zM307 158.6L298 158.5 300.7 154.4 309.7 154.4z"/>
<path fill="#ff572a" d="M611.8 115.1L589.5 120.3 588.3 116.6 610.1 111.5zM591.8 119.8L570.6 124.5 569.8 120.7 590.6 116.1z"/>
<path fill="#ff562a" d="M572.9 124.1L552.7 128.3 552.3 124.4 572 120.3zM554.8 127.9L535.7 131.8 535.5 127.8 554.3 124z"/>
<path fill="#ff5529" d="M537.7 131.4L519.4 134.9 519.5 130.8 537.5 127.4zM521.3 134.5L503.8 137.7 504.2 133.6 521.4 130.5z"/>
<path fill="#ff5429" d="M505.7 137.4L488.9 140.2 489.6 136 506 133.2z"/>
<path fill="#ff5328" d="M490.7 139.9L474.6 142.4 475.4 138.2 491.3 135.7zM476.3 142.2L460.8 144.5 461.9 140.2 477.1 138z"/>
<path fill="#ff5228" d="M462.4 144.2L447.6 146.2 448.8 142 463.5 140zM449.1 146L434.8 147.8 436.2 143.6 450.3 141.8zM436.3 147.7L422.4 149.2 424 145 437.7 143.4z"/>
<path fill="#ff5127" d="M423.9 149.1L410.5 150.5 412.2 146.2 425.4 144.8zM411.9 150.3L398.9 151.5 400.7 147.3 413.6 146.1z"/>
<path fill="#ff5027" d="M400.3 151.4L387.7 152.5 389.6 148.2 402.1 147.2zM389 152.4L376.8 153.2 378.8 149 390.9 148.1zM378.1 153.2L366.2 153.9 368.4 149.7 380.1 148.9z"/>
<path fill="#ff4f26" d="M367.4 153.8L355.9 154.4 358.1 150.2 369.6 149.6zM357.1 154.4L345.8 154.8 348.2 150.6 359.3 150.1z"/>
<path fill="#ff4e26" d="M347 154.8L336 155.2 338.5 151 349.4 150.6zM337.2 155.1L326.4 155.4 329 151.2 339.6 150.9z"/>
<path fill="#ff4d25" d="M327.6 155.3L317.1 155.5 319.7 151.3 330.1 151.2zM318.2 155.5L307.9 155.5 310.6 151.4 320.8 151.3z"/>
<path fill="#ff4c25" d="M309 155.5L300 155.5 302.8 151.4 311.7 151.4z"/>
<path fill="#ff4f29" d="M610.5 112.5L588.6 117.6 587.4 113.9 608.8 108.9z"/>
<path fill="#ff4f28" d="M590.9 117.1L570 121.7 569.2 117.9 589.6 113.4zM572.2 121.2L552.4 125.4 551.9 121.5 571.4 117.4z"/>
<path fill="#ff4e28" d="M554.5 125L535.6 128.8 535.4 124.8 554 121.1zM537.6 128.4L519.5 131.9 519.6 127.8 537.4 124.4z"/>
<path fill="#ff4d28" d="M521.4 131.5L504.1 134.6 504.5 130.5 521.5 127.5z"/>
<path fill="#ff4d27" d="M505.9 134.3L489.4 137.1 490 132.9 506.3 130.2z"/>
<path fill="#ff4c27" d="M491.1 136.8L475.2 139.3 476.1 135.1 491.7 132.7z"/>
<path fill="#ff4b27" d="M476.9 139.1L461.6 141.3 462.7 137.1 477.7 134.9z"/>
<path fill="#ff4b26" d="M463.2 141.1L448.5 143.1 449.7 138.9 464.2 136.9zM450 142.9L435.8 144.7 437.2 140.4 451.2 138.7z"/>
<path fill="#ff4a26" d="M437.3 144.5L423.6 146.1 425.1 141.8 438.7 140.2zM425 145.9L411.7 147.3 413.4 143 426.6 141.7zM413.1 147.2L400.3 148.4 402.1 144.1 414.8 142.9z"/>
<path fill="#ff4926" d="M401.6 148.3L389.1 149.3 391.1 145 403.4 144z"/>
<path fill="#ff4925" d="M390.4 149.2L378.3 150.1 380.4 145.8 392.4 144.9zM379.6 150L367.8 150.8 370 146.5 381.6 145.7z"/>
<path fill="#ff4825" d="M369 150.7L357.5 151.3 359.8 147.1 371.2 146.4zM358.8 151.2L347.6 151.7 349.9 147.5 361 147z"/>
<path fill="#ff4725" d="M348.7 151.7L337.8 152 340.3 147.8 351.1 147.5z"/>
<path fill="#ff4724" d="M339 152L328.3 152.3 330.8 148.1 341.4 147.8z"/>
<path fill="#ff4624" d="M329.4 152.3L319 152.4 321.6 148.3 332 148.1zM320.1 152.4L309.9 152.5 312.6 148.3 322.7 148.2z"/>
<path fill="#ff4524" d="M311 152.5L302 152.4 304.8 148.3 313.7 148.3z"/>
<path fill="#ff4827" d="M609.3 109.8L587.7 114.8 586.5 111.1 607.6 106.2z"/>
<path fill="#ff4727" d="M589.9 114.3L569.4 118.9 568.6 115 588.7 110.6zM571.6 118.4L552.1 122.5 551.6 118.6 570.7 114.6zM554.1 122.1L535.5 125.9 535.3 121.8 553.6 118.2z"/>
<path fill="#ff4626" d="M537.4 125.5L519.6 128.9 519.7 124.8 537.2 121.5zM521.5 128.5L504.4 131.6 504.8 127.4 521.6 124.4z"/>
<path fill="#ff4526" d="M506.2 131.3L489.9 134 490.5 129.8 506.6 127.1z"/>
<path fill="#ff4525" d="M491.6 133.7L475.9 136.2 476.7 132 492.2 129.6z"/>
<path fill="#ff4425" d="M477.5 136L462.4 138.2 463.4 134 478.3 131.8zM464 138L449.4 140 450.6 135.7 465 133.7zM450.9 139.8L436.9 141.5 438.2 137.3 452.1 135.5z"/>
<path fill="#ff4325" d="M438.3 141.3L424.7 142.9 426.3 138.6 439.7 137.1zM426.2 142.8L413 144.1 414.7 139.9 427.7 138.5z"/>
<path fill="#ff4324" d="M414.4 144L401.6 145.2 403.4 140.9 416 139.7z"/>
<path fill="#ff4224" d="M403 145.1L390.6 146.1 392.5 141.9 404.8 140.8zM391.9 146L379.8 146.9 381.9 142.7 393.8 141.8zM381.1 146.9L369.4 147.6 371.6 143.3 383.1 142.6z"/>
<path fill="#ff4124" d="M370.6 147.5L359.2 148.2 361.5 143.9 372.8 143.3z"/>
<path fill="#ff4123" d="M360.4 148.1L349.3 148.6 351.7 144.4 362.7 143.8zM350.5 148.6L339.6 148.9 342.1 144.7 352.8 144.3z"/>
<path fill="#ff4023" d="M340.8 148.9L330.2 149.2 332.7 145 343.2 144.7zM331.3 149.2L320.9 149.3 323.6 145.2 333.8 145z"/>
<path fill="#ff3f22" d="M322 149.3L311.9 149.4 314.6 145.2 324.6 145.1zM313 149.4L304.1 149.4 306.9 145.3 315.7 145.2z"/>
<path fill="#ff4026" d="M608 107.2L586.8 112.1 585.6 108.3 606.3 103.6z"/>
<path fill="#ff4025" d="M589 111.6L568.8 116 568 112.2 587.7 107.9zM570.9 115.6L551.7 119.6 551.2 115.7 570 111.7z"/>
<path fill="#ff3f25" d="M553.7 119.2L535.3 122.9 535.2 118.9 553.2 115.3zM537.3 122.5L519.7 125.8 519.8 121.8 537.1 118.5z"/>
<path fill="#ff3e24" d="M521.5 125.5L504.7 128.5 505.1 124.4 521.6 121.4zM506.5 128.2L490.3 130.9 490.9 126.7 506.8 124.1zM492 130.6L476.5 133.1 477.3 128.9 492.6 126.5z"/>
<path fill="#ff3d24" d="M478.1 132.8L463.1 135 464.2 130.8 478.9 128.6z"/>
<path fill="#ff3d23" d="M464.7 134.8L450.3 136.8 451.5 132.5 465.7 130.6z"/>
<path fill="#ff3c23" d="M451.8 136.6L437.9 138.4 439.2 134.1 453 132.3zM439.3 138.2L425.9 139.7 427.4 135.5 440.7 133.9zM427.3 139.6L414.2 141 415.9 136.7 428.8 135.3zM415.6 140.8L403 142 404.8 137.8 417.3 136.5z"/>
<path fill="#ff3b23" d="M404.3 141.9L392 143 393.9 138.7 406.1 137.6zM393.3 142.9L381.4 143.8 383.4 139.5 395.2 138.6z"/>
<path fill="#ff3b22" d="M382.6 143.7L371 144.5 373.2 140.2 384.7 139.4zM372.2 144.4L360.9 145 363.2 140.8 374.4 140.1z"/>
<path fill="#ff3a22" d="M362.1 144.9L351.1 145.5 353.4 141.2 364.3 140.7zM352.2 145.4L341.4 145.8 343.9 141.6 354.6 141.2z"/>
<path fill="#ff3922" d="M342.6 145.8L332.1 146.1 334.6 141.9 345 141.5z"/>
<path fill="#ff3921" d="M333.2 146L322.9 146.2 325.5 142.1 335.7 141.8zM324 146.2L313.9 146.3 316.6 142.2 326.6 142z"/>
<path fill="#ff3821" d="M315 146.3L306.1 146.3 308.9 142.2 317.7 142.1z"/>
<path fill="#ff3924" d="M606.7 104.5L585.9 109.3 584.6 105.6 605 100.9z"/>
<path fill="#ff3824" d="M588.1 108.8L568.2 113.2 567.3 109.3 586.8 105.1zM570.3 112.7L551.3 116.7 550.8 112.8 569.4 108.9z"/>
<path fill="#ff3823" d="M553.3 116.3L535.2 119.9 535 115.9 552.8 112.4z"/>
<path fill="#ff3723" d="M537.1 119.5L519.8 122.8 519.9 118.7 536.9 115.5zM521.6 122.5L505 125.4 505.3 121.3 521.7 118.4zM506.7 125.1L490.8 127.8 491.4 123.6 507.1 121z"/>
<path fill="#ff3622" d="M492.4 127.6L477.1 130 477.9 125.8 493 123.4zM478.7 129.7L463.9 131.9 464.9 127.7 479.5 125.5z"/>
<path fill="#ff3522" d="M465.5 131.7L451.2 133.6 452.4 129.4 466.4 127.4zM452.7 133.4L438.9 135.2 440.3 130.9 453.9 129.2zM440.3 135L427 136.6 428.5 132.3 441.7 130.7zM428.4 136.4L415.5 137.8 417.1 133.5 429.9 132.1z"/>
<path fill="#ff3521" d="M416.8 137.7L404.3 138.9 406.1 134.6 418.5 133.4z"/>
<path fill="#ff3421" d="M405.6 138.7L393.4 139.8 395.4 135.5 407.4 134.4zM394.7 139.7L382.9 140.6 384.9 136.3 396.6 135.4zM384.1 140.5L372.6 141.3 374.8 137 386.2 136.2zM373.8 141.2L362.6 141.9 364.8 137.6 376 136.9z"/>
<path fill="#ff3321" d="M363.8 141.8L352.8 142.3 355.2 138.1 366 137.5z"/>
<path fill="#ff3320" d="M354 142.3L343.3 142.7 345.7 138.4 356.3 138zM344.4 142.6L333.9 143 336.5 138.7 346.9 138.4z"/>
<path fill="#ff3220" d="M335.1 142.9L324.8 143.1 327.5 138.9 337.6 138.7zM325.9 143.1L315.9 143.2 318.6 139.1 328.5 138.9zM317 143.2L308.2 143.3 311 139.1 319.7 139z"/>
<path fill="#ff3122" d="M605.5 101.8L585 106.5 583.7 102.8 603.7 98.2zM587.1 106.1L567.6 110.3 566.7 106.5 585.8 102.3z"/>
<path fill="#ff3022" d="M569.6 109.9L551 113.8 550.4 109.8 568.7 106zM552.9 113.4L535.1 116.9 534.9 112.9 552.4 109.4zM536.9 116.6L519.9 119.8 519.9 115.7 536.7 112.5z"/>
<path fill="#ff3021" d="M521.6 119.5L505.2 122.4 505.6 118.2 521.7 115.4z"/>
<path fill="#ff2f21" d="M507 122.1L491.2 124.7 491.8 120.5 507.3 117.9zM492.9 124.5L477.7 126.8 478.5 122.6 493.4 120.3zM479.3 126.6L464.7 128.8 465.6 124.5 480.1 122.4z"/>
<path fill="#ff2e20" d="M466.2 128.5L452.1 130.5 453.2 126.2 467.2 124.3zM453.6 130.3L439.9 132 441.3 127.7 454.7 126zM441.3 131.8L428.1 133.4 429.6 129.1 442.7 127.6zM429.5 133.2L416.7 134.6 418.4 130.3 431 128.9zM418.1 134.5L405.6 135.7 407.4 131.4 419.7 130.2z"/>
<path fill="#ff2d20" d="M406.9 135.6L394.9 136.6 396.8 132.3 408.7 131.2zM396.1 136.5L384.4 137.4 386.4 133.1 398 132.2zM385.6 137.3L374.2 138.1 376.4 133.8 387.7 133z"/>
<path fill="#ff2d1f" d="M375.4 138L364.3 138.7 366.5 134.4 377.5 133.7z"/>
<path fill="#ff2c1f" d="M365.4 138.6L354.6 139.2 356.9 134.9 367.7 134.3zM355.7 139.1L345.1 139.5 347.6 135.3 358.1 134.8zM346.2 139.5L335.8 139.8 338.4 135.6 348.7 135.3zM336.9 139.8L326.8 140 329.4 135.8 339.5 135.6z"/>
<path fill="#ff2b1e" d="M327.9 140L317.9 140.1 320.6 136 330.5 135.8zM319 140.1L310.3 140.2 313.1 136 321.7 135.9z"/>
<path fill="#ff2921" d="M604.2 99.2L584 103.8 583.1 101 602.9 96.5zM586.1 103.3L566.9 107.5 566.3 104.6 585.2 100.5z"/>
<path fill="#ff2920" d="M568.9 107L550.6 110.9 550.2 107.9 568.3 104.2zM552.5 110.5L534.9 113.9 534.8 111 552.1 107.5z"/>
<path fill="#ff2820" d="M536.8 113.6L519.9 116.8 520 113.7 536.6 110.6zM521.7 116.4L505.5 119.3 505.7 116.2 521.7 113.4zM507.2 119L491.6 121.6 492.1 118.5 507.4 115.9z"/>
<path fill="#ff281f" d="M493.3 121.4L478.3 123.7 478.9 120.6 493.7 118.2z"/>
<path fill="#ff271f" d="M479.9 123.5L465.4 125.6 466.1 122.5 480.4 120.3zM466.9 125.4L452.9 127.3 453.8 124.1 467.6 122.2zM454.4 127.1L440.9 128.8 441.9 125.7 455.3 123.9zM442.3 128.7L429.2 130.2 430.4 127 443.3 125.5zM430.6 130L417.9 131.4 419.2 128.2 431.7 126.9z"/>
<path fill="#ff261f" d="M419.3 131.3L407 132.5 408.3 129.3 420.5 128.1z"/>
<path fill="#ff261e" d="M408.3 132.4L396.3 133.4 397.7 130.2 409.6 129.2zM397.6 133.3L385.9 134.2 387.4 131 399 130.1zM387.1 134.1L375.8 134.9 377.4 131.7 388.6 131zM377 134.9L365.9 135.5 367.6 132.3 378.6 131.7zM367.1 135.5L356.3 136 358.1 132.8 368.8 132.3z"/>
<path fill="#ff251e" d="M357.5 136L346.9 136.4 348.7 133.2 359.2 132.8z"/>
<path fill="#ff251d" d="M348 136.4L337.7 136.7 339.6 133.5 349.9 133.2zM338.8 136.7L328.7 136.9 330.7 133.8 340.7 133.5zM329.8 136.9L319.9 137 322 133.9 331.8 133.8z"/>
<path fill="#ff241d" d="M321 137L312.3 137.1 314.4 134 323 133.9z"/>
</g>
<polygon points="602.9,96.5 596.2,98 589.5,99.5 583,101 576.6,102.4 570.3,103.7 564.2,105.1 558.1,106.3 552.1,107.5 546.2,108.7 540.4,109.9 534.7,111 529.1,112 523.5,113.1 518.1,114.1 512.7,115 507.4,115.9 502.2,116.8 497.1,117.7 492,118.5 487,119.3 482,120.1 477.2,120.8 472.4,121.5 467.6,122.2 462.9,122.9 458.3,123.5 453.8,124.1 449.2,124.7 444.8,125.3 440.4,125.8 436,126.4 431.7,126.9 427.5,127.3 423.3,127.8 419.1,128.2 415,128.6 410.9,129 406.9,129.4 402.9,129.8 399,130.1 395.1,130.4 391.2,130.8 387.4,131 383.6,131.3 379.8,131.6 376.1,131.8 372.4,132.1 368.8,132.3 365.2,132.5 361.6,132.7 358,132.8 354.5,133 351,133.1 347.6,133.3 344.1,133.4 340.7,133.5 337.3,133.6 334,133.7 330.7,133.8 327.4,133.8 324.1,133.9 320.8,133.9 317.6,134 314.4,134 495.8,55.8" fill="#cdcdcd" stroke="none"/>
<g stroke="#151515" stroke-opacity="0.56" stroke-width="1.08" fill="none">
<polyline points="501.7,595 505.8,593.2 509.8,591.5 513.9,589.7 518,587.9 522,586.2 526.1,584.4 530.2,582.7 534.2,580.9 538.3,579.2 542.4,577.4 546.4,575.7 550.5,573.9 554.6,572.2 558.6,570.4 562.7,568.7 566.8,566.9 570.8,565.2 574.9,563.4 579,561.7 583,559.9 587.1,558.1 591.2,556.4 595.2,554.6 599.3,552.9 603.4,551.1 607.4,549.4 611.5,547.6 615.6,545.9 619.6,544.1 623.7,542.4 627.8,540.6 631.8,538.9 635.9,537.1 640,535.4 644,533.6 648.1,531.9 652.2,530.1 656.2,528.4 660.3,526.6 664.4,524.8 668.4,523.1 672.5,521.3 676.6,519.6 680.6,517.8 684.7,516.1 688.8,514.3 692.8,512.6 696.9,510.8 701,509.1 705,507.3 709.1,505.6 713.2,503.8 717.2,502.1 721.3,500.3 725.4,498.6 729.4,496.8 733.5,495 737.6,493.3 741.6,491.5 745.7,489.8 749.8,488 753.8,486.3 757.9,484.5 762,482.8 766,481 770.1,479.3 774.2,477.5 778.2,475.8 782.3,474 786.4,472.3 790.4,470.5 794.5,468.8 798.6,467 802.6,465.3 806.7,463.5 810.8,461.7 814.8,460 818.9,458.2 823,456.5 827,454.7 831.1,453 835.2,451.2 839.2,449.5 843.3,447.7 847.4,446 851.4,444.2 855.5,442.5 859.6,440.7 863.6,439 867.7,437.2 871.8,435.5 875.8,433.7 879.9,431.9 884,430.2 888,428.4 892.1,426.7"/>
<polyline points="481.9,587.4 486,585.7 490,583.9 494.1,582.2 498.2,580.4 502.2,578.7 506.3,576.9 510.4,575.2 514.4,573.4 518.5,571.7 522.6,569.9 526.6,568.2 530.7,566.4 534.8,564.7 538.8,562.9 542.9,561.1 547,559.4 551,557.6 555.1,555.9 559.2,554.1 563.2,552.4 567.3,550.6 571.4,548.9 575.4,547.1 579.5,545.4 583.6,543.6 587.6,541.9 591.7,540.1 595.8,538.4 599.8,536.6 603.9,534.9 608,533.1 612,531.4 616.1,529.6 620.2,527.8 624.2,526.1 628.3,524.3 632.4,522.6 636.4,520.8 640.5,519.1 644.6,517.3 648.6,515.6 652.7,513.8 656.8,512.1 660.8,510.3 664.9,508.6 669,506.8 673,505.1 677.1,503.3 681.2,501.6 685.2,499.8 689.3,498 693.4,496.3 697.4,494.5 701.5,492.8 705.6,491 709.6,489.3 713.7,487.5 717.8,485.8 721.8,484 725.9,482.3 730,480.5 734,478.8 738.1,477 742.2,475.3 746.2,473.5 750.3,471.8 754.4,470 758.4,468.2 762.5,466.5 766.6,464.7 770.6,463 774.7,461.2 778.8,459.5 782.8,457.7 786.9,456 791,454.2 795,452.5 799.1,450.7 803.2,449 807.2,447.2 811.3,445.5 815.4,443.7 819.4,442 823.5,440.2 827.6,438.5 831.6,436.7 835.7,434.9 839.8,433.2 843.8,431.4 847.9,429.7 852,427.9 856,426.2 860.1,424.4 864.2,422.7 868.2,420.9 872.3,419.2"/>
<polyline points="462.1,579.9 466.2,578.2 470.2,576.4 474.3,574.7 478.4,572.9 482.4,571.2 486.5,569.4 490.6,567.7 494.6,565.9 498.7,564.1 502.8,562.4 506.8,560.6 510.9,558.9 515,557.1 519,555.4 523.1,553.6 527.2,551.9 531.2,550.1 535.3,548.4 539.4,546.6 543.4,544.9 547.5,543.1 551.6,541.4 555.6,539.6 559.7,537.9 563.8,536.1 567.8,534.3 571.9,532.6 576,530.8 580,529.1 584.1,527.3 588.2,525.6 592.2,523.8 596.3,522.1 600.4,520.3 604.4,518.6 608.5,516.8 612.6,515.1 616.6,513.3 620.7,511.6 624.8,509.8 628.8,508.1 632.9,506.3 637,504.5 641,502.8 645.1,501 649.2,499.3 653.2,497.5 657.3,495.8 661.4,494 665.4,492.3 669.5,490.5 673.6,488.8 677.6,487 681.7,485.3 685.8,483.5 689.8,481.8 693.9,480 698,478.3 702,476.5 706.1,474.7 710.2,473 714.2,471.2 718.3,469.5 722.4,467.7 726.4,466 730.5,464.2 734.6,462.5 738.6,460.7 742.7,459 746.8,457.2 750.8,455.5 754.9,453.7 759,452 763,450.2 767.1,448.5 771.2,446.7 775.2,444.9 779.3,443.2 783.4,441.4 787.4,439.7 791.5,437.9 795.6,436.2 799.6,434.4 803.7,432.7 807.8,430.9 811.8,429.2 815.9,427.4 820,425.7 824,423.9 828.1,422.2 832.2,420.4 836.2,418.7 840.3,416.9 844.4,415.2 848.4,413.4 852.5,411.6"/>
<polyline points="442.3,572.4 446.4,570.6 450.5,568.9 454.5,567.1 458.6,565.4 462.7,563.6 466.7,561.9 470.8,560.1 474.9,558.4 478.9,556.6 483,554.9 487,553.1 491.1,551.3 495.2,549.6 499.2,547.8 503.3,546.1 507.4,544.3 511.4,542.6 515.5,540.8 519.6,539.1 523.6,537.3 527.7,535.6 531.8,533.8 535.8,532 539.9,530.3 544,528.5 548,526.8 552.1,525 556.2,523.3 560.2,521.5 564.3,519.8 568.4,518 572.4,516.2 576.5,514.5 580.6,512.7 584.6,511 588.7,509.2 592.8,507.5 596.8,505.7 600.9,504 605,502.2 609,500.5 613.1,498.7 617.2,496.9 621.2,495.2 625.3,493.4 629.4,491.7 633.4,489.9 637.5,488.2 641.6,486.4 645.6,484.7 649.7,482.9 653.8,481.2 657.8,479.4 661.9,477.6 666,475.9 670,474.1 674.1,472.4 678.2,470.6 682.2,468.9 686.3,467.1 690.4,465.4 694.4,463.6 698.5,461.8 702.6,460.1 706.6,458.3 710.7,456.6 714.8,454.8 718.8,453.1 722.9,451.3 727,449.6 731,447.8 735.1,446.1 739.2,444.3 743.2,442.5 747.3,440.8 751.4,439 755.4,437.3 759.5,435.5 763.6,433.8 767.6,432 771.7,430.3 775.8,428.5 779.8,426.8 783.9,425 788,423.2 792,421.5 796.1,419.7 800.2,418 804.2,416.2 808.3,414.5 812.4,412.7 816.4,411 820.5,409.2 824.6,407.4 828.6,405.7 832.7,403.9"/>
<polyline points="422.5,564.9 426.6,563.1 430.7,561.4 434.7,559.6 438.8,557.8 442.9,556.1 446.9,554.3 451,552.5 455.1,550.8 459.1,549 463.2,547.2 467.3,545.5 471.3,543.7 475.4,541.9 479.5,540.2 483.5,538.4 487.6,536.6 491.7,534.9 495.7,533.1 499.8,531.3 503.9,529.6 507.9,527.8 512,526 516.1,524.3 520.1,522.5 524.2,520.7 528.3,519 532.3,517.2 536.4,515.4 540.5,513.7 544.5,511.9 548.6,510.1 552.7,508.4 556.7,506.6 560.8,504.8 564.9,503.1 568.9,501.3 573,499.5 577.1,497.8 581.1,496 585.2,494.2 589.3,492.5 593.3,490.7 597.4,488.9 601.4,487.2 605.5,485.4 609.6,483.6 613.6,481.9 617.7,480.1 621.8,478.3 625.8,476.6 629.9,474.8 634,473 638,471.3 642.1,469.5 646.2,467.7 650.2,466 654.3,464.2 658.4,462.4 662.4,460.7 666.5,458.9 670.6,457.1 674.6,455.4 678.7,453.6 682.8,451.8 686.8,450.1 690.9,448.3 695,446.5 699,444.8 703.1,443 707.2,441.2 711.2,439.5 715.3,437.7 719.4,435.9 723.4,434.2 727.5,432.4 731.6,430.6 735.6,428.9 739.7,427.1 743.8,425.3 747.8,423.6 751.9,421.8 756,420 760,418.3 764.1,416.5 768.2,414.7 772.2,413 776.3,411.2 780.4,409.4 784.4,407.7 788.5,405.9 792.6,404.1 796.6,402.4 800.7,400.6 804.8,398.9 808.8,397.1 812.9,395.3"/>
<polyline points="402.7,557.4 406.8,555.6 410.9,553.8 414.9,552 419,550.2 423.1,548.4 427.1,546.6 431.2,544.8 435.3,543 439.3,541.2 443.4,539.4 447.5,537.6 451.5,535.8 455.6,534 459.7,532.2 463.7,530.4 467.8,528.6 471.9,526.8 475.9,525 480,523.2 484.1,521.4 488.1,519.6 492.2,517.8 496.3,516 500.3,514.2 504.4,512.4 508.5,510.6 512.5,508.8 516.6,507 520.7,505.2 524.7,503.4 528.8,501.6 532.9,499.8 536.9,498 541,496.2 545.1,494.4 549.1,492.6 553.2,490.7 557.3,488.9 561.3,487.1 565.4,485.3 569.5,483.5 573.5,481.7 577.6,479.9 581.7,478.1 585.7,476.3 589.8,474.5 593.9,472.7 597.9,470.9 602,469.1 606.1,467.3 610.1,465.5 614.2,463.7 618.3,461.9 622.3,460.1 626.4,458.3 630.5,456.5 634.5,454.7 638.6,452.9 642.6,451.1 646.7,449.3 650.8,447.5 654.8,445.7 658.9,443.9 663,442.1 667,440.3 671.1,438.5 675.2,436.7 679.2,434.9 683.3,433.1 687.4,431.3 691.4,429.5 695.5,427.7 699.6,425.9 703.6,424.1 707.7,422.3 711.8,420.5 715.8,418.7 719.9,416.9 724,415.1 728,413.3 732.1,411.5 736.2,409.7 740.2,407.9 744.3,406.1 748.4,404.3 752.4,402.5 756.5,400.7 760.6,398.9 764.6,397.1 768.7,395.3 772.8,393.5 776.8,391.7 780.9,389.9 785,388.1 789,386.3 793.1,384.5"/>
<polyline points="382.9,549.8 387,548 391.1,546.1 395.1,544.2 399.2,542.4 403.3,540.5 407.3,538.6 411.4,536.8 415.5,534.9 419.5,533 423.6,531.1 427.7,529.3 431.7,527.4 435.8,525.5 439.9,523.7 443.9,521.8 448,519.9 452.1,518.1 456.1,516.2 460.2,514.3 464.3,512.4 468.3,510.6 472.4,508.7 476.5,506.8 480.5,505 484.6,503.1 488.7,501.2 492.7,499.4 496.8,497.5 500.9,495.6 504.9,493.7 509,491.9 513.1,490 517.1,488.1 521.2,486.3 525.3,484.4 529.3,482.5 533.4,480.7 537.5,478.8 541.5,476.9 545.6,475 549.7,473.2 553.7,471.3 557.8,469.4 561.9,467.6 565.9,465.7 570,463.8 574.1,462 578.1,460.1 582.2,458.2 586.3,456.3 590.3,454.5 594.4,452.6 598.5,450.7 602.5,448.9 606.6,447 610.6,445.1 614.7,443.3 618.8,441.4 622.8,439.5 626.9,437.6 631,435.8 635,433.9 639.1,432 643.2,430.2 647.2,428.3 651.3,426.4 655.4,424.6 659.4,422.7 663.5,420.8 667.6,418.9 671.6,417.1 675.7,415.2 679.8,413.3 683.8,411.5 687.9,409.6 692,407.7 696,405.9 700.1,404 704.2,402.1 708.2,400.2 712.3,398.4 716.4,396.5 720.4,394.6 724.5,392.8 728.6,390.9 732.6,389 736.7,387.2 740.8,385.3 744.8,383.4 748.9,381.5 753,379.7 757,377.8 761.1,375.9 765.2,374.1 769.2,372.2 773.3,370.3"/>
<polyline points="363.1,542.3 367.2,540.3 371.3,538.4 375.3,536.4 379.4,534.4 383.5,532.4 387.5,530.4 391.6,528.4 395.7,526.5 399.7,524.5 403.8,522.5 407.9,520.5 411.9,518.5 416,516.6 420.1,514.6 424.1,512.6 428.2,510.6 432.3,508.6 436.3,506.6 440.4,504.7 444.5,502.7 448.5,500.7 452.6,498.7 456.7,496.7 460.7,494.7 464.8,492.8 468.9,490.8 472.9,488.8 477,486.8 481.1,484.8 485.1,482.8 489.2,480.9 493.3,478.9 497.3,476.9 501.4,474.9 505.5,472.9 509.5,470.9 513.6,469 517.7,467 521.7,465 525.8,463 529.9,461 533.9,459 538,457.1 542.1,455.1 546.1,453.1 550.2,451.1 554.2,449.1 558.3,447.1 562.4,445.2 566.4,443.2 570.5,441.2 574.6,439.2 578.6,437.2 582.7,435.2 586.8,433.3 590.8,431.3 594.9,429.3 599,427.3 603,425.3 607.1,423.3 611.2,421.4 615.2,419.4 619.3,417.4 623.4,415.4 627.4,413.4 631.5,411.4 635.6,409.5 639.6,407.5 643.7,405.5 647.8,403.5 651.8,401.5 655.9,399.6 660,397.6 664,395.6 668.1,393.6 672.2,391.6 676.2,389.6 680.3,387.7 684.4,385.7 688.4,383.7 692.5,381.7 696.6,379.7 700.6,377.7 704.7,375.8 708.8,373.8 712.8,371.8 716.9,369.8 721,367.8 725,365.8 729.1,363.9 733.2,361.9 737.2,359.9 741.3,357.9 745.4,355.9 749.4,353.9 753.5,352"/>
<polyline points="343.3,534.8 347.4,532.7 351.5,530.5 355.5,528.4 359.6,526.2 363.7,524.1 367.7,522 371.8,519.8 375.9,517.7 379.9,515.5 384,513.4 388.1,511.2 392.1,509.1 396.2,507 400.3,504.8 404.3,502.7 408.4,500.5 412.5,498.4 416.5,496.3 420.6,494.1 424.7,492 428.7,489.8 432.8,487.7 436.9,485.5 440.9,483.4 445,481.3 449.1,479.1 453.1,477 457.2,474.8 461.3,472.7 465.3,470.6 469.4,468.4 473.5,466.3 477.5,464.1 481.6,462 485.7,459.8 489.7,457.7 493.8,455.6 497.8,453.4 501.9,451.3 506,449.1 510,447 514.1,444.8 518.2,442.7 522.2,440.6 526.3,438.4 530.4,436.3 534.4,434.1 538.5,432 542.6,429.9 546.6,427.7 550.7,425.6 554.8,423.4 558.8,421.3 562.9,419.1 567,417 571,414.9 575.1,412.7 579.2,410.6 583.2,408.4 587.3,406.3 591.4,404.1 595.4,402 599.5,399.9 603.6,397.7 607.6,395.6 611.7,393.4 615.8,391.3 619.8,389.2 623.9,387 628,384.9 632,382.7 636.1,380.6 640.2,378.4 644.2,376.3 648.3,374.2 652.3,372 656.4,369.9 660.5,367.7 664.5,365.6 668.6,363.4 672.7,361.3 676.7,359.2 680.8,357 684.9,354.9 688.9,352.7 693,350.6 697.1,348.5 701.1,346.3 705.2,344.2 709.3,342 713.3,339.9 717.4,337.7 721.5,335.6 725.5,333.5 729.6,331.3 733.7,329.2"/>
<polyline points="323.6,527.3 327.6,524.9 331.7,522.6 335.8,520.3 339.8,517.9 343.9,515.6 347.9,513.2 352,510.9 356.1,508.5 360.1,506.2 364.2,503.8 368.3,501.5 372.3,499.2 376.4,496.8 380.5,494.5 384.5,492.1 388.6,489.8 392.7,487.4 396.7,485.1 400.8,482.7 404.9,480.4 408.9,478 413,475.7 417.1,473.4 421.1,471 425.2,468.7 429.3,466.3 433.3,464 437.4,461.6 441.5,459.3 445.5,456.9 449.6,454.6 453.6,452.2 457.7,449.9 461.8,447.6 465.8,445.2 469.9,442.9 474,440.5 478,438.2 482.1,435.8 486.2,433.5 490.2,431.1 494.3,428.8 498.4,426.5 502.4,424.1 506.5,421.8 510.6,419.4 514.6,417.1 518.7,414.7 522.8,412.4 526.8,410 530.9,407.7 535,405.3 539,403 543.1,400.7 547.2,398.3 551.2,396 555.3,393.6 559.4,391.3 563.4,388.9 567.5,386.6 571.5,384.2 575.6,381.9 579.7,379.5 583.7,377.2 587.8,374.9 591.9,372.5 595.9,370.2 600,367.8 604.1,365.5 608.1,363.1 612.2,360.8 616.3,358.4 620.3,356.1 624.4,353.7 628.5,351.4 632.5,349.1 636.6,346.7 640.7,344.4 644.7,342 648.8,339.7 652.9,337.3 656.9,335 661,332.6 665.1,330.3 669.1,328 673.2,325.6 677.2,323.3 681.3,320.9 685.4,318.6 689.4,316.2 693.5,313.9 697.6,311.5 701.6,309.2 705.7,306.8 709.8,304.5 713.8,302.2"/>
<polyline points="303.8,519.8 307.8,517.2 311.9,514.6 316,512 320,509.4 324.1,506.8 328.2,504.2 332.2,501.7 336.3,499.1 340.3,496.5 344.4,493.9 348.5,491.3 352.5,488.7 356.6,486.1 360.7,483.5 364.7,481 368.8,478.4 372.9,475.8 376.9,473.2 381,470.6 385.1,468 389.1,465.4 393.2,462.8 397.3,460.2 401.3,457.7 405.4,455.1 409.5,452.5 413.5,449.9 417.6,447.3 421.6,444.7 425.7,442.1 429.8,439.5 433.8,437 437.9,434.4 442,431.8 446,429.2 450.1,426.6 454.2,424 458.2,421.4 462.3,418.8 466.4,416.3 470.4,413.7 474.5,411.1 478.6,408.5 482.6,405.9 486.7,403.3 490.8,400.7 494.8,398.1 498.9,395.5 502.9,393 507,390.4 511.1,387.8 515.1,385.2 519.2,382.6 523.3,380 527.3,377.4 531.4,374.8 535.5,372.3 539.5,369.7 543.6,367.1 547.7,364.5 551.7,361.9 555.8,359.3 559.9,356.7 563.9,354.1 568,351.5 572.1,349 576.1,346.4 580.2,343.8 584.2,341.2 588.3,338.6 592.4,336 596.4,333.4 600.5,330.8 604.6,328.3 608.6,325.7 612.7,323.1 616.8,320.5 620.8,317.9 624.9,315.3 629,312.7 633,310.1 637.1,307.5 641.2,305 645.2,302.4 649.3,299.8 653.4,297.2 657.4,294.6 661.5,292 665.5,289.4 669.6,286.8 673.7,284.3 677.7,281.7 681.8,279.1 685.9,276.5 689.9,273.9 694,271.3"/>
<polyline points="284,512.3 288,509.4 292.1,506.5 296.2,503.7 300.2,500.8 304.3,497.9 308.4,495.1 312.4,492.2 316.5,489.3 320.5,486.5 324.6,483.6 328.7,480.7 332.7,477.9 336.8,475 340.9,472.1 344.9,469.3 349,466.4 353.1,463.6 357.1,460.7 361.2,457.8 365.3,455 369.3,452.1 373.4,449.2 377.5,446.4 381.5,443.5 385.6,440.6 389.6,437.8 393.7,434.9 397.8,432 401.8,429.2 405.9,426.3 410,423.4 414,420.6 418.1,417.7 422.2,414.8 426.2,412 430.3,409.1 434.4,406.2 438.4,403.4 442.5,400.5 446.5,397.7 450.6,394.8 454.7,391.9 458.7,389.1 462.8,386.2 466.9,383.3 470.9,380.5 475,377.6 479.1,374.7 483.1,371.9 487.2,369 491.3,366.1 495.3,363.3 499.4,360.4 503.5,357.5 507.5,354.7 511.6,351.8 515.6,348.9 519.7,346.1 523.8,343.2 527.8,340.4 531.9,337.5 536,334.6 540,331.8 544.1,328.9 548.2,326 552.2,323.2 556.3,320.3 560.4,317.4 564.4,314.6 568.5,311.7 572.5,308.8 576.6,306 580.7,303.1 584.7,300.2 588.8,297.4 592.9,294.5 596.9,291.6 601,288.8 605.1,285.9 609.1,283 613.2,280.2 617.3,277.3 621.3,274.5 625.4,271.6 629.4,268.7 633.5,265.9 637.6,263 641.6,260.1 645.7,257.3 649.8,254.4 653.8,251.5 657.9,248.7 662,245.8 666,242.9 670.1,240.1 674.2,237.2"/>
<polyline points="264.2,504.7 268.2,501.6 272.3,498.4 276.4,495.2 280.4,492.1 284.5,488.9 288.6,485.7 292.6,482.5 296.7,479.4 300.7,476.2 304.8,473 308.9,469.9 312.9,466.7 317,463.5 321.1,460.4 325.1,457.2 329.2,454 333.3,450.8 337.3,447.7 341.4,444.5 345.5,441.3 349.5,438.2 353.6,435 357.6,431.8 361.7,428.7 365.8,425.5 369.8,422.3 373.9,419.1 378,416 382,412.8 386.1,409.6 390.2,406.5 394.2,403.3 398.3,400.1 402.3,397 406.4,393.8 410.5,390.6 414.5,387.4 418.6,384.3 422.7,381.1 426.7,377.9 430.8,374.8 434.9,371.6 438.9,368.4 443,365.3 447.1,362.1 451.1,358.9 455.2,355.7 459.2,352.6 463.3,349.4 467.4,346.2 471.4,343.1 475.5,339.9 479.6,336.7 483.6,333.6 487.7,330.4 491.8,327.2 495.8,324 499.9,320.9 503.9,317.7 508,314.5 512.1,311.4 516.1,308.2 520.2,305 524.3,301.9 528.3,298.7 532.4,295.5 536.5,292.3 540.5,289.2 544.6,286 548.6,282.8 552.7,279.7 556.8,276.5 560.8,273.3 564.9,270.2 569,267 573,263.8 577.1,260.6 581.2,257.5 585.2,254.3 589.3,251.1 593.4,248 597.4,244.8 601.5,241.6 605.5,238.5 609.6,235.3 613.7,232.1 617.7,228.9 621.8,225.8 625.9,222.6 629.9,219.4 634,216.3 638.1,213.1 642.1,209.9 646.2,206.8 650.2,203.6 654.3,200.4"/>
<polyline points="244.4,497.2 248.4,493.7 252.5,490.2 256.6,486.7 260.6,483.2 264.7,479.7 268.8,476.2 272.8,472.7 276.9,469.2 280.9,465.7 285,462.2 289.1,458.8 293.1,455.3 297.2,451.8 301.3,448.3 305.3,444.8 309.4,441.3 313.5,437.8 317.5,434.3 321.6,430.8 325.6,427.3 329.7,423.8 333.8,420.3 337.8,416.8 341.9,413.3 346,409.8 350,406.3 354.1,402.8 358.2,399.3 362.2,395.8 366.3,392.3 370.3,388.8 374.4,385.3 378.5,381.8 382.5,378.3 386.6,374.8 390.7,371.3 394.7,367.8 398.8,364.3 402.9,360.8 406.9,357.3 411,353.8 415,350.3 419.1,346.8 423.2,343.3 427.2,339.8 431.3,336.3 435.4,332.9 439.4,329.4 443.5,325.9 447.5,322.4 451.6,318.9 455.7,315.4 459.7,311.9 463.8,308.4 467.9,304.9 471.9,301.4 476,297.9 480.1,294.4 484.1,290.9 488.2,287.4 492.2,283.9 496.3,280.4 500.4,276.9 504.4,273.4 508.5,269.9 512.6,266.4 516.6,262.9 520.7,259.4 524.8,255.9 528.8,252.4 532.9,248.9 536.9,245.4 541,241.9 545.1,238.4 549.1,234.9 553.2,231.4 557.3,227.9 561.3,224.4 565.4,220.9 569.4,217.4 573.5,213.9 577.6,210.4 581.6,207 585.7,203.5 589.8,200 593.8,196.5 597.9,193 602,189.5 606,186 610.1,182.5 614.1,179 618.2,175.5 622.3,172 626.3,168.5 630.4,165 634.5,161.5"/>
<polyline points="224.6,489.7 228.6,485.9 232.7,482 236.8,478.2 240.8,474.3 244.9,470.5 249,466.7 253,462.8 257.1,459 261.1,455.1 265.2,451.3 269.3,447.4 273.3,443.6 277.4,439.8 281.5,435.9 285.5,432.1 289.6,428.2 293.7,424.4 297.7,420.6 301.8,416.7 305.8,412.9 309.9,409 314,405.2 318,401.4 322.1,397.5 326.2,393.7 330.2,389.8 334.3,386 338.3,382.1 342.4,378.3 346.5,374.5 350.5,370.6 354.6,366.8 358.7,362.9 362.7,359.1 366.8,355.3 370.8,351.4 374.9,347.6 379,343.7 383,339.9 387.1,336.1 391.2,332.2 395.2,328.4 399.3,324.5 403.3,320.7 407.4,316.8 411.5,313 415.5,309.2 419.6,305.3 423.7,301.5 427.7,297.6 431.8,293.8 435.8,290 439.9,286.1 444,282.3 448,278.4 452.1,274.6 456.2,270.8 460.2,266.9 464.3,263.1 468.4,259.2 472.4,255.4 476.5,251.5 480.5,247.7 484.6,243.9 488.7,240 492.7,236.2 496.8,232.3 500.9,228.5 504.9,224.7 509,220.8 513,217 517.1,213.1 521.2,209.3 525.2,205.4 529.3,201.6 533.4,197.8 537.4,193.9 541.5,190.1 545.5,186.2 549.6,182.4 553.7,178.6 557.7,174.7 561.8,170.9 565.9,167 569.9,163.2 574,159.4 578,155.5 582.1,151.7 586.2,147.8 590.2,144 594.3,140.1 598.4,136.3 602.4,132.5 606.5,128.6 610.5,124.8 614.6,120.9"/>
<polyline points="204.8,482.2 208.9,478 212.9,473.8 217,469.6 221,465.4 225.1,461.2 229.2,457 233.2,452.8 237.3,448.6 241.3,444.4 245.4,440.2 249.5,436 253.5,431.8 257.6,427.6 261.7,423.4 265.7,419.2 269.8,415 273.8,410.8 277.9,406.6 282,402.4 286,398.2 290.1,394 294.2,389.8 298.2,385.6 302.3,381.4 306.3,377.2 310.4,373 314.5,368.9 318.5,364.7 322.6,360.5 326.7,356.3 330.7,352.1 334.8,347.9 338.8,343.7 342.9,339.5 347,335.3 351,331.1 355.1,326.9 359.2,322.7 363.2,318.5 367.3,314.3 371.3,310.1 375.4,305.9 379.5,301.7 383.5,297.5 387.6,293.3 391.6,289.1 395.7,284.9 399.8,280.7 403.8,276.5 407.9,272.3 412,268.1 416,263.9 420.1,259.7 424.1,255.5 428.2,251.3 432.3,247.1 436.3,242.9 440.4,238.7 444.5,234.5 448.5,230.3 452.6,226.1 456.6,221.9 460.7,217.7 464.8,213.5 468.8,209.3 472.9,205.1 477,201 481,196.8 485.1,192.6 489.1,188.4 493.2,184.2 497.3,180 501.3,175.8 505.4,171.6 509.4,167.4 513.5,163.2 517.6,159 521.6,154.8 525.7,150.6 529.8,146.4 533.8,142.2 537.9,138 541.9,133.8 546,129.6 550.1,125.4 554.1,121.2 558.2,117 562.3,112.8 566.3,108.6 570.4,104.4 571.2,103.6"/>
<polyline points="185,474.7 189.1,470.1 193.1,465.5 197.2,461 201.2,456.4 205.3,451.9 209.4,447.3 213.4,442.7 217.5,438.2 221.6,433.6 225.6,429 229.7,424.5 233.7,419.9 237.8,415.4 241.9,410.8 245.9,406.2 250,401.7 254,397.1 258.1,392.5 262.2,388 266.2,383.4 270.3,378.9 274.3,374.3 278.4,369.7 282.5,365.2 286.5,360.6 290.6,356.1 294.7,351.5 298.7,346.9 302.8,342.4 306.8,337.8 310.9,333.2 315,328.7 319,324.1 323.1,319.6 327.1,315 331.2,310.4 335.3,305.9 339.3,301.3 343.4,296.7 347.5,292.2 351.5,287.6 355.6,283.1 359.6,278.5 363.7,273.9 367.8,269.4 371.8,264.8 375.9,260.3 379.9,255.7 384,251.1 388.1,246.6 392.1,242 396.2,237.4 400.3,232.9 404.3,228.3 408.4,223.8 412.4,219.2 416.5,214.6 420.6,210.1 424.6,205.5 428.7,200.9 432.7,196.4 436.8,191.8 440.9,187.3 444.9,182.7 449,178.1 453.1,173.6 457.1,169 461.2,164.5 465.2,159.9 469.3,155.3 473.4,150.8 477.4,146.2 481.5,141.6 485.5,137.1 489.6,132.5 493.7,128 497.7,123.4 501.8,118.8 503.8,116.6"/>
<polyline points="165.2,467.1 169.3,462.2 173.3,457.3 177.4,452.4 181.4,447.4 185.5,442.5 189.6,437.6 193.6,432.6 197.7,427.7 201.8,422.8 205.8,417.8 209.9,412.9 213.9,408 218,403 222.1,398.1 226.1,393.2 230.2,388.2 234.2,383.3 238.3,378.4 242.4,373.5 246.4,368.5 250.5,363.6 254.5,358.7 258.6,353.7 262.7,348.8 266.7,343.9 270.8,338.9 274.8,334 278.9,329.1 283,324.1 287,319.2 291.1,314.3 295.1,309.3 299.2,304.4 303.3,299.5 307.3,294.6 311.4,289.6 315.5,284.7 319.5,279.8 323.6,274.8 327.6,269.9 331.7,265 335.8,260 339.8,255.1 343.9,250.2 347.9,245.2 352,240.3 356.1,235.4 360.1,230.4 364.2,225.5 368.2,220.6 372.3,215.6 376.4,210.7 380.4,205.8 384.5,200.9 388.5,195.9 392.6,191 396.7,186.1 400.7,181.1 404.8,176.2 408.9,171.3 412.9,166.3 417,161.4 421,156.5 425.1,151.5 429.2,146.6 433.2,141.7 437.3,136.7 441.3,131.8 445.4,126.9 446.9,125"/>
<polyline points="145.4,459.6 149.5,454.3 153.5,449 157.6,443.7 161.6,438.4 165.7,433.1 169.8,427.8 173.8,422.5 177.9,417.2 182,411.9 186,406.6 190.1,401.3 194.1,396 198.2,390.7 202.3,385.4 206.3,380.1 210.4,374.8 214.4,369.5 218.5,364.2 222.6,358.9 226.6,353.6 230.7,348.3 234.7,343 238.8,337.7 242.9,332.4 246.9,327.1 251,321.8 255,316.5 259.1,311.2 263.2,305.8 267.2,300.5 271.3,295.2 275.3,289.9 279.4,284.6 283.5,279.3 287.5,274 291.6,268.7 295.6,263.4 299.7,258.1 303.8,252.8 307.8,247.5 311.9,242.2 315.9,236.9 320,231.6 324.1,226.3 328.1,221 332.2,215.7 336.2,210.4 340.3,205.1 344.4,199.8 348.4,194.5 352.5,189.2 356.5,183.9 360.6,178.6 364.7,173.3 368.7,168 372.8,162.7 376.8,157.4 380.9,152.1 385,146.8 389,141.5 393.1,136.2 397.1,130.9 397.6,130.2"/>
<polyline points="125.6,452.1 129.7,446.4 133.7,440.8 137.8,435.1 141.9,429.4 145.9,423.7 150,418.1 154,412.4 158.1,406.7 162.2,401 166.2,395.4 170.3,389.7 174.3,384 178.4,378.3 182.4,372.7 186.5,367 190.6,361.3 194.6,355.7 198.7,350 202.7,344.3 206.8,338.6 210.9,333 214.9,327.3 219,321.6 223,315.9 227.1,310.3 231.2,304.6 235.2,298.9 239.3,293.2 243.3,287.6 247.4,281.9 251.5,276.2 255.5,270.5 259.6,264.9 263.6,259.2 267.7,253.5 271.8,247.8 275.8,242.2 279.9,236.5 283.9,230.8 288,225.1 292.1,219.5 296.1,213.8 300.2,208.1 304.2,202.5 308.3,196.8 312.4,191.1 316.4,185.4 320.5,179.8 324.5,174.1 328.6,168.4 332.6,162.7 336.7,157.1 340.8,151.4 344.8,145.7 348.9,140 352.9,134.4 353.9,133"/>
<polyline points="540.1,594.5 535.8,592.8 531.4,591.2 527.1,589.5 522.8,587.9 518.4,586.2 514.1,584.6 509.8,583 505.4,581.3 501.1,579.7 496.8,578 492.5,576.4 488.1,574.7 483.8,573.1 479.5,571.4 475.1,569.8 470.8,568.1 466.5,566.5 462.1,564.9 457.8,563.2 453.5,561.6 449.2,559.9 444.8,558.2 440.5,556.6 436.2,554.9 431.8,553.2 427.5,551.5 423.2,549.9 418.8,548.2 414.5,546.5 410.2,544.8 405.9,543 401.5,541.3 397.2,539.6 392.9,537.8 388.5,536.1 384.2,534.3 379.9,532.5 375.5,530.7 371.2,528.9 366.9,527.1 362.6,525.3 358.2,523.5 353.9,521.6 349.6,519.8 345.2,517.9 340.9,516 336.6,514.2 332.2,512.3 327.9,510.4 323.6,508.5 319.3,506.6 314.9,504.7 310.6,502.7 306.3,500.8 301.9,498.9 297.6,496.9 293.3,495 288.9,493 284.6,491.1 280.3,489.1 275.9,487.2 271.6,485.2 267.3,483.2 263,481.2 258.6,479.3 254.3,477.3 250,475.3 245.6,473.3 241.3,471.3 237,469.3 232.6,467.3 228.3,465.3 224,463.3 219.6,461.3 215.3,459.3 211,457.3 206.7,455.2 202.3,453.2 198,451.2 193.7,449.2 189.3,447.2 185,445.2 180.7,443.2 176.3,441.1 172,439.1 167.7,437.1 163.4,435.1 159,433.1 154.7,431.1 150.4,429.1 146,427 141.7,425 137.4,423 133,421 128.7,419 124.4,417"/>
<polyline points="558.7,586.5 554.3,584.8 550,583.2 545.7,581.5 541.4,579.9 537,578.2 532.7,576.6 528.4,574.9 524,573.3 519.7,571.6 515.4,570 511,568.4 506.7,566.7 502.4,565.1 498.1,563.4 493.7,561.8 489.4,560.1 485.1,558.5 480.7,556.8 476.4,555.2 472.1,553.5 467.7,551.9 463.4,550.2 459.1,548.5 454.8,546.8 450.4,545.1 446.1,543.4 441.8,541.7 437.4,539.9 433.1,538.1 428.8,536.4 424.4,534.6 420.1,532.8 415.8,530.9 411.5,529.1 407.1,527.2 402.8,525.3 398.5,523.4 394.1,521.4 389.8,519.5 385.5,517.5 381.1,515.5 376.8,513.5 372.5,511.5 368.1,509.4 363.8,507.3 359.5,505.3 355.2,503.1 350.8,501 346.5,498.9 342.2,496.7 337.8,494.6 333.5,492.4 329.2,490.2 324.8,488 320.5,485.7 316.2,483.5 311.8,481.3 307.5,479 303.2,476.7 298.9,474.5 294.5,472.2 290.2,469.9 285.9,467.6 281.5,465.2 277.2,462.9 272.9,460.6 268.5,458.3 264.2,455.9 259.9,453.6 255.5,451.2 251.2,448.9 246.9,446.5 242.5,444.1 238.2,441.8 233.9,439.4 229.6,437 225.2,434.7 220.9,432.3 216.6,429.9 212.2,427.5 207.9,425.1 203.6,422.7 199.2,420.4 194.9,418 190.6,415.6 186.2,413.2 181.9,410.8 177.6,408.4 173.2,406 168.9,403.6 164.6,401.3 160.3,398.9 155.9,396.5 151.6,394.1 147.3,391.7 142.9,389.3"/>
<polyline points="577.3,578.4 572.9,576.8 568.6,575.1 564.3,573.5 559.9,571.9 555.6,570.2 551.3,568.6 547,566.9 542.6,565.3 538.3,563.6 534,562 529.6,560.3 525.3,558.7 521,557.1 516.6,555.4 512.3,553.8 508,552.1 503.7,550.5 499.3,548.8 495,547.2 490.7,545.5 486.3,543.8 482,542.1 477.7,540.4 473.3,538.7 469,537 464.7,535.2 460.4,533.4 456,531.6 451.7,529.8 447.4,528 443,526.1 438.7,524.2 434.4,522.3 430,520.3 425.7,518.3 421.4,516.3 417.1,514.3 412.7,512.2 408.4,510.1 404.1,507.9 399.7,505.7 395.4,503.5 391.1,501.3 386.7,499.1 382.4,496.8 378.1,494.5 373.7,492.1 369.4,489.8 365.1,487.4 360.7,485 356.4,482.5 352.1,480.1 347.8,477.6 343.4,475.1 339.1,472.6 334.8,470.1 330.4,467.5 326.1,465 321.8,462.4 317.4,459.8 313.1,457.2 308.8,454.5 304.4,451.9 300.1,449.3 295.8,446.6 291.4,443.9 287.1,441.3 282.8,438.6 278.4,435.9 274.1,433.2 269.8,430.4 265.5,427.7 261.1,425 256.8,422.3 252.5,419.5 248.1,416.8 243.8,414.1 239.5,411.3 235.1,408.6 230.8,405.8 226.5,403.1 222.1,400.3 217.8,397.5 213.5,394.8 209.1,392 204.8,389.3 200.5,386.5 196.1,383.8 191.8,381 187.5,378.2 183.1,375.5 178.8,372.7 174.5,370 170.1,367.2 165.8,364.5 161.5,361.7"/>
<polyline points="595.9,570.4 591.5,568.8 587.2,567.1 582.9,565.5 578.5,563.8 574.2,562.2 569.9,560.6 565.5,558.9 561.2,557.3 556.9,555.6 552.6,554 548.2,552.3 543.9,550.7 539.6,549 535.2,547.4 530.9,545.8 526.6,544.1 522.2,542.4 517.9,540.8 513.6,539.1 509.3,537.4 504.9,535.8 500.6,534.1 496.3,532.3 491.9,530.6 487.6,528.8 483.3,527 478.9,525.2 474.6,523.4 470.3,521.5 466,519.6 461.6,517.6 457.3,515.7 453,513.6 448.6,511.6 444.3,509.5 440,507.3 435.6,505.1 431.3,502.9 427,500.6 422.6,498.3 418.3,496 414,493.6 409.7,491.2 405.3,488.7 401,486.2 396.7,483.7 392.3,481.1 388,478.5 383.7,475.9 379.3,473.2 375,470.5 370.7,467.8 366.3,465 362,462.3 357.7,459.5 353.3,456.6 349,453.8 344.7,450.9 340.3,448 336,445.1 331.7,442.2 327.3,439.2 323,436.3 318.7,433.3 314.3,430.3 310,427.3 305.7,424.2 301.4,421.2 297,418.2 292.7,415.1 288.4,412 284,409 279.7,405.9 275.4,402.8 271,399.7 266.7,396.6 262.4,393.5 258,390.4 253.7,387.2 249.4,384.1 245,381 240.7,377.9 236.4,374.7 232,371.6 227.7,368.5 223.4,365.3 219,362.2 214.7,359.1 210.4,356 206,352.8 201.7,349.7 197.4,346.6 193,343.4 188.7,340.3 184.4,337.2 180,334.1"/>
<polyline points="614.4,562.4 610.1,560.8 605.8,559.1 601.5,557.5 597.1,555.8 592.8,554.2 588.5,552.5 584.1,550.9 579.8,549.3 575.5,547.6 571.1,546 566.8,544.3 562.5,542.7 558.2,541 553.8,539.4 549.5,537.7 545.2,536.1 540.8,534.4 536.5,532.8 532.2,531.1 527.8,529.4 523.5,527.7 519.2,526 514.9,524.3 510.5,522.5 506.2,520.7 501.9,518.9 497.5,517 493.2,515.1 488.9,513.2 484.5,511.2 480.2,509.2 475.9,507.1 471.5,505 467.2,502.8 462.9,500.6 458.6,498.3 454.2,496 449.9,493.6 445.6,491.2 441.2,488.7 436.9,486.2 432.6,483.6 428.2,481 423.9,478.4 419.6,475.7 415.2,472.9 410.9,470.1 406.6,467.3 402.2,464.4 397.9,461.5 393.6,458.5 389.2,455.5 384.9,452.5 380.6,449.4 376.3,446.3 371.9,443.2 367.6,440 363.3,436.9 358.9,433.7 354.6,430.4 350.3,427.2 345.9,423.9 341.6,420.6 337.3,417.3 332.9,413.9 328.6,410.6 324.3,407.2 319.9,403.8 315.6,400.4 311.3,397 306.9,393.6 302.6,390.2 298.3,386.7 293.9,383.3 289.6,379.8 285.3,376.4 280.9,372.9 276.6,369.4 272.3,365.9 267.9,362.4 263.6,358.9 259.3,355.4 254.9,351.9 250.6,348.4 246.3,344.9 241.9,341.4 237.6,337.9 233.3,334.4 228.9,330.9 224.6,327.4 220.3,323.9 215.9,320.4 211.6,316.9 207.3,313.4 202.9,309.9 198.6,306.5"/>
<polyline points="633,554.4 628.7,552.8 624.4,551.1 620,549.5 615.7,547.8 611.4,546.2 607.1,544.5 602.7,542.9 598.4,541.2 594.1,539.6 589.7,538 585.4,536.3 581.1,534.7 576.7,533 572.4,531.4 568.1,529.7 563.8,528.1 559.4,526.4 555.1,524.7 550.8,523.1 546.4,521.4 542.1,519.7 537.8,517.9 533.4,516.2 529.1,514.4 524.8,512.6 520.5,510.7 516.1,508.8 511.8,506.9 507.5,504.9 503.1,502.8 498.8,500.7 494.5,498.6 490.1,496.3 485.8,494.1 481.5,491.7 477.1,489.3 472.8,486.9 468.5,484.4 464.2,481.8 459.8,479.1 455.5,476.4 451.2,473.7 446.8,470.9 442.5,468 438.2,465.1 433.8,462.1 429.5,459.1 425.2,456 420.8,452.9 416.5,449.7 412.2,446.5 407.8,443.2 403.5,439.9 399.2,436.6 394.8,433.2 390.5,429.8 386.2,426.3 381.8,422.8 377.5,419.3 373.2,415.8 368.8,412.2 364.5,408.6 360.2,404.9 355.8,401.3 351.5,397.6 347.2,393.9 342.8,390.2 338.5,386.5 334.2,382.7 329.8,379 325.5,375.2 321.2,371.4 316.8,367.6 312.5,363.8 308.2,360 303.8,356.1 299.5,352.3 295.2,348.4 290.8,344.6 286.5,340.7 282.2,336.9 277.8,333 273.5,329.1 269.2,325.3 264.8,321.4 260.5,317.5 256.2,313.6 251.8,309.8 247.5,305.9 243.2,302 238.8,298.1 234.5,294.3 230.1,290.4 225.8,286.5 221.5,282.7 217.1,278.8"/>
<polyline points="651.6,546.4 647.3,544.7 643,543.1 638.6,541.5 634.3,539.8 630,538.2 625.6,536.5 621.3,534.9 617,533.2 612.7,531.6 608.3,529.9 604,528.3 599.7,526.7 595.3,525 591,523.4 586.7,521.7 582.3,520.1 578,518.4 573.7,516.7 569.4,515 565,513.3 560.7,511.6 556.4,509.9 552,508.1 547.7,506.3 543.4,504.4 539,502.5 534.7,500.6 530.4,498.6 526.1,496.5 521.7,494.4 517.4,492.3 513.1,490 508.7,487.7 504.4,485.3 500.1,482.9 495.7,480.3 491.4,477.8 487.1,475.1 482.7,472.4 478.4,469.6 474.1,466.7 469.7,463.7 465.4,460.7 461.1,457.7 456.7,454.5 452.4,451.3 448.1,448.1 443.7,444.7 439.4,441.4 435.1,437.9 430.7,434.5 426.4,430.9 422.1,427.3 417.7,423.7 413.4,420 409.1,416.3 404.7,412.6 400.4,408.8 396.1,404.9 391.7,401.1 387.4,397.2 383.1,393.3 378.7,389.3 374.4,385.3 370.1,381.3 365.7,377.3 361.4,373.2 357.1,369.1 352.7,365 348.4,360.9 344.1,356.8 339.7,352.6 335.4,348.5 331.1,344.3 326.7,340.1 322.4,335.9 318.1,331.7 313.7,327.5 309.4,323.3 305.1,319 300.7,314.8 296.4,310.6 292.1,306.3 287.7,302.1 283.4,297.8 279,293.6 274.7,289.3 270.4,285.1 266,280.8 261.7,276.6 257.4,272.4 253,268.1 248.7,263.9 244.4,259.7 240,255.4 235.7,251.2"/>
<polyline points="670.2,538.4 665.9,536.7 661.6,535.1 657.2,533.4 652.9,531.8 648.6,530.2 644.2,528.5 639.9,526.9 635.6,525.2 631.2,523.6 626.9,521.9 622.6,520.3 618.3,518.6 613.9,517 609.6,515.3 605.3,513.7 600.9,512 596.6,510.4 592.3,508.7 587.9,507 583.6,505.3 579.3,503.6 575,501.8 570.6,500 566.3,498.2 562,496.3 557.6,494.4 553.3,492.4 549,490.3 544.6,488.2 540.3,486 536,483.8 531.6,481.5 527.3,479.1 523,476.6 518.7,474 514.3,471.4 510,468.6 505.7,465.8 501.3,462.9 497,460 492.7,456.9 488.3,453.8 484,450.6 479.7,447.3 475.3,444 471,440.5 466.7,437.1 462.3,433.5 458,429.9 453.7,426.2 449.3,422.4 445,418.6 440.7,414.8 436.3,410.9 432,406.9 427.7,402.9 423.3,398.8 419,394.7 414.7,390.6 410.3,386.4 406,382.2 401.7,377.9 397.3,373.6 393,369.3 388.6,365 384.3,360.6 380,356.2 375.6,351.8 371.3,347.3 367,342.8 362.6,338.4 358.3,333.8 354,329.3 349.6,324.8 345.3,320.2 341,315.7 336.6,311.1 332.3,306.5 328,301.9 323.6,297.3 319.3,292.7 315,288.1 310.6,283.5 306.3,278.9 301.9,274.3 297.6,269.7 293.3,265 288.9,260.4 284.6,255.8 280.3,251.2 275.9,246.6 271.6,242 267.3,237.4 262.9,232.8 258.6,228.2 254.3,223.6"/>
<polyline points="688.8,530.4 684.5,528.7 680.1,527.1 675.8,525.4 671.5,523.8 667.2,522.1 662.8,520.5 658.5,518.8 654.2,517.2 649.8,515.6 645.5,513.9 641.2,512.3 636.8,510.6 632.5,509 628.2,507.3 623.9,505.7 619.5,504 615.2,502.4 610.9,500.7 606.5,499 602.2,497.3 597.9,495.5 593.5,493.8 589.2,492 584.9,490.1 580.6,488.2 576.2,486.2 571.9,484.2 567.6,482.1 563.2,479.9 558.9,477.7 554.6,475.3 550.2,472.9 545.9,470.4 541.6,467.8 537.2,465.1 532.9,462.4 528.6,459.5 524.2,456.6 519.9,453.5 515.6,450.4 511.2,447.2 506.9,443.8 502.6,440.4 498.2,437 493.9,433.4 489.6,429.8 485.2,426 480.9,422.2 476.6,418.4 472.2,414.4 467.9,410.4 463.6,406.4 459.2,402.2 454.9,398 450.6,393.8 446.2,389.5 441.9,385.1 437.6,380.7 433.2,376.2 428.9,371.7 424.6,367.2 420.2,362.6 415.9,358 411.6,353.3 407.2,348.6 402.9,343.9 398.6,339.2 394.2,334.4 389.9,329.6 385.5,324.8 381.2,319.9 376.9,315.1 372.5,310.2 368.2,305.3 363.9,300.4 359.5,295.4 355.2,290.5 350.9,285.6 346.5,280.6 342.2,275.6 337.9,270.7 333.5,265.7 329.2,260.7 324.8,255.7 320.5,250.7 316.2,245.7 311.8,240.7 307.5,235.8 303.2,230.8 298.8,225.8 294.5,220.8 290.2,215.8 285.8,210.8 281.5,205.9 277.1,200.9 272.8,196"/>
<polyline points="707.4,522.3 703.1,520.7 698.7,519.1 694.4,517.4 690.1,515.8 685.7,514.1 681.4,512.5 677.1,510.8 672.8,509.2 668.4,507.5 664.1,505.9 659.8,504.3 655.4,502.6 651.1,501 646.8,499.3 642.4,497.7 638.1,496 633.8,494.3 629.5,492.7 625.1,491 620.8,489.2 616.5,487.5 612.1,485.7 607.8,483.9 603.5,482 599.1,480.1 594.8,478 590.5,476 586.1,473.8 581.8,471.6 577.5,469.3 573.2,466.9 568.8,464.4 564.5,461.8 560.2,459.1 555.8,456.3 551.5,453.4 547.2,450.4 542.8,447.3 538.5,444.1 534.2,440.8 529.8,437.4 525.5,433.9 521.2,430.3 516.8,426.6 512.5,422.8 508.2,419 503.8,415 499.5,411 495.2,406.9 490.8,402.7 486.5,398.4 482.2,394.1 477.8,389.6 473.5,385.2 469.2,380.6 464.8,376 460.5,371.4 456.1,366.6 451.8,361.9 447.5,357.1 443.1,352.2 438.8,347.3 434.5,342.3 430.1,337.3 425.8,332.3 421.5,327.3 417.1,322.2 412.8,317 408.5,311.9 404.1,306.7 399.8,301.5 395.4,296.3 391.1,291 386.8,285.8 382.4,280.5 378.1,275.2 373.8,269.9 369.4,264.6 365.1,259.3 360.8,253.9 356.4,248.6 352.1,243.2 347.7,237.9 343.4,232.5 339.1,227.2 334.7,221.8 330.4,216.4 326.1,211.1 321.7,205.7 317.4,200.4 313,195 308.7,189.7 304.4,184.3 300,179 295.7,173.6 291.4,168.3"/>
<polyline points="726,514.3 721.7,512.7 717.3,511 713,509.4 708.7,507.8 704.3,506.1 700,504.5 695.7,502.8 691.3,501.2 687,499.5 682.7,497.9 678.4,496.2 674,494.6 669.7,493 665.4,491.3 661,489.7 656.7,488 652.4,486.3 648,484.6 643.7,482.9 639.4,481.2 635.1,479.5 630.7,477.6 626.4,475.8 622.1,473.9 617.7,471.9 613.4,469.9 609.1,467.8 604.7,465.6 600.4,463.3 596.1,460.9 591.7,458.4 587.4,455.8 583.1,453.1 578.7,450.3 574.4,447.4 570.1,444.4 565.8,441.3 561.4,438 557.1,434.7 552.8,431.2 548.4,427.6 544.1,423.9 539.8,420.2 535.4,416.3 531.1,412.3 526.7,408.2 522.4,404 518.1,399.7 513.7,395.4 509.4,390.9 505.1,386.4 500.7,381.8 496.4,377.1 492.1,372.3 487.7,367.5 483.4,362.6 479.1,357.6 474.7,352.6 470.4,347.5 466.1,342.4 461.7,337.2 457.4,332 453,326.7 448.7,321.4 444.4,316 440,310.6 435.7,305.2 431.4,299.7 427,294.2 422.7,288.7 418.4,283.1 414,277.5 409.7,271.9 405.3,266.3 401,260.6 396.7,255 392.3,249.3 388,243.6 383.7,237.9 379.3,232.2 375,226.5 370.6,220.8 366.3,215.1 362,209.4 357.6,203.6 353.3,197.9 349,192.2 344.6,186.4 340.3,180.7 335.9,175 331.6,169.2 327.3,163.5 322.9,157.8 318.6,152.1 314.3,146.4 309.9,140.7"/>
<polyline points="744.6,506.3 740.2,504.7 735.9,503 731.6,501.4 727.3,499.7 722.9,498.1 718.6,496.5 714.3,494.8 709.9,493.2 705.6,491.5 701.3,489.9 696.9,488.2 692.6,486.6 688.3,484.9 684,483.3 679.6,481.6 675.3,480 671,478.3 666.6,476.6 662.3,474.9 658,473.2 653.6,471.4 649.3,469.6 645,467.7 640.7,465.8 636.3,463.8 632,461.7 627.7,459.6 623.3,457.3 619,455 614.7,452.5 610.3,449.9 606,447.3 601.7,444.5 597.3,441.6 593,438.5 588.7,435.4 584.3,432.1 580,428.7 575.7,425.2 571.3,421.6 567,417.9 562.7,414 558.3,410 554,405.9 549.7,401.7 545.3,397.4 541,393 536.7,388.5 532.3,383.9 528,379.2 523.7,374.4 519.3,369.5 515,364.5 510.7,359.5 506.3,354.3 502,349.2 497.6,343.9 493.3,338.6 489,333.2 484.6,327.7 480.3,322.2 476,316.6 471.6,311 467.3,305.4 462.9,299.7 458.6,293.9 454.3,288.1 449.9,282.3 445.6,276.5 441.3,270.6 436.9,264.7 432.6,258.7 428.2,252.8 423.9,246.8 419.6,240.8 415.2,234.8 410.9,228.7 406.6,222.7 402.2,216.6 397.9,210.5 393.5,204.5 389.2,198.4 384.9,192.3 380.5,186.2 376.2,180.1 371.9,174 367.5,167.9 363.2,161.8 358.8,155.7 354.5,149.6 350.2,143.5 345.8,137.4 343,133.4"/>
<polyline points="763.2,498.3 758.8,496.7 754.5,495 750.2,493.4 745.8,491.7 741.5,490.1 737.2,488.4 732.9,486.8 728.5,485.2 724.2,483.5 719.9,481.9 715.5,480.2 711.2,478.6 706.9,476.9 702.5,475.3 698.2,473.6 693.9,472 689.6,470.3 685.2,468.6 680.9,466.9 676.6,465.1 672.2,463.4 667.9,461.5 663.6,459.6 659.2,457.7 654.9,455.7 650.6,453.5 646.2,451.3 641.9,449 637.6,446.6 633.3,444.1 628.9,441.5 624.6,438.7 620.3,435.8 615.9,432.8 611.6,429.7 607.3,426.4 602.9,423 598.6,419.5 594.3,415.8 589.9,412 585.6,408.1 581.3,404 576.9,399.9 572.6,395.6 568.3,391.1 563.9,386.6 559.6,382 555.2,377.2 550.9,372.4 546.6,367.4 542.2,362.3 537.9,357.2 533.6,352 529.2,346.6 524.9,341.2 520.6,335.7 516.2,330.2 511.9,324.5 507.5,318.8 503.2,313 498.9,307.2 494.5,301.3 490.2,295.4 485.9,289.4 481.5,283.3 477.2,277.3 472.8,271.1 468.5,265 464.2,258.8 459.8,252.5 455.5,246.3 451.2,240 446.8,233.6 442.5,227.3 438.1,220.9 433.8,214.5 429.5,208.1 425.1,201.7 420.8,195.3 416.4,188.8 412.1,182.4 407.8,175.9 403.4,169.5 399.1,163 394.8,156.5 390.4,150 386.1,143.6 381.7,137.1 378.1,131.7"/>
<polyline points="781.8,490.3 777.4,488.7 773.1,487 768.8,485.4 764.4,483.7 760.1,482.1 755.8,480.4 751.4,478.8 747.1,477.1 742.8,475.5 738.5,473.9 734.1,472.2 729.8,470.6 725.5,468.9 721.1,467.3 716.8,465.6 712.5,463.9 708.1,462.3 703.8,460.6 699.5,458.9 695.2,457.1 690.8,455.3 686.5,453.5 682.2,451.6 677.8,449.6 673.5,447.5 669.2,445.4 664.8,443.1 660.5,440.8 656.2,438.3 651.8,435.7 647.5,433 643.2,430.2 638.8,427.2 634.5,424.1 630.2,420.8 625.8,417.4 621.5,413.9 617.2,410.2 612.8,406.4 608.5,402.4 604.2,398.3 599.8,394.1 595.5,389.7 591.2,385.2 586.8,380.6 582.5,375.8 578.2,371 573.8,366 569.5,360.9 565.2,355.6 560.8,350.3 556.5,344.9 552.1,339.4 547.8,333.8 543.5,328.1 539.1,322.3 534.8,316.4 530.5,310.5 526.1,304.5 521.8,298.4 517.4,292.2 513.1,286 508.8,279.7 504.4,273.4 500.1,267 495.8,260.6 491.4,254.1 487.1,247.6 482.7,241 478.4,234.5 474.1,227.8 469.7,221.2 465.4,214.5 461,207.8 456.7,201.1 452.4,194.3 448,187.5 443.7,180.8 439.4,174 435,167.1 430.7,160.3 426.3,153.5 422,146.7 417.7,139.8 413.3,133 410.8,129"/>
<polyline points="800.3,482.3 796,480.6 791.7,479 787.4,477.4 783,475.7 778.7,474.1 774.4,472.4 770,470.8 765.7,469.1 761.4,467.5 757,465.8 752.7,464.2 748.4,462.5 744.1,460.9 739.7,459.3 735.4,457.6 731.1,455.9 726.7,454.3 722.4,452.6 718.1,450.8 713.7,449.1 709.4,447.3 705.1,445.4 700.8,443.5 696.4,441.5 692.1,439.4 687.8,437.2 683.4,434.9 679.1,432.5 674.8,430 670.4,427.3 666.1,424.5 661.8,421.6 657.4,418.5 653.1,415.3 648.8,412 644.4,408.4 640.1,404.8 635.8,400.9 631.4,397 627.1,392.8 622.8,388.6 618.4,384.1 614.1,379.6 609.8,374.9 605.4,370 601.1,365 596.8,359.9 592.4,354.7 588.1,349.4 583.7,343.9 579.4,338.3 575.1,332.6 570.7,326.8 566.4,320.9 562.1,314.9 557.7,308.8 553.4,302.7 549,296.4 544.7,290.1 540.4,283.7 536,277.2 531.7,270.7 527.3,264.1 523,257.4 518.7,250.7 514.3,243.9 510,237.1 505.7,230.2 501.3,223.3 497,216.4 492.6,209.4 488.3,202.4 484,195.4 479.6,188.3 475.3,181.2 470.9,174.1 466.6,167 462.3,159.8 457.9,152.6 453.6,145.4 449.2,138.3 444.9,131.1 441.7,125.7"/>
<polyline points="818.9,474.3 814.6,472.6 810.3,471 805.9,469.3 801.6,467.7 797.3,466 793,464.4 788.6,462.8 784.3,461.1 780,459.5 775.6,457.8 771.3,456.2 767,454.5 762.6,452.9 758.3,451.2 754,449.6 749.7,447.9 745.3,446.2 741,444.5 736.7,442.8 732.3,441 728,439.2 723.7,437.4 719.3,435.4 715,433.4 710.7,431.3 706.3,429 702,426.7 697.7,424.3 693.4,421.7 689,419 684.7,416.1 680.4,413.1 676,409.9 671.7,406.6 667.4,403.1 663,399.4 658.7,395.6 654.4,391.7 650,387.5 645.7,383.2 641.4,378.8 637,374.2 632.7,369.4 628.3,364.5 624,359.5 619.7,354.3 615.3,348.9 611,343.5 606.7,337.9 602.3,332.1 598,326.3 593.7,320.3 589.3,314.3 585,308.1 580.6,301.8 576.3,295.4 572,288.9 567.6,282.4 563.3,275.7 558.9,269 554.6,262.2 550.3,255.4 545.9,248.4 541.6,241.4 537.2,234.4 532.9,227.3 528.6,220.1 524.2,212.9 519.9,205.6 515.5,198.3 511.2,191 506.9,183.6 502.5,176.2 498.2,168.8 493.8,161.3 489.5,153.9 485.2,146.4 480.8,138.8 476.5,131.3 472.1,123.8 471,121.8"/>
<polyline points="837.5,466.3 833.2,464.6 828.9,463 824.5,461.3 820.2,459.7 815.9,458 811.5,456.4 807.2,454.7 802.9,453.1 798.6,451.5 794.2,449.8 789.9,448.2 785.6,446.5 781.2,444.9 776.9,443.2 772.6,441.6 768.2,439.9 763.9,438.2 759.6,436.5 755.3,434.8 750.9,433 746.6,431.2 742.3,429.3 737.9,427.3 733.6,425.3 729.3,423.1 724.9,420.9 720.6,418.5 716.3,416 711.9,413.4 707.6,410.6 703.3,407.6 698.9,404.5 694.6,401.3 690.3,397.8 685.9,394.2 681.6,390.5 677.3,386.5 672.9,382.4 668.6,378.1 664.3,373.6 659.9,369 655.6,364.2 651.3,359.3 646.9,354.2 642.6,348.9 638.3,343.5 633.9,337.9 629.6,332.2 625.2,326.4 620.9,320.4 616.6,314.3 612.2,308 607.9,301.7 603.6,295.2 599.2,288.7 594.9,282 590.5,275.2 586.2,268.3 581.9,261.4 577.5,254.3 573.2,247.2 568.8,240 564.5,232.8 560.2,225.4 555.8,218 551.5,210.6 547.1,203.1 542.8,195.5 538.5,187.9 534.1,180.3 529.8,172.6 525.4,164.9 521.1,157.1 516.8,149.3 512.4,141.5 508.1,133.6 503.7,125.8 499.4,117.9 499.1,117.4"/>
<polyline points="856.1,458.2 851.8,456.6 847.4,455 843.1,453.3 838.8,451.7 834.5,450 830.1,448.4 825.8,446.7 821.5,445.1 817.1,443.4 812.8,441.8 808.5,440.2 804.2,438.5 799.8,436.9 795.5,435.2 791.2,433.6 786.8,431.9 782.5,430.2 778.2,428.5 773.8,426.8 769.5,425 765.2,423.1 760.8,421.2 756.5,419.3 752.2,417.2 747.9,415 743.5,412.7 739.2,410.3 734.9,407.7 730.5,405 726.2,402.2 721.9,399.2 717.5,396 713.2,392.6 708.9,389.1 704.5,385.4 700.2,381.5 695.9,377.4 691.5,373.1 687.2,368.7 682.9,364.1 678.5,359.3 674.2,354.3 669.9,349.1 665.5,343.8 661.2,338.3 656.8,332.7 652.5,326.9 648.2,320.9 643.8,314.9 639.5,308.6 635.2,302.2 630.8,295.7 626.5,289.1 622.1,282.4 617.8,275.5 613.5,268.5 609.1,261.5 604.8,254.3 600.4,247 596.1,239.7 591.8,232.2 587.4,224.7 583.1,217.1 578.7,209.4 574.4,201.7 570.1,193.9 565.7,186.1 561.4,178.2 557,170.2 552.7,162.2 548.3,154.2 544,146.1 539.7,138 535.3,129.8 531,121.6 526.6,113.4 526.2,112.6"/>
<polyline points="874.7,450.2 870.4,448.6 866,446.9 861.7,445.3 857.4,443.7 853,442 848.7,440.4 844.4,438.7 840.1,437.1 835.7,435.4 831.4,433.8 827.1,432.1 822.7,430.5 818.4,428.8 814.1,427.2 809.8,425.5 805.4,423.9 801.1,422.2 796.8,420.5 792.4,418.7 788.1,416.9 783.8,415.1 779.4,413.2 775.1,411.2 770.8,409.1 766.4,406.9 762.1,404.5 757.8,402.1 753.5,399.5 749.1,396.7 744.8,393.8 740.5,390.7 736.1,387.4 731.8,384 727.5,380.3 723.1,376.5 718.8,372.5 714.5,368.3 710.1,363.9 705.8,359.3 701.4,354.5 697.1,349.5 692.8,344.3 688.4,339 684.1,333.5 679.8,327.8 675.4,321.9 671.1,315.9 666.8,309.7 662.4,303.3 658.1,296.9 653.7,290.2 649.4,283.5 645.1,276.6 640.7,269.5 636.4,262.4 632,255.1 627.7,247.7 623.4,240.3 619,232.7 614.7,225 610.3,217.2 606,209.4 601.7,201.5 597.3,193.5 593,185.4 588.6,177.3 584.3,169.1 579.9,160.8 575.6,152.5 571.3,144.1 566.9,135.7 562.6,127.3 558.2,118.8 553.9,110.3 552.5,107.5"/>
<polyline points="893.3,442.2 889,440.6 884.6,438.9 880.3,437.3 876,435.6 871.6,434 867.3,432.4 863,430.7 858.6,429.1 854.3,427.4 850,425.8 845.7,424.1 841.3,422.5 837,420.8 832.7,419.2 828.3,417.5 824,415.9 819.7,414.2 815.4,412.5 811,410.7 806.7,408.9 802.4,407 798,405.1 793.7,403.1 789.4,401 785,398.7 780.7,396.4 776.4,393.9 772,391.2 767.7,388.4 763.4,385.4 759,382.2 754.7,378.9 750.4,375.3 746,371.6 741.7,367.6 737.4,363.5 733,359.1 728.7,354.6 724.4,349.8 720,344.9 715.7,339.7 711.4,334.4 707,328.8 702.7,323.1 698.4,317.2 694,311.1 689.7,304.9 685.3,298.4 681,291.8 676.7,285.1 672.3,278.2 668,271.2 663.6,264 659.3,256.7 655,249.2 650.6,241.7 646.3,234 641.9,226.2 637.6,218.3 633.3,210.3 628.9,202.2 624.6,194.1 620.2,185.8 615.9,177.5 611.5,169.1 607.2,160.6 602.9,152 598.5,143.4 594.2,134.8 589.8,126.1 585.5,117.3 581.1,108.5 578,102.1"/>
</g>
<polyline points="911.9,434.2 908.7,433 905.5,431.8 902.2,430.5 899,429.3 895.8,428.1 892.6,426.9 889.4,425.7 886.2,424.4 883,423.2 879.7,422 876.5,420.8 873.3,419.6 870.1,418.3 866.9,417.1 863.7,415.9 860.5,414.7 857.2,413.5 854,412.2 850.8,411 847.6,409.8 844.4,408.5 841.2,407.3 838,406 834.7,404.8 831.5,403.5 828.3,402.1 825.1,400.8 821.9,399.4 818.7,398 815.5,396.5 812.2,395 809,393.4 805.8,391.8 802.6,390 799.4,388.3 796.2,386.4 792.9,384.4 789.7,382.4 786.5,380.2 783.3,378 780.1,375.6 776.9,373.2 773.6,370.6 770.4,367.9 767.2,365.1 764,362.2 760.8,359.2 757.6,356.1 754.3,352.8 751.1,349.5 747.9,346 744.7,342.4 741.5,338.7 738.3,334.8 735,330.9 731.8,326.8 728.6,322.7 725.4,318.4 722.2,314 718.9,309.5 715.7,304.9 712.5,300.2 709.3,295.4 706.1,290.5 702.8,285.5 699.6,280.4 696.4,275.2 693.2,269.9 689.9,264.6 686.7,259.2 683.5,253.6 680.3,248 677.1,242.4 673.8,236.6 670.6,230.8 667.4,224.9 664.2,219 660.9,213 657.7,206.9 654.5,200.8 651.3,194.6 648.1,188.3 644.8,182 641.6,175.7 638.4,169.3 635.2,162.9 631.9,156.4 628.7,149.9 625.5,143.3 622.3,136.7 619,130.1 615.8,123.4 612.6,116.7 609.4,110 606.1,103.3 602.9,96.5 495.8,55.8 314.4,134 105.8,444.6" fill="none" stroke="#2a2a2a" stroke-width="1" stroke-linejoin="round"/>
<polygon points="602.9,96.5 596.2,98 589.5,99.5 583,101 576.6,102.4 570.3,103.7 564.2,105.1 558.1,106.3 552.1,107.5 546.2,108.7 540.4,109.9 534.7,111 529.1,112 523.5,113.1 518.1,114.1 512.7,115 507.4,115.9 502.2,116.8 497.1,117.7 492,118.5 487,119.3 482,120.1 477.2,120.8 472.4,121.5 467.6,122.2 462.9,122.9 458.3,123.5 453.8,124.1 449.2,124.7 444.8,125.3 440.4,125.8 436,126.4 431.7,126.9 427.5,127.3 423.3,127.8 419.1,128.2 415,128.6 410.9,129 406.9,129.4 402.9,129.8 399,130.1 395.1,130.4 391.2,130.8 387.4,131 383.6,131.3 379.8,131.6 376.1,131.8 372.4,132.1 368.8,132.3 365.2,132.5 361.6,132.7 358,132.8 354.5,133 351,133.1 347.6,133.3 344.1,133.4 340.7,133.5 337.3,133.6 334,133.7 330.7,133.8 327.4,133.8 324.1,133.9 320.8,133.9 317.6,134 314.4,134 495.8,55.8" fill="none" stroke="#3a3a3a" stroke-width="1" stroke-linejoin="round"/>
<g stroke="#85858c" stroke-width="1" fill="none" stroke-opacity="0.85">
<line x1="89.3" y1="222.3" x2="521.6" y2="386.5" />
<line x1="927.6" y1="211.5" x2="521.6" y2="386.5" />
<line x1="521.6" y1="386.5" x2="522" y2="609" />
</g>
<line x1="928" y1="434" x2="927.6" y2="211.5" stroke="#777" stroke-width="1"/>
<g stroke="#222" stroke-width="1.25" fill="none" stroke-linejoin="miter">
<polyline points="89.3,222.3 89.7,444.8 522,609 928,434"/>
</g>
<g stroke="#000" stroke-width="1.8" fill="none" stroke-linecap="butt">
<line x1="89.4" y1="444.7" x2="95.1" y2="446.9" />
<line x1="89.4" y1="433.7" x2="93.4" y2="435.3" />
<line x1="89.4" y1="422.8" x2="93.4" y2="424.3" />
<line x1="89.3" y1="411.8" x2="93.4" y2="413.3" />
<line x1="89.3" y1="400.7" x2="93.4" y2="402.3" />
<line x1="89.3" y1="389.7" x2="95" y2="391.9" />
<line x1="89.3" y1="378.7" x2="93.3" y2="380.2" />
<line x1="89.3" y1="367.6" x2="93.3" y2="369.1" />
<line x1="89.2" y1="356.5" x2="93.3" y2="358" />
<line x1="89.2" y1="345.4" x2="93.3" y2="346.9" />
<line x1="89.2" y1="334.3" x2="94.9" y2="336.5" />
<line x1="89.2" y1="323.2" x2="93.2" y2="324.7" />
<line x1="89.2" y1="312" x2="93.2" y2="313.5" />
<line x1="89.1" y1="300.8" x2="93.2" y2="302.4" />
<line x1="89.1" y1="289.7" x2="93.2" y2="291.2" />
<line x1="89.1" y1="278.5" x2="94.8" y2="280.6" />
<line x1="89.1" y1="267.2" x2="93.1" y2="268.8" />
<line x1="89.1" y1="256" x2="93.1" y2="257.5" />
<line x1="89" y1="244.8" x2="93.1" y2="246.3" />
<line x1="89" y1="233.5" x2="93.1" y2="235" />
<line x1="89" y1="222.2" x2="94.7" y2="224.4" />
<line x1="513.7" y1="606.4" x2="513.7" y2="599.4" />
<line x1="472.1" y1="590.7" x2="472.1" y2="586.1" />
<line x1="430.6" y1="574.9" x2="430.6" y2="570.3" />
<line x1="389" y1="559.1" x2="389" y2="554.5" />
<line x1="347.4" y1="543.3" x2="347.4" y2="538.7" />
<line x1="305.9" y1="527.5" x2="305.9" y2="520.5" />
<line x1="264.3" y1="511.7" x2="264.3" y2="507.1" />
<line x1="222.7" y1="495.9" x2="222.7" y2="491.3" />
<line x1="181.1" y1="480.1" x2="181.1" y2="475.5" />
<line x1="139.6" y1="464.3" x2="139.6" y2="459.7" />
<line x1="98" y1="448.6" x2="98" y2="441.6" />
<line x1="529.8" y1="606.2" x2="529.8" y2="598.6" />
<line x1="549.3" y1="597.8" x2="549.3" y2="592.7" />
<line x1="568.8" y1="589.4" x2="568.8" y2="584.3" />
<line x1="588.4" y1="581" x2="588.4" y2="575.9" />
<line x1="607.9" y1="572.6" x2="607.9" y2="567.5" />
<line x1="627.4" y1="564.2" x2="627.4" y2="556.6" />
<line x1="646.9" y1="555.8" x2="646.9" y2="550.7" />
<line x1="666.4" y1="547.3" x2="666.4" y2="542.2" />
<line x1="686" y1="538.9" x2="686" y2="533.8" />
<line x1="705.5" y1="530.5" x2="705.5" y2="525.4" />
<line x1="725" y1="522.1" x2="725" y2="514.5" />
<line x1="744.5" y1="513.7" x2="744.5" y2="508.6" />
<line x1="764" y1="505.3" x2="764" y2="500.2" />
<line x1="783.6" y1="496.9" x2="783.6" y2="491.8" />
<line x1="803.1" y1="488.4" x2="803.1" y2="483.3" />
<line x1="822.6" y1="480" x2="822.6" y2="472.4" />
<line x1="842.1" y1="471.6" x2="842.1" y2="466.5" />
<line x1="861.6" y1="463.2" x2="861.6" y2="458.1" />
<line x1="881.2" y1="454.8" x2="881.2" y2="449.7" />
<line x1="900.7" y1="446.4" x2="900.7" y2="441.3" />
<line x1="920.2" y1="438" x2="920.2" y2="430.4" />
</g>
<defs><linearGradient id="cb" x1="0" y1="1" x2="0" y2="0">
<stop offset="0.0" stop-color="rgb(120,26,140)"/>
<stop offset="0.0625" stop-color="rgb(92,36,168)"/>
<stop offset="0.125" stop-color="rgb(66,50,190)"/>
<stop offset="0.1875" stop-color="rgb(58,76,204)"/>
<stop offset="0.25" stop-color="rgb(62,112,208)"/>
<stop offset="0.3125" stop-color="rgb(76,142,194)"/>
<stop offset="0.375" stop-color="rgb(94,166,168)"/>
<stop offset="0.4375" stop-color="rgb(116,181,140)"/>
<stop offset="0.5" stop-color="rgb(143,190,114)"/>
<stop offset="0.5625" stop-color="rgb(170,192,92)"/>
<stop offset="0.625" stop-color="rgb(196,190,76)"/>
<stop offset="0.6875" stop-color="rgb(217,181,64)"/>
<stop offset="0.75" stop-color="rgb(229,160,58)"/>
<stop offset="0.8125" stop-color="rgb(230,136,52)"/>
<stop offset="0.875" stop-color="rgb(229,105,44)"/>
<stop offset="0.9375" stop-color="rgb(226,74,40)"/>
<stop offset="1.0" stop-color="rgb(220,42,36)"/>
</linearGradient></defs>
<rect x="950.8" y="211" width="16.3" height="224.7" fill="url(#cb)"/>
<g stroke="#d4d4d4" stroke-width="0.8">
<line x1="967.1" y1="435.7" x2="970.3" y2="435.7"/>
<line x1="967.1" y1="424.5" x2="969.3" y2="424.5"/>
<line x1="967.1" y1="413.2" x2="969.3" y2="413.2"/>
<line x1="967.1" y1="402" x2="969.3" y2="402"/>
<line x1="967.1" y1="390.8" x2="969.3" y2="390.8"/>
<line x1="967.1" y1="379.5" x2="970.3" y2="379.5"/>
<line x1="967.1" y1="368.3" x2="969.3" y2="368.3"/>
<line x1="967.1" y1="357.1" x2="969.3" y2="357.1"/>
<line x1="967.1" y1="345.8" x2="969.3" y2="345.8"/>
<line x1="967.1" y1="334.6" x2="969.3" y2="334.6"/>
<line x1="967.1" y1="323.4" x2="970.3" y2="323.4"/>
<line x1="967.1" y1="312.1" x2="969.3" y2="312.1"/>
<line x1="967.1" y1="300.9" x2="969.3" y2="300.9"/>
<line x1="967.1" y1="289.6" x2="969.3" y2="289.6"/>
<line x1="967.1" y1="278.4" x2="969.3" y2="278.4"/>
<line x1="967.1" y1="267.2" x2="970.3" y2="267.2"/>
<line x1="967.1" y1="255.9" x2="969.3" y2="255.9"/>
<line x1="967.1" y1="244.7" x2="969.3" y2="244.7"/>
<line x1="967.1" y1="233.5" x2="969.3" y2="233.5"/>
<line x1="967.1" y1="222.2" x2="969.3" y2="222.2"/>
<line x1="967.1" y1="211" x2="970.3" y2="211"/>
</g>
<rect x="286.9" y="30.3" width="69.7" height="3.4" fill="#000"/>
<rect x="269.2" y="30.3" width="8.2" height="3.2" fill="#000"/>
</svg>
<div style="position:absolute;left:0;top:0;width:995px;height:642px;will-change:transform"><span class="t" style="left:27.85px;top:41.69px;font-size:42.0px;font-family:'Liberation Sans',sans-serif;font-weight:400;font-style:italic;-webkit-text-stroke:2.0px #000;transform:scale(0.885,0.961)">T</span>
<span class="t" style="left:50.62px;top:59.95px;font-size:27.7px;font-family:'Liberation Sans',sans-serif;font-weight:400;font-style:italic;-webkit-text-stroke:0.8px #000;transform:scale(0.985,1.037)">C</span>
<span class="t" style="left:75.70px;top:42.08px;font-size:37.0px;font-family:'Liberation Sans',sans-serif;font-weight:400;font-style:normal;-webkit-text-stroke:0.3px #000;transform:scale(1.300,1.017)">=</span>
<span class="t" style="left:114.11px;top:41.09px;font-size:40.1px;font-family:'Liberation Sans',sans-serif;font-weight:700;font-style:normal;transform:scale(0.928,1.018)">1.13</span>
<span class="t" style="left:192.70px;top:43.52px;font-size:40.3px;font-family:'Liberation Sans',sans-serif;font-weight:700;font-style:italic;transform:scale(1.050,0.993)">&theta;</span>
<span class="t" style="left:216.31px;top:61.39px;font-size:27.5px;font-family:'Liberation Sans',sans-serif;font-weight:400;font-style:italic;-webkit-text-stroke:0.8px #000;transform:scale(1.094,0.905)">D</span>
<span class="t" style="left:239.28px;top:44.15px;font-size:38.4px;font-family:'Liberation Sans',sans-serif;font-weight:700;font-style:normal;transform:scale(0.961,1.005)">e</span>
<span class="t" style="left:255.38px;top:-6.52px;font-size:62.3px;font-family:'Liberation Serif',serif;font-weight:400;-webkit-text-stroke:0.6px #000;transform:scale(0.912,1.002)">(</span>
<span class="t" style="left:360.78px;top:-6.52px;font-size:62.3px;font-family:'Liberation Serif',serif;font-weight:400;-webkit-text-stroke:0.6px #000;transform:scale(1.012,1.002)">)</span>
<span class="t" style="left:311.00px;top:-1.14px;font-size:28.0px;font-family:'Liberation Serif',serif;font-weight:700;-webkit-text-stroke:0.4px #000;transform:scale(1.000,1.028)">1</span>
<span class="t" style="left:284.70px;top:36.80px;font-size:25.2px;font-family:'Liberation Sans',sans-serif;font-weight:700;font-style:italic;-webkit-text-stroke:0.6px #000;transform:scale(0.795,0.967)">N</span>
<span class="t" style="left:300.29px;top:36.60px;font-size:24.5px;font-family:'Liberation Sans',sans-serif;font-weight:400;font-style:italic;-webkit-text-stroke:0.7px #000;transform:scale(0.611,1.000)">(</span>
<span class="t" style="left:308.40px;top:37.96px;font-size:25.2px;font-family:'Liberation Sans',sans-serif;font-weight:400;font-style:italic;-webkit-text-stroke:0.85px #000;transform:scale(0.744,0.870)">E</span>
<span class="t" style="left:322.70px;top:45.35px;font-size:19.1px;font-family:'Liberation Sans',sans-serif;font-weight:400;font-style:italic;-webkit-text-stroke:0.7px #000;transform:scale(0.800,1.015)">F</span>
<span class="t" style="left:335.54px;top:36.60px;font-size:24.5px;font-family:'Liberation Sans',sans-serif;font-weight:400;font-style:italic;-webkit-text-stroke:0.7px #000;transform:scale(0.722,1.000)">)</span>
<span class="t" style="left:338.21px;top:36.33px;font-size:25.8px;font-family:'Liberation Sans',sans-serif;font-weight:700;font-style:italic;-webkit-text-stroke:0.3px #000;transform:scale(0.994,0.989)">V</span>
<span class="t" style="left:352.73px;top:52.04px;font-size:12.1px;font-family:'Liberation Sans',sans-serif;font-weight:700;font-style:italic;transform:scale(0.967,0.956)">0</span>
<span class="t" style="left:83.87px;top:100.16px;font-size:27.1px;font-family:'Liberation Sans',sans-serif;font-weight:700;font-style:italic;transform:scale(1.067,0.984)">V</span>
<span class="t" style="left:102.23px;top:118.35px;font-size:11.8px;font-family:'Liberation Sans',sans-serif;font-weight:700;font-style:italic;transform:scale(0.967,1.050)">0</span>
<span class="t" style="left:117.91px;top:100.86px;font-size:22.8px;font-family:'Liberation Sans',sans-serif;font-weight:400;font-style:normal;transform:scale(1.491,1.043)">=</span>
<span class="t" style="left:149.91px;top:102.15px;font-size:24.9px;font-family:'Liberation Sans',sans-serif;font-weight:700;font-style:normal;transform:scale(0.993,0.983)">2.32 meV</span>
<span class="t" style="left:-0.85px;top:290.66px;font-size:27.1px;font-family:'Liberation Sans',sans-serif;font-weight:700;font-style:italic;transform:scale(0.875,0.984)">T</span>
<span class="t" style="left:13.78px;top:302.95px;font-size:18.7px;font-family:'Liberation Sans',sans-serif;font-weight:400;font-style:italic;-webkit-text-stroke:0.5px #000;transform:scale(0.815,1.023)">C</span>
<span class="t" style="left:272.14px;top:598.24px;font-size:26.7px;font-family:'Liberation Sans',sans-serif;font-weight:400;font-style:normal;-webkit-text-stroke:0.9px #000;transform:scale(0.931,0.920)">N</span>
<span class="t" style="left:291.38px;top:598.26px;font-size:26.8px;font-family:'Liberation Sans',sans-serif;font-weight:400;font-style:normal;-webkit-text-stroke:0.7px #000;transform:scale(0.725,0.969)">(</span>
<span class="t" style="left:300.05px;top:596.91px;font-size:26.7px;font-family:'Liberation Sans',sans-serif;font-weight:700;font-style:italic;transform:scale(0.953,1.022)">E</span>
<span class="t" style="left:317.90px;top:608.35px;font-size:19.1px;font-family:'Liberation Sans',sans-serif;font-weight:400;font-style:italic;-webkit-text-stroke:0.7px #000;transform:scale(0.769,1.015)">F</span>
<span class="t" style="left:331.50px;top:598.26px;font-size:26.8px;font-family:'Liberation Sans',sans-serif;font-weight:400;font-style:normal;-webkit-text-stroke:0.7px #000;transform:scale(0.750,0.969)">)</span>
<span class="t" style="left:711.51px;top:593.85px;font-size:25.0px;font-family:'Liberation Sans',sans-serif;font-weight:700;font-style:italic;transform:scale(1.092,0.974)">&theta;</span>
<span class="t" style="left:726.70px;top:603.38px;font-size:19.0px;font-family:'Liberation Sans',sans-serif;font-weight:400;font-style:italic;-webkit-text-stroke:0.55px #000;transform:scale(0.923,1.008)">D</span>
<span class="t" style="left:49.60px;top:201.60px;font-size:24px;font-family:'Liberation Sans',sans-serif;font-weight:700;font-style:normal;">20</span>
<span class="t" style="left:49.60px;top:256.20px;font-size:24px;font-family:'Liberation Sans',sans-serif;font-weight:700;font-style:normal;">15</span>
<span class="t" style="left:49.60px;top:312.40px;font-size:24px;font-family:'Liberation Sans',sans-serif;font-weight:700;font-style:normal;">10</span>
<span class="t" style="left:62.60px;top:368.20px;font-size:24px;font-family:'Liberation Sans',sans-serif;font-weight:700;font-style:normal;">5</span>
<span class="t" style="left:63.60px;top:421.50px;font-size:24px;font-family:'Liberation Sans',sans-serif;font-weight:700;font-style:normal;">0</span>
<span class="t" style="left:82.00px;top:465.50px;font-size:24px;font-family:'Liberation Sans',sans-serif;font-weight:700;font-style:normal;">1.0</span>
<span class="t" style="left:287.80px;top:545.00px;font-size:24px;font-family:'Liberation Sans',sans-serif;font-weight:700;font-style:normal;">0.5</span>
<span class="t" style="left:505.70px;top:620.20px;font-size:24px;font-family:'Liberation Sans',sans-serif;font-weight:700;font-style:normal;">0.0</span>
<span class="t" style="left:613.50px;top:580.90px;font-size:24px;font-family:'Liberation Sans',sans-serif;font-weight:700;font-style:normal;">50</span>
<span class="t" style="left:705.40px;top:539.50px;font-size:24px;font-family:'Liberation Sans',sans-serif;font-weight:700;font-style:normal;">100</span>
<span class="t" style="left:801.60px;top:496.90px;font-size:24px;font-family:'Liberation Sans',sans-serif;font-weight:700;font-style:normal;">150</span>
<span class="t" style="left:898.60px;top:455.50px;font-size:24px;font-family:'Liberation Sans',sans-serif;font-weight:700;font-style:normal;">200</span>
<span class="t" style="left:970.80px;top:202.90px;font-size:16.3px;font-family:'Liberation Sans',sans-serif;font-weight:700;font-style:normal;">20</span>
<span class="t" style="left:971.60px;top:258.90px;font-size:16.3px;font-family:'Liberation Sans',sans-serif;font-weight:700;font-style:normal;">15</span>
<span class="t" style="left:972.60px;top:314.80px;font-size:16.3px;font-family:'Liberation Sans',sans-serif;font-weight:700;font-style:normal;">10</span>
<span class="t" style="left:975.50px;top:371.30px;font-size:16.3px;font-family:'Liberation Sans',sans-serif;font-weight:700;font-style:normal;">5</span>
<span class="t" style="left:975.50px;top:426.60px;font-size:16.3px;font-family:'Liberation Sans',sans-serif;font-weight:700;font-style:normal;">0</span></div>
</body></html>
